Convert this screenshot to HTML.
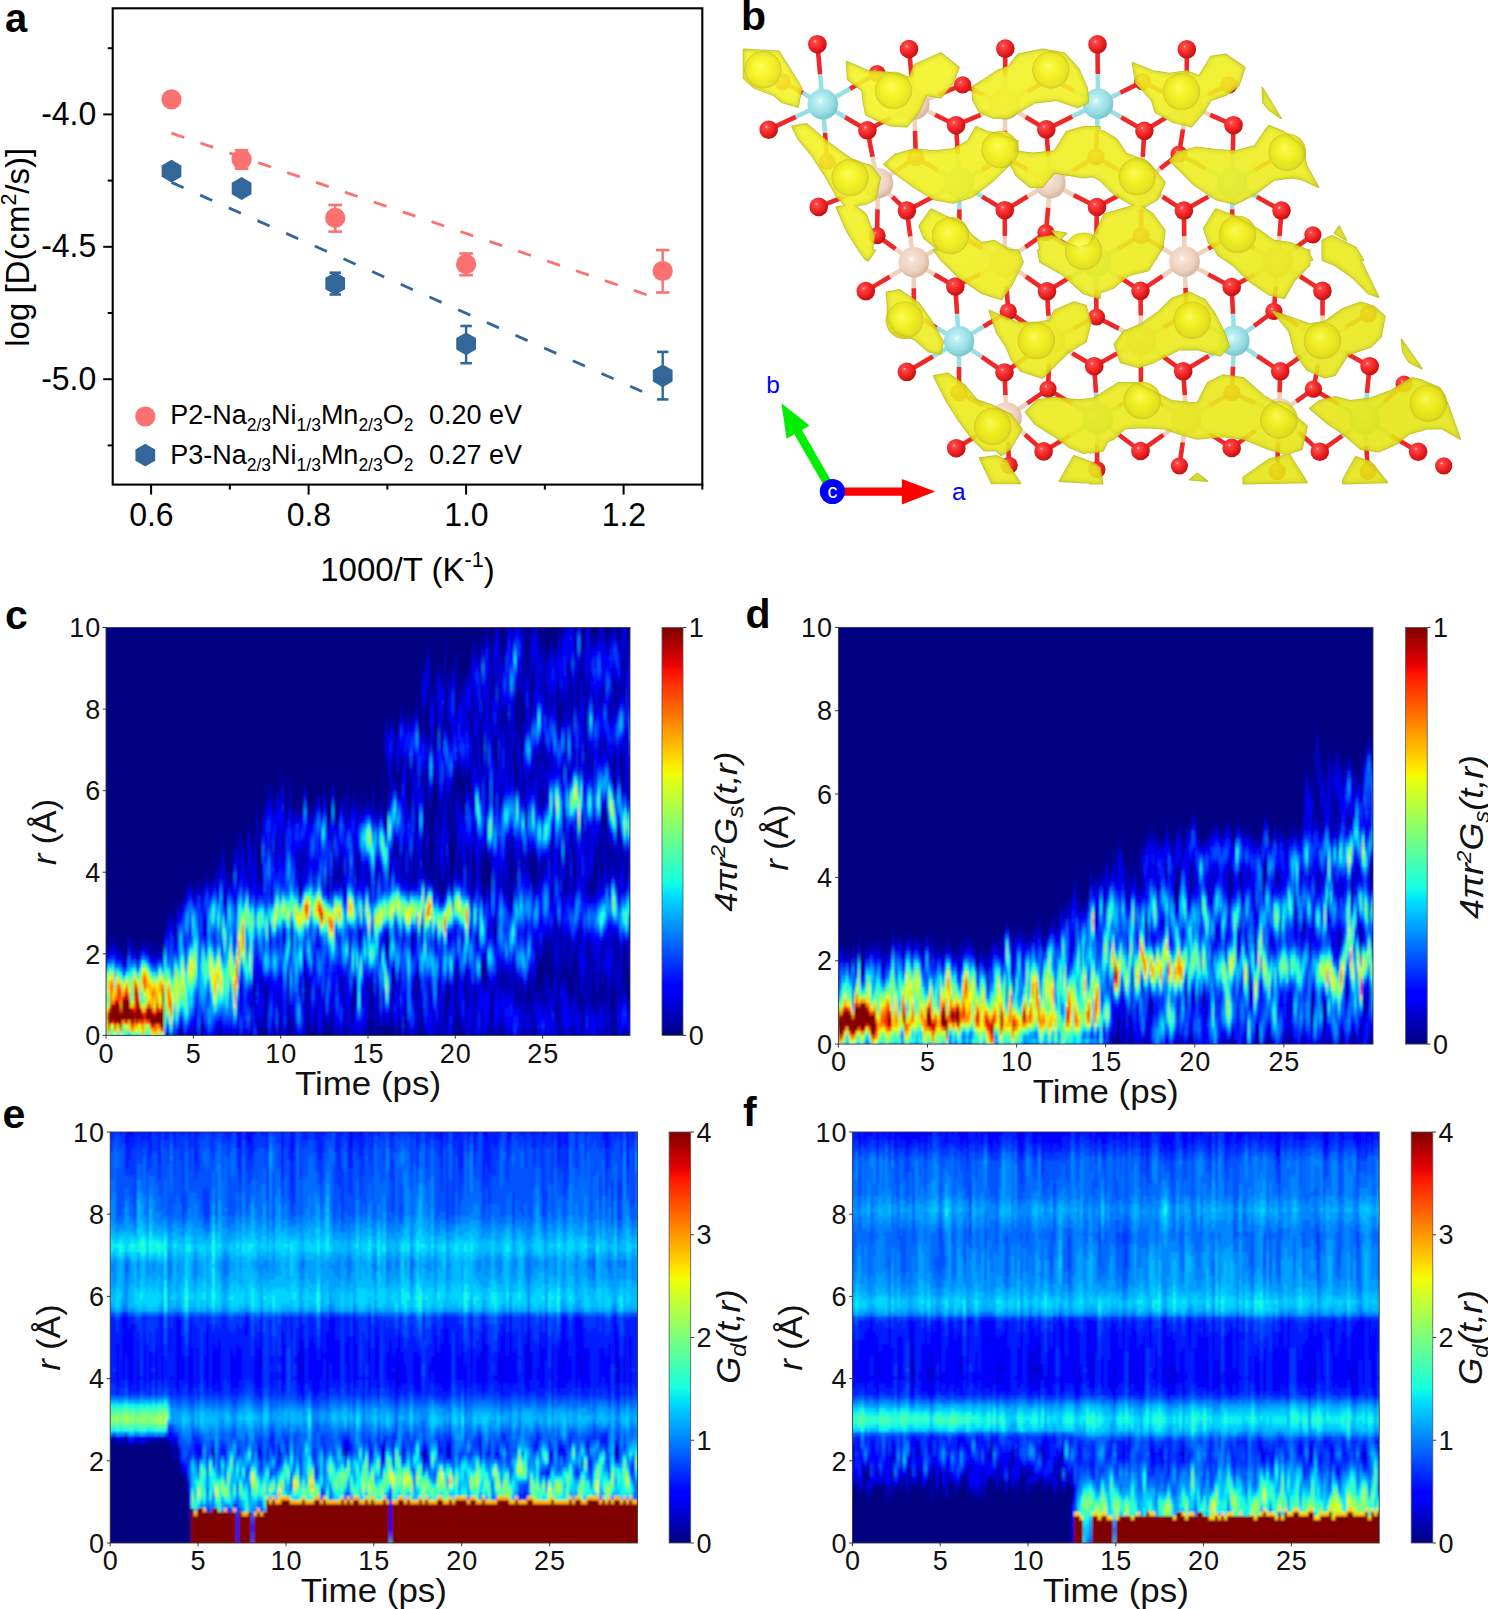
<!DOCTYPE html>
<html><head><meta charset="utf-8"><title>figure</title>
<style>
html,body{margin:0;padding:0;background:#fff;}
body{width:1488px;height:1609px;overflow:hidden;}
svg{display:block;font-family:"Liberation Sans", sans-serif;}
</style></head>
<body>
<svg width="1488" height="1609" viewBox="0 0 1488 1609">
<rect width="1488" height="1609" fill="#fff"/>
<g id="pa"><line x1="171.5" y1="133.2" x2="646.6" y2="294.8" stroke="#fb7170" stroke-width="2.8" stroke-dasharray="13.5 17.02"/><line x1="171.5" y1="182.4" x2="642.1" y2="391.5" stroke="#336699" stroke-width="2.8" stroke-dasharray="13.2 18.17"/><circle cx="171.5" cy="99.4" r="10.1" fill="#fb7170"/><line x1="241.6" y1="150.2" x2="241.6" y2="168.7" stroke="#fb7170" stroke-width="2.4"/><line x1="234.79999999999998" y1="150.2" x2="248.4" y2="150.2" stroke="#fb7170" stroke-width="2.6"/><line x1="234.79999999999998" y1="168.7" x2="248.4" y2="168.7" stroke="#fb7170" stroke-width="2.6"/><circle cx="241.6" cy="159.4" r="10.1" fill="#fb7170"/><line x1="335.2" y1="205.0" x2="335.2" y2="231.6" stroke="#fb7170" stroke-width="2.4"/><line x1="328.4" y1="205.0" x2="342.0" y2="205.0" stroke="#fb7170" stroke-width="2.6"/><line x1="328.4" y1="231.6" x2="342.0" y2="231.6" stroke="#fb7170" stroke-width="2.6"/><circle cx="335.2" cy="217.9" r="10.1" fill="#fb7170"/><line x1="466.1" y1="253.5" x2="466.1" y2="275.2" stroke="#fb7170" stroke-width="2.4"/><line x1="459.3" y1="253.5" x2="472.90000000000003" y2="253.5" stroke="#fb7170" stroke-width="2.6"/><line x1="459.3" y1="275.2" x2="472.90000000000003" y2="275.2" stroke="#fb7170" stroke-width="2.6"/><circle cx="466.1" cy="264.2" r="10.1" fill="#fb7170"/><line x1="662.7" y1="250.1" x2="662.7" y2="292.5" stroke="#fb7170" stroke-width="2.4"/><line x1="655.9000000000001" y1="250.1" x2="669.5" y2="250.1" stroke="#fb7170" stroke-width="2.6"/><line x1="655.9000000000001" y1="292.5" x2="669.5" y2="292.5" stroke="#fb7170" stroke-width="2.6"/><circle cx="662.7" cy="271.0" r="10.1" fill="#fb7170"/><polygon points="171.50,159.70 161.63,165.40 161.63,176.80 171.50,182.50 181.37,176.80 181.37,165.40" fill="#336699"/><polygon points="241.60,177.10 231.73,182.80 231.73,194.20 241.60,199.90 251.47,194.20 251.47,182.80" fill="#336699"/><line x1="335.2" y1="272.7" x2="335.2" y2="294.5" stroke="#336699" stroke-width="2.4"/><line x1="329.45" y1="272.7" x2="340.95" y2="272.7" stroke="#336699" stroke-width="2.6"/><line x1="329.45" y1="294.5" x2="340.95" y2="294.5" stroke="#336699" stroke-width="2.6"/><polygon points="335.20,272.10 325.33,277.80 325.33,289.20 335.20,294.90 345.07,289.20 345.07,277.80" fill="#336699"/><line x1="466.1" y1="326.0" x2="466.1" y2="363.2" stroke="#336699" stroke-width="2.4"/><line x1="460.35" y1="326.0" x2="471.85" y2="326.0" stroke="#336699" stroke-width="2.6"/><line x1="460.35" y1="363.2" x2="471.85" y2="363.2" stroke="#336699" stroke-width="2.6"/><polygon points="466.10,332.40 456.23,338.10 456.23,349.50 466.10,355.20 475.97,349.50 475.97,338.10" fill="#336699"/><line x1="662.7" y1="351.9" x2="662.7" y2="399.4" stroke="#336699" stroke-width="2.4"/><line x1="656.95" y1="351.9" x2="668.45" y2="351.9" stroke="#336699" stroke-width="2.6"/><line x1="656.95" y1="399.4" x2="668.45" y2="399.4" stroke="#336699" stroke-width="2.6"/><polygon points="662.70,364.40 652.83,370.10 652.83,381.50 662.70,387.20 672.57,381.50 672.57,370.10" fill="#336699"/><rect x="112.7" y="8.3" width="589.5999999999999" height="476.3" fill="none" stroke="#000" stroke-width="2.1"/><line x1="107.7" y1="48.20" x2="112.7" y2="48.20" stroke="#000" stroke-width="2"/><line x1="103.2" y1="114.40" x2="112.7" y2="114.40" stroke="#000" stroke-width="2"/><text transform="translate(96.3,125.00) scale(1,1.05)" font-size="32" text-anchor="end">-4.0</text><line x1="107.7" y1="180.60" x2="112.7" y2="180.60" stroke="#000" stroke-width="2"/><line x1="103.2" y1="246.80" x2="112.7" y2="246.80" stroke="#000" stroke-width="2"/><text transform="translate(96.3,257.40) scale(1,1.05)" font-size="32" text-anchor="end">-4.5</text><line x1="107.7" y1="313.00" x2="112.7" y2="313.00" stroke="#000" stroke-width="2"/><line x1="103.2" y1="379.20" x2="112.7" y2="379.20" stroke="#000" stroke-width="2"/><text transform="translate(96.3,389.80) scale(1,1.05)" font-size="32" text-anchor="end">-5.0</text><line x1="107.7" y1="445.40" x2="112.7" y2="445.40" stroke="#000" stroke-width="2"/><line x1="151.10" y1="484.6" x2="151.10" y2="494.6" stroke="#000" stroke-width="2"/><text transform="translate(151.40,525.9) scale(1,1.04)" font-size="32" text-anchor="middle">0.6</text><line x1="229.85" y1="484.6" x2="229.85" y2="489.6" stroke="#000" stroke-width="2"/><line x1="308.60" y1="484.6" x2="308.60" y2="494.6" stroke="#000" stroke-width="2"/><text transform="translate(308.90,525.9) scale(1,1.04)" font-size="32" text-anchor="middle">0.8</text><line x1="387.35" y1="484.6" x2="387.35" y2="489.6" stroke="#000" stroke-width="2"/><line x1="466.10" y1="484.6" x2="466.10" y2="494.6" stroke="#000" stroke-width="2"/><text transform="translate(466.40,525.9) scale(1,1.04)" font-size="32" text-anchor="middle">1.0</text><line x1="544.85" y1="484.6" x2="544.85" y2="489.6" stroke="#000" stroke-width="2"/><line x1="623.60" y1="484.6" x2="623.60" y2="494.6" stroke="#000" stroke-width="2"/><text transform="translate(623.90,525.9) scale(1,1.04)" font-size="32" text-anchor="middle">1.2</text><line x1="702.35" y1="484.6" x2="702.35" y2="489.6" stroke="#000" stroke-width="2"/><text x="320.2" y="581" font-size="33">1000/T (K<tspan dy="-13.6" font-size="21.5">-1</tspan><tspan dy="13.6">)</tspan></text><text transform="translate(29.3,346.8) rotate(-90)" font-size="33">log [D(cm<tspan dy="-13.6" font-size="21.5">2</tspan><tspan dy="13.6">/s)]</tspan></text><circle cx="145.3" cy="416.5" r="10.1" fill="#fb7170"/><polygon points="145.30,443.70 135.43,449.40 135.43,460.80 145.30,466.50 155.17,460.80 155.17,449.40" fill="#336699"/><text x="170.2" y="424.4" font-size="27">P2-Na<tspan font-size="17.5" dy="7">2/3</tspan><tspan dy="-7">Ni</tspan><tspan font-size="17.5" dy="7">1/3</tspan><tspan dy="-7">Mn</tspan><tspan font-size="17.5" dy="7">2/3</tspan><tspan dy="-7">O</tspan><tspan font-size="17.5" dy="7">2</tspan></text><text x="429" y="424.4" font-size="27">0.20 eV</text><text x="170.2" y="464.0" font-size="27">P3-Na<tspan font-size="17.5" dy="7">2/3</tspan><tspan dy="-7">Ni</tspan><tspan font-size="17.5" dy="7">1/3</tspan><tspan dy="-7">Mn</tspan><tspan font-size="17.5" dy="7">2/3</tspan><tspan dy="-7">O</tspan><tspan font-size="17.5" dy="7">2</tspan></text><text x="429" y="464.0" font-size="27">0.27 eV</text><text x="5" y="31.5" font-size="40" font-weight="bold">a</text></g><defs><radialGradient id="gO" cx="0.38" cy="0.35" r="0.7"><stop offset="0" stop-color="#ffd0d0"/><stop offset="0.12" stop-color="#ff4a4a"/><stop offset="0.6" stop-color="#ee2020"/><stop offset="1" stop-color="#b81010"/></radialGradient><radialGradient id="gNi" cx="0.42" cy="0.4" r="0.7"><stop offset="0" stop-color="#ffffff"/><stop offset="0.15" stop-color="#bdf2f5"/><stop offset="0.6" stop-color="#96dde3"/><stop offset="1" stop-color="#6cb8c0"/></radialGradient><radialGradient id="gMn" cx="0.42" cy="0.4" r="0.7"><stop offset="0" stop-color="#ffffff"/><stop offset="0.15" stop-color="#f6e2d4"/><stop offset="0.6" stop-color="#ecd0bd"/><stop offset="1" stop-color="#c8a892"/></radialGradient><radialGradient id="gNa" cx="0.45" cy="0.4" r="0.65"><stop offset="0" stop-color="#ffff60"/><stop offset="0.55" stop-color="#f4ee30"/><stop offset="1" stop-color="#d8cc40"/></radialGradient><radialGradient id="gNa2" cx="0.5" cy="0.5" r="0.5" fx="0.42" fy="0.38"><stop offset="0" stop-color="#ffff80" stop-opacity="0.7"/><stop offset="0.45" stop-color="#fafa30" stop-opacity="0.35"/><stop offset="0.85" stop-color="#d6d020" stop-opacity="0.35"/><stop offset="0.97" stop-color="#c0b430" stop-opacity="0.55"/><stop offset="1" stop-color="#c0b430" stop-opacity="0"/></radialGradient><linearGradient id="gY" x1="0" y1="0" x2="1" y2="1"><stop offset="0" stop-color="#f6f62a"/><stop offset="1" stop-color="#e4e416"/></linearGradient><clipPath id="clipB"><rect x="736" y="30" width="752" height="462"/></clipPath></defs><g clip-path="url(#clipB)"><g stroke-width="4.6"><line x1="822.8" y1="104.2" x2="820.1" y2="74.2" stroke="#9adfe4"/><line x1="820.1" y1="74.2" x2="817.4" y2="44.2" stroke="#ee2828"/><line x1="822.8" y1="104.2" x2="845.1" y2="117.2" stroke="#9adfe4"/><line x1="845.1" y1="117.2" x2="867.4" y2="130.3" stroke="#ee2828"/><line x1="822.8" y1="104.2" x2="795.8" y2="116.9" stroke="#9adfe4"/><line x1="795.8" y1="116.9" x2="768.7" y2="129.7" stroke="#ee2828"/><line x1="822.8" y1="104.2" x2="850.0" y2="88.8" stroke="#9adfe4"/><line x1="850.0" y1="88.8" x2="877.1" y2="73.5" stroke="#ee2828"/><line x1="822.8" y1="104.2" x2="802.8" y2="92.9" stroke="#9adfe4"/><line x1="802.8" y1="92.9" x2="782.7" y2="81.6" stroke="#ee2828"/><line x1="822.8" y1="104.2" x2="825.0" y2="132.8" stroke="#9adfe4"/><line x1="825.0" y1="132.8" x2="827.1" y2="161.5" stroke="#ee2828"/><line x1="877.9" y1="183.2" x2="872.6" y2="156.8" stroke="#f0d2bc"/><line x1="872.6" y1="156.8" x2="867.4" y2="130.3" stroke="#ee2828"/><line x1="877.9" y1="183.2" x2="892.4" y2="196.9" stroke="#f0d2bc"/><line x1="892.4" y1="196.9" x2="906.9" y2="210.6" stroke="#ee2828"/><line x1="877.9" y1="183.2" x2="848.3" y2="195.1" stroke="#f0d2bc"/><line x1="848.3" y1="195.1" x2="818.7" y2="206.9" stroke="#ee2828"/><line x1="877.9" y1="183.2" x2="896.8" y2="170.3" stroke="#f0d2bc"/><line x1="896.8" y1="170.3" x2="915.8" y2="157.4" stroke="#ee2828"/><line x1="877.9" y1="183.2" x2="852.5" y2="172.3" stroke="#f0d2bc"/><line x1="852.5" y1="172.3" x2="827.1" y2="161.5" stroke="#ee2828"/><line x1="877.9" y1="183.2" x2="877.5" y2="209.4" stroke="#f0d2bc"/><line x1="877.5" y1="209.4" x2="877.1" y2="235.6" stroke="#ee2828"/><line x1="913.8" y1="262.3" x2="910.3" y2="236.4" stroke="#f0d2bc"/><line x1="910.3" y1="236.4" x2="906.9" y2="210.6" stroke="#ee2828"/><line x1="913.8" y1="262.3" x2="934.5" y2="274.4" stroke="#f0d2bc"/><line x1="934.5" y1="274.4" x2="955.3" y2="286.5" stroke="#ee2828"/><line x1="913.8" y1="262.3" x2="889.8" y2="276.7" stroke="#f0d2bc"/><line x1="889.8" y1="276.7" x2="865.8" y2="291.1" stroke="#ee2828"/><line x1="913.8" y1="262.3" x2="936.6" y2="248.9" stroke="#f0d2bc"/><line x1="936.6" y1="248.9" x2="959.4" y2="235.5" stroke="#ee2828"/><line x1="913.8" y1="262.3" x2="895.5" y2="248.9" stroke="#f0d2bc"/><line x1="895.5" y1="248.9" x2="877.1" y2="235.6" stroke="#ee2828"/><line x1="913.8" y1="262.3" x2="913.8" y2="288.2" stroke="#f0d2bc"/><line x1="913.8" y1="288.2" x2="913.8" y2="314.1" stroke="#ee2828"/><line x1="959.0" y1="341.3" x2="957.1" y2="313.9" stroke="#9adfe4"/><line x1="957.1" y1="313.9" x2="955.3" y2="286.5" stroke="#ee2828"/><line x1="959.0" y1="341.3" x2="981.8" y2="356.9" stroke="#9adfe4"/><line x1="981.8" y1="356.9" x2="1004.5" y2="372.5" stroke="#ee2828"/><line x1="959.0" y1="341.3" x2="932.9" y2="356.6" stroke="#9adfe4"/><line x1="932.9" y1="356.6" x2="906.8" y2="371.8" stroke="#ee2828"/><line x1="959.0" y1="341.3" x2="983.6" y2="326.5" stroke="#9adfe4"/><line x1="983.6" y1="326.5" x2="1008.3" y2="311.6" stroke="#ee2828"/><line x1="959.0" y1="341.3" x2="936.4" y2="327.7" stroke="#9adfe4"/><line x1="936.4" y1="327.7" x2="913.8" y2="314.1" stroke="#ee2828"/><line x1="959.0" y1="341.3" x2="959.0" y2="367.0" stroke="#9adfe4"/><line x1="959.0" y1="367.0" x2="959.1" y2="392.7" stroke="#ee2828"/><line x1="1006.5" y1="417.6" x2="1005.5" y2="395.1" stroke="#f0d2bc"/><line x1="1005.5" y1="395.1" x2="1004.5" y2="372.5" stroke="#ee2828"/><line x1="1006.5" y1="417.6" x2="1025.0" y2="434.5" stroke="#f0d2bc"/><line x1="1025.0" y1="434.5" x2="1043.6" y2="451.4" stroke="#ee2828"/><line x1="1006.5" y1="417.6" x2="981.4" y2="432.9" stroke="#f0d2bc"/><line x1="981.4" y1="432.9" x2="956.3" y2="448.2" stroke="#ee2828"/><line x1="1006.5" y1="417.6" x2="1027.2" y2="403.4" stroke="#f0d2bc"/><line x1="1027.2" y1="403.4" x2="1048.0" y2="389.1" stroke="#ee2828"/><line x1="1006.5" y1="417.6" x2="982.8" y2="405.1" stroke="#f0d2bc"/><line x1="982.8" y1="405.1" x2="959.1" y2="392.7" stroke="#ee2828"/><line x1="1006.5" y1="417.6" x2="1007.9" y2="441.5" stroke="#f0d2bc"/><line x1="1007.9" y1="441.5" x2="1009.2" y2="465.3" stroke="#ee2828"/><line x1="914.2" y1="104.5" x2="911.6" y2="76.8" stroke="#f0d2bc"/><line x1="911.6" y1="76.8" x2="909.0" y2="49.0" stroke="#ee2828"/><line x1="914.2" y1="104.5" x2="935.1" y2="114.8" stroke="#f0d2bc"/><line x1="935.1" y1="114.8" x2="956.1" y2="125.2" stroke="#ee2828"/><line x1="914.2" y1="104.5" x2="890.8" y2="117.4" stroke="#f0d2bc"/><line x1="890.8" y1="117.4" x2="867.4" y2="130.3" stroke="#ee2828"/><line x1="914.2" y1="104.5" x2="938.4" y2="94.7" stroke="#f0d2bc"/><line x1="938.4" y1="94.7" x2="962.6" y2="84.8" stroke="#ee2828"/><line x1="914.2" y1="104.5" x2="895.6" y2="89.0" stroke="#f0d2bc"/><line x1="895.6" y1="89.0" x2="877.1" y2="73.5" stroke="#ee2828"/><line x1="914.2" y1="104.5" x2="915.0" y2="130.9" stroke="#f0d2bc"/><line x1="915.0" y1="130.9" x2="915.8" y2="157.4" stroke="#ee2828"/><line x1="959.5" y1="183.1" x2="957.8" y2="154.2" stroke="#9adfe4"/><line x1="957.8" y1="154.2" x2="956.1" y2="125.2" stroke="#ee2828"/><line x1="959.5" y1="183.1" x2="982.1" y2="196.6" stroke="#9adfe4"/><line x1="982.1" y1="196.6" x2="1004.8" y2="210.2" stroke="#ee2828"/><line x1="959.5" y1="183.1" x2="933.2" y2="196.8" stroke="#9adfe4"/><line x1="933.2" y1="196.8" x2="906.9" y2="210.6" stroke="#ee2828"/><line x1="959.5" y1="183.1" x2="982.2" y2="170.0" stroke="#9adfe4"/><line x1="982.2" y1="170.0" x2="1005.0" y2="156.9" stroke="#ee2828"/><line x1="959.5" y1="183.1" x2="937.6" y2="170.2" stroke="#9adfe4"/><line x1="937.6" y1="170.2" x2="915.8" y2="157.4" stroke="#ee2828"/><line x1="959.5" y1="183.1" x2="959.4" y2="209.3" stroke="#9adfe4"/><line x1="959.4" y1="209.3" x2="959.4" y2="235.5" stroke="#ee2828"/><line x1="1004.8" y1="261.7" x2="1004.8" y2="235.9" stroke="#f0d2bc"/><line x1="1004.8" y1="235.9" x2="1004.8" y2="210.2" stroke="#ee2828"/><line x1="1004.8" y1="261.7" x2="1025.9" y2="276.5" stroke="#f0d2bc"/><line x1="1025.9" y1="276.5" x2="1047.0" y2="291.3" stroke="#ee2828"/><line x1="1004.8" y1="261.7" x2="980.0" y2="274.1" stroke="#f0d2bc"/><line x1="980.0" y1="274.1" x2="955.3" y2="286.5" stroke="#ee2828"/><line x1="1004.8" y1="261.7" x2="1025.3" y2="247.1" stroke="#f0d2bc"/><line x1="1025.3" y1="247.1" x2="1045.9" y2="232.6" stroke="#ee2828"/><line x1="1004.8" y1="261.7" x2="982.1" y2="248.6" stroke="#f0d2bc"/><line x1="982.1" y1="248.6" x2="959.4" y2="235.5" stroke="#ee2828"/><line x1="1004.8" y1="261.7" x2="1006.5" y2="286.6" stroke="#f0d2bc"/><line x1="1006.5" y1="286.6" x2="1008.3" y2="311.6" stroke="#ee2828"/><line x1="1050.1" y1="340.3" x2="1048.5" y2="315.8" stroke="#f0d2bc"/><line x1="1048.5" y1="315.8" x2="1047.0" y2="291.3" stroke="#ee2828"/><line x1="1050.1" y1="340.3" x2="1072.2" y2="353.2" stroke="#f0d2bc"/><line x1="1072.2" y1="353.2" x2="1094.2" y2="366.2" stroke="#ee2828"/><line x1="1050.1" y1="340.3" x2="1027.3" y2="356.4" stroke="#f0d2bc"/><line x1="1027.3" y1="356.4" x2="1004.5" y2="372.5" stroke="#ee2828"/><line x1="1050.1" y1="340.3" x2="1073.3" y2="328.6" stroke="#f0d2bc"/><line x1="1073.3" y1="328.6" x2="1096.5" y2="317.0" stroke="#ee2828"/><line x1="1050.1" y1="340.3" x2="1029.2" y2="325.9" stroke="#f0d2bc"/><line x1="1029.2" y1="325.9" x2="1008.3" y2="311.6" stroke="#ee2828"/><line x1="1050.1" y1="340.3" x2="1049.0" y2="364.7" stroke="#f0d2bc"/><line x1="1049.0" y1="364.7" x2="1048.0" y2="389.1" stroke="#ee2828"/><line x1="1097.7" y1="419.0" x2="1096.0" y2="392.6" stroke="#9adfe4"/><line x1="1096.0" y1="392.6" x2="1094.2" y2="366.2" stroke="#ee2828"/><line x1="1097.7" y1="419.0" x2="1119.1" y2="435.0" stroke="#9adfe4"/><line x1="1119.1" y1="435.0" x2="1140.5" y2="451.0" stroke="#ee2828"/><line x1="1097.7" y1="419.0" x2="1070.7" y2="435.2" stroke="#9adfe4"/><line x1="1070.7" y1="435.2" x2="1043.6" y2="451.4" stroke="#ee2828"/><line x1="1097.7" y1="419.0" x2="1119.3" y2="405.9" stroke="#9adfe4"/><line x1="1119.3" y1="405.9" x2="1140.9" y2="392.7" stroke="#ee2828"/><line x1="1097.7" y1="419.0" x2="1072.8" y2="404.1" stroke="#9adfe4"/><line x1="1072.8" y1="404.1" x2="1048.0" y2="389.1" stroke="#ee2828"/><line x1="1097.7" y1="419.0" x2="1097.3" y2="444.3" stroke="#9adfe4"/><line x1="1097.3" y1="444.3" x2="1096.9" y2="469.6" stroke="#ee2828"/><line x1="1005.1" y1="104.5" x2="1005.2" y2="76.5" stroke="#f0d2bc"/><line x1="1005.2" y1="76.5" x2="1005.3" y2="48.6" stroke="#ee2828"/><line x1="1005.1" y1="104.5" x2="1025.7" y2="117.0" stroke="#f0d2bc"/><line x1="1025.7" y1="117.0" x2="1046.3" y2="129.4" stroke="#ee2828"/><line x1="1005.1" y1="104.5" x2="980.6" y2="114.8" stroke="#f0d2bc"/><line x1="980.6" y1="114.8" x2="956.1" y2="125.2" stroke="#ee2828"/><line x1="1005.1" y1="104.5" x2="1027.8" y2="91.4" stroke="#f0d2bc"/><line x1="1027.8" y1="91.4" x2="1050.6" y2="78.3" stroke="#ee2828"/><line x1="1005.1" y1="104.5" x2="983.8" y2="94.7" stroke="#f0d2bc"/><line x1="983.8" y1="94.7" x2="962.6" y2="84.8" stroke="#ee2828"/><line x1="1005.1" y1="104.5" x2="1005.0" y2="130.7" stroke="#f0d2bc"/><line x1="1005.0" y1="130.7" x2="1005.0" y2="156.9" stroke="#ee2828"/><line x1="1050.4" y1="183.1" x2="1048.3" y2="156.2" stroke="#f0d2bc"/><line x1="1048.3" y1="156.2" x2="1046.3" y2="129.4" stroke="#ee2828"/><line x1="1050.4" y1="183.1" x2="1073.7" y2="195.1" stroke="#f0d2bc"/><line x1="1073.7" y1="195.1" x2="1097.0" y2="207.0" stroke="#ee2828"/><line x1="1050.4" y1="183.1" x2="1027.6" y2="196.6" stroke="#f0d2bc"/><line x1="1027.6" y1="196.6" x2="1004.8" y2="210.2" stroke="#ee2828"/><line x1="1050.4" y1="183.1" x2="1073.2" y2="170.0" stroke="#f0d2bc"/><line x1="1073.2" y1="170.0" x2="1095.9" y2="156.9" stroke="#ee2828"/><line x1="1050.4" y1="183.1" x2="1027.7" y2="170.0" stroke="#f0d2bc"/><line x1="1027.7" y1="170.0" x2="1005.0" y2="156.9" stroke="#ee2828"/><line x1="1050.4" y1="183.1" x2="1048.2" y2="207.8" stroke="#f0d2bc"/><line x1="1048.2" y1="207.8" x2="1045.9" y2="232.6" stroke="#ee2828"/><line x1="1095.7" y1="261.7" x2="1096.3" y2="234.3" stroke="#9adfe4"/><line x1="1096.3" y1="234.3" x2="1097.0" y2="207.0" stroke="#ee2828"/><line x1="1095.7" y1="261.7" x2="1118.1" y2="276.2" stroke="#9adfe4"/><line x1="1118.1" y1="276.2" x2="1140.5" y2="290.8" stroke="#ee2828"/><line x1="1095.7" y1="261.7" x2="1071.3" y2="276.5" stroke="#9adfe4"/><line x1="1071.3" y1="276.5" x2="1047.0" y2="291.3" stroke="#ee2828"/><line x1="1095.7" y1="261.7" x2="1118.4" y2="248.6" stroke="#9adfe4"/><line x1="1118.4" y1="248.6" x2="1141.2" y2="235.5" stroke="#ee2828"/><line x1="1095.7" y1="261.7" x2="1070.8" y2="247.1" stroke="#9adfe4"/><line x1="1070.8" y1="247.1" x2="1045.9" y2="232.6" stroke="#ee2828"/><line x1="1095.7" y1="261.7" x2="1096.1" y2="289.4" stroke="#9adfe4"/><line x1="1096.1" y1="289.4" x2="1096.5" y2="317.0" stroke="#ee2828"/><line x1="1141.0" y1="340.3" x2="1140.8" y2="315.5" stroke="#f0d2bc"/><line x1="1140.8" y1="315.5" x2="1140.5" y2="290.8" stroke="#ee2828"/><line x1="1141.0" y1="340.3" x2="1162.1" y2="355.8" stroke="#f0d2bc"/><line x1="1162.1" y1="355.8" x2="1183.2" y2="371.3" stroke="#ee2828"/><line x1="1141.0" y1="340.3" x2="1117.6" y2="353.2" stroke="#f0d2bc"/><line x1="1117.6" y1="353.2" x2="1094.2" y2="366.2" stroke="#ee2828"/><line x1="1141.0" y1="340.3" x2="1163.8" y2="327.2" stroke="#f0d2bc"/><line x1="1163.8" y1="327.2" x2="1186.5" y2="314.1" stroke="#ee2828"/><line x1="1141.0" y1="340.3" x2="1118.8" y2="328.6" stroke="#f0d2bc"/><line x1="1118.8" y1="328.6" x2="1096.5" y2="317.0" stroke="#ee2828"/><line x1="1141.0" y1="340.3" x2="1140.9" y2="366.5" stroke="#f0d2bc"/><line x1="1140.9" y1="366.5" x2="1140.9" y2="392.7" stroke="#ee2828"/><line x1="1186.3" y1="418.9" x2="1184.8" y2="395.1" stroke="#f0d2bc"/><line x1="1184.8" y1="395.1" x2="1183.2" y2="371.3" stroke="#ee2828"/><line x1="1186.3" y1="418.9" x2="1209.0" y2="433.4" stroke="#f0d2bc"/><line x1="1209.0" y1="433.4" x2="1231.7" y2="447.9" stroke="#ee2828"/><line x1="1186.3" y1="418.9" x2="1163.4" y2="434.9" stroke="#f0d2bc"/><line x1="1163.4" y1="434.9" x2="1140.5" y2="451.0" stroke="#ee2828"/><line x1="1186.3" y1="418.9" x2="1209.0" y2="405.8" stroke="#f0d2bc"/><line x1="1209.0" y1="405.8" x2="1231.8" y2="392.7" stroke="#ee2828"/><line x1="1186.3" y1="418.9" x2="1163.6" y2="405.8" stroke="#f0d2bc"/><line x1="1163.6" y1="405.8" x2="1140.9" y2="392.7" stroke="#ee2828"/><line x1="1186.3" y1="418.9" x2="1182.8" y2="442.4" stroke="#f0d2bc"/><line x1="1182.8" y1="442.4" x2="1179.4" y2="465.8" stroke="#ee2828"/><line x1="1098.0" y1="103.8" x2="1097.8" y2="74.1" stroke="#9adfe4"/><line x1="1097.8" y1="74.1" x2="1097.5" y2="44.4" stroke="#ee2828"/><line x1="1098.0" y1="103.8" x2="1121.2" y2="117.3" stroke="#9adfe4"/><line x1="1121.2" y1="117.3" x2="1144.4" y2="130.8" stroke="#ee2828"/><line x1="1098.0" y1="103.8" x2="1072.2" y2="116.6" stroke="#9adfe4"/><line x1="1072.2" y1="116.6" x2="1046.3" y2="129.4" stroke="#ee2828"/><line x1="1098.0" y1="103.8" x2="1120.3" y2="92.7" stroke="#9adfe4"/><line x1="1120.3" y1="92.7" x2="1142.7" y2="81.6" stroke="#ee2828"/><line x1="1098.0" y1="103.8" x2="1074.3" y2="91.0" stroke="#9adfe4"/><line x1="1074.3" y1="91.0" x2="1050.6" y2="78.3" stroke="#ee2828"/><line x1="1098.0" y1="103.8" x2="1097.0" y2="130.3" stroke="#9adfe4"/><line x1="1097.0" y1="130.3" x2="1095.9" y2="156.9" stroke="#ee2828"/><line x1="1141.3" y1="183.1" x2="1142.8" y2="156.9" stroke="#f0d2bc"/><line x1="1142.8" y1="156.9" x2="1144.4" y2="130.8" stroke="#ee2828"/><line x1="1141.3" y1="183.1" x2="1162.6" y2="196.8" stroke="#f0d2bc"/><line x1="1162.6" y1="196.8" x2="1183.9" y2="210.6" stroke="#ee2828"/><line x1="1141.3" y1="183.1" x2="1119.2" y2="195.1" stroke="#f0d2bc"/><line x1="1119.2" y1="195.1" x2="1097.0" y2="207.0" stroke="#ee2828"/><line x1="1141.3" y1="183.1" x2="1160.2" y2="168.6" stroke="#f0d2bc"/><line x1="1160.2" y1="168.6" x2="1179.0" y2="154.2" stroke="#ee2828"/><line x1="1141.3" y1="183.1" x2="1118.6" y2="170.0" stroke="#f0d2bc"/><line x1="1118.6" y1="170.0" x2="1095.9" y2="156.9" stroke="#ee2828"/><line x1="1141.3" y1="183.1" x2="1141.2" y2="209.3" stroke="#f0d2bc"/><line x1="1141.2" y1="209.3" x2="1141.2" y2="235.5" stroke="#ee2828"/><line x1="1184.5" y1="261.5" x2="1184.2" y2="236.1" stroke="#f0d2bc"/><line x1="1184.2" y1="236.1" x2="1183.9" y2="210.6" stroke="#ee2828"/><line x1="1184.5" y1="261.5" x2="1208.1" y2="274.2" stroke="#f0d2bc"/><line x1="1208.1" y1="274.2" x2="1231.7" y2="287.0" stroke="#ee2828"/><line x1="1184.5" y1="261.5" x2="1162.5" y2="276.1" stroke="#f0d2bc"/><line x1="1162.5" y1="276.1" x2="1140.5" y2="290.8" stroke="#ee2828"/><line x1="1184.5" y1="261.5" x2="1208.3" y2="248.5" stroke="#f0d2bc"/><line x1="1208.3" y1="248.5" x2="1232.1" y2="235.5" stroke="#ee2828"/><line x1="1184.5" y1="261.5" x2="1162.8" y2="248.5" stroke="#f0d2bc"/><line x1="1162.8" y1="248.5" x2="1141.2" y2="235.5" stroke="#ee2828"/><line x1="1184.5" y1="261.5" x2="1185.5" y2="287.8" stroke="#f0d2bc"/><line x1="1185.5" y1="287.8" x2="1186.5" y2="314.1" stroke="#ee2828"/><line x1="1234.3" y1="340.7" x2="1233.0" y2="313.9" stroke="#9adfe4"/><line x1="1233.0" y1="313.9" x2="1231.7" y2="287.0" stroke="#ee2828"/><line x1="1234.3" y1="340.7" x2="1257.2" y2="356.0" stroke="#9adfe4"/><line x1="1257.2" y1="356.0" x2="1280.2" y2="371.3" stroke="#ee2828"/><line x1="1234.3" y1="340.7" x2="1208.8" y2="356.0" stroke="#9adfe4"/><line x1="1208.8" y1="356.0" x2="1183.2" y2="371.3" stroke="#ee2828"/><line x1="1234.3" y1="340.7" x2="1254.1" y2="326.0" stroke="#9adfe4"/><line x1="1254.1" y1="326.0" x2="1273.9" y2="311.3" stroke="#ee2828"/><line x1="1234.3" y1="340.7" x2="1210.4" y2="327.4" stroke="#9adfe4"/><line x1="1210.4" y1="327.4" x2="1186.5" y2="314.1" stroke="#ee2828"/><line x1="1234.3" y1="340.7" x2="1233.0" y2="366.7" stroke="#9adfe4"/><line x1="1233.0" y1="366.7" x2="1231.8" y2="392.7" stroke="#ee2828"/><line x1="1279.0" y1="413.4" x2="1279.6" y2="392.4" stroke="#f0d2bc"/><line x1="1279.6" y1="392.4" x2="1280.2" y2="371.3" stroke="#ee2828"/><line x1="1279.0" y1="413.4" x2="1299.4" y2="432.5" stroke="#f0d2bc"/><line x1="1299.4" y1="432.5" x2="1319.8" y2="451.7" stroke="#ee2828"/><line x1="1279.0" y1="413.4" x2="1255.3" y2="430.6" stroke="#f0d2bc"/><line x1="1255.3" y1="430.6" x2="1231.7" y2="447.9" stroke="#ee2828"/><line x1="1279.0" y1="413.4" x2="1296.2" y2="401.3" stroke="#f0d2bc"/><line x1="1296.2" y1="401.3" x2="1313.4" y2="389.2" stroke="#ee2828"/><line x1="1279.0" y1="413.4" x2="1255.4" y2="403.0" stroke="#f0d2bc"/><line x1="1255.4" y1="403.0" x2="1231.8" y2="392.7" stroke="#ee2828"/><line x1="1279.0" y1="413.4" x2="1278.1" y2="442.4" stroke="#f0d2bc"/><line x1="1278.1" y1="442.4" x2="1277.1" y2="471.3" stroke="#ee2828"/><line x1="1186.9" y1="104.5" x2="1186.8" y2="77.0" stroke="#f0d2bc"/><line x1="1186.8" y1="77.0" x2="1186.8" y2="49.4" stroke="#ee2828"/><line x1="1186.9" y1="104.5" x2="1210.2" y2="114.8" stroke="#f0d2bc"/><line x1="1210.2" y1="114.8" x2="1233.5" y2="125.2" stroke="#ee2828"/><line x1="1186.9" y1="104.5" x2="1165.7" y2="117.7" stroke="#f0d2bc"/><line x1="1165.7" y1="117.7" x2="1144.4" y2="130.8" stroke="#ee2828"/><line x1="1186.9" y1="104.5" x2="1208.0" y2="94.7" stroke="#f0d2bc"/><line x1="1208.0" y1="94.7" x2="1229.0" y2="84.8" stroke="#ee2828"/><line x1="1186.9" y1="104.5" x2="1164.8" y2="93.0" stroke="#f0d2bc"/><line x1="1164.8" y1="93.0" x2="1142.7" y2="81.6" stroke="#ee2828"/><line x1="1186.9" y1="104.5" x2="1183.0" y2="129.3" stroke="#f0d2bc"/><line x1="1183.0" y1="129.3" x2="1179.0" y2="154.2" stroke="#ee2828"/><line x1="1232.2" y1="183.1" x2="1232.8" y2="154.2" stroke="#9adfe4"/><line x1="1232.8" y1="154.2" x2="1233.5" y2="125.2" stroke="#ee2828"/><line x1="1232.2" y1="183.1" x2="1256.8" y2="196.8" stroke="#9adfe4"/><line x1="1256.8" y1="196.8" x2="1281.5" y2="210.6" stroke="#ee2828"/><line x1="1232.2" y1="183.1" x2="1208.1" y2="196.8" stroke="#9adfe4"/><line x1="1208.1" y1="196.8" x2="1183.9" y2="210.6" stroke="#ee2828"/><line x1="1232.2" y1="183.1" x2="1255.0" y2="170.0" stroke="#9adfe4"/><line x1="1255.0" y1="170.0" x2="1277.7" y2="156.9" stroke="#ee2828"/><line x1="1232.2" y1="183.1" x2="1205.6" y2="168.6" stroke="#9adfe4"/><line x1="1205.6" y1="168.6" x2="1179.0" y2="154.2" stroke="#ee2828"/><line x1="1232.2" y1="183.1" x2="1232.2" y2="209.3" stroke="#9adfe4"/><line x1="1232.2" y1="209.3" x2="1232.1" y2="235.5" stroke="#ee2828"/><line x1="1277.5" y1="261.7" x2="1279.5" y2="236.1" stroke="#f0d2bc"/><line x1="1279.5" y1="236.1" x2="1281.5" y2="210.6" stroke="#ee2828"/><line x1="1277.5" y1="261.7" x2="1300.0" y2="276.3" stroke="#f0d2bc"/><line x1="1300.0" y1="276.3" x2="1322.4" y2="290.9" stroke="#ee2828"/><line x1="1277.5" y1="261.7" x2="1254.6" y2="274.4" stroke="#f0d2bc"/><line x1="1254.6" y1="274.4" x2="1231.7" y2="287.0" stroke="#ee2828"/><line x1="1277.5" y1="261.7" x2="1295.2" y2="248.2" stroke="#f0d2bc"/><line x1="1295.2" y1="248.2" x2="1312.9" y2="234.8" stroke="#ee2828"/><line x1="1277.5" y1="261.7" x2="1254.8" y2="248.6" stroke="#f0d2bc"/><line x1="1254.8" y1="248.6" x2="1232.1" y2="235.5" stroke="#ee2828"/><line x1="1277.5" y1="261.7" x2="1275.7" y2="286.5" stroke="#f0d2bc"/><line x1="1275.7" y1="286.5" x2="1273.9" y2="311.3" stroke="#ee2828"/><line x1="1322.8" y1="340.3" x2="1322.6" y2="315.6" stroke="#f0d2bc"/><line x1="1322.6" y1="315.6" x2="1322.4" y2="290.9" stroke="#ee2828"/><line x1="1322.8" y1="340.3" x2="1346.2" y2="353.2" stroke="#f0d2bc"/><line x1="1346.2" y1="353.2" x2="1369.6" y2="366.2" stroke="#ee2828"/><line x1="1322.8" y1="340.3" x2="1301.5" y2="355.8" stroke="#f0d2bc"/><line x1="1301.5" y1="355.8" x2="1280.2" y2="371.3" stroke="#ee2828"/><line x1="1322.8" y1="340.3" x2="1345.6" y2="327.2" stroke="#f0d2bc"/><line x1="1345.6" y1="327.2" x2="1368.3" y2="314.1" stroke="#ee2828"/><line x1="1322.8" y1="340.3" x2="1298.4" y2="325.8" stroke="#f0d2bc"/><line x1="1298.4" y1="325.8" x2="1273.9" y2="311.3" stroke="#ee2828"/><line x1="1322.8" y1="340.3" x2="1318.1" y2="364.8" stroke="#f0d2bc"/><line x1="1318.1" y1="364.8" x2="1313.4" y2="389.2" stroke="#ee2828"/><line x1="1364.5" y1="419.8" x2="1367.0" y2="393.0" stroke="#9adfe4"/><line x1="1367.0" y1="393.0" x2="1369.6" y2="366.2" stroke="#ee2828"/><line x1="1364.5" y1="419.8" x2="1391.3" y2="435.8" stroke="#9adfe4"/><line x1="1391.3" y1="435.8" x2="1418.1" y2="451.7" stroke="#ee2828"/><line x1="1364.5" y1="419.8" x2="1342.2" y2="435.8" stroke="#9adfe4"/><line x1="1342.2" y1="435.8" x2="1319.8" y2="451.7" stroke="#ee2828"/><line x1="1364.5" y1="419.8" x2="1384.3" y2="401.9" stroke="#9adfe4"/><line x1="1384.3" y1="401.9" x2="1404.1" y2="384.0" stroke="#ee2828"/><line x1="1364.5" y1="419.8" x2="1339.0" y2="404.5" stroke="#9adfe4"/><line x1="1339.0" y1="404.5" x2="1313.4" y2="389.2" stroke="#ee2828"/><line x1="1364.5" y1="419.8" x2="1366.2" y2="445.6" stroke="#9adfe4"/><line x1="1366.2" y1="445.6" x2="1368.0" y2="471.3" stroke="#ee2828"/></g><circle cx="768.7" cy="129.7" r="9.3" fill="url(#gO)"/><circle cx="818.7" cy="206.9" r="9.3" fill="url(#gO)"/><circle cx="865.8" cy="291.1" r="9.3" fill="url(#gO)"/><circle cx="906.8" cy="371.8" r="9.3" fill="url(#gO)"/><circle cx="956.3" cy="448.2" r="9.3" fill="url(#gO)"/><circle cx="817.4" cy="44.2" r="9.3" fill="url(#gO)"/><circle cx="867.4" cy="130.3" r="9.3" fill="url(#gO)"/><circle cx="906.9" cy="210.6" r="9.3" fill="url(#gO)"/><circle cx="955.3" cy="286.5" r="9.3" fill="url(#gO)"/><circle cx="1004.5" cy="372.5" r="9.3" fill="url(#gO)"/><circle cx="1043.6" cy="451.4" r="9.3" fill="url(#gO)"/><circle cx="909.0" cy="49.0" r="9.3" fill="url(#gO)"/><circle cx="956.1" cy="125.2" r="9.3" fill="url(#gO)"/><circle cx="1004.8" cy="210.2" r="9.3" fill="url(#gO)"/><circle cx="1047.0" cy="291.3" r="9.3" fill="url(#gO)"/><circle cx="1094.2" cy="366.2" r="9.3" fill="url(#gO)"/><circle cx="1140.5" cy="451.0" r="9.3" fill="url(#gO)"/><circle cx="1005.3" cy="48.6" r="9.3" fill="url(#gO)"/><circle cx="1046.3" cy="129.4" r="9.3" fill="url(#gO)"/><circle cx="1097.0" cy="207.0" r="9.3" fill="url(#gO)"/><circle cx="1140.5" cy="290.8" r="9.3" fill="url(#gO)"/><circle cx="1183.2" cy="371.3" r="9.3" fill="url(#gO)"/><circle cx="1231.7" cy="447.9" r="9.3" fill="url(#gO)"/><circle cx="1097.5" cy="44.4" r="9.3" fill="url(#gO)"/><circle cx="1144.4" cy="130.8" r="9.3" fill="url(#gO)"/><circle cx="1183.9" cy="210.6" r="9.3" fill="url(#gO)"/><circle cx="1231.7" cy="287.0" r="9.3" fill="url(#gO)"/><circle cx="1280.2" cy="371.3" r="9.3" fill="url(#gO)"/><circle cx="1319.8" cy="451.7" r="9.3" fill="url(#gO)"/><circle cx="1186.8" cy="49.4" r="9.3" fill="url(#gO)"/><circle cx="1233.5" cy="125.2" r="9.3" fill="url(#gO)"/><circle cx="1281.5" cy="210.6" r="9.3" fill="url(#gO)"/><circle cx="1322.4" cy="290.9" r="9.3" fill="url(#gO)"/><circle cx="1369.6" cy="366.2" r="9.3" fill="url(#gO)"/><circle cx="1418.1" cy="451.7" r="9.3" fill="url(#gO)"/><circle cx="782.7" cy="81.6" r="8.6" fill="url(#gO)"/><circle cx="827.1" cy="161.5" r="8.6" fill="url(#gO)"/><circle cx="877.1" cy="235.6" r="8.6" fill="url(#gO)"/><circle cx="913.8" cy="314.1" r="8.6" fill="url(#gO)"/><circle cx="959.1" cy="392.7" r="8.6" fill="url(#gO)"/><circle cx="1009.2" cy="465.3" r="8.6" fill="url(#gO)"/><circle cx="877.1" cy="73.5" r="8.6" fill="url(#gO)"/><circle cx="915.8" cy="157.4" r="8.6" fill="url(#gO)"/><circle cx="959.4" cy="235.5" r="8.6" fill="url(#gO)"/><circle cx="1008.3" cy="311.6" r="8.6" fill="url(#gO)"/><circle cx="1048.0" cy="389.1" r="8.6" fill="url(#gO)"/><circle cx="1096.9" cy="469.6" r="8.6" fill="url(#gO)"/><circle cx="962.6" cy="84.8" r="8.6" fill="url(#gO)"/><circle cx="1005.0" cy="156.9" r="8.6" fill="url(#gO)"/><circle cx="1045.9" cy="232.6" r="8.6" fill="url(#gO)"/><circle cx="1096.5" cy="317.0" r="8.6" fill="url(#gO)"/><circle cx="1140.9" cy="392.7" r="8.6" fill="url(#gO)"/><circle cx="1179.4" cy="465.8" r="8.6" fill="url(#gO)"/><circle cx="1050.6" cy="78.3" r="8.6" fill="url(#gO)"/><circle cx="1095.9" cy="156.9" r="8.6" fill="url(#gO)"/><circle cx="1141.2" cy="235.5" r="8.6" fill="url(#gO)"/><circle cx="1186.5" cy="314.1" r="8.6" fill="url(#gO)"/><circle cx="1231.8" cy="392.7" r="8.6" fill="url(#gO)"/><circle cx="1277.1" cy="471.3" r="8.6" fill="url(#gO)"/><circle cx="1142.7" cy="81.6" r="8.6" fill="url(#gO)"/><circle cx="1179.0" cy="154.2" r="8.6" fill="url(#gO)"/><circle cx="1232.1" cy="235.5" r="8.6" fill="url(#gO)"/><circle cx="1273.9" cy="311.3" r="8.6" fill="url(#gO)"/><circle cx="1313.4" cy="389.2" r="8.6" fill="url(#gO)"/><circle cx="1368.0" cy="471.3" r="8.6" fill="url(#gO)"/><circle cx="1229.0" cy="84.8" r="8.6" fill="url(#gO)"/><circle cx="1277.7" cy="156.9" r="8.6" fill="url(#gO)"/><circle cx="1312.9" cy="234.8" r="8.6" fill="url(#gO)"/><circle cx="1368.3" cy="314.1" r="8.6" fill="url(#gO)"/><circle cx="1404.1" cy="384.0" r="8.6" fill="url(#gO)"/><circle cx="1443.7" cy="465.8" r="8.6" fill="url(#gO)"/><circle cx="822.8" cy="104.2" r="15.3" fill="url(#gNi)"/><circle cx="877.9" cy="183.2" r="15.3" fill="url(#gMn)"/><circle cx="913.8" cy="262.3" r="15.3" fill="url(#gMn)"/><circle cx="959.0" cy="341.3" r="15.3" fill="url(#gNi)"/><circle cx="1006.5" cy="417.6" r="15.3" fill="url(#gMn)"/><circle cx="914.2" cy="104.5" r="15.3" fill="url(#gMn)"/><circle cx="959.5" cy="183.1" r="15.3" fill="url(#gNi)"/><circle cx="1004.8" cy="261.7" r="15.3" fill="url(#gMn)"/><circle cx="1050.1" cy="340.3" r="15.3" fill="url(#gMn)"/><circle cx="1097.7" cy="419.0" r="15.3" fill="url(#gNi)"/><circle cx="1005.1" cy="104.5" r="15.3" fill="url(#gMn)"/><circle cx="1050.4" cy="183.1" r="15.3" fill="url(#gMn)"/><circle cx="1095.7" cy="261.7" r="15.3" fill="url(#gNi)"/><circle cx="1141.0" cy="340.3" r="15.3" fill="url(#gMn)"/><circle cx="1186.3" cy="418.9" r="15.3" fill="url(#gMn)"/><circle cx="1098.0" cy="103.8" r="15.3" fill="url(#gNi)"/><circle cx="1141.3" cy="183.1" r="15.3" fill="url(#gMn)"/><circle cx="1184.5" cy="261.5" r="15.3" fill="url(#gMn)"/><circle cx="1234.3" cy="340.7" r="15.3" fill="url(#gNi)"/><circle cx="1279.0" cy="413.4" r="15.3" fill="url(#gMn)"/><circle cx="1186.9" cy="104.5" r="15.3" fill="url(#gMn)"/><circle cx="1232.2" cy="183.1" r="15.3" fill="url(#gNi)"/><circle cx="1277.5" cy="261.7" r="15.3" fill="url(#gMn)"/><circle cx="1322.8" cy="340.3" r="15.3" fill="url(#gMn)"/><circle cx="1364.5" cy="419.8" r="15.3" fill="url(#gNi)"/><circle cx="763.0" cy="69.9" r="19" fill="url(#gNa)"/><circle cx="893.6" cy="90.5" r="19" fill="url(#gNa)"/><circle cx="1050.9" cy="69.9" r="19" fill="url(#gNa)"/><circle cx="850.1" cy="177.6" r="19" fill="url(#gNa)"/><circle cx="1000.1" cy="149.8" r="19" fill="url(#gNa)"/><circle cx="950.5" cy="235.7" r="19" fill="url(#gNa)"/><circle cx="1181.5" cy="91.7" r="19" fill="url(#gNa)"/><circle cx="1287.2" cy="152.2" r="19" fill="url(#gNa)"/><circle cx="1137.1" cy="176.8" r="19" fill="url(#gNa)"/><circle cx="1237.6" cy="234.5" r="19" fill="url(#gNa)"/><circle cx="904.5" cy="320.2" r="19" fill="url(#gNa)"/><circle cx="1036.4" cy="340.7" r="19" fill="url(#gNa)"/><circle cx="992.8" cy="426.6" r="19" fill="url(#gNa)"/><circle cx="1083.6" cy="251.4" r="19" fill="url(#gNa)"/><circle cx="1192.1" cy="320.2" r="19" fill="url(#gNa)"/><circle cx="1322.4" cy="340.7" r="19" fill="url(#gNa)"/><circle cx="1142.3" cy="400.7" r="19" fill="url(#gNa)"/><circle cx="1279.0" cy="420.0" r="19" fill="url(#gNa)"/><circle cx="1428.3" cy="403.2" r="19" fill="url(#gNa)"/><clipPath id="blobclip"><path d="M743.6 49.4L778.7 51.3L788.4 66.3L801.7 88.1L798.1 106.9L782.3 102.6L773.9 95.3L754.5 88.1L743.6 78.4ZM846.5 61.5L868.2 71.1L887.6 72.3L909.4 77.2L914.2 65.1L940.8 53.0L959.0 67.5L952.9 83.2L940.8 97.7L926.3 95.3L919.0 112.3L906.9 126.8L890.0 125.6L875.5 119.5L865.8 114.7L863.4 102.6L862.2 90.5L847.7 79.6ZM972.3 86.9L982.0 80.8L996.5 71.1L1008.6 66.3L1018.2 54.2L1042.4 49.4L1064.2 53.0L1078.7 68.7L1087.2 88.1L1088.4 102.6L1077.5 107.4L1057.0 100.2L1035.2 102.6L1018.2 112.3L1008.6 118.3L994.1 118.3L979.5 112.3L972.8 100.2ZM792.0 126.3L806.5 123.9L827.1 141.3L841.6 152.2L853.7 160.7L870.7 165.5L880.3 177.6L875.5 199.4L865.8 204.2L846.5 206.6L836.8 196.9L824.7 175.2L810.2 153.4L798.1 138.9ZM836.3 207.1L853.7 204.7L865.8 213.9L874.3 235.7L871.9 252.6L865.8 259.9L858.6 250.2L846.5 230.8ZM884.0 164.3L894.9 154.6L914.2 149.0L933.6 151.0L952.9 149.0L967.4 141.3L975.9 126.8L986.8 131.6L998.9 134.0L1018.2 141.3L1013.4 155.8L1008.6 165.5L994.1 180.0L972.3 196.9L952.9 203.0L933.6 199.4L914.2 187.3L897.3 175.2ZM1013.4 151.0L1032.8 153.4L1054.5 151.0L1066.6 131.6L1083.6 126.8L1100.0 126.8L1100.0 175.2L1083.6 177.6L1054.5 172.8L1042.4 187.3L1030.3 187.3L1015.8 175.2L1011.0 165.5ZM919.0 226.0L931.1 209.0L945.7 216.3L962.6 223.6L972.3 235.7L982.0 242.9L994.1 240.5L1006.2 247.8L1018.2 257.4L982.0 260.1L957.8 260.1L938.4 250.2L923.9 238.1ZM1052.1 230.8L1066.6 233.2L1059.4 240.5ZM1037.6 238.1L1052.1 235.7L1066.6 242.9L1078.7 247.8L1100.0 240.5L1100.0 260.1L1042.4 260.1ZM1132.3 62.7L1152.9 71.1L1169.8 73.6L1186.8 71.1L1198.9 76.0L1211.0 56.6L1225.5 54.2L1244.9 67.5L1238.8 85.6L1225.5 95.3L1211.0 100.2L1203.7 112.3L1191.6 126.8L1172.3 121.9L1155.3 112.3L1151.7 100.2L1136.0 83.2ZM1262.3 87.6L1281.1 118.3L1269.0 109.8L1263.0 102.6ZM1169.8 160.7L1177.1 152.2L1196.5 147.3L1215.8 149.8L1235.2 151.0L1254.5 146.1L1264.2 131.6L1269.0 125.6L1283.6 131.6L1302.9 146.1L1306.5 165.5L1318.6 187.3L1302.9 180.0L1293.2 177.6L1273.9 180.0L1254.5 194.5L1235.2 204.2L1215.8 199.4L1194.0 184.9L1181.9 172.8ZM1090.0 126.8L1104.5 131.6L1116.6 138.9L1126.3 153.4L1145.6 160.7L1155.3 170.3L1165.0 182.4L1157.7 199.4L1145.6 206.6L1131.1 204.2L1114.2 194.5L1099.7 180.0L1090.0 175.2ZM1104.5 213.9L1138.4 204.2L1152.9 213.9L1165.0 230.8L1162.6 247.8L1155.3 260.1L1090.0 260.1L1090.0 242.9ZM1203.7 228.4L1215.8 209.0L1235.2 216.3L1256.9 228.4L1273.9 240.5L1290.8 242.9L1307.8 250.2L1312.6 260.1L1225.5 260.1L1208.6 242.9ZM1334.4 233.2L1339.2 226.0L1346.5 240.5ZM1322.3 240.5L1332.0 235.7L1356.2 247.8L1363.4 260.1L1322.3 260.1ZM858.6 250.0L875.5 250.0L868.2 260.9ZM886.4 292.3L899.7 289.9L919.0 303.2L931.1 320.2L943.2 341.9L940.8 354.0L928.7 351.6L914.2 339.5L894.9 332.3L887.6 320.2L887.6 305.6ZM989.2 310.5L1006.2 317.7L1018.2 322.6L1037.6 322.6L1049.7 320.2L1054.5 310.5L1073.9 302.0L1086.0 305.6L1090.8 322.6L1086.0 341.9L1069.1 351.6L1054.5 366.1L1042.4 378.2L1020.7 371.0L1011.0 358.9L1006.2 346.8L996.5 332.3ZM933.6 250.0L1018.2 250.0L1023.1 262.1L1011.0 286.3L1001.3 299.6L982.0 293.6L957.8 276.6L940.8 259.7ZM1037.6 250.0L1100.0 250.0L1100.0 298.4L1083.6 293.6L1061.8 274.2L1040.0 262.1ZM933.6 375.8L948.1 373.4L965.0 385.5L977.1 400.0L991.6 404.9L1011.0 414.5L1021.9 429.0L1011.0 448.4L1001.3 455.7L996.5 450.8L984.4 450.8L972.3 438.7L957.8 419.4L945.7 400.0ZM979.5 458.1L996.5 455.7L1006.2 460.5L1013.4 472.6L1020.7 483.5L991.6 483.5ZM1025.5 412.1L1037.6 400.0L1054.5 397.6L1078.7 400.0L1100.0 397.6L1100.0 450.8L1083.6 453.2L1069.1 447.2L1054.5 436.3L1035.2 424.2ZM1059.4 481.1L1073.9 455.7L1093.3 462.9L1100.0 467.8L1100.0 483.5ZM1090.0 250.0L1151.3 250.0L1156.4 257.7L1148.7 270.4L1128.3 275.5L1113.0 288.3L1090.0 296.0ZM1215.1 250.0L1309.6 250.0L1309.6 265.3L1294.3 280.6L1284.1 298.5L1268.8 294.7L1248.3 280.6L1233.0 265.3L1217.7 255.1ZM1322.4 250.0L1355.6 250.0L1365.8 270.4L1378.6 297.2L1368.3 293.4L1353.0 278.1L1335.1 265.3L1322.4 260.2ZM1114.3 344.5L1123.2 331.7L1141.1 324.1L1158.9 311.3L1171.7 298.5L1189.6 292.1L1204.9 299.8L1215.1 313.8L1225.3 334.3L1229.2 347.0L1220.2 356.0L1197.3 349.6L1179.4 349.6L1164.1 357.3L1153.8 362.4L1138.5 367.5L1120.6 362.4ZM1272.6 311.3L1284.1 315.1L1309.6 324.1L1324.9 321.5L1342.8 308.7L1360.7 302.3L1373.5 306.2L1384.9 316.4L1381.1 336.8L1370.9 347.0L1347.9 354.7L1335.1 375.1L1324.9 377.7L1307.1 370.0L1294.3 352.1L1289.2 331.7ZM1401.5 339.4L1422.0 368.7L1409.2 362.4L1402.8 352.1ZM1090.0 400.7L1118.1 382.8L1136.0 382.8L1156.4 393.0L1171.7 400.7L1197.3 403.2L1207.5 382.8L1222.8 375.1L1243.2 377.7L1263.6 395.6L1289.2 410.9L1307.1 426.2L1302.0 449.2L1286.6 454.3L1268.8 449.2L1243.2 439.0L1222.8 436.4L1197.3 439.0L1179.4 433.9L1164.1 428.8L1141.1 427.5L1124.5 428.8L1113.7 439.0L1107.4 441.8L1103.0 451.0L1090.0 453.0ZM1309.6 408.3L1319.8 400.7L1335.1 396.8L1350.5 400.7L1370.9 398.1L1391.3 390.4L1411.8 377.7L1422.0 380.2L1439.8 387.9L1447.5 403.2L1460.3 439.0L1442.4 428.8L1427.1 428.8L1409.2 433.9L1396.4 444.1L1378.6 451.7L1360.7 449.2L1342.8 433.9L1327.5 423.6ZM1243.2 477.3L1268.8 459.4L1289.2 454.3L1307.1 482.4L1243.2 483.7ZM1342.8 479.8L1355.6 456.8L1370.9 462.0L1387.5 482.4L1342.8 483.7ZM1189.6 479.8L1197.3 473.4L1207.5 481.1ZM1090.0 464.5L1100.2 469.6L1102.8 483.7L1090.0 483.7Z"/></clipPath><filter id="bblur" x="-5%" y="-5%" width="110%" height="110%"><feGaussianBlur stdDeviation="2.6"/></filter><g opacity="0.9"><path d="M743.6 49.4L778.7 51.3L788.4 66.3L801.7 88.1L798.1 106.9L782.3 102.6L773.9 95.3L754.5 88.1L743.6 78.4ZM846.5 61.5L868.2 71.1L887.6 72.3L909.4 77.2L914.2 65.1L940.8 53.0L959.0 67.5L952.9 83.2L940.8 97.7L926.3 95.3L919.0 112.3L906.9 126.8L890.0 125.6L875.5 119.5L865.8 114.7L863.4 102.6L862.2 90.5L847.7 79.6ZM972.3 86.9L982.0 80.8L996.5 71.1L1008.6 66.3L1018.2 54.2L1042.4 49.4L1064.2 53.0L1078.7 68.7L1087.2 88.1L1088.4 102.6L1077.5 107.4L1057.0 100.2L1035.2 102.6L1018.2 112.3L1008.6 118.3L994.1 118.3L979.5 112.3L972.8 100.2ZM792.0 126.3L806.5 123.9L827.1 141.3L841.6 152.2L853.7 160.7L870.7 165.5L880.3 177.6L875.5 199.4L865.8 204.2L846.5 206.6L836.8 196.9L824.7 175.2L810.2 153.4L798.1 138.9ZM836.3 207.1L853.7 204.7L865.8 213.9L874.3 235.7L871.9 252.6L865.8 259.9L858.6 250.2L846.5 230.8ZM884.0 164.3L894.9 154.6L914.2 149.0L933.6 151.0L952.9 149.0L967.4 141.3L975.9 126.8L986.8 131.6L998.9 134.0L1018.2 141.3L1013.4 155.8L1008.6 165.5L994.1 180.0L972.3 196.9L952.9 203.0L933.6 199.4L914.2 187.3L897.3 175.2ZM1013.4 151.0L1032.8 153.4L1054.5 151.0L1066.6 131.6L1083.6 126.8L1100.0 126.8L1100.0 175.2L1083.6 177.6L1054.5 172.8L1042.4 187.3L1030.3 187.3L1015.8 175.2L1011.0 165.5ZM919.0 226.0L931.1 209.0L945.7 216.3L962.6 223.6L972.3 235.7L982.0 242.9L994.1 240.5L1006.2 247.8L1018.2 257.4L982.0 260.1L957.8 260.1L938.4 250.2L923.9 238.1ZM1052.1 230.8L1066.6 233.2L1059.4 240.5ZM1037.6 238.1L1052.1 235.7L1066.6 242.9L1078.7 247.8L1100.0 240.5L1100.0 260.1L1042.4 260.1ZM1132.3 62.7L1152.9 71.1L1169.8 73.6L1186.8 71.1L1198.9 76.0L1211.0 56.6L1225.5 54.2L1244.9 67.5L1238.8 85.6L1225.5 95.3L1211.0 100.2L1203.7 112.3L1191.6 126.8L1172.3 121.9L1155.3 112.3L1151.7 100.2L1136.0 83.2ZM1262.3 87.6L1281.1 118.3L1269.0 109.8L1263.0 102.6ZM1169.8 160.7L1177.1 152.2L1196.5 147.3L1215.8 149.8L1235.2 151.0L1254.5 146.1L1264.2 131.6L1269.0 125.6L1283.6 131.6L1302.9 146.1L1306.5 165.5L1318.6 187.3L1302.9 180.0L1293.2 177.6L1273.9 180.0L1254.5 194.5L1235.2 204.2L1215.8 199.4L1194.0 184.9L1181.9 172.8ZM1090.0 126.8L1104.5 131.6L1116.6 138.9L1126.3 153.4L1145.6 160.7L1155.3 170.3L1165.0 182.4L1157.7 199.4L1145.6 206.6L1131.1 204.2L1114.2 194.5L1099.7 180.0L1090.0 175.2ZM1104.5 213.9L1138.4 204.2L1152.9 213.9L1165.0 230.8L1162.6 247.8L1155.3 260.1L1090.0 260.1L1090.0 242.9ZM1203.7 228.4L1215.8 209.0L1235.2 216.3L1256.9 228.4L1273.9 240.5L1290.8 242.9L1307.8 250.2L1312.6 260.1L1225.5 260.1L1208.6 242.9ZM1334.4 233.2L1339.2 226.0L1346.5 240.5ZM1322.3 240.5L1332.0 235.7L1356.2 247.8L1363.4 260.1L1322.3 260.1ZM858.6 250.0L875.5 250.0L868.2 260.9ZM886.4 292.3L899.7 289.9L919.0 303.2L931.1 320.2L943.2 341.9L940.8 354.0L928.7 351.6L914.2 339.5L894.9 332.3L887.6 320.2L887.6 305.6ZM989.2 310.5L1006.2 317.7L1018.2 322.6L1037.6 322.6L1049.7 320.2L1054.5 310.5L1073.9 302.0L1086.0 305.6L1090.8 322.6L1086.0 341.9L1069.1 351.6L1054.5 366.1L1042.4 378.2L1020.7 371.0L1011.0 358.9L1006.2 346.8L996.5 332.3ZM933.6 250.0L1018.2 250.0L1023.1 262.1L1011.0 286.3L1001.3 299.6L982.0 293.6L957.8 276.6L940.8 259.7ZM1037.6 250.0L1100.0 250.0L1100.0 298.4L1083.6 293.6L1061.8 274.2L1040.0 262.1ZM933.6 375.8L948.1 373.4L965.0 385.5L977.1 400.0L991.6 404.9L1011.0 414.5L1021.9 429.0L1011.0 448.4L1001.3 455.7L996.5 450.8L984.4 450.8L972.3 438.7L957.8 419.4L945.7 400.0ZM979.5 458.1L996.5 455.7L1006.2 460.5L1013.4 472.6L1020.7 483.5L991.6 483.5ZM1025.5 412.1L1037.6 400.0L1054.5 397.6L1078.7 400.0L1100.0 397.6L1100.0 450.8L1083.6 453.2L1069.1 447.2L1054.5 436.3L1035.2 424.2ZM1059.4 481.1L1073.9 455.7L1093.3 462.9L1100.0 467.8L1100.0 483.5ZM1090.0 250.0L1151.3 250.0L1156.4 257.7L1148.7 270.4L1128.3 275.5L1113.0 288.3L1090.0 296.0ZM1215.1 250.0L1309.6 250.0L1309.6 265.3L1294.3 280.6L1284.1 298.5L1268.8 294.7L1248.3 280.6L1233.0 265.3L1217.7 255.1ZM1322.4 250.0L1355.6 250.0L1365.8 270.4L1378.6 297.2L1368.3 293.4L1353.0 278.1L1335.1 265.3L1322.4 260.2ZM1114.3 344.5L1123.2 331.7L1141.1 324.1L1158.9 311.3L1171.7 298.5L1189.6 292.1L1204.9 299.8L1215.1 313.8L1225.3 334.3L1229.2 347.0L1220.2 356.0L1197.3 349.6L1179.4 349.6L1164.1 357.3L1153.8 362.4L1138.5 367.5L1120.6 362.4ZM1272.6 311.3L1284.1 315.1L1309.6 324.1L1324.9 321.5L1342.8 308.7L1360.7 302.3L1373.5 306.2L1384.9 316.4L1381.1 336.8L1370.9 347.0L1347.9 354.7L1335.1 375.1L1324.9 377.7L1307.1 370.0L1294.3 352.1L1289.2 331.7ZM1401.5 339.4L1422.0 368.7L1409.2 362.4L1402.8 352.1ZM1090.0 400.7L1118.1 382.8L1136.0 382.8L1156.4 393.0L1171.7 400.7L1197.3 403.2L1207.5 382.8L1222.8 375.1L1243.2 377.7L1263.6 395.6L1289.2 410.9L1307.1 426.2L1302.0 449.2L1286.6 454.3L1268.8 449.2L1243.2 439.0L1222.8 436.4L1197.3 439.0L1179.4 433.9L1164.1 428.8L1141.1 427.5L1124.5 428.8L1113.7 439.0L1107.4 441.8L1103.0 451.0L1090.0 453.0ZM1309.6 408.3L1319.8 400.7L1335.1 396.8L1350.5 400.7L1370.9 398.1L1391.3 390.4L1411.8 377.7L1422.0 380.2L1439.8 387.9L1447.5 403.2L1460.3 439.0L1442.4 428.8L1427.1 428.8L1409.2 433.9L1396.4 444.1L1378.6 451.7L1360.7 449.2L1342.8 433.9L1327.5 423.6ZM1243.2 477.3L1268.8 459.4L1289.2 454.3L1307.1 482.4L1243.2 483.7ZM1342.8 479.8L1355.6 456.8L1370.9 462.0L1387.5 482.4L1342.8 483.7ZM1189.6 479.8L1197.3 473.4L1207.5 481.1ZM1090.0 464.5L1100.2 469.6L1102.8 483.7L1090.0 483.7Z" fill="#bcbc16" stroke="#bcbc16" stroke-width="1.6" stroke-linejoin="round"/><g clip-path="url(#blobclip)"><path d="M743.6 49.4L778.7 51.3L788.4 66.3L801.7 88.1L798.1 106.9L782.3 102.6L773.9 95.3L754.5 88.1L743.6 78.4ZM846.5 61.5L868.2 71.1L887.6 72.3L909.4 77.2L914.2 65.1L940.8 53.0L959.0 67.5L952.9 83.2L940.8 97.7L926.3 95.3L919.0 112.3L906.9 126.8L890.0 125.6L875.5 119.5L865.8 114.7L863.4 102.6L862.2 90.5L847.7 79.6ZM972.3 86.9L982.0 80.8L996.5 71.1L1008.6 66.3L1018.2 54.2L1042.4 49.4L1064.2 53.0L1078.7 68.7L1087.2 88.1L1088.4 102.6L1077.5 107.4L1057.0 100.2L1035.2 102.6L1018.2 112.3L1008.6 118.3L994.1 118.3L979.5 112.3L972.8 100.2ZM792.0 126.3L806.5 123.9L827.1 141.3L841.6 152.2L853.7 160.7L870.7 165.5L880.3 177.6L875.5 199.4L865.8 204.2L846.5 206.6L836.8 196.9L824.7 175.2L810.2 153.4L798.1 138.9ZM836.3 207.1L853.7 204.7L865.8 213.9L874.3 235.7L871.9 252.6L865.8 259.9L858.6 250.2L846.5 230.8ZM884.0 164.3L894.9 154.6L914.2 149.0L933.6 151.0L952.9 149.0L967.4 141.3L975.9 126.8L986.8 131.6L998.9 134.0L1018.2 141.3L1013.4 155.8L1008.6 165.5L994.1 180.0L972.3 196.9L952.9 203.0L933.6 199.4L914.2 187.3L897.3 175.2ZM1013.4 151.0L1032.8 153.4L1054.5 151.0L1066.6 131.6L1083.6 126.8L1100.0 126.8L1100.0 175.2L1083.6 177.6L1054.5 172.8L1042.4 187.3L1030.3 187.3L1015.8 175.2L1011.0 165.5ZM919.0 226.0L931.1 209.0L945.7 216.3L962.6 223.6L972.3 235.7L982.0 242.9L994.1 240.5L1006.2 247.8L1018.2 257.4L982.0 260.1L957.8 260.1L938.4 250.2L923.9 238.1ZM1052.1 230.8L1066.6 233.2L1059.4 240.5ZM1037.6 238.1L1052.1 235.7L1066.6 242.9L1078.7 247.8L1100.0 240.5L1100.0 260.1L1042.4 260.1ZM1132.3 62.7L1152.9 71.1L1169.8 73.6L1186.8 71.1L1198.9 76.0L1211.0 56.6L1225.5 54.2L1244.9 67.5L1238.8 85.6L1225.5 95.3L1211.0 100.2L1203.7 112.3L1191.6 126.8L1172.3 121.9L1155.3 112.3L1151.7 100.2L1136.0 83.2ZM1262.3 87.6L1281.1 118.3L1269.0 109.8L1263.0 102.6ZM1169.8 160.7L1177.1 152.2L1196.5 147.3L1215.8 149.8L1235.2 151.0L1254.5 146.1L1264.2 131.6L1269.0 125.6L1283.6 131.6L1302.9 146.1L1306.5 165.5L1318.6 187.3L1302.9 180.0L1293.2 177.6L1273.9 180.0L1254.5 194.5L1235.2 204.2L1215.8 199.4L1194.0 184.9L1181.9 172.8ZM1090.0 126.8L1104.5 131.6L1116.6 138.9L1126.3 153.4L1145.6 160.7L1155.3 170.3L1165.0 182.4L1157.7 199.4L1145.6 206.6L1131.1 204.2L1114.2 194.5L1099.7 180.0L1090.0 175.2ZM1104.5 213.9L1138.4 204.2L1152.9 213.9L1165.0 230.8L1162.6 247.8L1155.3 260.1L1090.0 260.1L1090.0 242.9ZM1203.7 228.4L1215.8 209.0L1235.2 216.3L1256.9 228.4L1273.9 240.5L1290.8 242.9L1307.8 250.2L1312.6 260.1L1225.5 260.1L1208.6 242.9ZM1334.4 233.2L1339.2 226.0L1346.5 240.5ZM1322.3 240.5L1332.0 235.7L1356.2 247.8L1363.4 260.1L1322.3 260.1ZM858.6 250.0L875.5 250.0L868.2 260.9ZM886.4 292.3L899.7 289.9L919.0 303.2L931.1 320.2L943.2 341.9L940.8 354.0L928.7 351.6L914.2 339.5L894.9 332.3L887.6 320.2L887.6 305.6ZM989.2 310.5L1006.2 317.7L1018.2 322.6L1037.6 322.6L1049.7 320.2L1054.5 310.5L1073.9 302.0L1086.0 305.6L1090.8 322.6L1086.0 341.9L1069.1 351.6L1054.5 366.1L1042.4 378.2L1020.7 371.0L1011.0 358.9L1006.2 346.8L996.5 332.3ZM933.6 250.0L1018.2 250.0L1023.1 262.1L1011.0 286.3L1001.3 299.6L982.0 293.6L957.8 276.6L940.8 259.7ZM1037.6 250.0L1100.0 250.0L1100.0 298.4L1083.6 293.6L1061.8 274.2L1040.0 262.1ZM933.6 375.8L948.1 373.4L965.0 385.5L977.1 400.0L991.6 404.9L1011.0 414.5L1021.9 429.0L1011.0 448.4L1001.3 455.7L996.5 450.8L984.4 450.8L972.3 438.7L957.8 419.4L945.7 400.0ZM979.5 458.1L996.5 455.7L1006.2 460.5L1013.4 472.6L1020.7 483.5L991.6 483.5ZM1025.5 412.1L1037.6 400.0L1054.5 397.6L1078.7 400.0L1100.0 397.6L1100.0 450.8L1083.6 453.2L1069.1 447.2L1054.5 436.3L1035.2 424.2ZM1059.4 481.1L1073.9 455.7L1093.3 462.9L1100.0 467.8L1100.0 483.5ZM1090.0 250.0L1151.3 250.0L1156.4 257.7L1148.7 270.4L1128.3 275.5L1113.0 288.3L1090.0 296.0ZM1215.1 250.0L1309.6 250.0L1309.6 265.3L1294.3 280.6L1284.1 298.5L1268.8 294.7L1248.3 280.6L1233.0 265.3L1217.7 255.1ZM1322.4 250.0L1355.6 250.0L1365.8 270.4L1378.6 297.2L1368.3 293.4L1353.0 278.1L1335.1 265.3L1322.4 260.2ZM1114.3 344.5L1123.2 331.7L1141.1 324.1L1158.9 311.3L1171.7 298.5L1189.6 292.1L1204.9 299.8L1215.1 313.8L1225.3 334.3L1229.2 347.0L1220.2 356.0L1197.3 349.6L1179.4 349.6L1164.1 357.3L1153.8 362.4L1138.5 367.5L1120.6 362.4ZM1272.6 311.3L1284.1 315.1L1309.6 324.1L1324.9 321.5L1342.8 308.7L1360.7 302.3L1373.5 306.2L1384.9 316.4L1381.1 336.8L1370.9 347.0L1347.9 354.7L1335.1 375.1L1324.9 377.7L1307.1 370.0L1294.3 352.1L1289.2 331.7ZM1401.5 339.4L1422.0 368.7L1409.2 362.4L1402.8 352.1ZM1090.0 400.7L1118.1 382.8L1136.0 382.8L1156.4 393.0L1171.7 400.7L1197.3 403.2L1207.5 382.8L1222.8 375.1L1243.2 377.7L1263.6 395.6L1289.2 410.9L1307.1 426.2L1302.0 449.2L1286.6 454.3L1268.8 449.2L1243.2 439.0L1222.8 436.4L1197.3 439.0L1179.4 433.9L1164.1 428.8L1141.1 427.5L1124.5 428.8L1113.7 439.0L1107.4 441.8L1103.0 451.0L1090.0 453.0ZM1309.6 408.3L1319.8 400.7L1335.1 396.8L1350.5 400.7L1370.9 398.1L1391.3 390.4L1411.8 377.7L1422.0 380.2L1439.8 387.9L1447.5 403.2L1460.3 439.0L1442.4 428.8L1427.1 428.8L1409.2 433.9L1396.4 444.1L1378.6 451.7L1360.7 449.2L1342.8 433.9L1327.5 423.6ZM1243.2 477.3L1268.8 459.4L1289.2 454.3L1307.1 482.4L1243.2 483.7ZM1342.8 479.8L1355.6 456.8L1370.9 462.0L1387.5 482.4L1342.8 483.7ZM1189.6 479.8L1197.3 473.4L1207.5 481.1ZM1090.0 464.5L1100.2 469.6L1102.8 483.7L1090.0 483.7Z" fill="url(#gY)" filter="url(#bblur)"/></g></g><circle cx="763.0" cy="69.9" r="19" fill="url(#gNa2)"/><circle cx="893.6" cy="90.5" r="19" fill="url(#gNa2)"/><circle cx="1050.9" cy="69.9" r="19" fill="url(#gNa2)"/><circle cx="850.1" cy="177.6" r="19" fill="url(#gNa2)"/><circle cx="1000.1" cy="149.8" r="19" fill="url(#gNa2)"/><circle cx="950.5" cy="235.7" r="19" fill="url(#gNa2)"/><circle cx="1181.5" cy="91.7" r="19" fill="url(#gNa2)"/><circle cx="1287.2" cy="152.2" r="19" fill="url(#gNa2)"/><circle cx="1137.1" cy="176.8" r="19" fill="url(#gNa2)"/><circle cx="1237.6" cy="234.5" r="19" fill="url(#gNa2)"/><circle cx="904.5" cy="320.2" r="19" fill="url(#gNa2)"/><circle cx="1036.4" cy="340.7" r="19" fill="url(#gNa2)"/><circle cx="992.8" cy="426.6" r="19" fill="url(#gNa2)"/><circle cx="1083.6" cy="251.4" r="19" fill="url(#gNa2)"/><circle cx="1192.1" cy="320.2" r="19" fill="url(#gNa2)"/><circle cx="1322.4" cy="340.7" r="19" fill="url(#gNa2)"/><circle cx="1142.3" cy="400.7" r="19" fill="url(#gNa2)"/><circle cx="1279.0" cy="420.0" r="19" fill="url(#gNa2)"/><circle cx="1428.3" cy="403.2" r="19" fill="url(#gNa2)"/></g><line x1="832.4" y1="491.5" x2="797.5" y2="431" stroke="#00ee00" stroke-width="8.6"/><polygon points="781.4,403.3 786.6,438.7 809.5,425.4" fill="#00ee00"/><line x1="832.4" y1="491.6" x2="903" y2="491.6" stroke="#ff0000" stroke-width="8.4"/><polygon points="901.9,479.1 901.9,504.5 935.2,491.6" fill="#ff0000"/><circle cx="832.4" cy="491.5" r="12.6" fill="#0000ff"/><text x="832.4" y="498.3" font-size="20" fill="#fff" text-anchor="middle">c</text><text x="766.2" y="392.8" font-size="24.5" fill="#0000ff">b</text><text x="952" y="500" font-size="24.5" fill="#0000ff">a</text><text x="741" y="30" font-size="41" font-weight="bold">b</text><defs><linearGradient id="jetg" x1="0" y1="0" x2="0" y2="1"><stop offset="0.0000" stop-color="#800000"/><stop offset="0.0500" stop-color="#b90000"/><stop offset="0.0900" stop-color="#e80000"/><stop offset="0.1000" stop-color="#f30900"/><stop offset="0.1100" stop-color="#ff1300"/><stop offset="0.1500" stop-color="#ff3900"/><stop offset="0.2000" stop-color="#ff6800"/><stop offset="0.2500" stop-color="#ff9700"/><stop offset="0.3000" stop-color="#ffc600"/><stop offset="0.3400" stop-color="#ffec00"/><stop offset="0.3500" stop-color="#f7f600"/><stop offset="0.3600" stop-color="#efff08"/><stop offset="0.4000" stop-color="#ceff29"/><stop offset="0.4500" stop-color="#a5ff52"/><stop offset="0.5000" stop-color="#7bff7b"/><stop offset="0.5500" stop-color="#52ffa5"/><stop offset="0.6000" stop-color="#29ffce"/><stop offset="0.6250" stop-color="#15ffe2"/><stop offset="0.6500" stop-color="#00e6f7"/><stop offset="0.6500" stop-color="#00e5f7"/><stop offset="0.6600" stop-color="#00dbff"/><stop offset="0.7000" stop-color="#00b3ff"/><stop offset="0.7500" stop-color="#0080ff"/><stop offset="0.8000" stop-color="#004dff"/><stop offset="0.8500" stop-color="#001aff"/><stop offset="0.8750" stop-color="#0000ff"/><stop offset="0.8900" stop-color="#0000ff"/><stop offset="0.9000" stop-color="#0000f3"/><stop offset="0.9500" stop-color="#0000b9"/><stop offset="1.0000" stop-color="#000080"/></linearGradient><filter id="hblur" x="-2%" y="-2%" width="104%" height="104%"><feGaussianBlur stdDeviation="0.8"/></filter></defs><clipPath id="clipc"><rect x="106" y="627.5" width="524" height="407.9000000000001"/></clipPath><g clip-path="url(#clipc)"><g filter="url(#hblur)" shape-rendering="crispEdges"><g transform="translate(100,616) scale(2,4)" fill="none"><rect width="268" height="108" fill="#000080"/><path stroke="#00009d" d="M0.5 81v2m0 24v1m1-25v2m1-3v2m1-1v1m1-3v2m1-3v2m0 25v1m1-28v2m0 25v1m1-28v2m1 1v1m1-3v2m0 23v1m1-25v2m0 23v1m1-25v2m0 22v1m1-23v1m0 21v1m1-24v1m0 22v1m1-29v1m0 27v1m1-26v2m1-3v2m0 24v1m1-27v2m1 1v2m0 21v1m1-25v2m1-4v2m1-3v2m1-1v2m1-2v1m0 25v1m1-26v2m0 23v1m1-27v3m0 23v1m1-26v2m0 23v1m1-25v2m1-3v2m1-2v2m1-1v1m1 0v2m1-8v1m1-4v2m0 30v1m1-34v3m0 29v2m1-35v2m1-1v2m0 30v2m1-29v2m1-11v3m0 33v2m1-36v1m0 31v2m1-34v2m0 30v1m1-37v3m0 33v2m1-37v1m0 37v1m1-41v2m0 37v1m1-41v1m0 38v2m1-42v2m0 38v2m1-39v1m0 37v2m1-40v2m0 35v2m1-40v2m0 37v2m1-43v2m1 1v2m0 32v2m1-38v2m0 35v2m1-40v2m0 40v1m1-45v2m0 42v1m1-41v1m1-2v1m0 40v1m1-45v3m0 41v1m1-44v1m0 40v2m1-47v3m1 0v2m0 39v1m1-45v2m0 41v2m1-49v2m0 48v2m1-47v2m0 44v1m1-38v2m0 33v3m1-46v2m0 42v2m1-43v2m0 37v2m1-42v2m0 41v1m1-50v1m0 47v2m1-54v2m0 49v1m1-44v2m0 42v2m1-54v2m1 0v2m0 47v3m1-47v2m0 42v2m1-44v2m0 42v1m1-57v2m0 54v1m1-53v2m0 40v7m1-44v2m0 44v2m1-53v2m0 35v3m0 1v2m1-51v2m0 8v2m0 7v2m1-4v2m0 35v2m1-40v3m0 38v2m1-56v2m0 51v2m1-58v2m0 44v11m1-62v3m0 48v10m1-59v2m1-4v2m0 13v1m0 48v2m1-60v2m0 55v3m1-62v2m0 11v1m0 43v2m1-63v2m0 10v3m0 50v1m1-63v1m0 51v2m0 7v2m1-68v3m0 57v4m1-64v2m0 12v2m0 2v2m1-11v2m0 56v1m1-59v2m0 52v2m1-65v7m0 43v15m1-64v3m0 35v1m0 1v2m0 18v2m1-54v2m0 53v2m1-58v2m0 54v3m1-61v2m0 12v3m0 43v2m1-60v2m0 16v3m0 37v2m1-60v2m0 57v1m1-61v2m0 12v2m0 41v2m1-65v2m0 46v2m0 4v2m0 9v2m1-63v1m0 50v4m1-52v2m0 47v3m1-52v2m0 54v2m1-57v2m0 51v2m1-58v2m0 51v3m1-57v1m0 57v2m1-61v1m0 62v1m1-60v2m0 56v2m1-62v2m0 53v3m1-62v2m0 56v3m1-52v2m0 50v2m1-55v2m0 15v1m0 33v3m1-56v2m0 49v5m1-63v2m0 12v12m0 1v2m0 31v2m1-54v2m0 13v1m0 41v2m1-56v1m0 51v1m1-57v1m0 11v3m0 3v2m0 36v1m1-60v1m0 16v2m0 43v1m1-63v2m0 44v4m0 10v2m1-58v2m0 49v3m1-62v3m0 61v3m1-59v1m0 54v3m1-60v2m0 58v1m1-64v2m0 47v2m0 6v2m1-59v2m0 44v1m0 4v2m0 10v1m1-59v2m0 9v2m0 4v1m0 38v2m1-60v2m0 11v3m0 16v1m0 24v1m1-62v3m0 60v2m1-61v2m0 56v2m1-60v2m0 46v4m0 4v3m1-62v3m0 44v2m0 11v2m1-60v2m0 15v5m0 28v6m1-55v1m0 44v9m1-59v2m0 5v3m0 40v11m1-56v1m0 56v2m1-57v1m0 12v3m0 30v2m0 5v3m1-56v1m0 51v4m1-61v2m0 57v2m1-66v11m0 51v2m1-77v3m0 5v2m0 16v1m0 49v1m1-78v2m0 9v2m0 11v2m0 29v3m0 19v1m1-74v2m0 10v5m0 15v4m0 16v4m0 19v2m1-80v1m0 71v3m1-76v1m0 9v2m0 5v2m0 13v3m0 29v4m0 7v2m1-72v3m0 7v1m0 49v2m0 13v3m1-78v2m0 8v3m0 1v2m0 12v1m0 4v2m0 39v3m1-81v2m0 9v2m0 3v2m0 13v3m0 40v3m1-81v2m0 11v1m0 7v2m0 57v2m1-81v2m0 10v2m0 21v2m0 5v2m1-41v2m0 73v3m1-79v2m0 10v2m0 9v2m0 49v2m1-78v2m0 10v2m0 8v2m0 11v2m0 7v2m0 36v2m1-81v2m0 14v2m0 6v1m0 56v1m1-84v2m0 11v4m0 18v2m0 5v1m0 13v2m0 24v2m1-85v2m0 30v6m0 31v4m0 7v2m1-84v2m0 27v4m0 8v5m0 23v4m0 13v1m1-79v1m0 60v4m0 7v2m1-90v5m0 1v5m0 4v2m0 9v5m0 57v3m1-92v2m0 9v5m0 26v2m0 6v2m0 36v4m1-92v2m0 10v6m0 8v2m0 25v2m0 38v2m1-100v2m0 9v3m0 8v2m0 7v2m0 8v3m0 54v2m1-99v2m0 9v3m0 8v2m0 16v2m0 14v1m0 28v3m0 10v2m1-91v2m0 27v2m0 13v4m0 42v1m1-89v2m0 18v3m0 6v3m0 2v4m0 7v5m0 37v2m1-91v3m0 5v4m0 1v3m0 8v2m0 12v3m0 5v3m0 40v2m1-96v3m0 6v3m0 6v2m0 7v3m0 5v2m0 56v2m1-96v3m0 38v3m0 14v1m0 32v2m1-90v1m0 12v4m0 17v2m0 1v2m0 11v2m0 1v2m0 35v2m1-92v2m0 11v5m0 14v4m0 17v3m0 36v2m1-102v3m0 7v3m0 6v2m0 12v2m0 2v2m0 10v2m0 12v1m0 25v7m0 5v1m1-92v8m0 1v3m0 19v2m0 2v2m0 11v3m0 25v1m0 9v5m1-93v2m0 11v4m0 13v2m0 2v5m0 2v9m0 28v2m0 1v2m0 10v1m1-92v2m0 11v1m0 17v3m0 16v1m0 39v2m1-97v2m0 27v3m0 2v3m0 6v2m0 12v1m0 33v3m1-95v3m0 8v2m0 17v1m0 19v2m0 29v15m1-97v16m0 13v5m0 18v4m0 26v14m1-96v2m0 8v3m0 13v2m0 12v2m0 10v4m0 24v2m0 8v3m1-87v3m0 20v2m0 4v2m0 10v3m0 1v3m0 39v2m1-86v2m0 20v1m0 6v2m0 55v2m1-90v2m0 20v11m0 42v4m0 8v2m1-92v2m0 25v2m0 17v2m0 6v1m0 20v11m1-87v2m0 12v2m0 11v2m0 2v2m0 14v3m0 44v2m1-97v3m0 11v2m0 10v2m0 3v2m0 24v8m0 27v2m1-100v2m0 11v9m0 6v2m0 9v4m0 9v2m0 8v2m0 34v4m1-100v3m0 51v3m0 3v1m0 24v4m0 10v2m1-101v2m0 21v2m0 6v2m0 22v1m1-54v2m0 96v1m1-103v12m0 11v3m0 2v11m0 15v1m0 5v2m0 21v2m0 14v4m1-103v2m0 14v8m0 7v2m0 23v3m0 6v2m0 15v4m0 16v1m1-101v2m0 49v2m0 9v2m0 16v2m0 2v2m0 14v1m1-106v2m0 26v7m0 1v3m0 16v3m0 5v2m0 21v5m0 11v3m1-101v2m0 34v4m0 15v1m0 7v1m0 33v3m1-97v9m0 6v3m0 34v1m0 5v1m0 28v10m1-100v11m0 12v4m0 60v13m1-102v2m0 10v4m0 11v2m0 2v3m0 5v5m0 28v2m0 2v2m0 24v2m1-108v1m0 24v2m0 11v2m0 65v2m1-104v2m0 9v3m0 3v2m0 42v4m0 36v2m1-98v2m0 13v3m0 3v7m0 8v4m0 42v4m0 8v2m1-92v2m0 12v1m0 38v3m0 20v4m0 10v2m1-96v2m0 13v4m0 38v4m0 36v2m1-104v2m0 18v3m0 6v3m0 22v4m0 29v3m0 14v1m1-108v1m0 39v1m0 18v4m0 7v1m1-71v1m0 23v2m0 3v4m0 27v6m0 5v2m0 32v2m1-107v7m0 27v2m0 19v2m0 13v2m0 34v2m1-106v1m0 16v12m0 12v2m0 43v2m0 6v1m1-97v1m0 18v2m0 5v3m0 6v3m0 1v2m0 20v2m0 3v1m0 40v1m1-108v2m0 12v15m0 10v5m0 48v5m0 10v1m1-107v3m0 15v3m0 11v2m0 23v2m0 2v2m0 27v4m0 9v3m1-107v5m0 10v3m0 6v3m0 3v3m0 11v1m0 48v3m0 8v3m1-101v7m0 9v2m0 3v2m0 67v1m0 8v2m1-94v2m0 79v3m0 8v2m1-94v3m0 43v1m0 4v2m0 24v1m0 4v2m0 8v2m1-106v2m0 13v2m0 9v2m0 10v2m0 20v2m0 30v2m0 2v3m0 6v2m1-106v3m0 6v3m0 7v2m0 15v3m0 17v2m0 8v1m0 35v2m1-106v2m0 57v2m0 5v2m0 24v2m0 8v2m1-103v2m0 32v3m0 23v2m0 2v2m0 17v3m0 7v2m0 7v2m1-99v2m0 27v4m0 6v2m0 38v2m0 4v3m0 13v1m1-101v2m0 52v5m0 20v2m0 4v2m1-89v3m0 6v2m0 18v3m0 6v5m0 14v3m0 17v3m0 11v2m0 9v1m1-100v3m0 5v6m0 10v5m0 44v3m0 3v3m0 14v2m1-98v3m0 8v6m0 57v7m0 6v2m0 9v2m1-99v2m0 68v8m0 2v3m0 15v1m1-103v2m0 12v3m0 35v2m0 2v2m0 19v1m0 9v1m0 12v3m1-102v2m0 13v2m0 43v5m0 13v4m0 6v1m0 11v2m1-99v2m0 66v5m0 15v3m0 7v1m1-102v2m0 11v11m0 45v4m0 10v2m0 7v2m0 7v1m1-106v3m0 11v2m0 8v2m0 30v2m0 5v2m0 14v3m0 7v3m0 6v4m1-100v3m0 16v5m0 51v4m0 3v5m0 8v6m1-103v3m0 13v2m0 4v2m0 40v4m0 14v7m0 14v2m1-106v2m0 50v6m0 8v3m0 18v3m0 15v2m1-108v2m0 20v3m0 8v6m0 21v2m0 5v1m0 12v9m0 3v2m0 12v2m1-108v1m0 10v2m0 4v3m0 41v6m0 14v15m0 10v2m1-92v12m0 26v4m0 32v2m0 5v2m0 6v2m1-107v1m0 17v7m0 35v6m0 19v3m0 5v2m0 8v2m1-96v2m0 47v1m0 9v2m0 13v2m0 4v3m0 12v2m1-106v1m0 17v5m0 29v4m0 27v3m0 2v9m0 9v2m1-94v1m0 8v3m0 8v2m0 4v1m0 38v1m0 8v2m0 5v2m0 10v1m1-107v14m0 64v3m0 12v2m0 4v4m0 1v3m1-104v5m0 1v8m0 33v4m0 39v1m0 4v3m0 5v1m1-102v3m0 8v2m0 5v2m0 6v6m0 20v2m0 31v1m0 15v1m1-108v2m0 22v4m0 4v2m0 55v4m0 1v2m0 11v1m1-92v4m0 15v3m0 16v6m0 6v3m0 13v5m0 18v3m1-100v2m0 56v4m0 14v5m0 7v1m0 8v2m1-103v2m0 28v2m0 2v3m0 23v5m0 21v4m0 2v2m0 9v1m1-103v2m0 51v2m0 9v1m0 19v2m0 5v2m0 9v1m1-104v2m0 54v2m0 4v2m0 28v3m0 6v3m1-105v2m0 50v2m0 1v3m0 29v2m0 3v2m0 8v2m1-87v4m0 9v2m0 19v3m0 7v2m0 18v7m0 1v4m0 10v1m1-106v3m0 45v6m0 7v5m0 15v4m0 6v5m0 9v2m1-107v3m0 13v1m0 13v3m0 15v5m0 36v11m0 4v3m1-103v3m0 39v1m0 13v2m0 27v5m0 8v3m1-102v3m0 52v2m0 4v2m0 13v3m0 22v2m1-105v2m0 15v7m0 30v3m0 34v6m0 6v2m1-104v3m0 31v5m0 15v2m0 3v1m0 24v8m0 4v6m1-104v2m0 12v2m0 4v2m0 9v2m0 9v1m0 16v5m0 17v1m0 9v2m1-91v2m0 12v6m0 58v6m0 16v3m1-100v2m0 45v6m0 4v6m0 12v9m0 16v2m1-104v3m0 7v6m0 13v2m0 5v2m0 15v5m0 31v3m0 11v1m1-108v2m0 36v2m0 3v2m0 38v10m0 12v2m1-97v2m0 9v2m0 38v2m0 4v2m0 13v7m0 3v2m0 10v2m1-103v4m0 36v1m0 15v1m0 3v2m0 19v3m0 2v5m0 10v2m1-99v2m0 71v2m0 6v2m0 7v1m1-93v2m0 12v2m0 60v1m0 8v2m0 5v2m0 7v2m1-107v2m0 29v1m0 6v3m0 22v2m0 5v2m0 9v7m0 15v2m1-76v3m0 12v2m0 14v2m0 3v2m0 17v3m0 6v2m0 8v2"/><path stroke="#0000bb" d="M0.5 83v1m0 22v1m1-22v1m0 21v1m1-24v1m1-1v1m1-2v1m1-2v1m0 23v1m1-25v1m1-1v1m1 1v1m0 22v1m1-25v1m1 0v1m1 0v1m0 20v1m1-21v1m1-2v1m1-6v1m0 25v1m1-23v1m0 22v1m1-25v1m0 22v1m1-24v1m2 23v1m1-25v1m1-2v1m1 0v1m0 23v1m1-26v1m0 23v1m1-23v1m1-1v1m1-1v1m1 0v1m1-2v2m1-2v1m0 22v1m1-24v1m0 22v1m2-29v1m0 27v1m1-31v1m0 28v1m1-30v2m1-4v1m1 0v1m0 28v1m1 1v1m1-35v1m0 5v4m0 22v1m1-33v1m0 29v1m1-30v1m0 28v1m1-33v1m0 31v1m1-34v1m1-2v1m0 35v1m1-39v1m0 36v1m1-38v1m0 36v1m1-36v1m0 34v2m1-36v1m0 32v2m1-36v1m0 35v1m1-39v1m1 2v1m0 30v1m1-34v2m0 32v1m1-36v1m0 10v2m0 26v1m1-42v1m0 40v1m1-39v1m0 38v1m1-41v1m0 38v1m1-41v1m0 39v1m1-42v1m0 38v1m1-42v5m0 38v2m1-43v1m0 37v1m1-42v1m0 39v1m1-45v2m0 5v2m0 38v1m1-43v1m0 41v2m1-35v1m0 31v1m1-41v2m0 39v1m1-39v1m0 35v1m1-38v1m0 38v2m1-48v1m0 45v1m1-50v2m0 7v1m0 38v1m1-41v2m0 38v2m1-50v1m0 50v1m1-50v2m0 44v1m1-42v1m0 40v1m1-40v1m0 40v1m1-54v2m0 10v3m0 38v1m1-50v2m0 6v3m0 28v1m1-35v1m0 28v4m0 10v1m1-49v1m0 33v1m0 6v1m1-50v2m0 5v1m0 11v1m0 38v1m1-42v1m0 33v1m1-35v1m0 24v4m0 8v1m1-52v1m0 12v3m0 33v2m1-54v1m0 42v1m1-48v2m0 45v1m1-47v1m0 60v1m1-64v2m0 9v2m0 1v2m0 45v1m1-56v1m0 53v1m1-57v1m0 9v1m0 1v2m0 40v1m1-59v1m0 8v1m0 3v3m0 46v1m1-61v2m0 47v2m0 2v7m1-63v3m0 52v2m1-58v1m0 9v2m0 6v1m0 18v2m0 25v2m1-57v2m0 53v1m1-56v1m0 49v2m1-56v1m0 40v2m1-46v5m0 29v1m0 4v1m0 16v1m1-50v1m0 49v3m1-54v1m0 50v3m1-56v1m0 10v1m0 3v1m0 41v1m1-56v1m0 14v1m0 3v1m0 35v1m1-56v1m0 8v5m0 3v2m0 23v4m0 10v1m1-58v1m0 9v2m0 2v2m0 37v2m1-61v1m0 44v1m0 8v1m0 7v1m1-60v2m0 8v7m0 27v6m1-46v1m0 40v6m1-47v2m0 40v2m0 9v1m1-53v1m0 12v2m0 35v1m1-54v1m0 48v2m1-53v1m0 46v3m0 5v2m1-58v1m0 60v1m1-57v1m0 54v1m1-58v1m0 17v2m0 31v2m1-57v1m0 48v7m1-47v1m0 11v4m0 33v1m1-51v1m0 12v2m0 1v1m0 31v1m1-51v1m0 45v3m1-45v1m0 15v1m0 28v2m1-50v1m0 10v2m0 1v2m0 37v2m1-53v1m0 10v3m0 35v2m1-55v2m0 8v1m0 30v4m0 9v1m1-58v1m0 13v2m0 2v2m0 39v2m1-60v1m0 15v6m0 21v1m0 4v2m0 6v2m1-54v2m0 43v4m1-56v1m0 17v2m0 26v1m0 8v6m1-55v1m0 52v1m1-55v1m0 47v5m0 3v2m1-61v2m0 55v3m1-60v1m0 42v1m0 7v1m0 8v1m1-56v2m0 6v1m0 7v1m0 36v1m1-56v1m0 9v1m0 3v3m0 12v1m0 1v2m0 21v1m1-58v3m0 56v1m1-57v1m0 54v1m1-41v3m0 26v2m0 4v4m1-56v1m0 41v2m0 2v1m0 9v1m1-42v1m0 5v1m0 24v3m1-48v1m0 42v1m1-48v5m0 3v1m0 38v1m1-44v1m0 16v2m0 34v3m1-54v1m0 10v1m0 3v1m0 26v3m0 2v5m1-52v1m0 44v6m1-55v2m0 15v3m0 16v2m0 18v1m1-53v1m0 48v2m1-72v5m0 19v1m0 46v2m1-75v2m0 6v1m0 15v1m0 27v1m0 3v2m0 16v1m1-71v1m0 8v1m0 19v1m0 4v1m0 14v1m0 4v1m0 16v2m1-77v1m0 9v3m0 22v3m0 29v4m1-72v2m0 6v1m0 21v1m0 3v1m0 27v1m0 4v7m1-59v1m0 14v2m0 31v1m0 2v2m0 9v2m1-73v1m0 6v1m0 17v1m0 45v1m1-76v1m0 7v1m0 7v1m0 11v1m0 3v1m0 30v4m0 3v2m1-76v1m0 9v1m0 10v1m0 55v1m1-77v1m0 8v1m0 2v2m0 18v1m0 21v2m0 26v1m1-80v1m0 28v9m0 32v3m1-74v1m0 8v1m0 13v1m0 47v1m1-74v1m0 8v1m0 12v1m0 9v1m0 46v1m1-77v1m0 12v1m0 9v1m0 28v3m0 23v1m1-81v1m0 9v1m0 4v2m0 15v1m0 8v1m0 11v1m0 2v1m0 10v1m0 11v1m1-81v1m0 11v2m0 7v3m0 4v2m0 6v5m0 25v1m0 4v2m0 3v2m1-80v1m0 14v5m0 5v2m0 4v1m0 5v2m0 16v3m0 8v1m0 4v5m0 6v2m1-77v1m0 28v5m0 25v1m0 4v2m0 2v3m1-83v1m0 11v1m0 7v1m0 5v1m0 49v7m1-87v2m0 6v1m0 5v1m0 24v1m0 23v3m0 18v2m1-86v2m0 7v1m0 6v1m0 6v1m0 29v1m0 36v1m1-96v2m0 6v1m0 13v3m0 2v2m0 13v2m0 8v6m0 37v1m1-95v2m0 6v1m0 13v2m0 12v2m0 17v1m0 26v1m0 3v1m0 8v1m1-87v2m0 24v1m0 19v1m0 13v1m0 25v2m1-86v1m0 8v9m0 12v2m0 45v8m1-86v5m0 8v1m0 6v1m0 17v5m0 3v2m0 36v2m1-91v6m0 11v2m0 4v1m0 10v3m0 10v6m0 36v1m1-91v1m0 8v1m0 19v9m0 18v1m0 28v3m1-87v2m0 9v1m0 4v1m0 14v2m0 5v2m0 7v2m0 5v1m0 24v3m0 5v2m1-88v2m0 8v1m0 5v1m0 12v1m0 4v2m0 14v1m0 3v1m0 33v2m1-97v7m0 11v1m0 10v1m0 6v1m0 8v1m0 15v1m0 23v1m0 7v5m1-79v1m0 16v2m0 6v1m0 9v1m0 3v1m0 23v1m1-76v1m0 9v1m0 4v1m0 11v1m0 9v2m0 9v1m0 26v1m0 5v2m0 6v2m1-89v2m0 7v2m0 1v2m0 12v3m0 20v1m0 27v1m0 9v1m1-93v1m0 25v1m0 8v6m0 15v1m0 31v1m1-89v8m0 2v3m0 13v1m0 22v1m0 25v3m1-66v5m0 7v1m0 5v2m0 9v7m0 4v1m0 23v2m1-69v1m0 11v1m0 16v1m0 7v2m0 4v1m0 22v1m0 2v2m0 4v2m1-81v1m0 18v1m0 8v2m0 7v1m0 7v3m0 35v1m1-82v2m0 16v2m0 9v1m0 12v3m0 38v1m1-86v2m0 7v1m0 8v2m0 11v1m0 7v2m0 31v1m0 4v1m0 5v2m1-88v1m0 23v1m0 2v2m0 14v1m0 28v1m0 11v3m0 4v2m1-94v2m0 8v2m0 2v2m0 8v1m0 6v1m0 11v2m0 3v2m0 29v5m0 7v1m1-92v2m0 7v2m0 2v2m0 6v2m0 7v1m0 21v2m0 8v2m0 24v1m1-96v2m0 7v2m0 17v1m0 7v1m0 4v2m0 6v1m0 12v1m0 25v8m1-93v2m0 10v2m0 8v4m0 15v10m0 7v1m0 21v2m0 4v3m0 5v2m1-97v1m0 10v4m0 4v2m0 30v2m0 1v2m0 15v2m0 24v2m1-97v2m0 11v5m0 65v2m0 10v1m1-90v2m0 8v1m0 16v2m0 12v1m0 8v1m0 18v2m0 2v2m0 7v5m1-97v1m0 11v2m0 17v1m0 20v2m0 25v1m0 4v1m0 13v2m1-98v1m0 11v5m0 31v1m0 13v1m0 14v1m0 6v1m0 11v2m1-103v1m0 10v5m0 8v2m0 11v2m0 4v3m0 6v1m0 10v1m0 18v2m0 5v1m0 9v1m1-96v2m0 12v4m0 15v1m0 4v1m0 13v1m0 9v2m0 28v3m1-76v1m0 32v1m0 7v1m0 25v2m1-79v1m0 10v1m0 4v2m0 9v1m0 47v1m1-87v1m0 8v1m0 4v1m0 9v1m0 7v5m0 5v1m0 14v4m0 8v1m0 6v1m0 9v3m0 9v2m1-105v1m0 8v5m0 9v1m0 15v1m0 35v3m0 9v4m0 12v1m1-100v2m0 5v2m0 8v3m0 21v2m0 14v2m0 4v1m0 21v4m0 8v2m1-94v1m0 10v2m0 13v2m0 4v2m0 4v1m0 40v1m0 4v2m0 4v2m1-88v2m0 8v2m0 1v2m0 13v2m0 20v1m0 3v1m0 18v1m0 4v1m0 7v2m1-92v1m0 11v1m0 4v3m0 8v2m0 23v2m0 4v1m0 19v6m0 8v2m1-100v1m0 16v1m0 12v1m0 20v1m0 4v1m0 27v1m0 3v1m0 11v2m1-106v1m0 14v3m0 18v3m0 1v2m0 13v3m0 12v1m0 16v7m0 11v2m1-107v2m0 20v1m0 9v9m0 16v2m0 6v5m0 2v2m0 15v4m0 9v2m1-98v2m0 24v1m0 2v2m0 16v1m0 50v1m1-103v1m0 14v1m0 26v1m0 17v2m0 22v1m0 9v1m1-97v1m0 15v2m0 10v6m0 6v1m0 18v1m0 6v1m0 24v5m0 9v1m1-105v1m0 10v1m0 15v2m0 6v2m0 5v1m0 46v1m0 5v1m0 7v2m1-103v1m0 13v1m0 16v1m0 7v3m0 11v1m0 6v1m0 25v1m0 4v2m0 5v2m1-99v10m0 12v3m0 15v1m0 13v4m0 29v1m0 3v3m0 2v3m1-104v6m0 7v2m0 5v2m0 7v1m0 11v9m0 13v2m0 14v1m0 14v2m0 1v3m0 3v2m1-90v1m0 32v4m0 6v5m0 29v2m0 3v3m0 3v2m1-89v2m0 22v4m0 14v1m0 7v1m0 22v1m0 7v2m0 4v2m1-102v2m0 10v1m0 13v1m0 8v1m0 2v2m0 17v1m0 2v2m0 27v1m0 7v2m0 2v2m1-101v6m0 12v1m0 11v3m0 3v2m0 26v1m0 20v14m1-102v1m0 8v6m0 16v3m0 22v1m0 9v1m0 21v2m0 2v1m0 5v2m1-99v1m0 30v1m0 3v2m0 20v1m0 6v1m0 14v2m0 12v1m0 5v1m1-95v3m0 3v5m0 14v2m0 12v1m0 17v3m0 15v2m0 9v2m0 10v1m1-98v1m0 22v4m0 8v4m0 12v1m0 5v1m0 18v1m0 8v2m0 11v1m1-100v6m0 2v4m0 12v2m0 14v1m0 12v1m0 3v1m0 14v2m0 16v1m0 7v1m1-96v5m0 6v1m0 8v1m0 5v1m0 5v4m0 14v2m0 17v1m0 9v7m0 6v1m1-93v2m0 4v2m0 6v1m0 10v3m0 1v5m0 15v4m0 16v2m0 7v2m0 1v3m0 2v2m0 6v1m1-95v2m0 12v1m0 10v3m0 38v2m0 13v1m0 3v4m0 6v1m1-100v2m0 8v2m0 3v1m0 11v5m0 17v1m0 6v2m0 16v1m0 11v2m0 8v2m1-97v1m0 11v1m0 2v1m0 32v4m0 4v2m0 5v1m0 7v5m0 11v1m0 9v1m1-95v2m0 63v1m0 5v8m0 6v1m0 3v2m0 3v2m1-99v2m0 7v2m0 11v1m0 43v1m0 4v1m0 8v1m0 11v2m0 3v2m1-102v1m0 9v1m0 12v1m0 28v1m0 9v1m0 12v1m0 3v7m0 3v6m1-93v3m0 12v1m0 5v1m0 10v1m0 20v3m0 14v2m0 4v3m0 5v1m0 5v2m1-94v1m0 11v1m0 19v4m0 24v1m0 4v1m0 9v4m0 7v2m0 10v2m1-102v1m0 16v4m0 7v2m0 17v3m0 6v2m0 4v2m0 3v2m0 13v3m0 3v1m0 13v1m1-104v2m0 16v2m0 3v2m0 5v1m0 6v1m0 19v1m0 8v2m0 9v1m0 14v1m0 9v2m1-105v1m0 7v2m0 9v2m0 19v1m0 17v2m0 6v2m0 11v1m0 15v2m0 6v2m1-92v2m0 12v2m0 7v3m0 13v1m0 4v1m0 9v2m0 11v4m0 3v2m0 9v2m0 2v2m1-104v2m0 14v1m0 7v2m0 6v3m0 21v3m0 6v2m0 16v1m0 10v1m0 6v1m1-92v2m0 20v3m0 21v1m0 12v1m0 10v2m0 9v3m0 7v2m1-103v2m0 11v4m0 5v1m0 27v1m0 4v1m0 24v2m0 14v2m0 5v2m1-106v1m0 12v1m0 12v3m0 3v2m0 7v1m0 20v3m0 12v2m0 1v2m0 5v1m0 9v1m0 7v2m1-92v2m0 36v2m0 23v1m0 3v1m0 8v3m0 10v1m1-96v1m0 8v2m0 8v1m0 21v1m0 4v1m0 37v1m0 8v5m1-98v1m0 5v2m0 9v2m0 2v2m0 6v1m0 17v2m0 2v9m0 14v2m0 3v3m0 1v2m0 11v2m1-105v1m0 14v7m0 10v2m0 31v3m0 11v8m0 7v1m0 9v1m1-107v2m0 12v2m0 4v1m0 13v1m0 3v1m0 14v1m0 6v6m0 3v1m0 11v1m0 5v5m0 1v6m0 5v1m1-95v2m0 52v2m0 4v1m0 10v3m0 5v7m0 1v2m0 5v1m1-99v1m0 12v7m0 6v2m0 7v1m0 20v2m0 5v1m0 15v5m0 8v1m0 7v1m1-100v1m0 13v2m0 34v1m0 12v1m0 15v3m0 9v1m0 7v1m1-101v1m0 51v2m0 8v1m0 17v4m0 4v2m0 3v2m0 2v2m1-100v1m0 13v3m0 9v4m0 19v1m0 6v2m0 26v1m0 7v2m0 4v2m1-86v1m0 4v1m0 6v2m0 2v1m0 13v5m0 12v2m0 15v1m0 7v1m0 4v1m0 7v2m1-102v2m0 12v4m0 26v1m0 6v2m0 3v2m0 5v1m0 13v1m0 4v2m0 2v2m0 5v3m0 4v2m1-102v2m0 9v2m0 1v2m0 10v1m0 3v1m0 13v1m0 5v6m0 21v3m0 5v1m0 11v4m1-97v1m0 37v1m0 16v1m0 25v1m0 5v2m0 4v2m1-96v2m0 13v4m0 9v3m0 19v2m0 8v1m0 11v1m0 3v1m0 9v6m0 4v2m1-101v1m0 12v2m0 7v1m0 8v2m0 18v1m0 3v2m0 29v3m0 6v6m1-99v1m0 29v1m0 19v1m0 6v1m0 15v8m1-84v1m0 10v1m0 8v2m0 6v1m0 12v1m0 14v1m0 5v1m0 14v2m0 1v4m0 4v1m1-87v1m0 10v1m0 6v1m0 29v4m0 2v4m0 16v2m0 6v9m0 5v2m1-95v1m0 9v4m0 12v2m0 16v1m0 6v4m0 6v1m0 10v1m0 9v7m0 8v1m1-99v7m0 6v1m0 11v1m0 9v1m0 12v2m0 5v2m0 28v1m0 3v2m0 8v1m1-105v2m0 6v3m0 23v2m0 7v1m0 12v3m0 21v1m0 10v1m0 10v1m1-105v2m0 6v2m0 13v1m0 9v6m0 21v1m0 8v1m0 11v1m0 12v1m0 8v1m1-97v6m0 15v3m0 10v2m0 1v2m0 12v1m0 6v1m0 17v1m0 10v2m0 7v1m1-95v1m0 22v11m0 36v1m0 2v6m0 10v1m0 8v1m1-101v1m0 10v1m0 2v2m0 16v2m0 21v9m0 8v2m0 1v2m0 5v1m0 9v1m0 5v1m1-103v2m0 26v1m0 10v1m0 20v1m0 9v1m0 7v1m0 7v2m0 6v7m1-76v2m0 38v1m0 15v1m0 11v1m0 6v1"/><path stroke="#0000d9" d="M0.5 105v1m1-20v1m0 19v1m1-22v1m0 21v1m1-23v1m0 21v1m2-25v1m1-1v1m0 22v1m1-24v1m1 1v1m0 20v1m1-23v1m2 1v1m1 0v1m1 18v1m1-26v1m1 24v1m1-23v1m1 22v1m1-22v1m0 19v1m1-22v1m1 21v1m3-25v1m1 22v1m1-22v1m1-1v1m5 0v1m0 20v1m1-28v1m0 25v1m1-29v1m0 26v1m1-27v3m0 23v1m1-30v1m0 30v1m1-31v1m0 26v1m1-24v1m1-8v5m1-5v1m1 27v1m1-31v1m1-2v1m0 34v1m1-37v1m0 33v1m1-37v1m1 34v1m1-34v1m0 32v1m1-33v1m0 30v1m1-33v1m0 33v1m1 2v1m1-37v1m0 28v1m1-31v1m0 5v2m1-10v1m0 8v1m0 2v1m0 24v1m1-40v1m0 38v1m1-37v1m0 36v1m1-39v1m1-2v1m0 37v1m1-40v1m0 36v1m1-36v1m0 35v2m1-40v2m0 34v1m1-40v1m0 13v3m0 21v1m1-42v5m0 2v3m0 34v1m1-41v2m0 5v3m0 30v1m1-32v1m0 29v1m1-38v1m0 37v1m1-37v1m1-2v1m0 36v1m1-45v1m0 9v3m0 31v1m1-47v1m0 4v2m0 1v3m0 34v1m1-38v1m0 29v8m1-47v7m1-4v1m0 6v3m0 21v4m0 7v2m1-40v2m0 37v1m1 1v1m1-51v1m0 7v2m0 3v1m0 36v1m1-47v6m0 3v2m0 25v1m1-33v1m0 26v1m0 4v1m0 8v1m1-47v2m0 29v2m0 8v1m1-49v5m0 13v1m0 29v8m1-40v1m0 21v3m0 6v2m1-33v1m0 21v2m0 4v1m0 5v2m1-50v1m0 10v1m0 3v1m0 21v4m0 6v1m1-51v1m1-4v2m0 8v2m0 10v1m0 21v1m1-45v1m0 31v2m0 10v4m0 11v1m1-61v1m0 6v2m0 5v1m0 7v2m0 11v2m0 21v1m1-54v1m0 16v3m0 31v2m1-55v1m0 7v1m0 4v1m0 37v2m1-57v1m0 6v1m0 7v3m0 30v2m0 10v1m1-58v1m0 5v5m0 34v2m1-49v2m0 42v2m0 3v3m1-55v2m0 16v1m0 16v1m0 2v1m0 21v3m1-53v8m0 19v1m0 24v1m1-54v1m0 41v7m1-53v1m1 0v2m0 8v3m0 15v1m0 6v1m0 14v1m1-48v1m0 46v2m1-50v1m0 46v3m1-52v1m0 8v1m0 5v1m0 39v1m1-54v1m0 6v7m0 5v1m1-20v1m0 6v1m0 5v3m0 2v1m0 26v1m1-39v1m0 6v2m0 33v2m1-46v11m0 19v2m0 10v1m0 5v1m1-57v1m0 6v1m0 7v2m0 24v1m1-39v1m0 8v2m0 28v1m1-39v1m0 38v1m0 2v2m0 6v1m1-40v1m0 2v1m0 20v2m0 11v1m1-52v1m0 8v4m0 34v1m1-50v1m0 15v3m0 26v1m0 3v5m1-55v1m0 32v3m0 14v3m0 5v2m1-55v1m0 40v5m0 6v2m1-40v1m0 2v1m0 29v1m1-54v1m0 45v2m1-39v1m0 9v1m0 36v1m1-49v1m0 9v2m0 4v1m0 28v2m1-49v1m0 42v2m1-53v1m0 54v1m1-47v1m0 8v1m0 31v5m0 5v1m1-50v1m0 8v1m0 3v1m1-17v1m0 5v2m0 9v1m0 20v1m0 4v1m0 7v1m1-56v1m0 11v1m0 6v1m0 23v5m0 9v1m1-57v1m0 11v3m0 6v1m0 27v2m0 2v2m1-50v2m0 12v3m0 24v2m1-51v7m0 9v1m0 2v2m0 23v1m0 1v2m0 4v2m1-48v1m0 9v3m0 15v3m0 20v1m1-53v2m0 29v2m0 13v1m0 5v3m1-57v1m0 13v4m0 26v1m0 13v2m1-61v1m0 7v6m0 27v1m0 9v1m0 5v2m1-53v1m0 3v2m0 9v1m0 34v1m1-54v1m0 7v1m0 7v1m0 10v1m0 4v2m0 18v1m1-54v1m0 11v5m0 14v1m0 23v1m1-2v1m1-55v1m0 12v2m0 3v1m0 24v1m1-45v1m0 13v4m0 28v1m0 6v2m1-55v1m0 20v1m0 22v1m1-44v1m0 17v3m0 20v1m1-38v1m0 36v1m1-42v1m0 13v2m0 2v2m0 29v3m1-50v1m0 8v1m0 5v2m0 22v2m1-41v1m0 41v2m1-47v1m0 13v1m0 3v2m0 13v1m0 2v1m0 16v1m1-9v6m1-19v2m0 17v1m1-71v1m0 3v2m0 17v1m0 32v1m0 14v1m1-69v1m0 6v1m0 6v1m0 12v1m0 6v1m0 12v1m0 6v1m0 13v2m1-74v1m0 7v1m0 3v7m0 14v1m0 3v1m0 25v3m1-66v1m0 4v1m0 10v1m0 10v1m0 5v1m1-20v1m0 12v1m0 2v2m0 3v3m0 11v2m0 9v1m0 5v1m0 7v1m1-70v1m0 3v2m0 7v1m0 9v1m0 8v1m0 35v2m1-74v1m0 5v1m0 19v1m0 5v2m0 32v3m1-73v1m0 7v1m0 28v4m0 23v3m0 8v1m1-75v1m0 6v1m0 5v1m0 27v1m0 10v1m0 2v1m0 24v1m1-78v1m0 21v6m0 9v1m0 29v2m1-63v1m0 15v2m0 44v1m1-72v1m0 6v1m0 14v1m0 7v1m0 12v1m0 33v1m1-75v1m0 10v1m0 11v1m0 11v3m0 16v1m0 21v1m1-79v1m0 7v1m0 7v1m0 39v1m0 8v1m0 1v2m0 8v1m1-79v1m0 8v2m0 2v2m0 3v2m0 3v4m0 13v2m0 22v1m0 7v3m1-77v1m0 11v2m0 5v5m0 7v2m0 2v1m0 7v1m0 13v1m0 6v1m0 10v6m1-74v1m0 17v2m0 6v2m0 5v1m0 23v1m0 7v2m1-67v1m0 5v1m0 7v1m0 19v3m0 11v2m0 12v1m1-78v6m0 7v1m0 9v3m0 10v1m0 11v1m0 11v1m0 3v1m0 16v1m1-82v2m0 3v2m0 8v1m0 4v1m0 31v1m0 34v1m1-93v6m0 17v2m0 17v3m0 2v3m0 6v1m0 35v1m1-92v2m0 1v3m0 16v1m0 9v2m0 20v1m0 24v1m0 5v2m0 5v1m1-84v1m0 6v2m0 14v1m0 21v1m0 11v1m0 1v1m0 10v3m0 10v1m1-83v2m0 4v2m0 39v1m0 26v2m1-64v2m0 2v2m0 28v1m0 11v3m0 18v3m1-70v4m0 14v3m0 2v5m0 6v1m0 11v3m0 10v2m0 8v1m1-89v2m0 4v2m0 1v2m0 15v2m0 28v1m0 16v11m1-82v1m0 6v2m0 6v1m0 22v1m0 5v1m0 8v1m0 20v3m0 3v5m1-84v1m0 6v1m0 7v1m0 10v1m0 7v1m0 12v1m0 31v7m1-67v1m0 8v1m0 6v1m0 39v1m1-65v1m0 14v1m0 9v1m0 7v1m0 5v1m0 21v1m1-74v2m0 5v2m0 6v1m0 9v1m0 22v1m0 33v1m0 4v1m1-85v1m0 5v1m0 5v1m0 9v2m0 24v1m0 11v2m0 11v2m0 1v1m0 7v1m1-91v2m0 20v3m0 61v1m1-75v2m0 10v1m0 24v1m0 23v1m1-58v1m0 5v1m0 8v1m0 6v2m0 12v1m0 21v1m1-66v1m0 9v1m0 18v1m0 34v1m0 5v4m1-78v2m0 27v1m0 5v1m0 11v2m0 31v2m1-79v7m0 21v2m0 8v2m0 3v1m0 14v2m0 20v1m1-83v7m0 1v2m0 5v1m0 14v2m0 3v2m0 2v1m0 29v1m0 6v5m1-85v2m0 5v4m0 11v1m0 18v1m0 10v1m0 17v1m0 15v4m1-90v1m0 6v1m0 6v1m0 5v2m0 8v1m0 17v2m0 25v2m0 5v2m0 4v1m1-89v3m0 1v3m0 6v2m0 3v1m0 10v1m0 13v7m0 12v1m0 12v4m0 6v1m1-93v1m0 5v1m0 20v2m0 3v2m0 7v1m0 3v2m0 14v1m0 23v1m1-83v2m0 6v2m0 2v2m0 4v2m0 4v2m0 12v1m0 38v1m0 9v5m1-94v1m0 8v1m0 4v4m0 12v1m0 18v1m0 5v1m0 13v1m0 2v1m0 10v8m0 3v2m1-93v1m0 9v1m0 5v2m0 9v3m0 24v4m0 8v3m0 11v1m0 2v1m0 8v1m1-87v1m0 6v1m0 19v1m0 10v1m0 10v1m0 23v1m0 5v1m1-81v1m0 20v1m0 17v2m0 13v1m0 12v1m0 6v2m0 5v6m1-95v1m0 9v1m0 5v1m0 13v6m0 9v2m0 28v1m0 8v1m0 9v1m1-100v1m0 8v1m0 5v1m0 6v1m0 15v4m0 3v6m0 12v1m0 14v3m0 8v1m0 7v1m1-93v12m0 4v2m0 12v1m0 6v1m0 11v1m0 12v1m0 18v2m0 5v2m1-72v2m0 29v1m0 9v1m0 6v3m0 13v2m1-76v2m0 6v2m0 7v1m0 6v2m0 1v2m0 11v3m0 17v2m0 11v1m1-85v1m0 6v1m0 6v1m0 7v1m0 32v1m0 4v1m0 6v1m0 8v1m0 7v1m0 3v1m0 7v1m1-102v2m0 4v2m0 5v1m0 25v1m0 33v1m0 3v1m0 7v1m0 4v1m0 9v2m1-97v5m0 13v2m0 17v2m0 2v1m0 11v2m0 7v1m0 16v4m0 4v2m0 5v1m1-91v2m0 6v2m0 17v4m0 7v1m0 38v1m0 7v4m1-84v1m0 5v2m0 5v1m0 10v2m0 2v1m0 18v1m0 5v1m0 16v1m0 6v1m0 5v1m1-89v1m0 9v1m0 8v8m0 2v3m0 18v2m0 7v1m0 17v1m0 6v1m0 6v1m1-97v1m0 13v2m0 14v3m0 23v2m0 3v4m0 17v1m0 5v1m0 8v2m1-103v2m0 10v2m0 3v1m0 10v7m0 18v1m0 16v1m0 14v1m0 7v2m0 7v2m1-103v1m0 18v1m0 19v1m0 12v3m0 31v1m0 4v1m0 7v1m1-94v1m0 14v1m0 6v2m0 5v2m0 32v1m0 15v7m0 9v1m1-101v1m0 12v1m0 28v1m0 11v5m0 2v2m0 19v1m0 11v1m1-97v1m0 12v2m0 41v2m0 8v1m0 22v1m0 5v1m0 7v1m1-103v1m0 8v1m0 18v1m0 4v1m0 61v2m0 4v1m1-100v2m0 3v8m0 18v2m0 3v2m0 3v1m0 9v1m0 8v1m0 31v5m1-44v1m0 4v2m0 26v1m0 7v2m1-86v5m0 10v1m0 8v2m0 9v1m0 10v2m0 2v1m0 12v1m0 1v2m0 11v1m0 6v3m1-87v1m0 21v4m0 5v1m0 4v2m0 3v1m0 5v1m0 27v1m0 8v3m1-85v9m0 12v1m0 4v1m0 12v1m0 9v1m0 20v1m0 10v4m1-98v2m0 6v2m0 22v1m0 5v1m0 15v1m0 5v1m0 20v6m0 10v2m1-80v1m0 9v1m0 8v1m0 13v1m0 12v1m0 18v1m1-87v2m0 5v1m0 6v2m0 13v1m0 3v8m0 25v1m0 10v4m0 5v1m0 5v2m0 2v1m1-96v2m0 16v2m0 16v1m0 4v4m0 10v1m0 8v1m0 11v2m0 15v5m1-91v3m0 5v1m0 12v1m0 30v2m0 3v1m0 12v2m0 13v3m0 6v1m1-96v2m0 4v3m0 11v2m0 4v1m0 6v1m0 4v1m0 18v1m0 16v1m0 11v1m0 9v1m1-87v2m0 8v2m0 17v1m0 10v1m0 5v1m0 12v1m1-42v2m0 1v2m0 4v1m0 12v1m0 2v1m0 15v1m0 17v1m0 4v1m1-90v4m0 17v2m0 3v1m0 5v1m0 18v1m0 14v1m0 11v1m0 7v1m0 4v1m1-92v2m0 8v2m0 1v2m0 7v1m0 3v2m0 35v1m0 16v3m0 4v1m0 4v1m1-97v1m0 6v1m0 6v1m0 8v2m0 5v1m0 15v1m0 9v7m0 8v1m0 14v1m0 4v3m1-94v1m0 9v1m0 4v1m0 9v2m0 18v2m0 4v4m0 8v1m0 5v1m0 17v1m0 7v1m1-92v2m0 3v3m0 15v3m0 12v3m0 21v1m0 14v1m0 4v1m0 6v3m1-95v1m0 4v2m0 14v1m0 41v1m0 6v2m0 5v1m0 14v3m1-99v2m0 5v2m0 41v1m0 11v1m0 10v1m1-70v2m0 9v1m0 7v1m0 7v2m0 1v1m0 18v1m0 3v1m0 12v1m0 15v1m0 3v1m1-91v2m0 7v2m0 9v1m0 9v1m0 4v1m0 6v4m0 12v1m0 6v1m0 6v2m0 13v4m0 5v1m1-99v1m0 13v2m0 4v3m0 2v2m0 2v2m0 12v3m0 11v4m0 15v5m0 7v2m0 9v2m1-101v1m0 7v3m0 4v1m0 7v5m0 26v1m0 19v1m0 24v1m1-102v2m0 3v2m0 13v2m0 15v2m0 1v1m0 11v5m0 10v1m0 9v1m0 18v1m0 4v1m1-104v1m0 11v2m0 16v1m0 5v1m0 3v1m0 18v1m0 7v1m0 2v1m0 9v1m0 4v3m0 13v2m1-100v3m0 10v1m0 10v6m0 3v2m0 15v4m0 11v2m0 12v2m0 12v1m0 4v1m1-89v9m0 9v2m0 3v1m0 19v1m0 38v7m1-99v1m0 4v6m0 10v1m0 32v9m0 14v1m0 18v1m0 2v2m1-103v1m0 10v1m0 16v3m0 28v2m0 3v1m0 10v1m0 5v5m0 11v1m0 5v1m1-88v1m0 16v3m0 15v1m0 2v2m0 7v4m0 9v1m0 5v1m0 5v2m1-71v1m0 5v2m0 1v2m0 8v2m0 8v1m0 6v1m0 26v2m0 7v1m1-83v5m0 13v2m0 9v2m0 14v1m0 13v1m0 11v2m0 2v3m0 6v11m1-102v2m0 10v2m0 19v5m0 9v4m0 12v1m0 3v1m0 8v2m0 16v1m0 7v1m1-104v1m0 9v2m0 19v1m0 5v1m0 30v1m0 9v1m0 11v1m0 6v5m1-92v4m0 18v6m0 15v1m0 7v1m0 7v1m0 8v1m0 18v5m1-97v1m0 9v2m0 7v2m0 3v1m0 10v2m0 4v5m0 2v7m0 20v3m0 14v1m1-92v1m0 10v2m0 2v2m0 26v6m0 14v1m0 10v4m0 13v1m0 5v1m1-99v1m0 48v2m0 11v1m0 11v5m0 4v4m0 7v2m1-97v1m0 11v1m0 3v1m0 7v1m0 4v1m0 17v1m0 9v2m0 23v1m0 10v4m1-103v2m0 2v6m0 8v1m0 6v1m0 4v1m0 5v1m0 10v2m0 19v1m0 13v1m0 14v1m0 5v1m1-98v1m0 10v1m0 4v1m0 7v3m0 24v3m0 8v1m0 11v1m0 7v2m0 10v4m1-98v2m0 6v1m0 14v1m0 5v1m0 11v1m0 12v9m0 11v1m0 3v2m0 1v2m1-80v1m0 21v4m0 10v1m0 18v1m0 16v2m0 5v1m0 8v4m1-92v2m0 10v1m0 4v1m0 7v1m0 3v1m0 17v1m0 21v1m0 5v2m0 4v3m0 6v4m1-98v1m0 10v1m0 10v1m0 6v1m0 2v2m0 15v1m0 6v2m0 1v3m0 21v2m1-83v2m0 3v6m0 3v4m0 10v1m0 6v1m0 35v1m1-66v1m0 11v2m0 2v2m0 14v1m0 12v1m0 7v1m0 12v1m0 7v4m1-85v1m0 8v1m0 8v1m0 10v6m0 11v1m0 4v2m0 4v6m0 27v5m1-92v1m0 7v1m0 4v1m0 10v1m0 2v2m0 32v1m0 8v1m0 17v1m0 6v1m1-51v1m0 9v1m0 19v8m0 6v1m0 5v2m1-102v6m0 3v7m0 14v2m0 21v1m0 3v2m0 18v1m0 12v1m0 8v1m1-102v1m0 4v1m0 16v1m0 5v3m0 6v2m0 54v1m1-83v2m0 11v2m0 3v3m0 5v2m0 16v1m0 8v1m0 15v1m0 13v2m0 4v1m1-93v1m0 7v3m0 10v1m0 11v3m0 32v1m0 20v1m0 6v1m1-99v2m0 7v1m0 19v2m0 2v2m0 17v2m0 9v2m0 5v1m0 5v5m0 11v5m1-75v1m0 12v1m0 18v1m0 11v2m0 3v2m0 10v6m1-89v2m0 17v1m0 19v1m0 12v1m0 8v1m0 27v2m0 2v2"/><path stroke="#0000f6" d="M0.5 84v1m0 19v1m1-18v1m1-2v1m1 19v1m1-23v1m1-1v1m2 22v1m2-23v1m1-1v1m2 20v1m1-21v1m1-5v1m1 2v1m2-2v1m2 21v1m1-23v1m1-2v1m1 22v1m2-22v1m1 20v1m1-1v1m1-21v1m0 20v1m1-22v1m1-2v1m0 20v1m1-22v1m3-7v1m0 24v1m1-23v2m0 20v1m1-28v1m1 0v1m1 3v1m0 23v1m1-24v1m0 20v1m1-30v1m0 26v1m1-28v1m0 25v1m1-29v1m0 28v1m1-31v1m0 32v1m2-37v1m0 33v1m1-36v1m0 33v1m1-1v1m1-2v1m1-31v1m0 30v2m1-36v1m0 8v2m0 27v1m1-35v1m1-2v5m0 2v1m0 22v1m1-26v1m0 27v1m1-1v1m1-35v1m0 34v1m1-37v1m0 35v1m1-38v1m0 35v1m1-38v1m0 34v1m1-34v1m0 32v2m1-36v1m0 32v1m1-38v1m0 11v1m0 3v1m0 19v1m1-31v1m0 32v1m1-38v1m0 2v2m0 3v1m0 28v1m1-2v1m1-36v1m1 34v1m1-35v1m1-8v1m0 7v1m0 3v1m1-15v4m0 6v2m0 31v1m1-36v1m0 26v2m1-32v2m0 23v9m0 8v1m1-46v1m0 3v2m0 3v1m0 24v2m0 3v2m1-36v1m0 35v1m1-37v1m0 37v1m1-49v2m0 4v1m0 6v1m0 23v3m0 8v1m1-11v1m1-31v2m0 23v1m0 6v1m0 6v1m1-44v6m0 3v4m0 14v2m0 11v1m0 6v1m1-38v1m0 17v2m0 8v1m1-31v1m0 19v1m0 3v3m0 1v2m1-30v1m0 19v1m0 7v5m1-47v1m0 8v1m0 5v1m0 19v1m0 4v2m0 2v2m1-49v1m0 39v1m1-43v1m0 6v1m0 2v1m0 8v1m0 1v1m1-23v1m0 29v1m0 2v1m0 13v2m0 8v1m1-59v1m0 4v1m0 8v1m0 5v1m0 2v1m0 9v1m0 2v1m0 19v1m1-52v1m0 14v1m0 23v11m1-52v1m0 5v1m0 6v1m0 35v1m1-54v1m0 3v2m0 11v1m0 27v2m0 2v1m0 8v1m1-56v1m0 3v1m0 5v2m0 30v2m1-45v2m0 7v4m0 28v1m0 2v3m1-50v1m0 5v1m0 10v1m0 19v1m0 16v4m1-42v1m0 17v1m0 1v1m0 22v1m1-14v3m1-45v1m0 37v1m1-37v2m0 5v1m0 3v1m0 35v1m1-46v2m0 36v8m1-47v1m0 5v3m0 36v1m1-48v1m0 6v1m0 7v1m1-14v1m0 4v1m0 32v2m0 12v1m1-53v1m0 4v1m0 33v1m0 5v1m0 7v1m1-56v1m0 6v1m0 9v1m0 19v2m0 10v1m1-56v1m0 9v2m0 24v6m0 13v2m0 1v2m1-55v1m0 3v2m0 10v1m0 22v1m1-37v2m0 4v2m0 2v2m0 25v1m1-37v1m0 24v3m0 15v1m0 3v2m1-50v1m0 9v1m0 4v1m0 17v2m0 2v1m0 9v1m1-50v1m0 6v1m0 4v1m0 22v3m0 6v2m1-48v1m0 13v1m0 3v1m0 13v2m0 9v1m1-45v1m0 9v4m0 21v1m0 12v1m0 3v2m0 2v1m1-52v1m0 44v6m1-54v1m0 14v1m0 32v1m1-52v1m0 43v1m1-36v1m0 7v1m0 5v1m1-16v1m0 7v1m0 34v1m1-46v3m0 37v2m1-50v1m0 8v1m0 42v2m1-31v1m0 23v2m0 5v5m1-48v1m0 6v1m0 38v1m1-50v1m0 3v1m0 31v1m0 6v1m0 5v1m1-54v1m0 9v1m0 22v3m0 5v1m0 5v1m0 7v1m1-55v1m0 9v1m0 10v1m0 18v1m0 9v2m1-46v4m0 7v1m0 3v1m0 21v2m1-42v1m0 7v1m0 5v3m0 19v1m0 4v4m1-45v1m0 7v1m0 3v1m0 17v1m0 10v5m0 2v2m1-50v1m0 27v1m0 2v1m0 11v1m1-47v1m0 7v5m0 4v1m1-19v2m0 3v2m0 6v1m0 25v1m0 11v1m0 3v1m1-50v3m0 36v4m0 5v1m1-52v1m0 5v1m0 9v1m0 8v1m1-27v1m0 9v1m0 5v2m0 11v1m0 1v1m0 12v2m0 7v1m1-54v1m0 12v6m0 20v7m0 6v1m1-42v1m0 6v1m0 22v1m1-43v1m0 16v1m0 21v1m0 6v2m0 3v1m1-40v1m0 29v1m1-26v1m0 3v1m2-21v1m0 11v1m0 6v1m0 26v2m1-9v1m1 2v1m1-44v1m0 11v1m0 6v1m1-18v1m0 39v2m1-39v1m0 24v1m0 2v1m0 15v1m1-69v3m0 20v1m0 24v1m1-46v1m0 4v1m0 59v2m1-71v1m0 5v1m0 11v1m0 12v1m0 5v1m0 23v1m1-62v4m0 29v1m0 24v1m1-34v1m0 5v3m0 3v1m0 12v1m0 15v1m0 5v1m1-68v3m0 10v1m0 51v2m1-71v2m0 1v2m0 10v1m0 8v1m0 8v2m0 25v1m1-65v1m0 5v1m0 13v1m0 14v1m0 4v1m0 21v1m0 3v1m0 6v1m1-73v1m0 4v1m0 7v1m0 6v2m0 7v1m0 38v4m0 6v1m1-70v5m0 8v2m0 16v1m0 20v8m1-68v1m0 5v1m0 18v2m0 41v1m1-70v1m0 21v1m0 5v1m1-17v1m0 13v1m0 8v2m0 3v1m0 11v1m0 4v1m0 18v2m1-77v1m0 15v1m0 12v1m0 10v1m0 9v1m0 12v1m0 4v1m0 6v1m1-77v1m0 6v1m0 6v3m0 36v3m1-58v1m0 31v2m0 18v1m0 4v1m0 4v1m1-56v1m0 13v3m0 2v6m0 8v1m1-34v1m0 3v1m0 20v3m0 4v1m0 16v1m0 10v1m1-63v1m0 6v2m0 3v4m0 5v1m0 44v1m1-79v3m0 11v4m0 66v1m1-47v2m0 22v2m0 20v1m1-89v1m0 20v2m0 4v3m0 55v1m0 2v2m1-82v6m0 2v1m0 50v1m0 8v1m0 3v2m0 6v2m1-80v4m0 67v1m1-60v2m0 31v1m0 13v1m0 16v1m1-46v2m0 35v1m0 2v2m0 5v1m1-86v4m0 5v1m0 12v2m0 45v2m1-70v1m0 4v1m0 9v1m0 11v1m0 10v1m0 3v1m0 28v2m1-72v1m0 4v1m0 9v1m0 8v1m0 9v2m0 1v9m0 6v1m0 10v1m0 12v2m1-69v1m0 18v2m0 3v1m1-10v1m0 11v1m0 5v1m1-43v5m0 9v1m0 7v1m0 24v1m0 23v1m0 9v4m1-83v5m0 53v1m0 17v1m0 5v1m1-88v1m0 10v9m0 34v1m0 21v3m0 3v2m1-72v1m0 8v1m0 26v1m0 13v3m0 5v1m1-56v2m0 1v2m0 10v2m0 1v3m0 26v3m0 6v1m1-64v1m0 7v1m0 20v1m0 4v1m0 7v1m1-46v2m0 13v1m0 12v1m0 3v1m0 26v1m0 15v3m1-70v1m0 7v1m0 14v8m0 6v1m0 12v1m0 2v1m0 9v2m0 7v1m1-72v5m0 17v3m0 5v1m1-43v5m0 4v1m0 9v1m0 6v1m0 10v2m1-40v1m0 4v1m0 8v2m0 2v1m0 11v1m0 8v1m0 9v2m0 21v2m0 9v4m1-85v1m0 11v3m0 12v1m0 8v4m0 31v1m0 4v2m0 3v1m1-91v5m0 23v3m0 10v3m0 39v1m1-80v6m0 6v4m0 8v3m0 8v1m0 19v1m0 18v1m1-78v1m0 6v1m0 35v5m0 7v1m0 11v1m0 13v1m0 8v3m1-90v1m0 7v1m0 8v2m0 5v2m0 3v1m0 14v9m0 4v1m0 6v1m0 3v1m0 9v1m0 4v1m0 6v1m1-80v1m0 30v1m0 28v1m0 7v2m0 1v2m1-90v1m0 47v1m0 16v1m0 20v5m1-88v2m0 5v2m0 7v1m0 11v1m0 6v9m0 17v1m0 11v1m0 10v1m0 4v4m1-98v1m0 5v2m0 7v2m0 2v2m0 42v1m0 8v5m0 12v2m0 4v1m1-74v2m0 9v1m0 33v1m0 2v4m0 10v1m0 2v2m0 2v1m1-68v6m0 34v1m0 4v1m0 3v1m0 11v1m1-72v1m0 4v1m0 10v1m0 4v1m0 5v1m0 9v1m0 3v1m0 15v1m0 2v1m0 9v1m1-83v1m0 4v1m0 8v1m0 5v1m0 20v1m0 11v1m0 6v1m0 4v1m0 16v1m0 5v2m0 3v2m1-99v4m0 8v1m0 6v1m0 18v1m0 15v13m0 2v2m0 5v1m0 5v1m0 6v4m0 4v1m1-75v2m0 10v5m0 5v1m0 8v2m0 10v1m0 14v1m0 10v2m0 1v2m1-88v1m0 3v2m0 31v1m0 13v2m0 21v1m1-71v5m0 8v1m0 8v1m0 5v1m0 16v1m0 22v1m0 8v2m0 2v1m1-87v1m0 30v1m0 13v4m0 26v1m0 8v2m0 3v1m1-95v1m0 10v2m0 19v4m0 12v1m0 8v3m0 4v1m0 23v1m0 6v1m1-99v1m0 8v1m0 6v1m0 7v2m0 13v1m0 10v1m0 18v1m0 12v1m0 10v2m0 4v1m1-100v4m0 46v1m0 20v1m0 12v1m0 6v1m0 5v1m1-92v1m0 11v2m0 1v6m0 9v2m0 11v1m0 19v1m0 12v2m0 7v3m0 5v1m1-88v1m0 39v2m0 9v1m0 17v1m0 13v1m0 6v2m1-105v1m0 9v2m0 27v1m0 14v1m0 32v1m0 7v1m0 5v1m1-101v1m0 27v4m0 9v1m0 33v2m0 9v1m0 9v4m1-97v3m0 28v3m0 25v1m0 22v1m1-44v1m0 10v1m0 7v1m1-28v1m0 12v1m0 14v1m0 10v1m0 4v1m0 9v1m1-76v1m0 7v3m0 9v1m0 4v1m0 2v2m0 7v3m0 7v2m0 13v1m1-53v1m0 17v1m0 10v1m1-50v6m0 17v1m0 5v1m0 7v1m0 13v1m0 26v1m1-30v1m0 14v1m0 8v1m0 7v1m1-84v5m0 9v5m0 7v1m0 12v2m0 11v1m0 21v1m0 4v1m0 3v1m0 8v2m1-93v9m0 5v2m0 2v1m0 8v1m0 7v4m0 4v1m0 29v1m1-60v1m0 27v1m0 13v1m0 6v1m0 8v3m0 18v1m0 4v1m1-93v4m0 3v2m0 7v2m0 7v2m0 2v2m0 16v1m0 8v1m0 4v5m0 5v1m0 13v4m0 4v1m1-84v1m0 6v1m0 20v1m0 26v2m0 20v1m0 5v1m1-83v1m0 6v1m0 9v1m0 23v1m0 13v1m0 19v4m1-76v1m0 19v1m0 12v1m0 5v1m0 12v1m0 21v4m1-89v8m0 5v1m0 5v1m0 6v3m0 31v1m0 25v4m1-95v1m0 4v1m0 8v1m0 6v1m0 8v1m0 13v1m0 17v1m0 6v1m0 16v4m1-90v1m0 7v1m0 14v1m0 2v3m0 14v1m0 19v1m0 2v2m0 19v1m0 5v1m1-89v3m0 3v3m0 15v1m0 10v1m0 3v9m0 11v1m0 16v1m0 2v1m1-84v4m0 17v1m0 5v1m0 21v3m0 19v2m0 1v2m1-79v5m0 16v1m0 39v1m0 8v1m1-67v2m0 6v1m0 20v1m0 16v1m0 5v1m0 6v5m0 17v3m1-88v4m0 1v2m0 12v1m0 7v1m0 6v1m0 3v2m0 4v1m0 10v1m0 8v1m0 3v2m0 19v5m1-97v2m0 9v2m0 9v2m0 6v1m0 9v2m0 25v1m0 5v2m0 14v4m0 4v1m1-98v1m0 4v2m0 3v4m0 21v1m0 16v1m0 12v1m0 6v1m0 17v1m0 5v2m1-99v3m0 17v2m0 12v1m0 4v1m0 9v1m0 16v1m0 7v1m0 20v4m1-102v2m0 6v3m0 19v1m0 3v1m0 16v1m0 7v1m0 5v1m0 4v1m0 7v1m1-74v2m0 30v1m0 13v1m0 17v2m0 9v1m0 15v2m0 1v1m1-79v1m0 14v1m0 17v1m0 15v1m0 8v1m1-77v4m0 42v1m0 15v2m0 11v1m0 20v2m1-100v1m0 8v1m0 30v1m0 16v1m0 6v1m0 32v1m0 2v2m1-86v16m0 3v1m0 13v1m0 5v7m0 4v2m0 6v1m0 7v5m1-68v5m0 12v1m0 2v2m0 5v1m0 8v1m0 9v3m0 11v2m0 2v3m0 2v2m1-51v2m0 11v1m0 15v1m1-66v2m0 6v2m0 26v1m0 7v1m0 4v2m0 8v2m0 5v1m0 6v1m0 19v1m0 5v1m1-102v9m0 9v1m0 10v1m0 7v1m0 11v1m1-37v3m0 13v2m0 6v1m0 12v2m0 1v2m0 4v1m0 16v1m1-72v1m0 7v1m0 11v3m0 13v4m0 5v2m0 15v1m0 10v1m0 18v2m0 3v1m1-97v2m0 7v1m0 30v2m0 30v1m0 18v1m0 3v1m1-97v1m0 13v1m0 30v3m0 14v1m0 9v1m1-74v1m0 9v1m0 5v1m0 5v1m0 22v1m0 12v5m0 11v3m0 2v2m1-86v2m0 6v1m0 6v1m0 8v4m0 39v1m0 11v1m0 16v1m0 3v1m1-96v3m0 4v3m0 6v2m0 3v2m0 3v4m0 10v1m1-40v6m0 6v1m0 7v1m0 7v1m0 32v1m0 9v1m0 6v1m1-77v2m0 10v2m0 6v1m0 34v1m0 14v1m0 2v5m1-77v1m0 8v1m0 12v1m0 5v1m0 14v2m0 12v1m0 8v1m0 8v4m1-84v1m0 8v1m0 12v1m0 3v2m0 5v1m0 23v1m0 3v1m0 10v10m1-79v3m0 6v3m0 4v1m0 7v2m0 20v1m0 8v1m0 12v1m1-74v1m0 7v1m0 14v2m0 49v1m1-65v1m0 19v1m0 6v1m0 9v1m0 17v1m0 8v1m1-69v1m0 5v1m0 15v1m0 5v1m0 12v1m0 46v2m0 3v1m1-83v1m0 9v1m0 11v1m0 21v3m0 15v1m0 15v5m1-84v1m0 10v3m0 12v1m0 16v2m0 15v1m0 14v1m1-93v4m0 18v5m0 11v1m0 17v1m0 10v1m0 9v1m0 15v1m0 5v1m1-88v1m0 9v1m0 8v5m0 7v1m0 34v1m0 16v4m1-91v2m0 3v2m0 3v1m0 8v1m0 29v1m0 39v1m0 4v1m1-96v1m0 5v1m0 6v1m0 19v1m0 15v1m0 13v1m0 3v1m1-73v1m0 38v1m0 16v1m0 14v3m1-79v1m0 5v2m0 2v2m0 5v2m0 6v2m0 21v1m0 34v1m0 15v2"/><path stroke="#0003ff" d="M0.5 85v1m0 17v1m1 1v1m1-19v1m0 18v1m1-21v1m3-3v1m1-1v1m3 21v1m1-20v1m3 17v1m2-21v1m1 20v1m1-20v1m1-2v1m3-3v1m1-1v1m2 1v1m1-1v1m2 0v1m2 18v1m1-20v1m1-7v1m0 23v1m1-26v1m0 22v1m1-20v1m1-7v1m0 27v1m1-28v1m0 3v4m0 16v1m1 1v1m2-30v1m2-3v1m0 26v1m1-29v1m0 7v3m1-13v1m0 31v1m1-2v1m1-34v1m0 8v2m0 21v1m1-31v1m0 29v1m1-30v1m0 26v2m1-4v5m1-33v1m0 6v1m0 2v1m1 19v1m1-21v1m0 20v1m1-32v1m0 5v1m0 5v1m0 21v1m1-37v1m0 7v6m0 22v1m2 0v1m1-2v1m1-25v2m1-11v1m0 30v1m1-33v1m1-5v1m0 15v1m1-11v1m0 30v1m1-36v2m0 6v1m1-2v1m1 28v1m1-35v1m1-1v1m0 33v1m1-30v1m0 28v1m1-33v1m1 21v1m1-6v1m0 9v1m0 6v1m1-44v3m0 25v1m0 6v3m1-33v2m0 32v1m1-21v2m0 12v2m0 6v1m1-46v4m0 34v1m1-27v1m1-5v3m0 28v1m0 4v1m1-37v3m0 4v1m0 9v4m0 14v1m0 4v1m1-22v3m0 2v2m0 5v1m1-29v1m0 17v1m0 7v1m1-27v1m0 17v1m1-26v1m0 7v1m0 17v1m0 7v2m1-46v7m1-9v1m0 4v1m0 4v1m0 6v1m0 3v1m0 18v1m1-42v1m0 40v1m0 6v1m0 6v1m1-57v4m0 10v1m0 3v1m0 17v1m0 5v4m0 8v1m1-50v1m0 12v1m0 4v1m1-21v1m0 3v1m0 8v1m0 27v7m1-52v3m0 14v1m0 14v3m0 14v1m1-47v3m0 8v3m0 26v1m1-41v7m0 4v2m0 3v3m0 19v1m1-43v1m0 2v2m0 12v1m0 27v8m1-37v5m0 11v1m0 24v1m1-51v1m0 36v1m1-41v1m1 2v1m0 3v1m0 5v1m0 33v1m1-43v5m0 30v1m1-38v1m0 2v2m0 3v2m0 1v4m0 28v1m1-46v1m0 51v1m1-51v4m0 32v1m0 2v2m1-41v1m0 2v1m0 13v1m0 33v1m1-54v1m0 4v1m0 11v1m0 16v2m0 2v1m0 7v2m1-32v1m0 11v1m0 21v1m1-52v3m0 13v1m0 20v1m1-34v4m0 6v1m0 23v1m1-35v1m0 6v2m0 14v1m0 3v1m0 8v1m0 6v3m1-47v1m0 7v1m0 28v1m0 7v1m1-43v1m0 6v1m0 20v1m0 3v2m0 2v2m1-33v1m0 17v1m0 2v1m0 7v1m1-35v1m0 4v2m0 30v2m0 6v2m1-50v5m0 33v1m1-30v2m0 5v1m0 26v1m1-50v1m0 41v1m1-28v1m0 23v5m0 9v1m1-46v1m0 4v2m0 8v1m0 25v1m1-42v2m0 33v2m1-21v1m0 16v8m1-43v1m0 6v1m0 28v2m1-35v1m0 4v1m0 6v1m0 18v3m0 10v1m1-48v3m0 31v1m0 8v1m0 3v1m1-44v1m0 9v1m0 12v1m0 3v1m0 3v1m0 7v1m0 5v1m1-53v1m0 6v2m0 29v1m1-30v1m0 5v1m0 5v1m0 18v2m1-39v1m0 5v1m0 9v1m1 8v1m0 4v1m0 8v1m0 5v2m1-47v2m0 24v1m0 4v1m1-35v1m0 3v3m0 34v1m1-42v3m0 9v1m0 6v1m0 30v3m1-34v1m0 22v1m0 4v2m0 2v1m1-46v1m0 27v1m0 16v1m1-51v1m0 16v1m0 13v1m0 10v1m0 2v2m0 3v2m1-41v1m0 6v2m0 7v1m0 9v1m0 7v2m0 2v2m1-52v1m0 9v1m0 8v1m0 20v1m1-30v1m0 35v3m1-51v1m0 20v1m0 19v1m1-41v1m0 14v1m0 23v1m1-36v1m0 34v1m1-20v1m0 24v1m1-44v1m0 6v1m0 8v1m0 19v1m1-37v1m0 8v3m0 18v2m1-4v1m0 4v1m0 14v1m1-37v3m0 12v2m1 2v1m0 13v1m1-12v1m0 12v1m1-66v4m0 9v1m0 10v1m0 8v1m0 10v1m0 8v1m0 9v1m1-68v1m0 3v1m0 24v1m0 7v1m0 21v1m1-45v1m0 8v1m1-12v1m0 9v1m0 22v1m0 10v1m0 8v1m0 2v2m1-46v1m0 10v1m0 12v2m0 11v7m1-67v1m0 32v2m0 22v1m1-59v1m0 15v1m0 12v1m0 6v1m0 19v1m0 10v1m1-71v1m0 1v2m0 9v1m0 3v2m0 2v1m0 5v1m0 21v1m0 4v1m0 11v1m0 4v1m0 4v1m1-75v2m0 2v2m0 5v8m0 19v1m0 18v1m1-59v1m0 3v1m0 21v4m0 5v4m0 27v1m1-68v1m0 3v1m0 17v1m0 51v1m1-73v1m0 7v1m0 22v1m0 29v4m1-61v1m0 10v1m0 10v1m0 27v1m0 12v1m1-70v1m0 4v1m0 34v1m0 14v1m0 5v1m1-55v1m0 32v1m0 14v1m0 2v1m1-54v1m0 9v3m0 41v1m1-55v3m0 10v1m0 9v1m0 3v1m0 2v1m0 4v1m0 9v1m0 12v1m1-61v1m0 4v1m0 9v5m0 14v1m0 9v1m0 5v1m0 13v1m1-27v1m0 19v3m1-24v1m0 13v1m0 17v2m1-65v4m0 49v1m0 9v2m1-71v1m0 11v1m0 33v1m0 11v1m0 6v6m1-32v1m1-1v1m0 8v1m0 19v1m1-31v1m0 9v1m0 3v1m0 13v1m0 3v1m1-66v3m0 46v1m1-67v4m0 11v1m0 9v1m0 12v3m0 11v1m0 15v2m1-69v1m0 1v2m0 11v1m0 6v1m0 12v1m0 25v1m0 1v1m0 10v1m1-59v1m0 12v3m0 19v1m0 20v1m1-63v1m0 9v3m0 13v1m0 3v1m0 8v1m0 10v2m0 7v1m1-56v1m0 5v1m0 38v3m0 7v1m1-57v1m0 7v1m0 40v1m0 9v1m0 5v2m0 2v1m1-86v1m0 7v2m0 63v2m0 3v3m1-69v1m0 6v1m0 28v1m0 11v1m0 3v1m0 3v1m1-53v1m0 14v1m0 28v1m0 3v1m0 3v2m1-62v2m0 4v1m0 22v4m0 28v1m1-64v7m0 5v1m0 14v3m0 15v1m0 10v1m0 1v2m0 8v5m1-66v1m0 5v1m0 30v1m0 23v1m0 2v2m0 4v1m1-40v1m1-34v1m0 6v2m0 8v1m0 8v1m0 14v1m0 15v1m1-68v4m0 11v2m0 20v1m0 12v1m0 19v1m1-42v1m0 4v3m0 24v1m0 9v1m0 7v3m1-29v1m0 20v1m1-52v4m0 2v2m0 38v1m1-76v1m0 4v1m0 23v1m0 11v1m0 13v1m0 15v1m1-69v1m0 5v1m0 11v5m0 6v1m0 11v2m0 14v1m0 10v1m0 14v1m0 4v1m1-84v1m0 3v1m0 22v1m0 21v1m0 14v1m0 10v1m1-87v1m0 7v1m0 22v1m0 14v1m0 28v1m1-72v1m0 2v2m0 10v1m0 8v2m0 44v1m0 12v4m1-93v1m0 3v1m0 11v2m0 45v1m0 5v2m0 19v4m1-71v1m0 7v1m0 9v1m0 25v2m0 4v1m0 14v2m1-61v1m0 21v1m0 12v4m0 5v1m1-60v4m0 12v4m0 7v1m0 7v1m0 5v1m0 13v1m0 4v1m1-73v4m0 10v1m0 3v1m0 22v1m0 9v1m0 8v4m0 11v1m0 13v3m1-79v1m0 20v1m0 12v2m0 13v2m0 8v1m0 3v1m0 11v4m1-72v2m0 5v3m0 11v1m0 6v1m0 13v1m0 12v1m0 13v1m1-85v3m0 34v1m0 7v5m0 2v2m0 18v1m1-56v2m0 5v1m0 7v1m0 14v1m0 8v1m0 13v1m0 11v2m1-85v1m0 6v1m0 23v1m0 10v2m0 14v1m0 14v1m0 11v3m1-93v1m0 7v2m0 25v1m0 28v1m0 14v1m0 8v2m0 2v2m1-97v1m0 5v2m0 8v1m0 4v2m0 16v1m0 8v1m0 30v2m0 13v4m1-95v3m0 10v1m0 21v1m0 9v1m0 33v1m0 8v1m0 3v1m1-90v1m0 9v1m0 20v1m0 42v1m0 12v5m1-98v1m0 41v1m0 36v1m0 20v1m1-102v1m0 7v1m0 43v1m0 12v1m0 19v1m0 9v1m0 3v1m1-99v1m0 5v1m0 34v1m0 9v5m0 17v1m0 2v1m1-35v1m0 7v1m0 32v1m1-23v1m0 23v1m1-60v1m0 5v1m0 22v1m0 6v1m0 15v1m1-66v1m0 4v2m0 3v1m0 14v2m0 21v2m0 9v2m0 1v2m0 8v1m1-63v1m0 9v1m0 7v1m0 21v1m0 18v1m1-57v1m0 3v1m0 9v1m0 11v1m0 8v1m0 17v1m1-60v1m0 7v1m0 10v1m0 27v1m0 5v2m0 1v2m0 4v1m1-64v1m0 21v1m0 23v1m0 14v3m1-73v5m0 30v1m0 7v1m0 10v1m0 8v1m1-48v1m0 29v1m0 8v1m0 5v2m0 22v2m0 1v1m1-83v1m0 5v1m0 11v2m0 8v1m0 19v4m0 5v1m0 3v1m0 18v4m1-82v2m0 2v2m0 30v1m0 7v1m0 7v2m0 23v1m0 3v1m1-81v1m0 4v1m0 18v1m0 10v1m0 5v1m0 11v1m1-51v1m0 5v1m0 13v1m0 29v1m1-34v2m0 13v2m0 5v9m1-64v4m0 58v1m0 4v1m1-68v2m0 3v2m0 7v1m0 6v1m0 6v2m0 10v2m0 21v2m0 22v1m0 2v2m1-79v2m0 9v1m0 4v1m0 8v1m0 13v2m0 7v2m0 18v2m1-61v1m0 2v2m0 1v1m0 18v2m0 3v2m0 7v1m0 11v1m1-55v1m0 7v2m0 15v1m1-42v2m0 2v2m0 10v1m0 5v1m0 5v1m0 14v1m0 7v1m0 3v2m1-59v1m0 30v3m0 7v1m0 19v3m1-69v3m0 5v1m0 28v1m0 28v2m0 2v1m0 20v4m1-96v4m0 46v1m0 14v1m0 4v1m0 19v5m1-75v1m0 25v1m0 18v1m0 5v1m1-75v2m0 1v3m0 23v3m0 26v1m0 3v1m0 6v1m1-65v1m0 6v1m0 23v1m0 32v2m0 25v1m1-70v1m0 23v1m0 24v1m1-55v1m0 42v1m0 9v1m1-21v1m0 8v1m0 7v1m0 24v2m1-32v1m1-40v1m0 5v1m0 5v1m0 3v1m0 10v2m0 5v2m0 3v2m0 6v3m0 7v2m1-47v1m0 27v1m0 8v1m1-74v6m0 29v1m0 13v8m0 8v2m0 2v2m0 21v1m0 3v1m1-82v1m0 8v1m0 39v1m0 7v1m1-61v1m0 11v1m0 20v1m0 5v4m0 10v1m1-64v1m0 5v1m0 55v1m0 7v2m0 21v3m1-94v1m0 5v1m0 7v1m0 7v3m0 12v1m0 23v1m0 7v1m0 20v3m1-95v1m0 4v8m0 1v2m0 8v8m0 11v1m0 18v1m1-64v1m0 7v1m0 7v2m0 2v1m0 7v1m0 33v1m0 9v1m0 3v2m1-75v2m0 2v2m0 20v1m0 8v1m0 23v1m0 28v3m1-92v4m0 11v3m0 9v1m0 31v1m1-49v1m0 24v1m1-35v1m0 8v1m0 2v1m0 10v1m0 8v1m0 21v1m0 11v2m1-68v2m0 13v1m0 4v1m0 20v1m0 15v1m1-63v1m0 5v2m0 14v3m0 8v1m0 12v1m0 14v1m0 8v1m1-52v2m0 4v1m0 10v1m1-39v1m0 40v1m0 10v1m1-51v1m0 5v1m0 11v1m0 7v1m0 8v1m0 7v1m1-40v1m0 3v1m0 7v1m0 7v1m0 7v1m0 10v1m0 20v1m0 6v1m0 21v3m1-50v1m0 14v2m0 12v1m1-62v1m0 8v1m0 25v1m0 8v4m0 27v2m0 4v1m1-61v2m0 57v1m1-86v2m0 6v1m0 31v1m0 10v1m1-55v3m0 6v1m0 6v1m0 16v1m0 12v1m0 1v3m0 13v1m0 23v4m1-94v1m0 2v2m0 20v1m0 7v1m0 13v1m0 15v3m1-71v2m0 8v4m0 9v1m0 15v1m0 13v2m1-60v1m0 3v1m0 6v1m0 2v2m0 2v1m0 4v1m0 34v1m0 10v1"/><path stroke="#001dff" d="M0.5 102v1m1-15v2m1-2v1m2-4v1m0 21v1m1-23v1m2-1v1m1 0v1m1-1v1m0 18v1m1-20v1m2 1v1m1-2v1m1-5v1m3 1v1m3-1v1m0 20v1m11-1v1m3-22v1m0 17v1m1-25v1m1 0v3m0 4v1m1-5v1m1 0v1m0 18v1m1-3v1m1-26v1m0 23v1m1-26v1m1 4v1m0 3v1m0 19v1m2-35v1m0 8v2m1-11v1m0 6v1m0 2v1m1 19v1m1-5v3m1-27v1m0 23v1m1-22v1m0 4v1m0 24v1m1-33v1m0 24v1m2-29v1m0 3v1m0 7v1m0 19v1m1-35v1m0 5v1m0 6v1m0 20v1m1-32v1m0 22v1m0 9v1m1-35v1m1-2v1m1-2v1m0 9v1m0 2v2m0 18v1m3-27v1m0 6v1m0 16v1m1 1v1m1 0v1m1-2v1m1-34v1m0 33v1m1-2v1m1-32v1m0 9v2m0 20v1m1-41v1m0 5v1m0 6v2m0 3v3m1-11v1m0 28v1m1-34v1m1-3v1m0 32v1m0 4v1m1-34v1m0 17v1m1 9v2m1-34v1m0 12v1m0 2v1m0 10v1m0 2v1m1-28v1m0 21v1m0 4v1m0 5v1m1-11v1m1-25v1m0 18v1m0 9v4m1-21v2m0 19v1m0 2v1m1-35v1m0 9v4m0 7v2m0 1v2m1-27v1m0 14v2m1-1v1m1-32v1m0 31v1m1-29v2m0 29v1m1-40v4m0 6v1m0 4v1m0 5v1m1-23v1m0 3v4m0 19v1m0 4v1m0 6v1m0 8v1m0 4v1m1-41v3m0 5v1m0 7v1m0 5v1m0 3v1m0 4v2m0 5v1m1-48v2m0 3v4m0 1v2m0 24v1m1-39v3m0 10v1m0 25v1m1-27v1m0 12v1m0 3v1m0 7v1m0 6v1m0 5v1m1-40v2m0 15v1m0 7v1m1-27v3m0 3v1m0 17v1m1-41v2m0 15v3m0 10v1m0 5v1m0 6v1m1-24v1m0 14v1m0 13v4m0 2v1m1-49v1m0 34v1m1-39v2m0 2v2m0 29v1m1-33v3m0 19v1m0 8v1m1-26v1m0 28v1m1-36v2m0 7v1m0 31v1m1-40v1m0 9v1m0 14v1m0 20v1m1-9v1m0 8v1m1-50v2m0 34v1m0 7v1m0 4v1m1-52v1m0 2v1m0 34v1m0 5v1m1-52v1m0 7v1m1 32v1m1-22v1m1-11v1m0 4v1m0 2v1m0 18v1m1-23v1m0 23v1m0 6v1m0 5v1m1-47v1m0 3v1m0 8v1m0 17v2m0 6v2m1-43v1m0 9v2m0 6v1m0 21v1m1-42v1m0 6v1m0 7v1m0 14v1m0 4v1m0 8v1m1-35v2m0 22v1m0 7v1m1-31v2m0 33v1m1-48v1m0 10v1m0 8v1m0 18v2m1-33v1m0 4v1m0 22v2m0 5v1m0 7v1m1-44v4m0 26v2m0 7v1m1-39v1m0 7v4m0 20v1m1-45v1m0 6v1m0 34v1m1-34v1m0 4v1m0 8v1m0 18v2m1-32v1m0 2v1m0 18v2m0 5v1m0 3v2m0 7v1m1-31v1m0 11v1m0 15v3m1-51v1m0 6v1m0 28v3m0 9v1m0 3v1m1-51v1m0 2v3m0 14v1m1-12v1m0 3v1m0 24v1m1-36v1m0 3v1m0 11v1m0 16v1m1-35v1m0 5v1m0 5v1m0 18v1m0 5v2m1-37v1m0 29v1m0 8v1m1-44v3m0 13v1m1-5v2m0 2v2m0 1v1m0 15v1m1 4v1m0 7v2m1-49v2m0 1v1m0 12v1m0 16v1m1-27v1m0 18v1m0 19v3m1-50v1m0 9v1m0 9v1m0 5v1m0 1v1m0 18v2m1-11v1m1-23v1m0 11v2m0 6v1m1-28v1m1 3v1m0 6v1m1 5v2m1-28v1m0 9v1m0 32v1m1-37v1m0 10v1m1-10v1m0 3v1m0 16v1m0 2v1m0 6v1m1-42v1m0 9v1m0 8v1m0 29v1m1-48v1m0 10v1m0 3v2m0 9v1m0 2v1m0 8v1m1-36v1m0 22v1m0 5v1m0 11v1m1-43v1m0 32v1m1-20v1m0 27v1m1-66v3m0 14v1m0 9v1m0 29v1m1-26v1m0 22v1m1-20v1m0 12v1m0 16v2m1-51v1m0 29v1m0 2v1m0 9v1m1-46v1m1-20v1m0 2v1m0 17v1m0 10v1m0 8v1m0 13v5m0 6v2m0 2v1m1-69v1m0 12v3m0 5v2m0 2v1m0 13v1m0 14v1m0 9v1m0 6v2m0 1v1m1-72v2m0 45v2m0 5v1m1-57v3m0 26v5m0 4v1m0 24v2m1-66v3m0 19v1m0 1v2m0 15v1m0 30v1m1-71v1m0 22v1m0 5v1m0 7v1m0 9v1m0 6v1m0 4v1m0 4v1m0 5v2m1-74v1m0 3v1m0 12v2m0 6v2m0 29v1m0 4v1m0 7v1m0 3v1m1-74v2m0 1v1m0 46v1m0 4v1m0 3v1m1-63v1m0 7v1m0 49v2m1-52v1m0 5v3m0 23v2m0 18v1m1-32v1m0 5v2m0 19v1m1-51v4m0 58v1m1-7v1m0 3v1m0 7v2m1-11v9m1-33v1m1-36v1m0 9v1m0 24v1m1 26v1m1-11v1m0 13v1m1-8v1m0 6v3m1-74v1m0 6v2m0 36v1m0 11v1m1-50v1m0 6v2m0 42v1m1-66v1m0 14v1m0 4v1m0 42v1m0 7v2m1-65v1m0 5v1m0 55v1m1-61v1m0 6v2m0 17v3m0 19v1m0 2v1m1-48v1m0 3v1m0 27v1m0 14v1m1-43v1m0 28v1m0 30v2m1-84v1m0 5v1m0 53v3m0 8v1m1-60v2m0 34v1m0 15v1m0 1v1m1-18v1m0 14v3m1-58v4m1-1v2m0 2v1m0 48v1m0 6v1m1-60v1m0 3v1m0 42v1m0 4v1m0 6v1m0 5v4m1-38v1m0 25v1m1-60v3m0 1v2m0 11v1m0 5v2m1-6v1m0 5v1m0 14v1m0 9v3m1-34v4m0 36v1m1-17v1m1-28v2m0 23v1m0 9v4m0 2v1m1-74v1m0 2v1m0 35v1m0 15v1m0 8v1m0 13v1m1-76v5m0 34v1m0 21v1m0 13v1m0 7v4m1-82v3m0 31v1m1-15v1m0 12v1m1-41v2m0 13v1m0 6v1m0 36v1m0 8v1m1-75v3m0 60v1m0 3v1m1-45v1m0 26v1m0 30v1m1-53v1m0 52v1m1-42v1m0 5v1m0 7v1m0 11v1m0 6v1m0 6v1m1-66v3m0 58v1m0 3v1m1-73v1m0 3v1m0 22v1m0 10v1m0 26v3m1-54v5m0 15v1m0 4v1m0 15v1m0 10v1m1-32v1m0 4v2m0 9v1m0 16v1m1-53v5m0 22v1m0 10v1m1-58v1m0 4v1m0 52v1m1-64v1m0 4v2m0 28v1m0 9v1m0 18v1m0 4v1m0 19v2m1-94v5m0 11v2m0 1v1m0 48v1m0 7v2m1-73v1m0 8v1m0 23v1m0 7v1m0 23v1m0 9v1m0 10v3m1-80v1m0 22v1m0 8v1m0 31v1m1-70v1m0 39v1m0 12v1m0 31v2m0 2v1m1-100v1m0 4v2m0 31v1m0 11v1m0 23v2m0 7v1m0 11v3m1-97v1m0 3v1m0 43v2m0 5v2m0 14v1m0 4v1m0 6v1m1-42v1m0 18v1m0 11v1m1-33v1m0 8v1m0 10v2m0 9v3m1-49v2m0 1v2m0 15v1m0 6v1m0 8v1m0 7v1m0 14v1m1-73v4m0 6v1m0 6v1m0 31v1m0 7v1m0 5v1m0 6v1m1-53v1m0 17v1m1-24v1m0 1v1m0 11v1m0 9v1m0 10v1m0 8v4m0 2v2m1-52v1m0 22v1m0 17v1m0 3v1m0 5v1m0 2v1m1-62v1m0 4v1m0 16v1m0 8v1m0 21v1m1-54v1m0 6v1m0 18v1m1-31v1m0 27v1m0 10v1m0 10v1m0 2v2m0 26v1m1-81v2m0 1v2m0 23v1m0 7v1m0 20v3m1-57v2m0 24v1m0 16v1m0 5v1m0 26v1m0 1v1m1-38v1m1-35v1m0 25v1m0 7v1m0 9v1m1-48v1m0 3v1m0 12v1m0 10v2m0 2v5m1-41v1m0 4v1m0 22v1m0 20v1m0 2v1m1-65v3m0 10v1m0 14v1m0 8v1m0 48v2m1-75v1m0 38v7m1-38v2m0 4v1m0 24v1m0 5v1m1-35v1m0 2v1m0 29v1m0 6v1m1-62v2m0 13v1m0 3v1m0 7v1m0 12v1m0 9v3m1-35v1m0 27v1m1-53v5m0 21v1m0 6v1m0 31v2m1-36v1m0 11v3m0 16v4m1-49v1m0 9v1m0 6v1m0 27v1m0 3v1m1-72v1m0 35v1m0 20v3m0 13v1m1-70v1m0 4v1m0 36v1m0 22v1m0 5v1m1-58v1m0 5v1m0 8v1m0 14v1m0 18v1m1-47v1m0 6v5m1-35v1m0 6v1m0 32v1m0 13v1m0 10v1m1-31v1m0 11v1m0 20v2m0 1v2m1-44v2m0 2v1m0 7v3m0 13v5m0 7v6m1-34v2m0 7v1m0 18v1m0 6v1m1-37v2m0 3v1m0 25v2m0 24v3m1-73v1m0 10v1m0 9v1m1-32v1m0 20v1m0 31v1m0 4v1m1-69v1m0 3v1m0 63v1m1-67v1m0 2v2m0 9v1m0 4v2m0 3v4m0 7v1m0 25v1m0 5v1m1-70v4m0 11v1m0 5v2m0 8v1m0 9v1m0 27v1m1-54v2m0 9v1m0 13v1m0 27v1m1-67v2m0 30v1m1-8v1m0 7v1m0 32v1m1-53v1m0 9v1m0 40v1m1-66v1m0 6v1m0 4v2m0 2v1m0 6v1m0 40v1m1-64v1m0 4v1m0 8v2m0 1v1m0 20v1m0 23v1m1-69v2m0 1v2m0 56v1m0 6v1m1-49v4m0 22v1m0 10v1m1-60v1m0 4v1m0 55v1m0 9v1m1-70v1m0 17v1m0 5v1m0 10v1m0 5v1m0 20v1m0 6v1m1-66v3m0 9v1m0 15v1m1-19v1m0 7v1m0 13v1m0 25v1m0 10v1m1-60v1m0 6v1m0 17v1m0 21v1m0 9v1m0 18v4m1-58v1m0 13v1m0 38v2m0 1v1m1-83v6m0 23v1m0 20v1m1-46v1m0 4v1m0 18v1m0 10v1m0 5v4m1-56v2m0 10v1m0 10v1m0 9v1m0 11v1m1-50v1m0 5v2m0 4v1m0 37v1m1-57v3m0 8v2m0 5v4m0 58v1"/><path stroke="#0038ff" d="M0.5 86v1m0 14v1m1-12v2m0 12v1m5-20v1m1 0v1m0 19v1m7-23v1m1 1v1m0 18v1m1-1v1m3-19v1m2-4v1m3 1v1m2 0v1m1-1v1m0 18v1m1-19v1m1-3v1m1-1v1m2-5v1m1-2v2m0 19v1m2-23v2m2 22v1m2-28v1m2-2v1m0 23v1m1-27v1m0 4v1m1-8v1m0 9v1m0 19v1m1-32v1m0 5v2m0 2v1m0 19v1m1-26v1m0 23v1m1-29v1m1 0v1m0 21v1m1-23v1m0 21v1m1-26v2m0 1v2m0 6v1m0 22v1m1-31v1m0 4v4m1-3v1m0 18v1m1-29v3m0 27v1m1-33v1m0 2v2m0 8v1m0 12v2m0 4v1m1-9v1m0 1v1m1 7v1m1-24v2m0 20v1m1-26v1m0 5v1m1-13v1m0 28v1m1-31v1m0 29v1m1-35v1m1 5v1m0 11v1m1 16v1m1-27v1m1-7v1m0 31v1m1-32v1m0 29v1m1-30v1m0 7v1m0 2v1m0 18v1m1-39v1m0 3v1m0 9v3m0 3v1m0 18v1m1-3v1m1-9v1m1-26v1m0 19v1m0 12v1m0 2v1m2-35v1m0 25v4m1-20v1m0 13v1m0 4v2m0 1v2m1-5v1m0 3v1m1-32v1m1 15v1m1-14v1m0 5v1m0 22v2m1-25v1m0 13v1m1-11v1m1-15v1m1-15v1m0 4v1m0 19v2m1-22v1m0 7v3m1-10v1m0 2v1m1-15v3m0 4v1m0 8v3m0 29v4m1-17v1m0 1v1m0 7v1m0 3v1m1-45v3m0 4v1m0 25v1m1-24v1m1-1v1m0 31v1m0 3v1m1-37v1m0 13v1m0 1v2m0 4v1m1-3v1m1-20v1m0 21v1m1-22v1m0 8v1m0 5v1m0 10v2m0 4v2m1-47v6m1-8v2m0 2v2m1 5v1m0 31v1m1-36v2m0 16v3m0 6v1m1-21v1m0 25v1m1-43v4m0 11v1m0 12v1m0 1v1m1-12v1m0 16v1m1 10v1m0 2v1m1-50v2m0 14v1m0 14v1m0 6v2m0 1v2m1-44v1m0 25v1m2-13v1m0 20v1m1-32v4m0 4v1m0 11v1m0 12v1m1-36v1m0 13v1m0 14v1m0 8v1m0 3v1m1-45v3m0 10v2m0 14v1m1-32v1m0 4v4m0 19v1m0 4v1m0 4v1m1-35v1m0 36v1m1-32v1m0 5v2m0 13v1m0 1v2m1-35v1m0 8v1m0 34v1m1-46v1m0 7v2m0 1v1m0 6v1m0 1v1m0 15v2m1-30v4m0 9v1m0 11v2m0 8v1m1-8v1m0 2v2m0 4v1m1-37v1m0 4v2m0 4v1m0 18v1m2-34v1m0 2v1m1-1v2m0 18v1m0 2v1m0 3v1m0 6v3m0 3v1m1-19v1m0 1v2m0 1v2m1-37v1m0 4v1m0 12v1m0 10v1m0 18v3m1-49v2m0 33v1m1-27v3m0 8v1m0 6v1m0 8v1m1-34v3m1 0v1m0 7v1m0 18v5m1-34v1m0 8v2m0 11v1m0 7v1m0 6v1m1-15v1m0 10v1m1-26v2m1 11v3m1-27v1m0 20v1m1-24v1m0 16v1m0 22v1m1-21v1m0 3v1m0 3v1m0 6v1m1-37v1m0 7v1m0 10v1m0 17v1m1-39v1m0 9v1m0 17v1m0 2v1m0 4v1m1 2v1m1-39v1m0 11v1m1-9v1m0 20v1m0 2v1m0 8v1m1-29v1m0 10v1m0 20v2m1-41v1m0 16v1m0 16v1m1-35v1m0 5v1m0 5v1m0 14v1m0 4v1m0 4v1m1-5v1m0 11v1m1-37v1m1 3v3m0 26v1m1-19v1m0 20v1m1-51v1m0 39v1m0 6v1m1-28v1m1-23v1m0 6v1m0 10v1m1-13v1m0 33v1m1-33v1m0 22v1m0 4v1m1-30v1m0 13v1m0 12v1m0 7v1m1-61v2m0 19v10m0 22v1m0 13v2m1-45v2m0 37v2m0 9v1m1-25v1m0 2v1m1-1v1m0 8v3m1-41v1m1-21v1m0 4v1m0 17v1m0 3v1m0 26v1m0 2v1m0 6v1m0 3v1m1-71v3m0 15v6m0 23v1m0 11v1m0 9v3m1-71v1m0 53v3m1-12v1m1-42v5m0 28v1m1 21v1m1 2v1m1-24v1m0 22v1m0 4v2m1-21v1m0 10v1m2-58v1m0 48v1m1 10v1m1-23v1m0 13v1m1-16v1m0 13v1m1-57v1m0 4v1m0 49v1m1-48v6m0 30v1m0 8v5m1-49v4m0 31v1m0 7v1m0 4v1m0 4v2m1-62v1m1 6v1m0 45v1m0 4v1m1-53v3m0 39v1m0 4v1m0 4v1m1-55v1m0 43v1m0 4v1m0 7v1m1-73v5m0 47v1m0 9v1m0 6v1m1-57v1m0 1v2m0 47v1m2-17v1m0 17v1m1-54v2m0 35v1m0 8v1m0 10v1m1-58v3m0 33v1m0 20v1m1-27v6m1-37v1m0 18v1m1-3v1m0 3v1m0 24v1m0 8v1m1-8v1m1 10v1m1-13v1m0 4v2m1-72v2m0 26v1m0 8v1m0 17v1m0 6v1m0 7v1m0 5v1m1-46v1m0 27v2m0 1v1m1-29v1m0 21v1m0 12v1m1-74v1m0 5v1m0 25v8m0 2v2m0 20v1m0 8v1m1-54v2m0 2v2m0 38v1m0 6v1m1-10v3m1-43v1m0 4v1m0 43v1m1-44v1m0 42v1m0 7v1m1-40v1m0 13v1m1-14v1m0 7v1m0 26v3m1-71v3m0 24v5m0 3v2m1-3v1m0 2v1m0 17v1m0 8v1m1-30v1m0 1v2m0 12v1m0 14v1m1-38v1m0 10v2m0 18v1m0 4v1m1-69v1m0 2v1m0 26v1m0 8v1m0 22v2m0 6v1m1-76v4m0 31v1m0 28v4m0 1v2m0 5v1m1-63v1m0 27v1m0 22v1m0 4v2m1-70v1m0 38v1m1-40v1m0 6v1m0 24v1m0 29v1m1-69v1m0 41v1m0 20v1m0 13v1m0 18v2m1-98v4m0 44v1m0 15v1m0 7v1m0 2v1m1-75v3m0 37v1m0 5v1m0 9v1m1-10v1m0 22v2m0 1v1m0 6v1m1-19v1m0 11v1m1-48v1m0 34v1m0 5v1m0 8v1m1-16v1m1-41v1m0 17v1m0 21v1m0 7v2m0 7v1m1-54v1m0 13v2m0 6v1m0 12v1m0 6v1m0 4v2m1-56v1m0 18v1m0 28v3m0 7v2m1-60v1m0 2v1m0 18v1m0 22v1m1-20v1m0 4v1m0 19v1m1-48v1m0 28v1m0 12v2m1-50v1m1 33v1m0 10v5m0 28v1m1-78v4m0 20v1m0 8v1m0 17v1m1-49v1m0 19v1m0 26v1m1-46v3m1-7v1m0 2v1m0 11v1m0 10v1m0 22v2m1-46v1m0 10v1m0 5v2m1-23v1m0 6v1m0 6v1m0 6v1m1 8v1m0 8v1m0 3v1m1-40v1m0 4v1m0 4v1m0 12v1m1-23v1m0 1v1m0 20v1m1-28v1m0 25v1m1-18v1m0 4v1m1 8v2m1-17v1m0 14v1m0 21v3m1-25v1m0 21v1m0 3v1m1-68v1m0 2v1m0 26v1m0 34v1m0 3v1m1-56v1m0 3v1m0 22v2m0 25v1m1-52v6m0 5v1m0 10v1m0 19v1m0 7v1m1-22v1m0 17v1m1-2v1m1-40v2m1 10v1m0 5v1m0 20v1m0 4v1m1-34v3m1-25v1m0 5v1m0 42v1m0 5v1m1-58v1m0 8v1m0 11v1m0 8v1m0 25v1m1-67v3m0 58v1m0 4v1m1-65v2m0 12v1m0 2v1m0 9v2m0 36v1m1-53v1m0 3v1m0 11v1m0 29v1m1-64v1m0 5v1m0 22v1m0 32v1m1-34v1m0 32v1m0 8v1m1-42v1m0 30v1m1-49v1m0 3v1m0 18v1m0 24v1m1-57v1m0 4v1m0 7v2m0 14v1m0 23v1m0 8v1m1-62v1m0 2v1m0 11v1m0 9v1m0 10v1m0 18v1m1-61v1m0 30v1m0 33v1m1 0v1m1-70v1m0 1v2m0 36v1m0 8v1m1-48v4m0 18v1m1-2v1m0 10v1m0 7v1m0 22v1m0 4v1m1-26v1m0 18v1m0 8v1m1-58v1m0 4v1m0 26v1m1 15v1m0 7v1m0 19v1m1-45v1m0 24v1m1-57v1m0 2v1m0 40v1m2-60v5m0 7v1m0 6v1m0 17v1m1 2v1m0 21v1"/><path stroke="#0052ff" d="M0.5 98v3m1-9v1m1-4v2m1-4v1m0 17v1m2-20v1m0 18v1m3-1v1m1-19v1m1-1v1m1 0v1m0 16v1m2-1v1m3-20v1m2 1v1m0 16v1m4-21v1m1-1v1m0 19v1m2-19v1m3 19v1m3-20v1m1 15v1m1-22v2m1 1v1m1-5v2m0 21v1m1-18v1m0 13v1m1-19v1m0 18v1m1-19v1m1-8v1m0 4v2m0 15v1m1-24v1m1-1v5m1-7v1m0 2v1m0 6v1m0 17v1m1-24v2m0 1v2m1-9v1m1-6v1m0 2v2m0 5v1m1 17v1m1-6v1m1-21v1m0 19v1m1-23v1m0 9v18m0 3v1m1-29v4m0 4v1m0 13v1m2-15v1m0 15v2m1-31v2m0 11v1m0 10v1m0 2v2m0 1v1m1-29v1m0 19v1m0 3v1m0 6v1m1-33v1m0 7v2m0 21v1m1-33v1m0 8v1m0 2v1m0 18v1m1-33v1m0 30v1m1-20v1m0 17v1m2-33v1m0 6v1m0 8v1m0 14v1m1-16v1m0 1v1m0 14v1m1-25v1m0 23v1m1-1v1m1-3v3m2-23v1m0 4v1m0 16v1m1-35v1m0 17v1m1-12v1m0 25v1m1-31v1m0 21v1m1 9v2m2-33v1m0 22v2m1-27v1m0 15v1m0 15v1m1-30v1m0 19v1m0 7v1m0 1v1m1-10v1m1-23v1m0 15v1m1-8v1m1-8v1m1-2v1m0 11v1m1 1v1m1-26v1m0 10v1m0 8v1m0 2v4m1-25v7m0 3v1m0 8v2m0 6v1m1-27v2m0 24v1m1-31v1m0 6v1m0 3v1m0 12v1m0 4v1m1-11v1m0 8v1m0 9v3m1-19v2m1-16v2m0 12v2m0 7v1m1-24v1m0 15v1m0 5v1m0 9v3m1-35v1m0 11v1m0 4v1m0 2v1m1-18v1m0 9v3m0 2v1m1-2v1m0 3v1m1 4v1m1-33v3m0 2v3m0 19v1m1-22v2m0 16v1m1-21v1m0 20v1m0 8v1m1-33v1m0 14v1m0 3v1m0 4v1m2-5v1m0 10v3m0 4v1m1-7v1m0 6v1m1-32v1m0 17v1m0 10v2m1-19v1m0 9v1m1-48v1m1 20v1m0 17v1m2-21v1m0 17v1m1-29v1m0 3v1m0 22v1m0 10v3m1-29v1m0 12v1m1-30v4m0 29v4m1-39v1m0 14v1m0 19v1m0 5v1m1-30v1m0 2v2m0 14v1m0 4v1m0 3v1m1-32v1m0 22v3m0 3v7m1-38v1m0 4v1m0 4v1m0 17v1m1-5v2m0 11v1m0 3v2m1-28v1m0 12v1m0 5v1m0 2v1m1-35v4m0 7v1m0 16v1m1-42v1m0 4v1m0 34v1m1-31v2m0 28v1m1-18v1m0 12v3m0 10v3m1-14v1m1-34v1m0 1v2m2 18v1m0 3v2m0 1v1m1-10v1m1-18v1m0 22v1m1-21v2m0 4v2m0 2v1m0 19v1m0 4v1m1-25v1m0 9v1m0 1v1m1-10v1m0 7v2m0 4v1m1-16v1m0 6v1m0 3v1m0 8v1m1-5v1m0 13v1m1-43v1m0 24v1m1-24v1m0 12v3m0 5v1m0 4v1m1-29v1m0 19v1m2-29v1m0 20v1m0 16v1m1-27v1m0 15v2m0 8v1m1-22v5m0 3v1m1-24v1m0 36v3m1-38v1m0 2v1m1 0v1m0 7v1m1-16v1m0 27v1m0 15v3m1-29v1m0 19v1m1-25v1m0 19v1m0 8v1m1-40v1m0 10v3m1-12v1m0 36v1m1-46v1m0 7v1m0 29v1m2-44v1m0 30v1m0 5v1m1-33v1m0 33v1m0 6v1m1-44v1m0 31v1m0 1v1m1-2v1m1-5v1m0 7v1m0 4v2m1-22v1m0 12v1m0 2v1m1-17v1m0 10v1m0 1v1m0 6v1m1-10v3m0 17v1m1-68v1m0 1v2m0 19v3m0 28v2m0 8v3m1-31v1m0 16v3m1-20v1m0 8v1m1-52v1m0 5v1m1 35v1m0 15v1m1-39v1m0 6v1m0 14v1m0 7v1m0 5v1m1-18v1m0 15v1m0 8v2m1-6v1m0 6v4m1-29v1m0 13v1m1 5v1m1-49v1m0 46v1m1-18v1m0 9v2m0 9v1m1-15v1m0 18v1m1-20v1m0 11v1m1-62v4m0 49v1m1-3v1m1 5v1m0 1v2m1-56v1m1-3v1m0 3v1m0 33v1m1-3v1m1-34v1m0 3v1m1 37v1m0 4v1m0 4v1m1-55v1m0 33v1m0 8v1m1-1v1m1 0v3m1 4v1m0 3v1m1-5v1m1-16v1m0 17v1m1-41v4m0 33v1m1-35v3m0 17v1m0 11v1m0 3v1m1 0v1m1-15v1m0 4v9m0 2v2m2-21v2m1-18v1m0 20v1m0 8v1m1-36v1m0 4v1m1-44v1m0 3v1m0 34v2m1-20v2m0 45v2m2-48v4m0 12v1m0 38v1m1-50v2m0 16v1m1-7v4m0 10v1m0 8v1m0 8v1m0 4v1m2-39v3m1 0v2m0 19v4m0 3v1m1-28v1m0 28v1m1-36v1m0 8v1m0 14v1m0 3v2m0 1v4m1-67v2m0 55v4m0 2v1m0 4v1m2-40v1m0 5v1m0 24v4m1-61v1m0 25v1m0 4v1m0 26v1m0 7v1m1-73v1m0 31v1m0 5v1m0 31v1m1-70v1m0 39v1m0 15v1m0 11v1m1-6v1m0 4v1m0 4v1m1-24v8m0 4v1m0 6v1m0 4v1m1-40v1m0 3v1m0 14v1m0 12v1m1-34v1m0 21v2m0 5v1m0 4v1m0 6v1m1-37v1m0 4v1m0 11v1m0 19v1m1-61v1m0 4v1m0 39v1m0 7v1m0 4v1m1-41v1m0 5v1m0 15v1m0 5v1m0 2v1m1-31v3m0 1v2m0 14v1m0 4v1m1-48v1m0 3v1m1-5v2m0 20v1m0 5v1m0 16v1m0 4v1m1-52v1m0 4v1m0 24v1m0 13v1m1-13v1m1-8v1m0 5v1m1-6v1m1 14v1m0 7v1m1-47v3m0 25v1m0 9v1m1-21v1m0 8v1m1-30v2m1-2v1m0 2v1m0 12v1m0 3v1m1-20v1m1 27v1m0 10v3m1-38v1m0 2v1m0 6v1m0 10v1m0 17v1m0 4v1m1-44v1m0 10v1m0 8v2m1-22v1m0 21v1m0 5v1m1-21v1m1 0v1m0 7v1m1-23v1m0 16v1m1 28v1m0 1v1m1-66v2m0 63v3m1-54v3m0 45v1m0 3v1m1-39v1m0 30v1m0 5v1m1-73v1m0 4v1m0 59v1m0 3v1m1-35v1m2 7v5m0 22v1m0 2v1m2-54v2m0 1v2m0 13v1m1 31v3m1-4v1m0 2v1m1-49v2m0 12v5m0 27v1m1-48v3m0 20v1m0 22v1m0 4v1m1-69v1m0 3v1m0 63v1m1-35v1m1 0v1m0 32v1m1-56v1m0 1v1m0 12v1m1-24v4m0 18v1m0 37v1m1-60v2m0 32v1m0 24v1m1-24v1m0 17v1m1-27v1m1-37v1m1 18v2m0 1v1m0 13v1m0 3v1m0 22v1m0 4v1m1-52v1m0 47v1m1-51v1m0 5v1m0 15v1m0 26v1m0 6v1m1-56v4m0 20v1m0 21v1m0 7v1m1-34v1m0 11v1m1-10v1m0 20v1m1-45v2m0 21v1m0 8v1m0 18v1m1-52v1m0 8v1m0 11v1m0 9v1m1 0v1m1 0v1m0 13v1m0 8v1"/><path stroke="#006cff" d="M0.5 87v1m0 7v3m1-5v1m0 9v1m1-13v1m0 13v1m2-20v1m3 0v1m1-1v1m4 1v1m2-5v1m3 0v1m2 18v1m2 1v1m3-3v1m5-1v1m4-21v1m1 16v1m1-19v2m2 16v1m2-24v4m0 2v1m1 13v1m1-18v1m1-7v2m0 8v1m0 15v1m1-30v1m0 5v1m0 5v1m1-14v2m0 1v1m0 6v1m0 17v1m1-29v2m0 25v1m1-2v1m1-25v1m1 0v2m0 16v1m1 6v3m1-19v1m1-4v1m0 16v1m1-2v2m1-6v1m0 5v1m1-3v1m0 4v1m1-31v1m0 5v1m0 22v1m1-2v1m1-25v1m0 7v1m1-13v1m0 6v2m0 1v1m1-12v1m0 27v1m1-27v1m0 10v1m1-12v1m0 8v1m0 16v1m1-1v1m1-24v1m0 5v3m1-15v1m0 7v4m0 15v1m1-27v1m0 21v3m0 3v1m1-28v1m0 4v1m0 21v1m1-36v2m1 8v1m0 22v2m2-31v1m0 17v1m1-15v1m0 15v1m1 3v1m2 7v1m2-16v1m1-11v1m0 2v1m1 0v1m1 2v1m1-12v1m0 12v1m1-28v3m0 19v1m1-7v1m0 6v1m0 2v1m1-11v1m1-14v1m0 4v1m0 5v1m0 4v1m0 7v1m1-13v1m1-1v1m0 7v1m0 2v1m0 4v1m1-20v1m0 10v1m0 2v1m1-7v1m0 6v1m0 3v1m1-21v1m0 16v2m1-8v1m0 3v2m1-17v1m0 16v3m1-19v1m0 14v1m0 7v1m1-29v2m0 3v1m0 9v2m1-22v1m0 6v1m0 2v1m1-4v1m0 8v1m0 18v1m1-31v4m0 15v1m0 2v1m1-18v1m0 23v1m1-26v1m0 10v1m0 12v2m0 3v4m1-14v1m0 8v1m2-15v1m1-36v1m0 3v1m0 16v1m1 11v1m0 3v1m1-18v1m0 10v2m1-14v1m0 8v1m0 12v1m1-33v3m0 22v1m1-14v1m0 10v1m1-12v1m1-19v1m0 2v1m0 31v1m0 3v1m1-28v2m0 4v1m0 17v3m1-38v1m0 18v1m0 9v1m0 3v3m1-37v1m0 11v1m0 2v1m0 16v2m1 10v3m1-14v1m0 7v2m1-7v1m1-15v1m1-4v1m0 9v1m0 5v1m1-9v1m1 1v1m1-28v1m0 16v1m1 2v1m0 13v1m1-13v1m0 1v1m0 4v1m0 5v1m1-10v2m0 6v1m1-32v3m1 1v1m0 2v1m0 25v4m1-11v1m1-4v1m0 2v2m0 1v1m2-16v1m1-17v1m1-2v1m0 6v1m0 22v1m0 2v1m1-9v1m0 1v1m0 7v1m1-37v1m0 16v1m0 8v1m0 4v1m0 2v1m1-27v1m1 12v1m0 7v1m1-16v2m0 5v3m0 5v1m1-22v1m0 28v1m1-34v2m0 29v1m1-33v1m0 2v1m0 9v1m0 18v4m1-31v1m0 10v1m0 16v1m0 5v2m1-42v1m0 28v1m1-27v1m0 7v1m1 0v1m0 3v1m0 18v1m1-20v1m0 7v1m0 11v1m1-34v1m1 8v1m0 19v1m1-35v1m0 16v1m1-16v1m0 13v1m0 8v1m0 12v1m1-38v1m0 25v1m0 3v1m0 4v1m1-19v1m1 15v4m1-6v2m1 3v1m1 10v1m1-66v1m0 42v1m3-50v1m0 40v1m1 11v4m1 4v1m1-16v1m0 15v1m2-2v1m1-9v3m0 4v1m1-55v1m0 41v1m0 6v1m1-1v1m0 7v1m1-6v1m0 9v1m1-26v1m3 15v1m1-57v3m0 38v1m0 17v1m1-58v3m0 42v1m0 5v1m0 2v1m1-4v1m0 2v1m1-52v1m0 1v1m1 33v1m0 13v1m3-3v1m1 0v3m1-19v1m0 15v1m0 2v1m1-9v1m2 2v3m1-5v1m1-8v4m0 9v2m1-18v1m1 0v1m0 1v2m0 9v1m0 3v1m1 0v1m1-38v1m0 17v1m0 10v1m1-69v1m0 60v1m0 6v1m1-8v4m2-22v1m0 24v1m1-42v6m0 35v1m0 5v1m1-23v3m0 4v1m0 10v1m0 2v1m1-36v1m0 5v1m2 19v3m1-11v1m0 11v1m1-34v1m0 5v2m0 16v3m1-30v1m0 6v1m0 26v2m0 1v1m1-38v1m0 6v1m0 27v1m0 3v1m2-73v1m0 32v1m0 2v1m0 34v1m1-71v1m0 2v2m0 56v1m1-69v1m0 41v1m0 3v1m1-10v1m0 8v1m0 29v1m0 2v1m1-39v1m0 3v1m0 19v1m0 2v1m1-26v3m0 23v1m0 5v1m0 3v1m1-32v1m0 16v1m0 3v1m1-23v1m0 2v1m0 13v1m0 2v1m0 10v1m0 3v1m1-20v1m0 3v1m0 9v1m1-55v1m0 5v1m0 43v1m1-29v1m0 17v4m1-44v1m0 15v1m0 7v1m1-5v1m0 3v1m1-2v3m0 20v1m1-55v1m0 6v1m0 20v1m2 2v1m0 3v1m1-8v1m0 17v1m1-20v1m0 18v1m0 5v1m2-33v1m0 8v1m1-24v2m0 14v3m1-18v1m0 3v1m0 8v1m0 4v1m1-7v1m0 13v1m1-23v2m0 37v1m0 2v1m1-31v1m0 6v1m1-24v1m0 30v1m1-23v3m2-12v1m0 5v1m0 14v1m1-9v1m0 32v1m1-35v1m0 8v1m1-1v1m0 23v1m2-20v1m0 14v1m0 1v1m1-24v1m2 25v2m2-51v1m0 23v1m0 22v1m0 3v1m1-56v1m0 6v1m0 20v1m1 23v2m1-1v3m1-35v1m1-33v3m0 25v1m0 10v1m0 21v1m1-34v1m1 0v1m0 3v1m1-21v1m0 14v1m0 4v1m0 26v1m0 5v1m1-36v1m0 25v1m0 5v1m1-4v1m0 2v1m1-33v1m0 28v1m0 2v1m1-9v1m0 8v1m1-21v1m0 12v1m0 7v1m1-48v1m0 15v3m1-22v1m0 2v1m0 12v1m0 31v3m1-26v1m2-6v1m1 7v1m1 14v1m1-37v1m1-12v1m0 4v1m0 19v1"/><path stroke="#0086ff" d="M0.5 88v1m0 3v3m2-3v1m2 13v1m2-2v1m1-18v1m4 0v1m1 15v1m1-18v1m1-3v1m1 0v1m2 17v1m3-20v1m1-2v1m1 19v1m4-18v1m1-1v1m3 16v1m2-23v1m1 2v1m0 14v1m2-16v2m1 1v1m1 11v1m1 0v1m1-17v1m1-9v1m1 20v1m1-13v1m1-2v1m0 14v1m1-28v1m2-2v1m0 23v1m1-23v1m0 17v1m1-17v1m2 18v1m1-1v2m1-2v1m1-13v1m1-12v1m0 17v1m1-15v1m0 3v1m0 14v5m1-23v1m0 4v1m0 15v1m1-30v1m0 14v1m1-13v1m0 4v1m0 4v1m1-5v3m1-14v1m1 17v1m0 11v1m1-1v1m1-18v1m0 17v1m1-4v1m1-25v1m0 19v1m0 3v1m0 1v1m1-26v1m0 2v1m0 21v1m1-14v1m0 15v1m1-27v1m0 2v4m0 14v1m1-27v1m1-2v1m2 21v1m1-14v1m0 6v1m0 6v1m1-3v1m1-19v1m1-2v1m0 11v2m1-9v2m2-6v1m0 8v1m1 1v1m2-10v1m2-14v4m0 20v1m0 1v1m2-4v1m1-15v1m0 18v1m1-22v1m0 16v3m1-19v1m0 8v1m1-1v1m1-3v1m1 14v1m1-14v1m0 2v1m0 5v1m1-28v1m0 4v1m1 21v1m0 5v1m1-26v1m0 8v1m0 6v2m1 3v4m1-24v1m0 14v1m0 6v1m1 9v1m2-21v1m1-32v1m1 28v1m0 1v3m1-4v1m0 5v1m1-3v1m1-16v1m0 8v3m2-4v1m1-27v2m0 12v1m0 11v1m0 8v3m2-32v1m1-7v1m0 3v1m0 7v2m0 5v1m1 8v1m2-9v1m0 13v1m1-39v1m0 2v1m1 27v1m0 1v1m0 3v1m2-15v1m1 7v1m1 6v1m1-11v1m0 6v1m1-11v1m0 4v1m0 2v1m1-14v1m1-8v2m0 6v1m0 8v1m1-9v1m0 19v1m1-18v1m0 10v1m1-13v1m0 4v1m0 5v1m0 6v1m1-16v1m0 24v1m1-46v1m0 2v1m0 12v1m0 6v1m0 13v1m1-9v2m1-33v1m0 4v1m0 13v1m0 4v1m1-18v1m0 23v2m1 2v1m1-36v1m0 8v1m0 15v1m1-22v1m0 7v1m0 22v1m1-35v1m0 33v1m1-17v1m0 13v1m1-31v2m0 11v2m0 9v1m1-28v1m0 39v1m1-32v1m0 15v1m1-9v1m0 7v1m1-22v1m0 7v1m0 32v1m1-8v1m0 2v1m1-44v1m0 18v1m0 10v1m0 5v1m1-40v1m0 4v1m0 13v1m1-22v1m0 36v1m0 2v1m1-36v1m0 1v1m0 31v1m1-37v1m0 19v1m0 14v1m1-5v1m1-11v1m1 7v1m1-8v1m0 8v1m0 3v1m0 3v1m1-9v1m0 3v1m0 8v7m1-30v1m3-38v1m0 42v1m1-6v1m0 9v1m1-33v1m0 4v1m0 30v1m1-2v1m0 5v1m1-19v1m0 14v1m1-3v1m0 3v1m1-21v1m0 11v1m0 3v1m1-45v1m0 27v1m0 18v1m1-8v1m0 3v1m0 5v1m1-19v1m0 14v1m0 7v1m1-11v1m0 3v1m1-9v1m4 3v2m1-10v1m0 7v2m1-50v1m0 46v1m0 5v1m1-15v1m0 6v3m1-18v1m1-1v1m1 11v1m1-4v1m1-1v1m0 8v2m1-18v1m0 8v1m0 1v1m1-12v1m1 0v1m0 5v1m1 8v1m2-9v1m1-36v1m0 6v1m0 22v1m1-28v1m0 6v1m0 31v1m1-36v3m1-41v2m4 33v1m0 39v1m1-19v4m0 12v2m4-16v1m0 9v1m1-32v5m1 27v1m1-1v1m1-37v1m0 3v1m1-37v1m0 3v1m0 28v2m0 29v1m1-64v2m0 29v1m0 3v1m0 31v1m1-70v1m0 36v1m0 20v1m0 8v2m1-11v1m0 4v1m0 7v2m1-37v3m0 21v2m0 9v1m0 2v1m1-19v1m0 13v1m0 1v1m1-13v3m0 7v1m0 4v1m1-34v2m0 15v2m0 12v1m0 1v1m1-58v1m0 2v1m0 36v3m0 11v3m1-39v1m0 3v1m0 17v1m0 3v1m0 9v1m2-58v2m1 21v1m0 1v1m0 19v1m0 2v1m1-50v1m0 2v1m0 40v1m1-15v1m1-6v1m0 3v1m1-3v1m0 1v1m1 0v1m0 11v1m0 4v1m1-6v1m0 3v1m1-26v1m0 6v1m3-26v1m0 1v1m1 21v1m1-12v1m0 8v1m0 20v2m1-25v2m1-22v1m0 1v1m0 23v1m2-14v1m0 5v1m1-20v1m0 3v1m0 11v1m1 3v1m2-12v1m0 9v1m0 25v2m1-29v1m0 22v1m0 3v1m1-71v4m0 35v1m0 26v1m1-32v1m4 33v1m0 1v1m1-54v1m0 19v1m3 5v1m0 24v1m0 2v1m1-38v1m0 36v1m1-38v1m0 2v1m0 28v1m0 6v1m1-39v1m0 1v1m0 27v1m2-34v1m0 2v1m0 27v1m0 3v1m1-33v1m0 7v1m0 22v2m1-2v2m1-21v1m1-6v1m1 23v1m0 2v1m1-49v2m0 19v1m1-3v1m0 3v1m0 22v1m0 4v1m1-25v1m0 16v1m1 0v1m0 5v1m1-9v1m0 8v1m1-24v1m0 18v1m1-50v1m0 5v1m0 14v1m0 7v1m1-33v1m0 32v1m1 16v1m0 6v1"/><path stroke="#00a0ff" d="M0.5 89v3m1 2v1m0 7v1m1-10v1m1-6v1m2-2v1m1-2v1m1 2v1m3-2v1m4-2v1m2-1v1m3 0v1m4-3v1m1 0v1m1 0v1m3 0v1m0 16v1m1-20v1m1-1v1m3-1v1m1-1v1m1 0v1m0 15v1m1-4v1m1-17v1m0 13v2m1-15v1m1 0v1m0 11v1m1-2v1m1-16v1m1 17v1m1-28v1m0 3v1m1 4v1m0 14v2m1-18v1m0 15v1m1-19v2m1-6v2m1 0v1m0 13v1m2-8v1m0 9v1m1-4v4m1-12v1m0 10v1m1-4v1m1-19v1m0 4v2m0 17v4m1-29v1m0 2v1m0 18v1m1-25v1m0 26v1m1-24v1m0 23v1m1-26v1m0 2v1m0 20v1m1-27v1m0 25v1m1-30v1m0 1v2m0 24v1m1-24v1m0 6v1m0 15v1m1-21v1m0 19v1m1-21v4m0 4v1m1-15v1m0 5v1m0 4v1m0 12v1m1-23v2m0 22v1m1-24v2m0 8v1m2-9v2m1 12v1m3-20v1m0 18v1m1-22v1m1 2v1m0 8v2m1 8v1m1-11v2m2-10v1m0 4v1m2-7v1m0 7v3m1-11v1m0 5v1m1 0v1m0 4v1m0 3v1m1-7v2m0 4v1m1-17v1m0 2v1m0 10v1m1-10v1m1 7v3m1-4v1m3-14v1m2 4v1m0 8v1m0 4v1m1-21v1m1-10v1m0 2v1m0 5v1m0 13v1m1-18v1m0 20v1m0 3v1m2-6v2m1 1v1m1-19v1m0 8v2m0 3v1m0 10v1m0 2v1m1-20v1m0 6v1m1-19v1m0 9v1m1-33v2m0 27v1m1-10v1m1 8v1m1-11v1m0 17v1m0 1v1m1-11v1m1 0v1m2-13v1m3-15v3m0 26v1m1-11v1m1 10v1m1 1v1m1-37v2m0 35v1m1-5v3m4-4v2m0 2v1m1 1v1m1-2v1m3-9v1m0 4v1m1-6v1m1-3v1m1-6v1m0 16v1m1-33v2m0 27v1m1-32v1m0 4v1m1 16v1m0 4v1m0 5v1m3-14v1m0 2v1m0 4v1m1-19v1m0 17v1m1-24v1m0 13v1m0 13v1m2-17v1m1 17v1m0 2v1m1-22v1m0 17v1m1-26v1m0 22v1m0 6v1m1-31v1m0 6v1m0 5v1m1-28v1m0 6v1m0 34v2m1-38v1m0 23v1m0 1v1m1-15v1m0 10v2m0 4v1m1-11v1m0 8v2m1-34v1m0 36v1m1-40v1m0 1v1m0 25v1m0 6v3m4-3v3m1-16v1m0 19v1m2-16v1m1 0v1m1-49v3m2 56v1m1-1v1m2-11v1m1 0v1m0 5v3m1-53v1m0 48v1m2-8v1m0 10v7m1-18v1m0 8v1m0 1v1m1-16v1m1-1v1m0 5v1m1-7v1m0 5v1m1 2v3m0 4v1m2-21v1m1 0v1m0 6v1m4-10v1m0 7v1m0 4v3m1-14v1m1-1v1m1 15v1m1-4v1m2-2v1m0 2v1m3 0v3m2-17v1m0 8v1m4-32v1m0 36v1m1-32v1m0 26v1m2-31v1m0 3v1m3 14v1m0 2v6m2-34v1m0 4v1m1-6v1m0 4v1m0 30v2m1-38v1m1-33v3m0 65v1m1-37v1m0 1v1m1-42v1m0 42v2m0 19v8m1-28v1m1 32v2m1-12v1m0 8v1m1-36v1m0 4v1m1 32v1m1-56v2m1-3v1m0 3v1m0 14v3m0 19v3m0 6v1m3-30v1m0 21v2m1-48v2m0 42v1m0 2v1m3-21v1m1 14v4m1-18v1m0 13v3m4-42v1m0 11v1m0 2v1m3-1v4m1-19v1m0 25v3m2-12v1m1-18v3m0 13v3m2-8v1m2-3v1m0 31v3m1-21v1m1-7v1m4-6v1m0 31v1m1-48v1m0 15v1m0 4v1m3-6v1m0 3v1m0 26v2m1-4v1m1-33v2m1-1v1m0 34v1m1-38v1m0 2v1m0 32v1m1-38v2m0 29v3m3-28v1m1 8v1m1 18v2m1-32v1m0 3v1m1-24v1m0 3v1m0 18v1m0 26v4m1-29v1m0 27v1m1-31v1m0 8v1m1-8v1m0 3v1m1-5v1m0 20v1m1-44v1m0 3v1m1-8v1m0 1v1m1 23v1"/><path stroke="#00baff" d="M1.5 95v1m1-2v1m7-7v1m5-1v1m0 15v1m3-18v1m3 17v1m2-20v1m3 18v1m1-1v1m6-22v1m0 18v1m1-4v1m2-12v1m2 8v1m3-20v1m1 18v1m1-11v1m1-14v3m0 9v1m1 7v3m2-24v1m0 4v1m0 2v1m0 12v2m1-19v2m1-1v1m0 11v1m2-6v1m0 7v1m1-13v1m0 8v1m1 2v1m1-10v1m1-11v4m0 2v1m1-8v2m0 6v1m0 11v1m1-18v1m0 19v1m1-27v1m0 2v1m1 0v2m0 7v1m1-7v1m0 3v1m0 14v1m1-28v1m0 14v1m2-1v3m0 8v1m1-11v1m0 11v1m1-5v1m1-20v4m0 12v1m1 5v1m1-12v1m1-5v1m0 12v1m1-25v1m1-2v1m1 16v1m2-2v1m0 4v1m1-12v1m0 2v1m0 5v1m1-17v1m1-2v1m3 7v1m1-3v2m2-5v1m0 2v1m0 8v1m1-14v1m0 6v1m0 2v1m2-12v1m1 5v1m1-9v1m0 7v1m0 8v1m1-20v1m1 0v1m2-2v1m1 0v1m0 15v1m0 2v1m1-8v1m1-21v2m0 15v1m1-12v1m0 5v1m0 14v3m1-23v1m0 6v1m1-7v1m0 8v8m1-2v1m0 3v1m1-10v1m0 2v1m0 14v2m1-20v1m0 1v1m3-5v1m1-11v1m0 12v1m0 3v1m1-12v1m0 11v1m2-18v1m3-1v1m0 9v1m1-28v1m0 3v1m0 22v1m1 0v1m3-9v1m0 10v1m4-6v1m1-9v1m1 2v1m0 4v2m0 2v2m1-1v3m1-13v1m0 2v1m0 4v1m4-9v1m0 2v1m1-5v1m0 10v1m0 4v1m1-16v1m0 14v1m3-36v1m0 2v1m0 15v1m0 1v1m1-23v1m0 16v1m1-19v1m0 20v1m0 13v1m1-27v1m0 13v1m0 12v1m2-34v1m0 2v1m0 23v1m0 3v1m1-2v1m2-27v1m0 30v2m1-8v1m1-27v1m1-1v1m0 4v1m0 26v1m1-20v1m0 5v1m1-26v1m0 2v1m0 23v1m0 3v1m0 2v1m1-38v1m0 2v1m0 16v1m0 8v1m0 2v1m1-31v1m1 24v1m0 9v3m1-38v1m1 19v1m0 7v1m1-4v1m1-6v1m2 13v1m0 5v1m2-21v1m1-1v1m1-1v1m1 8v1m1-31v1m0 2v1m0 23v1m0 8v3m1-21v1m0 16v1m0 2v1m2-18v1m0 14v3m1-10v1m1-43v1m0 1v2m0 45v2m1-15v1m0 6v1m0 5v1m0 3v1m1-17v1m1-2v1m0 14v1m5-17v1m2 17v1m1-17v1m0 1v1m1-7v1m0 5v1m1-1v1m4 2v1m0 3v1m2-11v1m0 3v1m1 6v2m2-13v1m0 4v1m2-26v1m0 33v1m0 2v1m2-14v1m0 4v1m3-26v1m0 26v1m1-36v1m0 35v3m2-33v3m3 16v2m4-27v2m1 29v1m0 2v1m1-35v1m0 27v1m1-65v1m1 32v1m0 26v1m0 2v1m2-6v1m0 3v1m1 9v1m0 2v1m3-56v1m0 1v1m0 47v1m0 1v1m2-38v1m0 5v1m2 19v2m1-52v1m0 4v1m0 22v1m0 4v1m1-4v3m2-5v1m1-2v1m1-2v1m0 4v1m1-12v1m0 6v1m2-7v2m1-4v1m0 10v1m1-10v1m0 6v1m4-8v1m2-2v1m1 5v1m8-1v1m1-26v1m0 23v1m4-8v1m0 7v1m0 24v1m0 1v1m1-4v1m1-2v1m1-32v2m0 29v1m2-25v1m1-6v1m0 7v1m1 15v1m1-19v1m0 19v1m2-26v1m0 1v1m1-22v1m0 22v2m1 3v1m0 18v1m1 4v1m1-28v1m0 20v1m2-44v1m0 1v1m0 17v1m1-24v1m0 22v1m1 8v1m0 16v1m0 4v1"/><path stroke="#00d4ff" d="M1.5 101v1m1-7v1m0 8v1m5-15v1m4-1v1m4-3v1m3 0v1m2-3v1m6 1v1m5-1v1m0 15v1m3-5v1m1-12v1m1-1v1m1-5v1m0 10v1m1 3v1m1-14v1m1-9v5m1-1v1m1 15v1m1-13v1m0 11v1m1-17v1m0 9v1m1 2v1m1-20v1m0 15v1m1-15v1m0 11v1m1-13v1m0 9v1m2-4v7m1-4v1m1-6v1m0 7v1m1-3v1m1-10v1m0 7v1m2-7v1m1-13v2m0 12v1m1 10v1m1-25v1m0 22v1m2-17v1m0 6v1m0 8v1m1-13v1m0 10v1m2-24v1m0 3v1m0 6v1m1-5v1m1 16v1m1 3v1m2-12v1m1-19v1m0 13v1m1-13v1m1 15v1m1-13v1m3 2v1m2-7v1m0 2v1m1-5v1m3 2v2m0 7v2m1-2v3m1-15v2m2-2v1m1 11v1m0 1v1m1-12v1m1 0v1m1-1v1m2 9v2m1-3v1m1-9v1m0 1v1m0 2v1m3-6v1m1-9v1m0 7v1m0 7v3m1-5v2m1-14v1m0 6v1m0 7v1m1-9v1m3 2v1m0 1v1m2-9v1m1 0v1m2-11v1m3 11v1m1-2v1m1-7v1m0 8v1m1 0v1m1 1v1m1-15v1m0 6v1m1-8v1m0 5v1m5-3v2m1-8v1m0 7v1m2 6v1m0 4v1m2-16v2m1-4v2m0 16v1m0 8v1m1-9v1m1-37v1m0 1v2m1-4v2m0 17v1m0 7v1m0 3v1m1-28v1m0 17v1m1-19v1m0 26v1m1-33v1m0 21v1m1-19v1m0 4v1m0 23v1m1-32v2m0 23v1m0 1v3m1-13v1m0 10v1m1-13v1m1-19v1m0 17v1m0 6v1m1-25v1m0 5v1m1 1v1m0 7v1m1-10v1m0 9v1m2-20v2m0 29v2m1-36v2m0 30v1m0 1v1m1-38v1m0 2v1m0 19v1m1-2v1m5 9v1m1 6v1m0 3v1m5-19v1m1-22v2m0 18v1m1 2v1m0 11v2m1-8v2m0 4v1m3-49v1m1 48v3m3-9v1m3 4v4m3-4v1m1-12v1m6-4v1m0 11v3m1-4v1m5-39v1m0 4v1m1-3v1m0 40v1m1-16v1m0 6v1m1-1v1m3 5v1m8-39v1m0 2v1m1-4v1m0 2v1m2 28v2m1-1v1m1-73v1m1 41v1m0 21v2m2-4v1m0 1v1m1-24v1m0 2v1m0 31v2m3-54v1m0 49v1m8-28v1m1-6v1m0 3v1m1-3v1m4-2v1m1-8v1m4-1v3m4 0v1m3-8v1m4 2v1m1-18v1m0 17v3m3-3v3m1-6v1m0 32v1m1 2v1m2-6v1m0 1v1m2-34v1m2 31v1m1-22v1m0 21v1m2-31v1m1-20v2m1 22v1m0 1v1m0 23v1m1-4v1m1-23v2m0 19v1m0 5v1m1-24v1m0 15v1m0 2v1m1-46v1m0 24v1m1 0v1"/><path stroke="#07efef" d="M1.5 96v1m0 3v1m3-14v1m2-1v1m1 17v1m1-18v1m1 15v1m1 0v1m2-16v1m2-2v1m2-2v1m4 5v1m1 11v1m6-18v1m1 0v1m4-6v1m1 2v1m1-1v1m2 11v1m2-14v1m1 10v1m1-14v1m0 11v1m1-1v1m1-9v1m0 9v1m1-11v6m2 0v2m1-22v3m0 5v1m0 9v1m2-13v9m3-7v1m0 5v1m2-4v1m2 6v1m1-22v1m0 23v1m3-20v1m0 16v2m1-10v1m0 9v1m1-22v1m0 19v1m1-18v1m0 9v1m0 5v1m1-8v1m0 9v1m1-25v3m0 17v1m2-9v1m2 8v1m1-23v1m1-1v1m2-1v1m1-3v1m0 16v1m0 2v1m1-18v1m0 5v1m0 4v1m0 3v1m1 1v1m1-12v1m2-5v2m1 2v1m1-7v1m0 3v1m1-5v1m0 3v1m4-4v1m0 1v1m2 9v1m2-16v1m1 0v1m3-2v1m0 5v1m0 5v1m0 1v1m1-15v1m0 9v2m1-14v1m5 13v1m2-15v1m2 6v1m0 6v1m1-16v1m0 4v1m1-4v1m2-2v1m3-17v1m0 1v1m1 15v1m8 5v1m1-4v1m0 2v1m2 4v1m0 1v1m2-16v1m0 6v1m1-7v1m1 3v2m1 8v1m0 2v1m1 2v4m1-23v1m0 4v1m0 8v1m1-31v1m1 26v1m2-2v4m1-26v1m0 22v1m1-22v1m0 20v1m1-4v1m1 1v2m1-5v1m1-22v1m1 13v1m0 4v1m0 10v1m1-12v1m0 10v1m0 4v1m1-35v3m0 14v1m0 20v1m1-47v1m1 19v1m1 5v1m0 5v1m1-36v1m2 21v1m0 6v1m1 0v1m1-8v1m2 0v1m1 6v1m0 7v3m1-19v1m0 5v1m3-3v1m4-3v1m0 8v1m5-8v1m0 1v1m1-4v1m0 2v1m2 1v1m2 2v1m1-5v1m1-2v1m1 11v1m3-20v1m1 5v1m1 0v1m1-6v1m0 4v1m3-4v1m0 1v1m5 11v1m1-14v1m0 4v1m1-3v1m0 1v1m3-29v1m0 32v2m1-37v1m0 5v1m7-7v2m1-2v2m3 26v1m0 2v1m1-71v2m1 34v1m2 25v1m6-25v1m0 3v1m3-29v1m0 2v1m0 24v1m0 2v1m5-6v3m1-4v1m3 1v1m1-2v1m6-2v1m1-7v1m1-4v1m1 0v1m0 5v1m1-3v1m0 7v1m1-7v1m4 0v1m1-24v2m4 21v1m2 24v1m0 2v1m1-3v1m2-28v1m2 4v1m1-3v1m4 0v1m0 21v1m0 1v1m1-28v1m0 6v1m2-6v1m0 21v2m3-23v1m0 23v1m0 2v1"/><path stroke="#1cffda" d="M1.5 97v1m0 1v1m1-4v1m1-8v1m2-2v1m2 2v1m3-3v1m3-1v1m6-1v1m1 5v1m1-10v1m2 0v1m1 0v1m5-1v1m3-3v1m0 15v1m1-4v1m2-9v1m0 11v1m2-8v1m2-8v1m1-4v1m2 11v1m1-4v1m0 3v1m1-7v1m1-11v1m0 10v1m2-14v1m0 9v1m5-6v1m0 5v1m1-3v1m1-8v1m0 5v1m1-7v1m1-8v1m0 18v1m1-9v1m0 10v1m1-14v1m0 10v1m1-23v1m0 1v1m0 16v1m2-6v1m1-6v1m0 5v1m0 3v1m1 2v1m1-13v1m1-5v1m0 9v1m1 4v1m1-9v1m1-5v1m2-11v1m1 12v1m1-8v2m0 7v1m1-1v2m1-5v1m0 1v1m1-14v1m1-2v1m7 1v1m0 4v1m2-6v1m1 2v1m1-7v1m3 3v1m1-2v1m1-1v1m1 8v1m2-12v1m1-4v1m0 4v1m1 1v1m2 1v1m1 4v3m1-16v1m0 6v1m2-10v1m3 5v1m1-6v1m1 5v1m3-23v1m0 16v1m1 6v1m4-6v1m0 9v1m3-13v1m2 3v2m2 6v1m3-8v1m0 7v1m0 2v1m2-3v2m1 7v1m0 2v1m3-15v2m1-32v1m0 3v1m1 22v1m1 5v1m1-29v1m0 1v1m1 12v1m1 6v1m2-27v1m1 29v1m1-27v1m0 2v1m2-7v1m1 21v1m1-9v1m1-22v1m0 24v1m1 0v1m2-4v1m2 4v1m5-1v1m1-6v1m4 6v1m0 5v1m2-8v1m1-9v1m0 5v1m1 2v1m1-4v1m2-2v1m1-1v1m1-1v1m0 3v1m1-6v1m2-4v1m1 0v1m0 14v2m2-18v1m3 0v1m2 5v1m1 3v1m1-8v1m3-2v1m0 2v1m1-29v1m1-1v1m0 2v1m1 23v1m0 2v1m1-1v1m3-24v1m14-6v1m3 0v2m8-27v1m0 26v2m3-3v1m0 2v1m1-4v3m2-11v1m4 1v2m0 1v1m7-2v1m4-7v1m4 2v1m5-3v1m1 30v1m0 2v1m1-4v2m5-30v1m0 21v1m1-18v2m0 17v1m4 3v1m1-1v3m1-4v1m0 3v1m2-29v1m0 3v1m1-5v1m0 4v1m1 1v1m0 19v2"/><path stroke="#32ffc5" d="M1.5 98v1m1 4v1m1 0v1m2-1v1m3-1v1m1-16v1m2 14v1m3-15v1m1-2v1m1-1v1m4 3v1m4 9v2m1-16v1m2 15v1m3-18v1m2-2v1m4 3v1m1-5v1m1 12v1m1-4v1m1-11v1m1 8v1m1-7v1m1 5v1m1-12v1m1 7v1m1-2v1m5-9v1m0 3v1m1-2v1m0 3v1m1-5v1m0 1v1m2 2v1m1-20v1m0 11v1m3-11v1m0 7v1m2-8v1m0 2v1m0 14v1m1-5v3m1-5v1m0 6v1m1-4v1m1-12v1m4-9v1m1 0v2m2 5v1m1-6v1m1 1v1m0 7v1m1-12v1m0 3v1m1-2v1m3-5v1m0 3v1m1-5v3m1-1v1m5-3v1m2-5v1m1 1v1m0 3v1m2-7v1m1 0v1m2 5v1m1-8v1m2 0v1m1-1v1m1 1v1m1 4v1m2-3v1m1 0v1m1-9v1m1-1v1m2 6v1m2-9v1m0 7v1m2 1v1m2-7v1m0 4v1m1 2v1m1-8v1m0 7v1m5-11v1m4-3v1m2 15v2m3 8v2m1-8v1m3-20v1m1-19v1m0 4v1m0 15v1m1-20v1m0 28v1m1-25v1m0 23v1m0 1v1m3-14v1m1-18v2m1-2v1m0 3v1m0 25v2m1-28v2m0 30v1m1-20v1m0 17v1m1-20v1m0 3v1m3-6v1m3 5v1m2-6v1m4-1v1m0 3v1m1-5v1m1 1v1m1 4v1m3 3v2m1-7v1m1-9v1m4 4v2m1 3v1m6-4v1m2-3v1m2-6v1m4 1v1m4 2v2m1-31v1m1 3v2m1 25v2m4-26v1m1-3v1m0 3v1m11 23v2m10-31v3m3-27v1m3 27v2m3-7v1m3-6v1m0 6v1m1-3v1m6-5v1m1-1v1m8 1v2m5-1v1m1 27v1m4-33v1m0 2v1m1-3v1m0 5v1m1 22v1m1 0v1m5-26v1m2 1v1m0 2v1m1-5v1"/><path stroke="#47ffb0" d="M2.5 97v1m1-8v1m1 14v1m7-15v1m0 11v1m2 0v1m2-11v2m0 8v1m2-17v1m2 15v1m1-17v1m1 6v2m2 7v1m3-15v1m6-3v1m0 12v1m1-13v1m1-1v1m0 10v1m1-9v1m1 6v1m1-5v1m2-6v1m1 5v1m1-12v1m0 9v1m1 1v1m1-1v2m1-7v1m2-9v1m1-3v1m4 2v3m1 0v1m0 1v1m1-3v1m1-5v1m0 3v1m2-15v2m3 16v1m1-6v1m1-11v2m0 10v1m0 3v1m1-15v1m0 2v1m1 6v1m0 3v2m1-10v1m0 5v1m2-6v1m0 7v1m1 4v1m2-26v3m0 11v1m1-13v1m0 7v1m2-12v1m0 4v1m0 3v1m0 4v1m1-17v1m1 2v1m1 1v3m0 1v2m0 7v1m1-16v1m5-1v2m2 3v1m4-2v1m1-4v1m2-3v1m0 1v1m3-4v1m0 3v1m2-6v2m1-2v1m1 4v1m3-4v1m5-2v1m1-2v1m4-2v1m0 7v1m2-2v1m4 4v1m1-7v1m2 0v1m11 8v1m3-33v1m0 1v1m0 18v1m2-18v1m0 26v1m1-2v1m1-7v1m1-6v1m0 5v1m3-8v1m0 2v1m1-5v1m0 16v1m1-16v2m1-24v1m6 20v1m1 1v1m3-3v1m4-1v1m1-1v1m1-2v1m0 3v1m1-8v1m5 4v1m4 1v1m0 1v1m3-6v1m5 1v1m3-3v1m0 2v1m1-4v1m1 7v1m5-35v2m6 5v2m14-8v1m0 1v1m17-5v1m10 2v1m1-2v1m1-1v1m1-2v1m2-4v1m0 2v1m9-3v1m1 31v1m4-33v2m2 5v1m1 19v1m5-18v1m1 19v3m1-25v2m1-3v2"/><path stroke="#5cff9b" d="M2.5 102v1m1-8v1m1-8v1m2 15v1m1-13v1m5 11v1m4-1v1m2-15v1m0 13v1m2-13v1m2-6v1m0 16v1m6 0v1m3-16v1m1-2v1m0 5v4m5-11v1m0 5v1m1-7v1m1 7v1m1-9v1m2 2v1m3 0v1m1-2v1m1-9v1m0 6v1m5-2v1m2-5v1m0 1v1m2 6v1m1-7v1m0 8v1m1-3v1m2-1v1m1-6v1m0 1v1m1-13v2m1 8v3m1-3v1m1-9v1m0 6v1m4-13v1m1-1v1m1-4v1m1 8v1m0 2v1m1-12v1m1 1v1m1 4v1m1-6v1m3-3v1m0 1v1m4-2v1m3 0v1m3-5v3m1-2v1m2-3v1m0 1v1m2-3v1m2 1v1m2 2v1m7-8v2m1 2v1m2-5v1m4 1v1m5-2v1m1-1v1m0 3v1m2 0v1m10-5v1m0 2v1m0 11v2m3-34v1m1 23v1m1-25v1m0 1v1m0 26v1m4-8v1m1-6v1m1-17v1m0 1v1m1 30v2m1 4v1m1-42v1m0 17v1m1-2v1m0 4v1m1-7v1m0 4v1m1-5v2m1-4v1m1 0v1m0 4v1m1-3v3m1-5v1m2 5v1m2-3v1m6-4v1m1 0v1m0 3v1m1-7v1m7 4v1m2 3v1m1-5v1m1-6v1m3-1v1m0 1v1m3 1v1m15-25v3m13-6v1m17-3v2m11-3v2m1-6v1m1 0v1m1 9v1m1-9v2m9-1v2m7 22v1m0 2v1m1 0v1m5-24v1m4-1v1m0 2v1m1-2v1m0 2v1"/><path stroke="#71ff86" d="M2.5 98v1m1-5v1m0 1v1m3-9v1m2 0v1m2 0v1m1 11v1m1 0v1m2-13v1m1-2v1m0 2v1m1-4v1m1 13v1m2-15v1m1 5v1m1-10v1m0 6v1m6-5v1m1 0v1m1-3v1m0 14v1m3-15v2m0 1v2m0 4v2m1-3v1m5 0v1m1-9v1m1-3v1m0 5v1m1-2v1m1 1v1m2-11v1m1-3v1m1 0v1m8 0v1m1-3v1m0 6v1m1-6v1m2-1v1m1-3v1m0 6v1m2-1v1m3-6v4m2 3v1m1-6v1m1-5v1m0 8v1m4-20v1m0 2v1m0 6v2m1-14v1m1 2v2m1 6v1m0 4v1m1-14v2m3-1v1m4 0v2m3-4v2m1-4v1m1-3v1m4 1v1m2 2v1m2-5v2m1-2v1m0 2v1m2 2v1m1-2v1m1-1v1m3-3v1m3-5v1m7 1v1m2 7v1m8-7v1m1-6v1m0 4v1m1-5v1m8-19v1m0 2v1m1-1v1m2 17v1m1 3v1m2-2v1m1-21v1m0 15v2m1 0v1m1 15v1m1-40v2m0 20v1m4-2v1m3-1v1m1 1v1m1-4v1m1 4v1m1-7v1m1 2v1m1 0v1m9 1v1m5-3v1m0 1v1m3-3v1m3-4v1m1-3v1m1 3v1m1-3v1m1 0v2m1 1v1m1 2v1m45-36v1m0 4v1m7-5v1m0 1v1m4-2v1m16-2v1m1 1v1m0 22v2m1 0v1m5-20v1m4-3v2"/><path stroke="#86ff71" d="M2.5 101v1m1-11v1m0 1v1m1 1v2m1-8v1m0 13v1m1-1v1m5-12v1m1-2v1m2 11v1m1-13v2m0 3v1m1-6v1m0 2v2m4-7v1m0 1v1m2 4v1m1-9v1m0 6v1m0 7v1m1-15v1m0 12v1m1-13v1m5 13v1m2-13v1m1-3v1m1-1v1m1 2v1m0 8v1m1-11v1m0 5v1m1-10v1m0 3v1m1-5v1m1 2v1m0 1v2m2-10v1m1 5v1m0 2v1m2-5v1m1-1v1m1-2v1m1-7v1m0 4v1m11 4v1m2-7v1m5-6v1m1 3v1m3-10v1m1-1v1m0 4v1m1 1v1m1-11v2m1-4v2m2 9v1m0 2v1m16-17v1m0 2v1m2-2v1m0 1v1m5-4v1m3-1v1m1-3v1m2-1v1m2 1v2m1 1v1m2-7v1m3 6v1m1-4v1m0 2v1m1 2v1m1 0v1m5-9v1m6 2v1m4-3v2m3-4v1m4 5v1m1-4v1m1-2v1m3-2v1m1 21v1m1-22v1m7-2v1m1-1v1m4-1v1m1-1v1m4-4v1m1 6v1m2-1v1m2-3v1m3 0v1m0 2v1m2-3v1m2-4v1m2-2v1m0 2v1m5-2v1m55-29v1m2-1v1m1-4v1m0 1v1m17 3v1m1 0v1m6 0v2m5 0v2"/><path stroke="#9bff5c" d="M2.5 99v2m1-9v1m0 4v1m6-8v1m4-1v1m0 12v1m3-12v2m4-4v1m0 13v1m1-8v1m1 5v1m8-15v1m7 0v3m1 5v1m1-6v1m1-4v1m0 3v1m1-2v1m1-1v2m5-10v1m0 2v1m9 4v1m9-6v1m1 3v1m1 5v1m2-12v1m6-3v2m12-10v1m1-4v1m5-1v1m1-2v1m3-1v2m3-1v1m2 0v1m1-6v1m5 4v1m3-4v1m4 1v1m1-1v1m0 5v1m1-6v1m1-4v1m0 1v1m1-3v1m5-3v1m9 3v1m1-21v2m0 18v1m0 3v1m3-4v2m1 0v1m5 14v1m2-18v1m1-5v1m0 2v1m2-5v1m1 3v1m7-2v1m3-1v1m0 3v1m1-6v1m0 1v1m1-4v1m1 2v2m3-6v1m0 3v1m1 1v1m7-2v1m1-4v1m4 0v1m1-4v1m1 2v1m2-1v1m1 4v1m45-31v1m9-7v1m1 1v1m1 6v1m17-4v2"/><path stroke="#b0ff47" d="M3.5 103v1m1-15v1m3 3v1m1 9v1m1-1v1m3-2v1m4-7v1m1-8v1m2 13v1m3-9v1m1-2v1m0 1v1m2 7v1m1-14v1m7 5v1m1 1v1m2-7v1m0 3v1m2-8v1m0 6v1m2-7v3m1-7v1m0 4v1m3-6v1m0 2v1m1-6v1m1 0v1m0 2v1m1-4v2m8-3v1m0 4v1m1-4v1m1 1v1m0 6v1m2-12v1m0 4v1m1 3v1m5-11v1m1 3v1m1 0v1m2-11v1m1-1v1m1-5v1m16-2v1m1-3v1m6 2v1m5-2v1m1 1v1m7-5v1m4 4v1m1-5v1m0 1v1m1-1v1m4-4v1m3 2v1m6-4v1m7-1v1m6 1v1m0 1v1m1-4v1m2-1v2m1 18v1m2-22v1m3-1v1m1-2v1m3 1v2m1 1v1m1-4v1m1-2v1m0 1v1m2-2v2m3-2v1m1-4v1m2 5v1m1-7v1m2 4v1m3 0v1m4-3v1m1-1v1m1-2v2m3-4v2m4 1v2m46-31v1m11 1v1m16-2v1m0 1v1"/><path stroke="#c5ff32" d="M4.5 94v1m2-6v1m2 0v1m3 2v1m3-2v1m0 9v1m5-12v1m2 1v1m0 11v1m1-9v1m0 4v1m1-1v1m3 1v1m2-13v1m1-3v1m0 4v2m4-6v1m2 2v1m3 1v1m6-9v2m1 0v1m1-4v2m10 3v1m2-6v1m0 5v1m7-9v3m1 3v1m4-10v1m17-7v1m1-4v1m3-2v2m3 0v1m4 1v1m1 0v1m1-3v1m1 0v1m2-1v1m4-4v2m1-4v1m1 3v1m1-5v1m2 2v1m1-1v1m5-2v1m1 2v1m1-4v2m6-1v1m7-2v1m5 1v2m1-2v1m1 0v1m8-6v1m5 1v1m2-1v1m14 3v1m3-4v1m2-2v1m5-1v1m4-2v1m45-27v2m9-3v1m2 4v1m16-4v1"/><path stroke="#daff1c" d="M3.5 102v1m1-6v1m1-8v1m1 11v1m1 1v1m3-14v1m8-1v1m0 11v1m1-2v1m2-15v1m1-1v1m1 0v1m1 0v1m1 0v1m2-1v1m4 12v1m2-9v1m1-6v1m1 9v1m1-8v1m0 1v1m2-6v5m3-8v1m0 1v2m14-6v1m0 2v1m4-1v1m1-1v1m6-1v2m2-6v1m0 6v1m2-13v2m1 2v1m16-10v1m11-3v1m3-1v1m3-3v1m0 2v1m6 2v1m4 0v1m2 0v1m1-6v1m7-1v1m1-4v1m0 2v1m1-2v1m8 1v1m0 1v1m11-5v2m1-3v2m3-2v2m5 2v1m9-5v1m9 6v1m7-9v1m58-29v2m2 3v1"/><path stroke="#effe07" d="M3.5 98v1m1-9v1m8 1v1m8 10v1m3-11v1m4 2v2m2-4v1m1-5v1m1 0v1m5 3v1m5-7v1m4-4v1m0 2v1m10-3v2m1-1v1m0 2v1m1-2v1m0 4v1m1-8v1m0 3v1m1-7v1m1 6v1m7-4v1m0 6v1m2-18v1m0 5v1m30-12v1m9-2v1m1-5v1m5 3v1m1 4v1m2-7v1m7-3v1m10 4v1m6-3v1m13-1v2m6-2v1m0 1v1m5-2v1m1-5v1m0 1v1m14-2v1m4 4v1m56-29v1"/><path stroke="#ffe600" d="M4.5 93v1m1 8v1m1-8v1m1-2v1m3 9v1m3-14v1m0 10v1m1-10v1m3 9v1m2-12v1m3 1v1m2-1v2m1-1v2m1-5v1m2 0v1m1-3v1m0 11v1m1-9v2m3-5v1m0 2v1m12-9v2m11 0v2m3-4v2m1 1v1m0 1v1m38-18v1m1 0v1m2-3v2m1-5v1m14 3v1m3-3v1m21 1v1m14-2v2m5-1v1"/><path stroke="#ffce00" d="M4.5 91v2m2-3v1m0 3v1m2-4v1m0 10v1m1-12v1m2 2v1m4 2v1m2-8v1m2 2v1m1 3v1m0 4v1m1-14v1m0 2v1m0 5v1m2-9v1m1 0v1m0 1v1m1-2v1m2-1v1m0 2v1m0 8v1m1-1v1m1-13v2m0 3v1m1-4v1m3-2v2m1-3v1m0 5v1m1-4v1m22-5v1m0 2v1m1-6v1m0 1v1m2-1v1m11-16v1m27-3v1m4-1v1m2-3v2m4-2v2m3-1v1m0 2v1m4-2v1m1 2v1m3-4v1m5-4v2m1-2v2m38 1v1m2-4v1"/><path stroke="#ffb500" d="M3.5 101v1m1 2v1m1-14v1m5 0v1m4 8v1m1 1v1m1-7v1m1 4v1m2-9v1m4-4v2m1-1v1m1 0v2m0 8v1m2-6v1m1-5v1m2-4v1m0 5v1m5 2v1m22-9v2m1-4v1m9 0v1m0 4v1m2-16v1m0 3v1m2-3v1m32-13v1m11 5v1m5-4v1m44-2v1m1-3v1"/><path stroke="#ff9d00" d="M3.5 99v1m3-9v1m0 1v1m0 2v1m3 5v1m1-7v2m1 3v1m5 1v1m2-2v1m3-13v2m0 11v2m1-16v1m0 8v1m1-2v1m2-1v1m1-5v1m0 3v1m0 5v1m1-11v2m1 8v1m2-12v2m38-3v1m35-17v1m6-2v1m5 0v1m1 2v1m1-3v1m47-3v1m9 0v1m11-3v1m0 2v1"/><path stroke="#ff8500" d="M6.5 92v1m1 2v1m1-4v1m4 0v1m2 0v1m4-3v1m1 2v1m3 5v1m2-6v1m2-1v1m2-2v1m0 6v1m6-10v1m1 2v1m33-11v1m1-5v1m2-6v1m31-6v2m7-3v1m1 0v1m1 1v2m3 0v1m1-1v1m1 0v1m48-4v1m8 3v1"/><path stroke="#ff6d00" d="M3.5 100v1m2-9v1m2 10v1m1-11v2m1-3v1m1 0v1m0 1v1m3-4v1m2 9v1m6-1v1m1-10v1m4 0v2m0 2v1m3 3v1m1 0v1m1-12v1m3 4v1m1 1v1m32-8v1m0 2v1m2-13v2m2-3v1m39-7v1m5 0v1"/><path stroke="#ff5500" d="M4.5 98v1m4-4v1m2-2v1m0 3v1m7-8v1m0 4v2m0 3v1m2-1v1m8 1v1m8-7v2m32-6v2m97-23v2m19 0v2"/><path stroke="#ff3c00" d="M5.5 93v3m4-3v1m2 1v1m1 5v1m2-7v1m2 6v1m4-2v1m2-12v1m1 10v1m1-1v1m6-4v1m4-5v1m0 1v1m34-7v1m3-13v1m0 2v1m32-10v1m6-1v2m63 2v1"/><path stroke="#ff2400" d="M6.5 101v1m3-8v2m3-2v1m1-2v1m4 4v1m2-3v1m2 2v1m1-8v1m0 6v1m4 2v1m1-4v1m1-4v1m1 1v1m5-4v1m34-9v1m3-9v2m32-7v1m69 2v1"/><path stroke="#f60c00" d="M4.5 103v1m1-8v1m2-1v1m2-1v1m1 6v1m3-10v1m4-3v1m0 2v1m1-3v1m3 7v1m1-11v1m0 8v1m5 1v1m4 0v1m72-31v1"/><path stroke="#d90000" d="M6.5 97v1m2-2v1m0 4v1m7-1v1m1-4v1m1 1v1m3-3v1m5 3v1m1-4v1m5-7v1m37-6v2m42-17v1"/><path stroke="#bb0000" d="M7.5 102v1m6-8v1m0 5v1m2-4v1m2-6v2m0 4v1m4 0v1m4-3v1m85-24v1"/><path stroke="#9d0000" d="M5.5 101v1m5-3v1m2-5v1m2 0v1m9 1v1m1-2v1m4 3v1m3-5v2m79-25v1"/><path stroke="#800000" d="M4.5 99v4m1-6v4m1-3v3m1-4v5m1-5v4m1-4v5m1-2v3m1-7v5m1-5v5m1-5v5m1-4v4m1-2v2m1-2v3m2-8v8m1-5v4m1-2v2m3-2v2m1-3v3m1-2v3m1-2v2m1-2v2m1-5v4m1-2v3m1-3v4m1-9v3m0 2v4"/></g></g></g><rect x="106" y="627.5" width="524" height="407.9000000000001" fill="none" stroke="#3a3a3a" stroke-width="0.9"/><line x1="102.7" y1="1035.40" x2="106" y2="1035.40" stroke="#222" stroke-width="0.9"/><text x="100.2" y="1045.10" font-size="27" text-anchor="end" fill="#111">0</text><line x1="102.7" y1="953.82" x2="106" y2="953.82" stroke="#222" stroke-width="0.9"/><text x="100.2" y="963.52" font-size="27" text-anchor="end" fill="#111">2</text><line x1="102.7" y1="872.24" x2="106" y2="872.24" stroke="#222" stroke-width="0.9"/><text x="100.2" y="881.94" font-size="27" text-anchor="end" fill="#111">4</text><line x1="102.7" y1="790.66" x2="106" y2="790.66" stroke="#222" stroke-width="0.9"/><text x="100.2" y="800.36" font-size="27" text-anchor="end" fill="#111">6</text><line x1="102.7" y1="709.08" x2="106" y2="709.08" stroke="#222" stroke-width="0.9"/><text x="100.2" y="718.78" font-size="27" text-anchor="end" fill="#111">8</text><line x1="102.7" y1="627.50" x2="106" y2="627.50" stroke="#222" stroke-width="0.9"/><text x="100.2" y="637.20" font-size="27" text-anchor="end" fill="#111" textLength="31" lengthAdjust="spacing">10</text><line x1="106.00" y1="1035.4" x2="106.00" y2="1038.7" stroke="#222" stroke-width="0.9"/><text x="106.00" y="1062.60" font-size="27" text-anchor="middle" fill="#111">0</text><line x1="193.33" y1="1035.4" x2="193.33" y2="1038.7" stroke="#222" stroke-width="0.9"/><text x="193.33" y="1062.60" font-size="27" text-anchor="middle" fill="#111">5</text><line x1="280.67" y1="1035.4" x2="280.67" y2="1038.7" stroke="#222" stroke-width="0.9"/><text x="265.17" y="1062.60" font-size="27" fill="#111" textLength="31" lengthAdjust="spacing">10</text><line x1="368.00" y1="1035.4" x2="368.00" y2="1038.7" stroke="#222" stroke-width="0.9"/><text x="352.50" y="1062.60" font-size="27" fill="#111" textLength="31" lengthAdjust="spacing">15</text><line x1="455.33" y1="1035.4" x2="455.33" y2="1038.7" stroke="#222" stroke-width="0.9"/><text x="439.83" y="1062.60" font-size="27" fill="#111" textLength="31" lengthAdjust="spacing">20</text><line x1="542.67" y1="1035.4" x2="542.67" y2="1038.7" stroke="#222" stroke-width="0.9"/><text x="527.17" y="1062.60" font-size="27" fill="#111" textLength="31" lengthAdjust="spacing">25</text><text x="295.00" y="1094.70" font-size="32.5" fill="#111" textLength="146" lengthAdjust="spacingAndGlyphs">Time (ps)</text><text transform="translate(55.5,865.00) rotate(-90)" font-size="32.5" fill="#111" textLength="66" lengthAdjust="spacingAndGlyphs"><tspan font-style="italic">r</tspan> (Å)</text><rect x="662" y="627.5" width="21" height="407.9000000000001" fill="url(#jetg)" stroke="#555" stroke-width="0.8"/><line x1="683" y1="1035.40" x2="686.3" y2="1035.40" stroke="#222" stroke-width="0.9"/><text x="688.8" y="1045.10" font-size="27" fill="#111">0</text><line x1="683" y1="627.50" x2="686.3" y2="627.50" stroke="#222" stroke-width="0.9"/><text x="688.8" y="637.20" font-size="27" fill="#111">1</text><text transform="translate(736.5,911.80) rotate(-90)" font-size="31.5" fill="#111" font-style="italic" textLength="160" lengthAdjust="spacingAndGlyphs">4πr<tspan dy="-12" font-size="21">2</tspan><tspan dy="12">G</tspan><tspan dy="6" font-size="22">s</tspan><tspan dy="-6">(t,r)</tspan></text><text x="5" y="628.5" font-size="41" font-weight="bold">c</text><clipPath id="clipd"><rect x="838.4" y="627.4" width="534.6" height="416.69999999999993"/></clipPath><g clip-path="url(#clipd)"><g filter="url(#hblur)" shape-rendering="crispEdges"><g transform="translate(832,615) scale(2,4)" fill="none"><rect width="274" height="111" fill="#000080"/><path stroke="#00009d" d="M0.5 83v2m0 25v1m1-25v2m0 21v1m1-23v2m0 21v1m1-30v3m1-2v1m1-1v2m0 26v1m1-26v2m0 23v1m1-28v1m0 25v1m1-24v1m0 22v2m1-26v2m0 23v1m1-29v1m0 27v1m1-27v2m0 24v1m1-27v2m0 23v1m1-30v2m0 27v2m1-24v1m1 0v2m0 20v1m1-28v2m0 24v1m1-28v1m0 26v1m1-26v1m1-4v1m0 27v1m1-28v2m1-3v2m0 27v1m1-29v1m0 27v1m1-30v2m0 27v1m1-29v2m0 25v1m1-28v3m0 25v1m1-26v2m0 23v1m1-30v2m0 27v1m1-28v2m0 24v1m1-28v2m0 26v1m1-33v2m0 30v1m1-29v2m0 25v1m1-30v2m0 27v1m1-30v1m0 29v1m1-31v2m0 27v1m1-28v1m0 25v1m1-27v2m0 26v1m1-32v2m1-2v2m0 28v1m1-28v2m0 25v2m1-30v1m1-2v2m0 27v1m1-30v1m0 27v1m1-28v1m0 28v1m1-29v2m1-2v2m0 25v2m1-30v2m1-4v1m1 0v2m0 27v1m1-25v2m0 22v1m1-31v2m1 3v2m0 24v1m1-27v1m0 25v1m1-30v2m1 1v1m0 24v2m1-29v2m0 25v2m1-27v1m0 24v1m1-30v2m1-1v2m0 25v1m1-27v2m0 24v1m1-25v1m0 24v1m1-27v2m0 24v1m1-27v2m0 24v1m1-26v2m0 24v1m1-31v2m1 2v1m0 24v1m1-30v2m0 26v1m1-30v2m0 28v1m1-29v1m1-1v2m0 25v1m1-28v2m0 27v1m1-28v2m0 24v2m1-23v1m0 20v2m1-26v2m0 23v1m1-29v2m1-1v2m0 24v1m1-25v1m0 23v1m1-21v2m1-8v1m1-1v2m1-4v1m1-1v1m0 27v1m1-30v2m1-1v2m0 26v1m1-27v2m1-5v2m0 28v1m1-33v1m0 30v2m1-35v1m0 33v1m1-33v1m0 30v2m1-32v2m0 29v1m1-31v3m1-4v2m0 28v1m1-32v2m0 29v1m1-32v2m0 30v1m1-33v2m0 29v1m1-32v2m1 0v2m1-2v2m0 27v1m1-31v2m0 28v1m1-28v1m1-6v2m0 30v1m1-32v2m0 29v1m1-31v2m0 27v1m1-34v2m0 32v1m1-32v2m1 3v1m1-3v1m1-4v2m1-2v1m0 30v1m1-34v2m1-3v2m0 31v1m1-34v3m0 32v1m1-33v1m0 30v2m1-36v3m1-7v2m0 36v2m1-37v2m0 34v1m1-37v2m0 33v2m1-40v1m0 38v1m1-39v3m0 35v1m1-40v2m0 37v1m1-43v2m0 39v2m1-46v2m0 43v1m1-41v2m0 38v1m1-39v2m0 36v1m1-39v2m0 36v1m1-40v2m0 36v1m1-39v2m1-3v2m0 37v1m1-41v2m0 38v1m1-47v2m1 3v1m0 39v1m1-45v2m1-1v2m0 42v2m1-43v2m1-7v2m1 0v1m0 42v1m1-47v2m0 6v4m0 34v1m1-50v3m1 4v2m0 39v1m1-45v1m0 43v2m1-50v3m0 42v2m1-47v3m0 45v2m1-46v2m0 35v2m1-46v2m0 43v3m1-47v2m0 49v2m1-50v2m0 43v4m1-42v2m0 32v4m0 3v3m1-49v2m0 44v2m1-44v2m0 39v4m1-48v3m0 32v13m1-46v2m0 40v3m1-48v2m0 44v2m1-43v2m0 41v1m1-51v4m0 4v2m0 38v2m1-55v3m0 4v6m0 39v2m1-51v2m0 49v1m1-54v2m0 47v2m1-53v2m0 20v4m0 28v3m1-57v2m0 51v3m1-57v2m0 41v3m0 11v1m1-58v2m1-1v2m1-1v2m0 9v2m1-12v1m1-1v1m0 52v2m1-54v1m1-4v2m0 53v2m1-60v2m0 9v3m0 43v3m1-56v1m0 53v2m1-54v1m1-1v2m0 50v2m1-54v2m0 6v3m0 2v2m0 36v2m1-56v1m0 9v2m0 6v1m0 35v2m1-58v2m0 9v2m0 2v2m0 38v3m1-57v2m0 53v2m1-52v2m0 46v2m1-52v2m0 52v1m1-59v1m0 56v2m1-57v2m0 52v3m1-60v2m0 10v2m0 4v1m0 35v2m1-58v1m0 12v3m0 42v2m1-59v1m0 59v1m1-57v1m0 55v1m1-55v1m0 53v1m1-55v1m1 0v1m0 51v2m1-55v1m1-2v1m1-2v2m0 52v2m1-57v2m0 55v1m1-58v1m0 55v1m1-58v2m1-2v1m1 0v1m0 56v1m1-57v2m0 52v3m1-57v1m0 52v1m1-55v1m0 53v2m1-57v1m0 54v2m1-58v1m0 10v2m0 7v2m0 35v2m1-57v2m0 9v5m0 37v2m1-53v2m0 9v2m0 38v2m1-52v1m0 51v2m1-58v1m1-2v2m1 0v1m0 11v5m0 8v2m1-27v2m0 8v4m0 41v2m1-57v2m0 51v2m1-55v2m0 55v1m1-58v2m0 35v2m0 2v2m1-42v1m1 0v2m0 52v2m1-55v2m0 51v2m1-57v2m0 48v2m1-51v2m0 48v2m1-49v1m1-6v1m0 11v4m1-20v2m0 11v1m0 4v1m0 40v2m1-61v2m0 11v1m0 43v2m1-53v2m0 48v3m1-52v1m0 49v2m1-54v2m0 54v1m1-59v1m0 11v3m0 41v2m1-55v1m1-2v2m0 10v1m1-15v2m0 56v1m1-57v1m0 51v2m1-53v2m0 50v2m1-53v2m0 50v3m1-59v3m0 47v3m1-52v2m0 52v2m1-55v2m0 51v2m1-58v2m0 57v1m1-57v2m0 52v2m1-56v2m0 54v1m1-59v2m0 54v2m1-61v5m0 24v2m0 25v2m1-66v3m0 33v2m0 28v2m1-72v3m0 68v2m1-70v3m0 20v3m0 43v2m1-69v3m1-5v3m0 7v3m0 42v6m1-67v10m0 6v1m0 59v1m1-83v2m0 9v3m0 7v2m0 15v2m0 40v2m1-78v3m0 9v2m0 7v1m0 55v2m1-72v3m0 9v3m0 53v2m1-72v2m0 10v5m0 53v2m1-68v3m0 53v5m0 5v3m1-68v3m0 63v3m1-78v3m0 70v3m1-72v4m0 5v3m0 4v2m0 52v2m1-72v4m0 67v2m1-76v2m0 10v2m0 4v2m1-21v2m0 10v5m1-15v3m0 11v4m0 28v2m0 24v2m1-71v2m0 39v3m0 24v2m1-70v5m0 62v2m1-71v3m0 70v2m1-74v2m0 71v1m1-76v1m0 14v4m0 54v1m1-73v2m0 28v4m0 36v2m1-69v2m0 26v1m0 37v2m1-70v3m0 3v4m0 58v2m1-66v1m0 20v4m0 42v2m1-71v2m0 67v3m1-69v1m0 36v2m0 2v1m0 19v2m1-70v2m1-3v2m0 60v5m1-68v1m0 60v4m0 12v1m1-82v2m0 75v2m1-76v2m0 29v1m0 3v1m0 38v2m1-73v2m0 25v2m0 1v1m0 15v1m0 23v2m1-81v2m0 77v2m1-81v3m0 49v2m0 3v1m0 22v2m1-80v2m0 11v3m0 6v2m0 52v1"/><path stroke="#0000bb" d="M0.5 85v1m0 23v1m1-2v1m1-20v1m0 19v1m1-26v2m1-3v1m0 26v1m1-27v1m0 24v1m1-23v1m0 21v1m1-26v1m1 2v1m1-1v1m1-5v1m0 25v1m1-24v2m0 21v1m1-24v1m1-5v1m1 5v1m0 21v1m1-21v1m0 18v1m1-25v1m0 22v1m1-26v1m1 1v1m0 22v1m1-27v1m1 1v1m1-2v1m0 25v1m1-27v2m1-2v1m0 25v1m1-26v2m1-1v2m0 22v1m1-23v1m0 21v1m1-27v1m1 1v1m1-2v1m0 24v1m1-30v1m0 28v1m1-26v1m0 23v1m2-28v1m0 27v1m1-28v1m1 0v2m1-1v1m0 24v1m1-29v1m0 28v1m2-27v1m1-3v2m0 26v1m2-30v1m1 0v1m0 26v1m1-26v1m0 25v1m1-27v1m1-2v1m0 26v1m1-31v1m1 1v1m2-2v1m0 28v1m1-25v1m0 22v1m1-25v1m0 23v1m1-27v1m1 1v1m1-2v1m1 0v1m1-4v1m0 27v1m1-28v1m1 0v1m1 0v1m1 22v1m1-24v1m0 22v1m1-23v2m1-6v2m0 26v1m1-26v1m0 22v1m1-27v1m1-2v2m1-1v1m0 25v1m1-26v1m1-1v1m0 25v1m2-21v1m1-3v1m0 21v1m1-26v1m0 25v1m1-26v1m1 0v1m1 4v2m0 17v1m1-27v1m0 25v1m1-26v1m1-4v1m1-1v1m0 25v1m1-27v1m0 25v1m1-26v1m1 1v1m0 24v1m1-29v1m0 26v1m1-31v1m1-3v1m0 31v1m1-31v1m1 1v2m0 26v1m1-27v2m0 2v6m0 17v1m1-30v1m0 26v1m1-29v1m1-1v1m0 28v1m1-30v1m1-1v1m0 27v1m1-27v1m0 25v1m1-1v1m1-28v1m0 26v1m1-26v1m0 24v1m1-30v1m1 0v1m1 0v1m1-5v1m0 30v1m1-29v1m0 29v1m1-27v1m0 23v1m1-27v1m0 25v1m1-29v1m0 27v1m1-30v1m1-2v1m0 29v1m1-32v1m1 0v2m0 29v1m1-31v1m1-2v1m0 29v1m1-36v1m1 2v1m0 32v1m1-34v1m1-5v1m0 36v1m1-35v1m0 33v1m1-37v2m0 34v1m1-40v1m0 11v2m1-17v2m0 9v2m0 29v1m1-38v1m1 1v1m0 34v1m1-36v1m1-2v1m1-1v1m0 34v1m1-37v2m1-3v1m0 36v1m1-44v1m0 42v1m1-40v1m1-4v1m0 41v1m1-42v1m1 2v1m0 37v1m1-44v1m0 44v1m1-45v1m1-3v2m0 2v2m0 4v1m1-13v1m0 45v1m2-45v1m0 41v1m1-45v2m0 39v1m1-42v6m0 38v1m1-42v1m0 33v1m1-42v1m0 40v2m1-42v1m0 34v2m0 10v2m1-46v1m0 38v4m1-36v1m0 29v2m0 4v3m1-44v2m0 3v4m0 34v1m1-40v3m0 33v3m1-41v2m0 29v1m1-31v1m0 23v2m0 12v2m1-43v1m0 42v1m1-39v1m0 38v2m1-40v1m0 36v1m1-50v4m0 6v1m0 37v1m1-47v1m0 5v3m0 24v3m0 12v1m1-51v1m0 45v1m1-49v1m0 17v2m0 4v1m0 25v2m1-52v1m0 7v3m0 30v6m0 1v3m1-52v2m0 38v1m0 3v1m0 8v2m1-55v1m0 54v1m1-55v2m0 52v1m1-54v1m0 7v1m0 2v1m1-12v1m1-1v1m1 0v1m0 51v1m1-55v1m0 7v1m0 43v1m1-56v1m0 7v1m0 3v1m0 41v1m1-52v1m0 51v1m1-51v1m0 51v1m1-52v2m0 47v1m1-50v2m0 3v1m0 7v1m0 34v1m1-53v1m0 7v1m0 9v1m0 32v2m1-54v1m0 7v1m0 6v1m0 36v1m1-52v1m0 5v4m0 42v1m1-48v1m0 44v1m1-48v1m0 50v1m1-57v1m0 38v4m0 12v1m1-53v1m0 48v3m1-55v1m0 8v1m0 7v1m0 33v1m1-55v1m0 9v2m0 3v3m0 37v2m1-56v1m0 15v2m0 26v2m0 12v1m1-55v1m0 9v2m0 42v1m1-53v1m0 37v2m0 12v1m1-53v1m1 0v1m0 35v4m0 9v2m1-52v1m0 37v3m0 11v2m1-55v1m1-1v1m0 10v3m0 37v1m1-53v1m1-2v1m0 53v1m1-55v1m0 9v3m0 12v2m1-28v1m0 56v1m1-57v1m0 54v1m1-54v1m0 50v1m1-53v1m0 50v1m1-53v1m0 9v3m0 39v1m1-54v1m0 52v1m1-55v1m0 8v1m0 11v1m0 33v1m1-53v1m0 7v1m0 5v2m0 34v1m1-49v1m0 7v1m0 2v1m0 36v1m1-49v1m0 49v1m1-55v1m0 28v1m0 27v1m1-58v1m0 10v2m1-12v1m0 9v1m0 5v1m0 5v2m0 2v1m1-26v1m0 6v1m0 4v2m0 38v1m1-53v1m0 49v1m1-51v1m0 53v1m1-55v1m0 7v3m0 23v1m1-35v1m0 54v1m1-54v1m0 50v1m1-51v1m0 10v5m0 4v5m0 24v2m1-53v1m0 46v1m1-47v1m0 46v1m1-46v1m1-6v1m0 9v1m0 4v1m0 40v1m1-60v1m0 9v1m0 6v1m0 38v1m1-57v1m0 9v1m0 1v2m0 40v1m1-24v3m0 19v1m1-48v1m0 47v1m1-50v1m0 52v1m1-57v1m0 9v1m0 3v1m0 39v1m1-52v2m0 7v3m0 42v1m1-55v1m0 7v2m0 1v1m0 42v1m1-57v1m0 21v4m0 29v1m1-55v1m0 49v1m1-49v1m0 47v2m1-49v2m0 45v3m1-53v1m0 44v2m1-47v1m0 38v4m0 7v2m1-51v1m0 49v1m1-54v1m0 15v7m0 33v1m1-54v1m0 18v4m0 28v1m1-52v1m0 52v1m1-56v1m0 8v5m0 39v1m1-54v2m0 21v1m0 2v1m0 23v1m1-61v2m0 30v1m0 2v1m0 26v1m1-67v1m0 9v3m0 54v1m1-65v1m0 18v1m0 3v1m0 41v1m1-64v1m0 51v5m0 8v1m1-68v3m0 1v3m0 3v2m0 46v2m0 6v2m1-60v1m0 57v1m1-80v2m0 5v2m0 12v1m0 12v2m0 2v1m0 38v1m1-73v1m0 6v2m0 10v1m0 9v3m0 41v1m1-67v2m0 4v3m0 3v1m0 11v2m0 38v1m1-68v2m0 6v2m0 5v1m0 41v4m0 5v2m1-63v1m0 18v4m0 29v1m0 5v5m1-62v2m0 60v1m1-72v1m0 33v3m0 32v1m1-65v5m0 9v1m0 23v2m0 25v1m1-66v7m0 5v2m0 52v1m1-72v2m0 6v2m0 20v2m0 42v1m1-76v2m0 7v1m0 5v2m0 3v4m0 51v1m1-73v1m0 8v2m0 4v1m0 13v3m0 9v2m0 2v2m0 21v1m1-67v2m0 36v1m0 3v1m0 22v1m1-63v2m0 23v2m0 34v1m1-66v1m0 68v1m1-70v1m0 11v2m0 37v6m0 13v1m1-74v1m0 12v1m0 4v1m0 52v1m1-70v2m0 9v3m0 13v1m0 4v1m0 33v2m1-65v2m0 21v3m0 1v3m0 33v1m1-65v3m0 4v1m0 56v1m1-63v1m0 18v1m0 4v1m0 40v1m1-67v1m0 35v3m0 27v1m1-65v1m0 34v1m0 5v1m0 17v1m1-66v2m0 4v3m0 64v1m1-75v1m0 16v1m0 41v1m0 5v1m1-68v1m0 58v1m0 4v1m0 10v1m1-79v1m0 41v3m0 28v2m1-72v1m0 27v1m0 5v1m0 36v1m1-69v2m0 22v1m0 4v1m0 13v1m0 1v1m0 21v1m1-77v2m0 34v3m0 37v1m1-76v1m0 47v1m0 6v1m0 20v1m1-76v2m0 8v1m0 11v1m0 27v3m0 20v1"/><path stroke="#0000d9" d="M1.5 88v1m0 18v1m1-18v1m1-5v1m1-3v1m1 0v1m2-1v1m0 22v1m2 0v1m1-26v1m1 3v1m1-2v1m0 20v1m1-1v1m1-20v1m0 19v1m2-24v1m1-3v1m0 23v1m2-26v1m1 26v1m1-27v1m1 0v1m0 23v1m1-26v1m1 1v1m0 21v1m1-22v2m1-1v1m1-5v1m0 24v1m1-24v1m2-6v1m1 3v1m1-4v1m0 25v1m1-27v1m1 0v1m0 24v1m1-24v1m1-1v1m2-5v1m1 26v1m1-25v1m0 24v1m1-28v1m0 25v1m1-27v1m1 0v1m1 1v1m0 23v1m1-25v2m1-3v1m0 24v1m1-29v1m0 28v1m1-28v1m0 24v1m1-22v1m0 20v1m1-27v1m2 3v1m1-3v1m0 25v1m1-25v1m0 21v1m1-24v1m0 22v1m1-23v1m0 21v1m1-26v1m2 1v1m1 0v1m1-2v1m1 0v1m1 1v1m0 20v1m1-26v1m0 24v1m1-24v1m1-4v1m1-1v1m0 24v1m1-26v1m3 1v1m2 2v1m1-4v1m0 23v1m1-2v1m1-22v1m0 20v1m1 0v1m1-25v1m2-3v2m0 25v1m1-28v1m1-1v1m1 0v1m0 23v1m1 0v1m1-27v1m1-4v1m1 11v3m1-15v1m1 2v2m1 0v2m0 6v1m1-12v1m1-2v1m2-1v1m0 26v1m1-28v1m1 1v1m1-2v1m2 1v1m1-5v1m0 27v1m1-28v1m0 26v1m1-27v1m1-5v1m2 6v1m1-3v1m2-4v1m0 27v1m2-31v1m1 1v1m1-1v1m1-2v1m1-6v1m2 2v1m1-5v1m1 2v2m1-3v1m1-5v1m0 8v2m0 2v1m1-16v1m0 6v2m0 2v2m1-9v1m0 35v1m1-35v1m1-1v2m0 32v1m1-36v1m0 33v1m1-35v1m1-1v2m0 32v1m2-43v1m2 0v1m0 5v4m1-9v2m0 3v4m0 31v1m1-38v2m1-7v1m0 42v1m1-43v1m1-2v2m0 7v1m0 28v1m0 2v1m1-45v6m1-1v1m0 36v2m1-42v1m0 39v1m1-42v1m0 27v4m0 6v1m1-35v1m0 35v2m1-40v1m1-8v1m0 38v1m1-39v1m0 4v3m0 25v1m0 2v2m0 6v2m1-43v1m0 33v4m1-31v1m0 27v1m1-33v3m0 4v2m0 31v1m1-36v1m0 30v2m1-36v3m1 19v1m0 2v1m0 9v2m1-40v1m0 40v1m1-27v2m0 17v4m0 4v1m1-37v1m0 34v1m1-38v1m0 35v1m1-45v5m0 3v1m0 26v1m0 10v1m1-49v1m0 7v2m0 34v1m1-47v1m0 15v1m0 30v2m1-49v1m0 5v1m0 3v2m0 27v1m0 6v1m1-47v2m0 1v4m0 15v1m0 14v1m0 5v2m0 5v1m1-52v1m0 40v3m0 9v1m1-52v7m0 16v2m1-25v1m0 4v2m0 4v1m1-12v1m0 8v5m0 38v1m1-53v1m0 49v1m1-50v1m0 16v3m0 30v1m1-53v1m0 4v2m0 1v1m0 41v1m1-54v1m0 5v1m0 5v1m0 39v1m1-50v1m0 49v1m1-49v1m0 49v1m1-49v1m0 45v1m1-47v3m0 42v1m1-51v1m0 5v1m0 41v2m1-51v1m0 5v1m0 8v1m0 26v3m0 4v2m1-50v5m0 4v1m1-5v1m0 42v1m1-46v1m0 34v4m0 10v1m1-55v1m0 6v5m0 25v1m0 4v1m0 10v1m1-51v1m0 6v9m0 31v1m1-44v1m0 9v1m0 30v2m1-53v1m0 16v1m0 26v3m0 6v1m1-53v1m0 12v2m0 2v1m0 23v2m0 2v1m0 10v1m1-53v1m0 7v1m0 2v1m0 39v2m1-51v1m0 35v1m0 2v1m0 10v1m1-38v5m0 34v1m1-52v1m0 38v1m0 7v1m1-49v1m0 35v1m0 3v2m0 8v1m1-52v1m0 9v3m0 28v4m0 8v1m1-54v1m0 7v2m0 3v1m0 35v1m1-51v1m0 7v9m0 36v1m1-55v1m0 8v8m0 35v1m1-53v1m0 7v1m0 3v1m0 10v1m0 2v1m0 14v2m1-44v1m0 7v4m0 14v3m0 26v1m1-55v1m0 52v1m1-52v1m0 20v3m0 25v1m1-51v1m0 48v1m1-51v1m0 11v1m0 37v1m1-52v1m0 24v5m1-31v1m0 6v1m0 13v1m1-19v1m0 5v1m0 8v1m1-14v1m0 5v1m0 4v1m0 34v1m1-47v1m0 47v1m1-26v1m0 1v1m0 25v1m1-47v1m0 2v1m1-12v1m0 15v5m0 5v1m0 28v1m1-55v2m0 2v2m0 7v1m0 36v1m1-27v3m0 21v1m1-41v3m0 14v1m0 26v1m1-53v1m0 4v2m0 3v1m0 21v1m0 7v1m0 13v1m1-55v1m0 52v1m1-44v2m0 39v1m1-49v1m0 7v2m0 5v4m0 5v1m0 20v3m1-5v1m1 0v1m1-44v1m0 49v1m1-56v1m0 7v1m0 6v1m0 38v1m1-58v1m0 7v1m0 8v1m0 36v1m1-47v1m0 43v1m1-48v1m0 23v1m0 3v1m0 16v2m1-46v1m0 45v1m1-24v2m0 25v1m1-55v1m0 13v1m1-5v1m0 3v1m0 40v1m1-53v1m0 5v1m0 4v1m0 40v1m1-55v1m0 8v3m0 8v1m0 4v1m0 27v1m1-53v1m0 46v2m1-47v2m0 44v1m1-45v2m0 34v4m0 3v2m1-49v1m0 41v2m1-44v1m0 41v2m0 3v2m1 0v1m1-52v1m0 12v2m0 7v2m0 30v1m1-52v1m0 16v1m0 4v3m0 24v1m1 1v1m1-54v1m0 5v2m0 5v1m0 12v4m0 21v1m1-51v1m0 19v1m0 4v1m0 21v1m1-58v4m0 25v1m0 4v1m0 24v1m1-65v1m0 6v2m0 3v1m0 37v1m1-48v1m0 35v4m0 23v1m1-62v2m0 3v4m0 26v4m0 11v1m0 5v2m0 5v1m1-64v1m0 28v5m0 14v1m0 8v6m1-57v1m0 24v4m0 12v2m0 13v1m1-77v5m0 15v1m0 10v1m0 5v1m0 36v1m1-71v6m0 13v1m0 7v1m0 3v1m0 39v1m1-64v4m0 7v1m0 9v1m0 2v2m1-29v2m0 2v2m0 8v1m0 39v1m0 4v5m1-60v7m0 15v1m0 27v1m1-49v2m0 49v3m0 4v2m1-70v2m0 11v4m0 19v2m0 29v1m1-27v1m0 2v1m0 23v1m1-58v5m0 2v2m0 9v3m0 12v4m1-47v2m0 2v2m0 10v1m0 10v1m0 16v2m0 25v1m1-73v2m0 3v2m0 8v3m0 4v1m0 18v3m0 28v1m1-71v1m0 6v1m0 7v1m0 11v1m0 3v1m0 14v1m0 19v1m1-64v1m0 7v2m0 14v2m0 36v1m1-60v1m0 21v1m0 2v1m0 32v1m1-64v2m0 51v3m0 11v1m1-68v1m0 9v1m0 2v1m0 35v1m0 6v2m0 10v1m1-72v1m0 10v1m0 57v1m1-67v1m0 6v2m0 22v1m1-29v1m0 6v2m0 11v1m0 7v1m0 31v1m1-56v1m0 33v2m0 19v1m1-61v1m0 16v1m0 6v1m0 38v1m1-65v2m0 19v2m0 15v1m0 24v2m1-63v1m0 19v2m0 19v1m1-47v4m0 3v3m0 29v3m0 17v5m0 6v1m1-73v1m0 14v1m0 1v1m0 39v1m0 7v1m0 7v1m1-76v1m0 18v3m0 42v1m0 8v1m1-77v1m0 17v3m0 10v4m0 5v1m0 3v1m0 26v1m1-69v1m0 25v1m0 7v1m0 34v1m1-66v1m0 20v1m0 6v1m0 11v1m0 3v1m0 19v1m1-74v8m0 12v1m0 11v2m0 3v1m0 13v1m0 21v1m1-74v1m0 8v5m0 18v2m0 21v1m0 18v1m1-73v1m0 6v1m0 39v1m0 3v1m0 18v1"/><path stroke="#0000f6" d="M0.5 86v1m0 21v1m1-20v1m1 1v1m0 16v1m1-22v1m0 22v1m1-26v1m0 23v1m2-22v1m2-1v1m0 19v1m1-21v1m2 0v1m2-7v1m2 7v1m1-5v1m1-3v1m1 0v1m1 21v1m1-24v1m1-1v1m2 22v1m1-22v2m1 0v1m0 18v1m1-20v1m0 18v1m1-24v1m1 1v1m0 20v1m1-24v1m0 22v1m1-1v1m2-26v1m1-1v1m2 2v1m2-5v1m0 26v1m1-28v1m0 25v1m1-24v1m2-3v1m1-1v1m2 2v1m1 0v1m0 20v1m1-24v1m2-2v1m2-2v1m1 3v1m0 20v1m1-22v1m1 21v1m2-24v1m2 22v1m1-26v1m2 23v1m2-22v1m1 1v1m1-5v3m5-4v1m1-1v1m0 23v1m1-1v1m1-19v1m0 17v1m1-20v1m0 18v1m2-23v1m2 6v1m1-8v1m0 22v1m1-24v1m0 23v1m1-26v1m1-2v1m1-1v1m2 1v1m1-3v1m1-4v1m0 26v1m1-31v1m0 12v1m0 3v1m1 12v1m1-24v3m0 20v1m1 0v1m1-27v2m1-3v1m0 25v1m1-28v1m1 0v1m1-1v3m1-1v1m2-3v1m1 2v1m2-4v1m1 0v2m1-6v1m1 1v1m0 27v1m3-29v1m2-3v1m2 1v1m0 26v1m1-1v1m1-29v1m1-6v1m0 4v3m1-6v1m1 30v1m1-35v1m0 33v1m1-31v1m0 4v5m0 20v1m1-33v1m0 7v1m0 23v1m1-37v1m0 35v1m1-39v1m0 4v1m0 6v1m2-7v1m1 0v2m0 1v5m2-10v1m1 0v1m1-5v1m1-6v1m1 2v1m1-3v1m0 3v1m0 4v1m1-8v3m0 4v1m1-5v1m1 7v1m1-14v1m0 38v1m2-39v1m1-1v1m1 34v1m1-40v1m0 30v1m0 4v1m1-33v1m0 28v3m0 2v1m1-37v1m0 30v1m1-39v2m0 3v5m0 27v1m1-37v4m0 3v1m0 23v1m0 5v6m1-40v1m0 31v1m1-26v1m0 25v1m1-23v1m0 29v1m1-34v1m0 28v1m1-31v1m0 24v1m1-29v1m0 20v1m0 4v1m0 7v1m1-37v1m0 38v1m1-36v1m0 8v1m0 2v1m0 15v1m0 4v4m1-2v1m1-36v1m0 33v1m1-35v1m0 21v1m0 4v1m0 8v1m1-47v1m0 5v1m0 2v1m0 8v2m0 22v1m1-45v1m0 13v1m0 8v1m0 19v3m1-46v2m0 1v2m0 6v1m0 24v2m1-37v1m0 4v1m0 13v1m0 1v1m0 21v2m0 1v2m1-50v2m0 5v3m0 29v1m0 3v1m0 7v1m1-44v1m0 17v1m0 25v1m1-51v2m0 1v1m0 47v1m1-52v1m0 6v1m0 5v2m0 35v1m1-51v1m0 47v1m1-48v1m0 14v1m0 3v1m1-22v4m0 4v1m1-12v1m0 2v2m0 30v2m1 14v1m1-47v1m0 5v2m0 12v2m1-20v6m1 5v1m1-17v2m0 2v1m0 12v1m0 23v6m1-48v1m0 3v1m0 10v1m0 24v1m0 3v4m1-38v1m0 39v1m2-47v2m0 31v1m0 4v2m1-45v1m0 4v1m0 5v4m0 27v1m1-40v2m0 2v2m0 9v1m0 29v1m1-50v1m0 40v3m0 3v1m1-43v1m0 34v1m0 3v2m0 2v2m1-51v1m0 6v5m0 5v1m0 27v1m0 8v1m1-51v1m0 5v1m0 4v1m0 37v1m1-48v1m0 33v1m1-36v1m0 11v1m0 5v3m0 30v1m1-50v1m0 32v1m0 5v2m0 3v2m1-47v1m0 40v1m0 6v1m1-43v2m0 3v1m0 25v2m0 4v2m0 5v1m1-52v2m0 3v2m0 6v1m0 24v2m1-35v1m0 9v1m0 34v1m1-53v1m0 6v1m0 8v1m0 11v2m1-18v1m0 13v1m0 12v1m0 2v1m0 11v1m1-56v1m0 23v1m0 3v1m0 24v1m1-45v1m0 11v4m0 27v1m1-31v1m0 3v1m0 23v1m1-49v1m0 7v3m0 36v1m1-49v1m0 6v1m0 4v1m0 12v2m1-28v1m0 8v6m0 8v1m0 5v1m0 20v1m1-52v1m0 4v1m0 15v1m0 30v1m1-50v1m0 3v1m0 10v2m0 30v1m1-46v1m0 3v1m1-5v1m0 6v4m0 35v1m1-52v1m0 25v1m0 3v1m0 23v1m1-55v1m0 12v1m0 12v4m0 15v3m0 8v1m1-48v1m0 18v1m0 25v2m1-52v2m0 10v1m0 20v2m0 12v1m1-50v1m0 22v1m0 23v1m1-48v1m0 10v1m0 12v1m0 1v1m0 19v6m1-51v1m0 2v1m0 6v1m0 19v1m0 9v1m1-41v1m0 6v7m0 26v2m1-41v1m0 6v1m0 2v2m0 24v3m1-37v2m0 4v1m0 17v1m0 18v1m1-47v1m0 43v1m1-44v1m0 14v3m0 18v2m0 6v1m1-15v4m0 17v1m1-54v1m0 51v1m1-50v1m0 45v1m1-54v1m0 6v1m0 5v1m0 37v1m1-46v1m0 21v1m0 20v1m1-35v3m1-13v1m0 22v1m0 2v1m0 23v1m1-46v1m0 19v2m0 22v1m1-49v1m0 4v1m1-6v1m0 3v1m0 45v1m1-53v1m0 6v1m0 3v1m0 6v1m0 6v1m0 14v1m0 10v1m1-51v1m0 8v1m0 35v1m1-43v1m0 42v1m1-42v5m0 28v1m0 4v3m1-46v2m0 36v3m1-5v1m0 6v3m1-46v1m0 38v2m0 6v1m1-50v1m0 10v1m0 11v2m0 27v1m1-26v1m1-26v1m0 7v2m0 29v4m0 7v1m1-52v5m0 8v1m0 10v1m1-24v1m0 24v1m1-33v3m0 51v1m1-63v2m0 2v2m0 42v1m0 1v1m0 13v1m1-62v3m0 1v4m0 8v1m0 5v1m0 11v1m0 4v1m0 21v1m1-59v3m0 4v1m0 23v2m0 4v1m0 9v1m0 8v5m1-54v1m0 6v3m0 9v1m0 5v1m0 12v1m1-41v1m0 14v9m0 4v1m0 10v1m0 2v1m1-43v1m0 8v1m0 7v1m1-15v1m0 5v1m0 5v1m1-5v1m0 5v2m0 7v3m0 23v1m1-63v2m0 11v1m1-5v1m0 9v1m0 5v1m1-20v2m0 11v1m0 34v1m0 3v4m1-66v8m0 1v2m0 4v1m0 14v1m0 5v1m1-20v1m0 20v1m0 26v1m1-40v1m0 14v1m0 25v1m1-67v2m0 22v1m0 3v1m0 11v2m0 2v1m1-46v3m0 18v1m0 8v3m0 4v2m0 3v2m1-43v2m0 3v1m0 9v1m0 15v1m0 6v1m0 25v1m1-62v1m0 4v2m0 2v1m0 12v1m0 2v1m0 8v1m0 5v1m0 19v1m1-58v2m0 18v1m0 4v1m0 30v1m1-61v13m0 11v2m0 24v1m0 3v1m0 9v1m1-58v1m0 48v1m1-44v1m1-15v1m0 4v1m0 5v1m0 11v1m0 7v1m0 30v1m1-60v6m0 2v1m0 9v1m0 39v1m1-22v1m0 2v1m1-41v1m0 23v1m0 5v4m0 27v1m1-62v7m0 11v1m0 2v1m0 10v1m0 4v1m0 21v2m1-60v1m0 17v1m0 2v1m0 10v1m0 23v1m1-53v2m0 15v3m0 8v1m0 17v3m0 5v6m1-71v1m0 12v1m0 3v1m0 23v2m0 12v1m0 9v1m0 5v1m1-74v1m0 16v1m0 38v1m0 7v1m0 6v1m1-75v1m0 15v1m0 3v1m0 13v2m0 1v2m0 5v1m0 13v4m0 7v1m1-67v1m0 11v4m0 51v1m1-2v1m1-65v3m0 8v1m0 1v1m0 9v1m0 6v1m0 11v1m0 1v1m0 19v1m1-72v2m0 4v2m0 5v6m0 11v1m0 2v1m0 11v1m0 26v1m1-71v2m0 2v2m0 14v1m0 24v1m0 5v1m0 16v1"/><path stroke="#0003ff" d="M0.5 87v1m0 19v1m1-2v1m2-19v3m1-5v1m1-1v1m0 21v1m1-1v1m1-23v1m3-2v1m0 8v2m0 12v1m1-19v1m1-3v1m2 1v1m1 17v1m1-21v1m3-5v1m2 1v1m1-1v1m1-2v1m2 4v1m1-1v1m1-5v1m3-5v1m1 3v1m3-3v1m1 2v1m1-2v1m0 21v1m4-24v1m0 22v1m3-25v1m0 23v1m1-1v1m1-21v1m1-3v1m1-5v1m0 26v1m1-25v1m1 2v1m1-5v1m0 24v1m1-22v1m1 19v1m1-24v1m1 1v1m1-1v1m2-4v1m2 1v1m0 20v1m1-21v1m1-2v1m1 1v1m1 1v1m0 17v1m1-21v2m1-3v1m1-4v1m0 22v1m1-24v1m1-1v1m1 0v1m2 0v1m3-1v1m1 0v1m1 0v1m2-2v1m1-1v1m1-2v4m3-5v1m1 1v1m1-3v2m0 21v1m1-27v2m1 24v1m1-28v1m1 6v1m1 5v1m1-10v4m1-6v1m1 24v1m1-26v1m1 1v2m1-2v1m1-3v1m3-3v1m1 1v1m2-4v1m2 5v1m1-3v1m1-3v1m3-4v1m1 2v1m0 7v3m1-12v1m1-1v1m1-6v4m0 28v1m2-31v1m1-4v1m1 3v4m0 5v1m1-12v7m0 1v2m1-14v1m0 5v1m0 5v1m1-15v4m0 33v1m1-35v1m1 2v1m0 30v1m1-30v1m0 5v1m0 22v1m1-34v1m2 1v1m3 26v1m1-36v3m0 6v1m1-1v2m0 2v5m1-13v1m0 29v2m1-39v1m0 12v1m0 1v3m1-16v1m0 34v1m1-29v1m0 26v1m0 1v1m1-36v1m0 36v1m1-4v1m1-39v1m0 28v5m0 3v1m1-38v1m0 24v1m0 5v4m1-4v1m0 3v2m1-35v1m1-7v3m0 5v1m1-2v1m1-5v2m0 27v2m1 0v1m1-21v1m0 5v4m0 17v2m1-32v1m0 26v1m2-13v1m0 12v1m1-35v5m0 32v1m1-34v1m0 6v1m1-7v1m0 25v7m1-34v1m2-11v1m0 3v1m0 4v1m0 6v1m0 2v1m1-22v1m0 3v4m0 3v2m0 27v2m1-41v1m0 32v1m1-29v1m0 11v1m0 3v1m0 22v1m1-46v1m0 2v2m0 3v1m0 12v2m0 19v1m1-36v1m0 13v1m0 27v1m1-48v1m0 8v1m0 24v5m1-40v1m0 4v1m0 8v5m1-19v1m0 4v2m0 9v3m0 1v3m1-22v2m0 32v2m0 11v1m1-42v1m0 8v2m0 28v1m1-51v2m0 9v1m0 21v1m0 2v1m0 12v1m1-48v1m1 2v1m0 3v1m0 2v1m0 10v1m0 2v1m0 25v1m1-41v1m0 37v1m1-33v1m0 30v1m1-47v2m0 36v1m1-41v3m0 12v2m0 21v1m1 9v1m1-44v1m0 16v2m0 22v1m1-42v3m0 27v1m0 7v1m0 6v1m1-52v4m0 10v2m0 18v1m0 7v1m0 7v1m1-47v2m0 12v1m0 27v1m1-48v1m0 4v1m0 11v1m0 21v1m0 3v3m1-49v1m0 5v1m0 10v1m0 30v2m1-48v1m0 3v2m0 32v1m1-24v1m0 35v1m1-39v1m0 30v1m0 8v1m1-39v1m0 9v3m0 16v2m0 8v1m1-17v1m0 8v3m1-39v3m0 25v1m0 7v6m1-49v1m0 12v1m0 32v2m0 1v2m1-49v3m0 32v1m0 2v1m0 6v1m1-49v1m0 4v1m1-6v1m0 4v1m0 10v1m0 9v1m0 2v2m0 18v1m1-51v1m0 5v1m0 14v1m0 15v2m0 4v1m1-39v1m0 4v1m0 11v1m0 5v1m1-29v1m0 6v1m0 1v1m0 9v1m0 4v1m0 25v1m1-49v1m0 37v1m0 7v1m1-42v2m0 3v4m1-10v1m0 17v1m0 2v1m0 20v1m1-43v2m0 6v1m0 6v1m0 7v1m0 18v1m1-50v1m0 2v1m0 17v1m1-19v3m0 13v7m1-21v3m0 7v1m0 32v1m1-39v1m0 4v1m0 20v3m0 10v1m1-39v3m0 16v1m0 14v3m0 3v2m1-46v1m0 16v1m0 4v1m0 11v3m0 3v3m0 3v2m1-54v1m0 5v1m0 44v1m1-37v1m0 18v1m0 2v1m1-37v1m0 4v10m0 6v1m0 4v1m0 16v3m1-46v1m0 5v1m0 4v1m0 10v1m0 3v1m0 17v1m1-44v2m0 49v1m1-52v1m0 4v1m0 7v1m0 22v3m0 2v1m0 8v1m1-50v1m0 4v1m0 5v4m0 23v1m0 8v1m1-45v4m0 36v1m1-45v1m0 16v3m0 22v1m1-42v1m0 11v2m0 3v1m0 16v1m0 2v2m0 3v1m1-41v1m0 25v1m0 4v2m1-32v1m0 8v1m0 35v1m1-55v1m0 16v1m0 33v1m2-26v1m0 6v1m0 13v1m1-42v1m0 6v1m0 3v1m0 9v3m0 20v1m1-36v2m0 9v1m0 26v1m1-52v1m0 5v1m0 7v1m0 11v1m0 2v1m1-26v2m0 1v1m0 6v1m0 38v1m1-50v3m0 7v1m0 25v3m1-36v1m0 5v1m0 4v1m0 8v1m0 12v1m0 1v1m0 8v1m1-49v1m0 5v2m0 1v2m0 25v8m1-41v7m0 33v2m1-36v1m0 12v2m1-23v6m0 29v1m1-38v1m1 37v1m0 2v2m0 2v2m1-24v1m0 25v1m1-34v1m0 9v1m0 21v1m1-42v1m0 2v1m0 32v1m1-31v1m0 8v1m0 5v1m0 19v1m1-48v1m0 5v1m0 10v1m0 26v1m1-50v1m0 11v1m0 8v1m0 6v1m0 21v1m1-60v2m0 8v1m0 34v1m0 3v1m0 11v1m1-58v1m0 4v1m0 6v1m0 17v1m0 6v1m1-30v1m0 8v4m0 9v1m0 7v1m1-31v1m0 4v1m0 11v1m0 7v1m1-21v7m0 14v1m0 13v1m0 10v1m1-48v2m0 19v2m0 22v1m1-45v1m0 7v1m0 36v1m1-51v1m0 15v2m0 3v2m0 3v1m1-18v3m0 26v1m1-42v1m0 7v1m1-11v1m0 9v1m0 1v1m0 11v4m1-32v1m0 28v1m0 26v1m1-47v1m0 18v1m0 5v1m0 20v1m1-47v1m0 11v1m0 9v1m0 5v1m0 19v1m1-51v1m0 13v1m0 9v1m0 5v1m0 22v1m1-48v1m0 5v2m0 3v4m0 7v3m0 22v1m1-67v3m0 20v1m0 6v1m0 4v1m0 8v1m0 16v1m1-60v4m0 5v1m0 15v1m0 6v1m0 25v1m1-55v2m0 30v1m1-26v1m0 9v1m0 2v1m0 28v1m0 7v1m1-65v1m0 6v1m0 5v1m0 11v3m0 19v1m0 10v1m0 7v1m1-70v1m0 8v1m0 42v5m0 10v1m1-64v4m0 56v1m1-31v1m0 28v1m1-53v1m0 11v7m0 12v1m0 4v1m0 16v1m1-44v1m0 9v5m0 4v1m1-28v1m0 14v1m0 8v1m0 25v2m1-57v1m0 5v4m1-5v1m0 17v1m0 11v1m0 12v1m1-56v2m0 9v1m0 30v1m0 22v2m0 2v1m1-57v1m0 4v1m0 8v2m0 33v1m0 4v1m1-59v1m0 13v1m0 6v1m0 20v1m0 4v2m0 4v1m1-55v1m0 4v1m0 7v1m0 9v1m0 31v1m1-63v1m0 18v1m0 8v1m0 9v1m0 5v1m1-44v2m0 4v2m0 3v1m0 16v1m0 9v1m0 20v2m1-69v4m0 13v1m0 35v1m0 15v1m1-68v2m0 26v1m0 21v1"/><path stroke="#001dff" d="M1.5 90v1m1 1v1m1-2v3m2-7v1m1 1v1m2-1v1m1-1v1m0 18v1m1-16v1m0 2v1m1-6v1m0 16v1m2-25v1m2 7v1m1-4v1m2-3v1m2-2v1m0 22v1m1-23v1m0 20v1m1-22v1m0 20v1m2-20v1m3-3v1m1 0v1m1-3v1m3-3v1m1-1v1m0 23v1m1-24v1m1 2v1m0 18v1m2-25v1m1-1v1m2 2v1m2 20v1m2-21v1m1 1v1m1-3v1m1 3v2m1-7v1m2-2v1m2 2v1m3-1v1m1-2v1m2 19v1m4-1v1m1-17v1m1-2v1m0 17v1m1-2v1m3-1v1m1-1v1m1-23v1m2 5v1m1-2v1m4 3v1m1-7v1m0 2v3m1-6v1m0 20v1m1-20v1m0 18v1m2-25v1m3 1v1m1-4v3m1 3v1m0 5v1m2-8v1m2-1v2m1-7v2m1-4v1m1 1v2m1 1v2m1-3v2m0 19v1m2-25v1m1 2v1m3-2v1m0 21v1m1-27v2m1-1v1m0 6v3m4-11v1m2 25v1m1-25v1m0 5v1m0 3v1m1-12v1m1-1v1m1 0v1m1-6v1m0 29v1m5-35v2m0 1v2m0 7v1m1-4v1m1-9v1m0 32v1m1-31v1m1 7v1m1-11v1m1-1v1m1 1v1m1-6v1m0 15v2m1-23v1m1 36v1m0 1v1m2-28v2m1-7v3m0 29v1m1-29v1m0 5v2m0 9v2m0 10v1m1-39v6m0 29v1m1 0v1m1-36v1m0 18v3m2-26v1m0 11v2m0 19v3m2-33v1m2 0v1m0 24v1m1-27v1m0 20v1m1-25v2m0 24v1m1-22v1m1 4v5m0 16v5m1-29v1m1-3v1m0 22v1m1-27v1m0 25v1m0 4v1m1-29v1m0 29v2m1-21v1m0 13v1m1-1v1m1-26v2m0 29v1m1-33v1m0 19v1m0 6v1m0 6v1m1-44v3m0 11v1m0 4v1m0 19v1m1-42v3m0 4v3m0 12v1m0 15v1m1-29v1m0 21v1m1 0v1m1-34v2m0 17v1m0 2v1m0 19v1m0 4v1m1-41v1m0 16v1m0 12v3m1-29v1m0 7v2m0 13v1m0 5v1m0 8v1m1-49v1m0 1v2m0 14v1m0 18v1m0 9v1m1-48v4m0 2v2m0 5v2m0 3v1m0 3v1m0 22v1m1-44v2m0 9v1m0 5v1m0 13v1m0 2v1m1-20v1m0 26v1m1-2v1m1-46v1m0 5v2m0 7v8m0 23v1m1-44v3m0 4v1m0 8v1m1-10v1m2 5v1m0 20v1m1-23v1m1-8v1m0 12v3m1-20v1m0 14v1m0 2v1m1-17v3m0 33v1m0 4v1m1-35v1m0 32v1m1-5v1m1-46v1m0 2v1m1-7v1m0 16v1m0 8v1m0 13v1m1-39v3m0 13v1m0 19v1m0 7v1m0 6v1m1-49v1m0 3v1m0 7v1m0 33v1m1-45v1m0 4v2m0 1v2m0 29v1m0 6v1m1-48v1m0 8v1m0 13v3m0 11v2m0 2v8m1-47v1m1-2v1m0 3v1m0 3v1m1-10v1m0 4v1m0 30v1m0 10v1m1-35v1m0 20v2m0 4v1m0 4v1m1-47v4m0 12v1m0 32v1m1-47v1m0 20v1m0 5v1m1-32v1m0 3v1m0 7v1m0 13v1m0 8v1m0 16v1m1-54v1m0 3v1m0 16v1m0 29v1m1-51v1m0 4v1m0 3v1m0 14v1m0 14v1m0 7v2m1-47v1m0 4v4m0 8v1m0 5v1m0 11v2m0 1v3m0 2v2m1-46v1m0 13v1m0 30v1m1-47v1m0 11v1m1-14v1m0 4v1m0 9v1m0 4v1m0 9v1m1-31v2m0 19v4m1 22v1m1-11v1m0 8v1m1-43v1m0 3v1m0 29v1m0 8v1m1-49v1m0 9v1m0 3v1m0 9v1m0 18v2m0 3v3m1-51v1m0 12v1m0 25v2m0 9v3m1-51v1m0 25v1m0 9v1m0 11v2m1-35v1m0 21v1m0 9v1m1-47v1m0 2v1m0 10v2m0 3v1m0 20v2m1-38v1m0 15v1m0 21v1m1-33v1m0 17v1m1-28v1m0 2v1m0 9v1m0 18v3m0 6v1m0 6v1m1-48v1m0 2v1m0 10v2m0 17v1m0 4v1m0 6v1m1-21v1m1-27v1m0 14v1m0 3v7m0 14v1m1-30v1m0 27v3m1-39v1m0 31v6m0 8v1m1-52v1m0 3v1m0 31v4m1-39v1m1-6v1m0 4v1m0 7v1m0 35v1m1-25v1m1-8v1m0 7v1m0 3v1m0 18v1m1-45v1m0 7v2m0 2v1m0 7v1m0 5v1m0 7v2m1-38v1m1 4v1m1 31v2m0 3v2m0 7v1m1-51v2m0 1v2m0 7v2m0 1v1m0 21v1m0 3v1m1-40v5m0 5v1m0 23v1m1-26v1m0 28v4m1-33v1m0 10v1m0 2v1m0 11v1m1-30v1m0 27v1m1-15v3m0 10v1m1-35v1m0 19v3m0 13v1m0 5v2m1-46v1m0 8v1m0 15v1m0 22v2m1-48v1m0 45v1m1-47v1m0 9v1m0 10v2m0 14v1m0 5v1m0 4v1m1-21v1m1-28v1m0 1v3m0 1v2m0 16v1m0 10v3m0 4v1m1-48v1m0 9v1m0 1v1m0 6v1m0 28v1m1-38v3m0 9v4m0 13v1m0 9v1m1-51v1m0 13v1m0 17v1m0 18v1m1-43v2m0 4v2m0 23v1m1-38v1m0 2v1m0 4v1m0 6v1m0 9v1m0 9v1m1-39v1m0 4v2m0 22v1m0 7v1m0 5v1m1-44v2m0 2v2m0 20v1m0 2v1m0 20v1m1-48v2m0 1v1m0 9v1m0 10v3m0 21v1m1-43v1m0 10v3m0 27v1m1-48v1m0 6v1m0 3v1m1-15v1m0 14v1m0 24v1m1-43v1m0 7v1m0 3v1m0 14v1m0 16v1m1-42v1m0 12v1m0 8v3m0 22v1m1-1v1m1-39v1m0 5v1m0 7v1m1-16v1m0 14v1m1-13v1m0 19v2m0 11v2m0 6v1m1-52v1m0 16v1m0 2v1m1-13v1m0 5v1m0 30v1m1-52v2m0 13v1m0 6v1m0 5v2m0 1v1m0 19v1m1-46v1m0 12v2m0 7v1m0 12v1m0 6v1m0 5v1m1-63v1m0 4v1m0 17v1m0 3v1m0 36v1m1-18v1m0 5v1m1-43v1m0 19v1m0 27v1m1-49v1m0 7v1m0 38v1m1-42v2m0 7v2m1-25v1m0 33v1m0 24v1m1-53v1m0 47v1m1-50v1m0 4v1m0 5v1m0 4v1m0 18v1m0 13v1m1-49v1m0 12v1m0 10v1m0 16v1m1-53v1m0 7v1m0 6v1m0 21v1m0 13v1m0 13v2m1-71v1m0 13v1m0 13v1m0 2v1m0 22v1m0 10v4m1-72v1m0 12v1m0 6v1m0 23v1m0 10v1m0 7v4m1-64v1m0 7v2m0 54v1m1-61v1m0 59v1m1-59v2m0 1v1m0 13v1m0 22v1m0 11v5m1-40v1m0 4v1m0 9v1m0 25v1m1-48v1m0 7v1m0 1v1m0 12v1m0 8v1m0 13v1"/><path stroke="#0038ff" d="M0.5 88v1m0 17v1m1-2v1m1-13v1m1 0v1m0 14v1m1-23v1m6-2v1m0 5v1m2-4v1m2 18v1m3-23v1m0 20v1m1-1v1m1-23v1m2 2v2m2-4v1m1 3v1m1 0v1m1-1v1m1-4v1m0 19v1m4-22v1m1 2v1m1-6v1m2 3v1m1-3v1m1 20v1m2-23v1m1 0v1m1-4v1m1-1v1m1 0v1m2 4v1m1-3v1m0 19v1m1-26v1m0 6v1m0 2v1m3-8v5m1-2v1m2-4v1m1 1v1m1 0v1m3-5v1m1 1v1m1 0v1m1-2v1m0 19v1m1-19v1m2 1v1m1-4v1m1-4v1m1-1v1m1-1v1m1 0v1m2 0v1m2 3v1m1-5v1m0 20v1m1-21v1m1 0v1m1 18v1m1-20v2m0 3v1m1-6v1m1 1v1m1-7v1m0 21v1m1-1v1m2-20v1m0 19v1m1-21v1m1-2v1m1-9v1m3 15v1m0 12v1m2-23v1m2-1v2m1 1v1m0 17v1m1-20v1m1-5v1m0 22v1m3-26v1m1 1v1m1 1v1m1-4v1m0 23v1m1-20v1m0 3v1m0 15v1m1-22v1m0 19v1m1-1v1m1-25v1m0 23v1m2-28v1m1-1v1m1 3v1m0 3v1m0 5v1m1-12v1m4-5v1m1-4v1m0 10v3m1-1v1m1-3v1m1-12v1m1 7v1m5 20v1m1-27v1m1 11v1m1-23v2m0 33v1m0 2v1m1-5v1m1-25v1m1 7v1m0 17v1m1-28v4m1-14v1m0 9v1m0 8v2m0 6v1m0 2v1m1-23v2m0 25v1m1-27v1m1 11v1m1-20v1m0 32v1m1-23v1m0 12v1m1-28v1m2 1v1m0 12v2m0 13v1m1-26v1m0 5v3m1-10v2m1 6v3m1 13v1m1-10v1m0 10v1m1 1v1m1-27v1m0 20v1m1-8v1m0 8v1m0 2v1m1-27v7m0 18v4m1-30v1m0 4v1m1-5v1m0 6v2m1-8v2m0 15v2m0 9v1m1-4v1m1-29v1m0 28v1m1-5v2m2-32v1m0 9v1m1-9v1m0 9v1m0 4v1m0 11v1m0 7v1m0 2v1m1-28v1m0 16v1m0 3v1m0 6v1m1-30v1m0 2v1m0 11v1m0 7v1m0 6v1m1-47v1m0 17v1m0 15v2m0 1v1m1-4v2m1-33v1m0 27v1m0 4v1m0 8v1m1-33v1m1-8v1m0 24v1m1-30v1m0 2v2m0 3v2m1 9v1m0 23v1m1-38v1m0 10v3m1 20v1m2-30v2m0 17v1m1-16v1m0 3v1m0 20v1m1-28v1m0 4v1m0 19v1m1-24v2m0 10v1m0 10v2m0 1v1m1-33v1m0 25v1m1 0v1m1-44v2m0 14v1m0 19v1m1-37v1m0 20v1m0 1v1m1 19v1m0 4v1m1-47v3m0 41v1m1-43v1m0 2v1m0 5v1m0 21v1m0 7v1m1-16v1m0 9v1m1-34v1m0 2v2m0 10v3m1-19v3m0 28v1m1-30v1m0 8v1m0 10v2m0 9v1m1-3v1m0 7v1m0 2v1m1-23v4m1-27v3m0 13v1m0 14v1m0 15v1m1-30v1m0 23v1m1-44v3m0 7v1m0 27v6m0 5v1m1-46v1m0 5v1m0 6v1m0 7v1m0 12v1m0 1v7m1-44v1m0 1v2m0 36v2m1-43v1m0 1v2m1-5v1m0 2v1m0 8v1m0 8v1m0 4v1m0 18v1m1-47v1m0 2v1m0 11v1m0 2v1m1 5v1m0 23v1m1-25v1m1-11v1m0 20v1m0 1v2m0 5v1m1-41v3m0 7v1m0 18v1m0 4v1m0 6v1m1-39v1m0 5v1m0 26v1m1-37v1m0 16v1m0 6v1m0 7v1m1-33v1m0 30v1m0 1v2m0 6v3m1-16v1m0 13v1m1-45v2m0 13v3m0 20v1m1-40v1m0 10v1m0 7v1m0 6v1m0 14v1m1-26v4m0 7v1m0 12v1m0 9v1m1-49v2m0 11v1m0 16v1m0 10v1m0 4v1m1-46v2m0 13v2m0 14v1m1-7v1m0 14v1m1-42v1m0 3v3m0 6v1m0 11v1m1-26v1m0 8v1m0 7v1m0 14v1m1 7v1m1-43v3m0 11v1m0 7v1m0 11v1m0 4v2m0 7v1m1-53v1m0 2v1m0 13v1m0 24v2m0 5v1m1-50v1m0 22v1m0 23v1m1-43v1m0 6v2m0 9v1m0 21v1m1-40v1m0 4v1m0 6v1m0 5v1m0 16v2m0 4v1m1-37v1m0 5v1m0 19v1m0 2v1m0 10v1m1-46v1m0 19v1m0 4v1m0 19v1m1-36v1m0 11v3m0 22v1m1-38v1m0 10v2m0 9v1m0 7v1m0 5v1m1-48v1m0 11v1m0 11v1m0 15v1m0 5v1m2-37v1m0 24v3m1-28v1m0 8v1m1 0v5m0 8v1m1-35v1m0 7v2m0 10v1m0 3v1m1-7v2m0 3v1m0 11v1m1-37v1m0 6v1m0 27v2m0 9v1m1-32v1m0 11v1m0 18v1m1-45v1m0 3v1m0 13v2m0 2v2m0 19v4m1-35v1m0 6v1m0 25v1m1-45v1m0 6v1m0 6v1m0 18v1m0 3v4m1-46v1m0 7v1m0 3v1m0 14v1m0 9v5m0 4v1m1-47v1m0 12v1m0 7v1m0 4v1m0 6v1m1-34v1m0 3v1m0 17v1m0 26v1m1-48v1m0 4v1m0 8v1m0 5v1m0 9v1m0 5v1m1-36v2m0 6v1m0 4v1m0 11v1m1-29v4m0 47v1m1-51v2m0 13v1m0 12v1m1-26v1m0 24v1m0 18v2m1-48v1m0 25v1m0 11v1m1-27v1m0 23v1m2-20v1m0 5v2m1-2v1m1-23v1m0 16v1m0 7v1m1-26v1m0 4v1m0 22v1m0 17v1m1-35v1m0 6v1m0 8v1m0 20v1m1-46v2m0 1v1m0 22v1m0 9v1m0 2v1m1-38v1m0 9v2m0 11v1m0 14v1m1-49v1m0 20v1m0 8v1m0 15v1m1-49v1m0 20v1m0 3v1m0 4v1m0 17v1m1-37v1m0 6v1m0 5v1m0 1v1m0 19v2m0 2v1m1-61v2m0 1v1m0 8v1m0 8v1m0 5v1m0 29v1m0 4v1m1-67v1m0 6v1m0 9v1m0 31v1m0 7v1m0 7v1m1-42v1m1 9v1m0 23v3m1-50v1m0 7v1m0 20v1m0 6v1m0 14v1m1 1v1m1-51v1m0 7v1m0 5v1m0 6v1m0 7v1m0 16v1m1-53v4m0 6v1m0 3v1m0 14v1m1-7v1m1-29v1m0 5v1m0 33v1m1-45v1m0 5v5m0 1v1m0 7v1m0 5v1m1-23v5m0 14v1m1-24v1m0 5v1m0 8v1m0 46v1m1-59v1m0 15v1m1-14v1m0 32v1m0 15v1m1-44v1m0 48v1m1-40v1m0 3v1m0 21v1"/><path stroke="#0052ff" d="M0.5 89v1m0 15v1m1-15v1m1 15v1m1-13v1m1-8v1m0 19v1m1-21v1m2-2v1m2 2v1m5 0v1m2-2v1m0 16v1m5-18v2m1-4v1m6 0v1m1-3v1m1-5v1m1 4v1m0 18v1m1-23v1m0 3v1m0 1v1m2-6v1m3-3v1m7 3v1m2 0v2m1 17v1m1-22v1m1 1v1m1 1v1m3 16v1m2-19v1m1-3v1m1-4v1m0 22v1m5-19v1m5 16v1m11 0v1m1-19v1m3-5v1m1-1v1m1 2v1m1-1v1m2-1v1m1-8v1m3 8v1m0 15v1m1-21v1m1-5v1m1 4v1m1 1v2m1-3v2m2-7v1m0 22v1m1-1v1m1-1v1m1-23v1m2-2v1m1-2v1m0 3v1m2-3v1m3 21v1m1-27v1m1 3v3m0 7v1m1-12v2m1-3v1m0 23v1m1-24v1m2-5v1m1-4v1m0 8v1m0 3v1m2-3v1m1-2v1m2-12v1m1 2v1m1 7v1m1-11v1m1-1v1m0 6v2m0 18v1m0 2v1m1-28v1m1-7v1m0 13v1m0 18v1m1-37v1m0 33v1m1-35v1m0 10v2m1-4v1m0 26v1m1-4v1m0 2v1m1-26v3m0 21v1m1-18v1m0 4v1m1-17v2m0 15v2m0 9v1m1-5v1m1-31v1m0 20v1m0 11v2m1-16v3m1-16v1m0 3v1m0 10v1m1-26v1m0 21v1m1-20v1m0 7v3m0 14v1m1-27v1m0 10v1m0 2v1m1-12v5m0 3v1m0 13v1m1-23v7m1-11v1m0 8v1m0 3v1m0 9v1m1-20v1m0 6v1m2-6v1m0 5v2m0 15v1m2-13v1m0 10v2m1-19v1m0 16v1m1-14v1m0 11v1m1-23v1m0 4v1m0 16v1m1-21v1m0 13v1m0 2v1m0 7v1m1 2v1m1-33v1m0 1v2m0 18v6m1-5v1m1-25v1m0 7v2m0 10v1m1-25v1m0 7v1m0 6v1m1-6v1m0 26v2m1-38v1m0 26v1m0 5v1m1-30v1m0 29v1m1-22v1m0 13v1m0 4v1m0 6v1m1-39v1m0 2v2m0 21v1m0 2v1m0 6v1m1-40v1m0 6v1m0 18v1m1-25v1m0 10v1m0 24v1m1-17v1m0 5v1m0 8v1m1-44v4m0 5v3m0 10v1m0 21v1m1-35v1m0 6v1m0 17v2m1-26v1m0 8v1m0 3v1m0 20v1m1-31v1m1 0v1m0 18v1m1-19v2m1-11v1m0 9v1m0 17v2m0 5v1m1-40v1m0 11v1m1-9v1m0 9v1m0 25v1m1-16v1m0 10v2m0 1v2m1-30v1m0 8v1m0 14v1m2-46v3m0 14v1m0 5v1m0 3v1m0 10v1m1 8v1m0 2v1m1-34v1m0 25v6m1-41v2m0 7v1m0 7v3m0 23v1m1-39v1m0 18v1m1-24v2m0 2v1m0 8v1m0 14v1m1-23v1m1-10v3m0 22v1m1-13v1m0 15v3m0 9v2m1-28v1m0 4v1m0 4v2m0 8v5m0 6v1m1-26v1m0 8v1m1-33v3m0 9v1m0 20v1m0 16v1m1-33v1m0 8v1m0 8v1m0 6v5m1-48v3m0 12v1m0 9v1m0 10v1m1-34v1m0 6v1m0 6v1m0 7v1m0 9v1m1-34v1m0 12v1m0 20v2m0 6v1m1-44v2m1-3v2m0 13v2m0 12v1m0 15v1m3-8v1m0 3v1m1-5v1m0 4v1m1-16v1m0 9v1m1-28v1m0 7v1m0 14v1m1-35v3m0 23v1m0 6v1m0 4v1m0 4v1m1-29v1m0 4v2m0 15v1m0 6v1m1-19v1m0 11v1m1-38v1m0 1v1m1 7v1m0 3v1m0 4v1m0 4v2m1-11v1m0 14v1m0 12v4m1-28v2m0 19v1m0 4v1m2-44v3m0 3v2m0 3v1m0 13v1m0 11v1m1-32v2m1-6v1m0 5v1m0 16v1m0 14v1m0 5v1m1-29v1m0 1v1m0 17v2m0 4v1m1-51v2m0 38v1m0 2v2m0 2v1m1-48v1m0 1v1m0 9v1m0 8v1m0 1v2m1-15v1m0 2v1m0 7v1m0 10v1m0 10v1m1-35v1m0 19v1m0 9v1m0 2v4m1-42v1m0 4v1m0 7v1m0 4v1m0 7v1m1-29v3m0 10v1m1 10v1m0 3v1m0 11v4m1-21v1m0 2v1m0 17v1m0 3v1m1-13v1m0 6v1m0 3v1m1-35v1m0 21v1m1-15v4m0 11v1m1-24v1m0 6v1m0 5v1m0 9v1m1-28v1m0 10v2m0 5v1m0 6v1m1-33v1m0 4v2m0 2v1m1 6v1m0 6v1m0 9v1m1-11v1m0 8v1m0 10v1m1-44v1m0 42v1m1-41v1m0 6v1m0 6v1m0 17v1m1-18v1m0 25v1m1-36v1m0 4v1m0 10v1m0 7v1m1-25v1m0 3v1m0 17v2m0 5v4m1-37v1m0 4v2m0 3v2m0 19v1m0 7v1m1-48v1m0 1v1m0 10v1m0 17v1m0 15v1m1-46v4m0 10v1m0 3v1m0 11v1m0 3v1m1-26v1m0 2v1m0 20v1m1-8v1m0 5v1m0 7v1m1-20v1m0 23v1m1-33v1m0 8v1m0 21v1m1-45v1m0 3v1m0 31v1m0 1v1m0 6v1m1-46v1m0 4v1m0 6v5m1-20v1m0 4v1m1-8v1m0 5v1m0 5v1m0 16v1m1-27v1m0 24v1m1-23v1m0 2v4m0 30v6m1-43v1m0 11v1m0 5v1m1-22v1m0 42v1m0 6v1m1-43v1m0 41v1m1-50v1m1 5v1m0 7v4m0 23v2m1-47v2m0 9v1m0 9v1m0 1v1m0 22v1m1-43v1m0 5v1m0 8v2m0 1v2m0 3v1m0 20v2m1-58v1m0 17v1m0 23v1m0 13v2m0 1v1m1-65v1m0 4v1m0 20v2m0 19v1m0 9v1m1-24v1m0 18v2m0 5v1m1-47v1m0 5v1m0 35v1m1-27v1m1-25v1m0 11v1m0 43v1m1-5v1m1-41v1m0 1v1m0 38v1m1-47v1m0 10v1m0 6v1m0 3v1m0 16v1m1-50v2m0 2v1m0 18v1m0 10v1m1-39v1m0 3v1m0 5v1m0 19v1m0 10v2m1-47v1m0 4v2m0 13v1m0 32v1m1-50v1m0 3v1m0 15v1m0 11v1m0 7v2m0 12v7m1-57v1m0 25v1m0 7v1m0 7v1m0 14v1m1-48v1m0 16v1m0 13v1m0 8v1m1-7v1m1-33v1m0 4v1m0 5v1m0 9v1m0 22v1"/><path stroke="#006cff" d="M0.5 90v5m0 9v1m1-1v1m1-11v1m2-6v2m1-2v1m1 0v1m1 16v1m1-18v1m2-4v1m0 3v1m0 5v1m1-6v1m2-8v1m0 21v1m3-17v1m1-5v1m1 0v1m1-3v1m1 0v1m3-1v1m2 4v1m2-4v1m5-4v1m0 1v1m0 3v1m0 14v1m1-22v1m1 0v1m0 19v1m1-18v1m0 14v1m1-18v1m2-5v1m2 3v1m1-4v1m0 21v1m1-23v1m3 5v1m1-1v1m1-3v1m1-2v1m0 18v1m2-16v1m0 15v1m1-19v1m1-2v1m1-3v1m0 7v1m2 11v1m4-20v1m0 16v1m4-14v1m1-1v1m1 12v1m1-1v1m2-20v1m1 0v1m0 16v2m1-20v1m2 5v1m1-1v1m1-5v1m1 18v1m1-1v1m1-13v1m1-1v1m1-5v1m2-6v1m5 1v1m1 8v1m2-8v1m2 1v1m1-5v1m1 3v4m1-7v2m0 16v1m1-16v2m4-7v1m1-5v1m1 23v1m1-4v2m1-21v2m1-3v3m0 6v1m1-6v1m2-5v1m1-3v1m4 3v3m1-5v1m0 20v1m2-27v1m1 1v1m1-4v3m0 2v3m0 21v1m3-1v1m1-23v1m1-9v6m1-3v1m2 24v1m0 1v1m1-25v1m1-3v2m1-8v1m0 16v1m1-21v1m1 11v1m1-4v1m1 6v1m1-4v1m0 17v1m1-35v1m0 7v1m0 12v4m1-14v2m0 12v1m2-7v1m0 5v1m0 9v1m1-15v1m0 3v1m1-27v1m2 9v1m0 3v1m1-3v1m1 1v1m1-3v1m1-11v1m0 6v1m0 5v1m1-10v1m0 4v1m0 1v2m0 11v1m1-8v1m0 8v1m1-17v1m0 2v1m1-10v1m0 16v3m1-24v1m0 14v1m1-5v1m0 14v1m1-24v1m0 2v1m1 1v1m0 3v1m1-6v1m0 16v1m0 5v1m1-29v1m0 27v1m1-28v1m0 8v1m1 11v1m1-14v1m2-13v1m1 15v1m0 16v1m0 3v1m1-30v1m0 14v1m0 14v1m1-7v1m1-32v2m0 12v1m1-18v1m0 13v1m0 17v1m0 6v1m1-33v1m0 20v6m0 1v2m1-35v1m2 6v1m0 29v1m1-28v1m0 14v2m1-14v1m0 20v1m2-25v1m1-11v1m0 25v1m0 2v2m0 2v1m1-38v1m0 9v1m0 25v1m1-33v1m0 7v1m0 3v1m1-8v1m0 27v1m1-20v1m0 1v1m0 11v2m1-25v1m0 17v1m2-21v1m0 17v1m0 11v2m1-32v1m0 23v1m1-25v1m0 5v1m0 3v1m0 18v2m0 1v1m1-45v1m0 26v1m0 6v1m1-15v1m1-2v1m1 2v1m0 10v1m1-15v3m0 6v1m1-13v1m0 10v1m0 6v1m0 5v2m0 3v1m1-31v1m0 15v1m1-17v1m0 8v1m0 5v1m0 10v1m1-27v1m0 17v1m1-26v1m0 24v1m1-25v1m0 22v1m1 3v1m1-26v1m0 6v1m0 6v1m0 16v1m2-21v1m1-1v1m0 19v1m1-31v1m0 6v2m0 16v3m1-28v1m0 24v4m1-45v1m0 14v1m0 6v1m0 16v1m1-40v1m0 3v1m0 25v1m1 10v4m1-27v4m0 2v1m0 15v1m0 4v1m2-42v1m0 15v1m0 21v1m1-29v3m0 6v4m1-8v5m0 8v1m1-9v2m0 9v1m0 8v1m0 2v1m1-17v1m0 12v1m1-32v3m0 25v1m1-37v1m0 4v1m0 11v1m0 12v1m1-28v5m0 1v3m1 0v1m0 4v1m0 22v4m1-33v1m0 27v2m1-46v1m0 18v1m0 4v4m0 16v1m1-41v1m0 14v1m1-15v1m0 11v1m0 3v1m0 15v1m1-34v1m0 2v1m0 9v2m0 1v1m0 13v1m0 4v1m0 8v1m1-26v1m0 24v1m1-19v1m0 9v1m0 4v1m0 4v1m1-28v1m0 11v1m0 10v3m1-4v3m2-34v1m0 21v1m1-17v1m1-1v1m0 8v2m0 3v1m1-31v1m0 2v1m0 13v1m0 5v1m0 7v1m1-33v1m0 14v1m1-17v1m0 4v1m0 30v1m1-24v1m0 27v3m1-42v2m0 12v2m0 7v1m1-12v1m0 14v1m0 7v2m1-28v1m1-14v1m0 5v1m0 6v1m0 1v1m0 11v1m0 5v1m1-34v1m0 14v3m0 8v1m0 4v1m0 8v1m0 4v2m1-46v1m0 30v1m0 13v1m1-30v1m0 1v1m0 13v3m1-24v2m0 14v1m1 14v1m1-28v1m0 12v1m0 8v4m0 4v1m1-18v1m0 14v2m1-41v1m0 31v1m1-35v1m0 2v1m0 12v2m0 4v2m1-13v1m0 9v3m0 10v1m1-21v1m0 9v1m0 11v1m1-29v1m0 14v1m0 18v1m1-42v2m0 4v1m0 7v1m0 20v1m1-36v3m0 9v1m0 3v1m0 26v1m1-42v1m0 8v1m0 4v1m0 21v1m0 1v1m1-12v1m0 7v1m0 4v1m0 2v1m1-43v1m0 37v1m1-47v1m0 41v1m1-43v1m0 7v1m0 11v1m0 19v4m1-25v1m0 15v1m1 12v1m1-36v1m0 17v1m0 11v1m0 4v1m1-50v1m0 20v1m0 16v1m0 2v2m0 1v2m1-5v1m1-39v1m0 29v1m0 12v1m1-21v1m0 9v1m0 7v4m1-48v1m0 5v1m0 7v1m0 4v1m0 23v1m1-39v1m0 8v1m1 3v1m0 1v1m0 7v1m1-38v2m0 10v1m0 7v1m0 1v1m0 23v1m1-52v3m0 16v1m0 3v1m0 15v1m0 2v1m0 7v1m1-55v1m0 2v1m0 20v1m1-21v3m0 11v1m0 23v1m0 2v1m1-38v9m0 4v1m0 41v1m1-41v1m1-8v1m0 6v1m0 6v1m0 7v1m0 24v1m1-44v1"/><path stroke="#0086ff" d="M0.5 95v1m0 6v2m1-12v1m3-2v1m3-4v1m3 1v1m2-1v1m0 16v1m3-15v1m4-7v1m1 20v1m1-17v1m1-4v1m1 17v1m1-17v1m0 15v1m2-16v1m1-3v1m1-1v1m0 16v1m1-1v1m1-24v1m1 4v1m1-3v1m1-1v1m0 9v1m1-10v1m1 15v1m0 1v1m4-20v1m0 19v1m1-1v1m3-22v1m0 20v1m1-1v1m1-1v1m1-16v1m1-9v1m0 9v1m1-6v1m3 1v1m2 2v1m0 1v1m1-8v1m0 17v1m1-17v1m1 15v1m3-2v1m1-18v1m0 17v1m1-20v1m1 2v1m3 14v1m1-21v1m0 17v1m0 1v1m1-21v1m1 18v1m3-18v1m2 18v1m2-19v1m1 0v1m3 1v1m1-1v1m3 14v1m1-18v1m1-1v1m1 16v1m1-28v1m1 2v1m0 23v1m2-12v1m2 10v1m1-17v1m1-1v1m0 2v3m1-3v1m1-4v1m0 13v2m1-22v1m1-1v1m1 19v1m1-22v1m1 19v2m1-19v1m1-1v1m1 6v1m3-10v1m1 21v1m1-27v1m1 0v1m0 2v3m0 17v1m1-10v1m0 10v1m1-1v1m1-23v1m0 18v1m1-20v1m0 11v2m1 0v1m1-18v1m1-2v2m0 8v1m2-3v1m0 17v1m1-20v1m1-3v1m0 20v1m1-25v1m2 4v1m0 18v1m1-30v1m1-1v1m0 3v1m0 3v1m1-4v1m0 23v1m1-29v3m0 5v1m0 17v1m1-33v1m0 32v1m1-5v1m0 3v1m1-25v1m0 22v1m1 0v1m1-21v1m1 12v1m1-18v1m0 10v1m0 3v1m0 4v1m1-25v1m0 12v4m1-22v1m1-3v1m0 10v4m0 3v1m0 5v1m0 6v1m1-26v1m0 14v1m1-24v1m0 6v3m1-7v1m1-2v1m0 7v1m0 16v1m2-7v1m1-15v1m0 14v1m1-17v1m0 1v2m2-3v4m0 17v1m1-23v1m0 13v2m1-7v1m1-3v1m0 12v1m1-22v2m1-1v3m0 17v1m1-7v1m0 5v1m0 3v1m1-10v1m0 10v3m1-11v1m1-11v1m1-12v1m0 5v1m0 3v1m0 7v1m1-23v1m0 5v1m0 17v1m1-17v1m0 17v1m1-26v1m0 8v1m0 15v1m0 8v3m1-33v1m0 2v1m0 5v1m0 20v1m1-22v1m0 11v1m0 7v1m0 3v1m1-8v1m1-28v1m0 18v1m1-23v1m0 24v1m0 6v1m1-7v1m0 6v1m1 0v1m1-33v1m0 12v1m0 9v1m0 2v1m1-26v1m0 5v1m0 6v1m0 7v1m0 2v1m0 7v1m1-29v1m0 4v1m0 1v1m0 12v3m2-6v1m1-17v1m0 6v1m0 15v2m1-36v1m0 16v1m0 10v1m1-5v1m1-16v2m0 1v3m1-5v1m0 5v1m0 3v1m0 8v2m2-25v1m0 3v1m0 14v1m2-19v6m0 16v1m1-23v1m0 3v1m0 13v1m0 11v1m1-38v1m1 1v1m1 9v1m0 1v1m0 10v1m1-19v1m0 7v1m0 4v1m1-13v1m0 3v1m0 3v1m0 4v1m1-11v3m0 8v1m0 4v1m0 8v3m1-25v1m0 11v2m0 10v1m1-34v1m0 35v1m1-40v1m0 17v1m1-15v1m0 11v1m1-11v1m0 9v1m1-11v1m0 6v3m0 9v1m0 3v1m0 3v1m1-1v1m2 2v1m1-11v1m1-14v1m0 9v1m1-3v1m1-27v1m0 23v1m0 6v1m1-38v1m0 12v1m0 5v1m0 14v1m1-7v1m0 4v1m1-10v1m0 6v1m0 8v4m1-6v1m1-26v1m0 14v1m1 13v1m0 7v1m1-28v2m1 19v2m2-16v1m1-26v4m1 7v1m0 28v1m0 3v1m1-25v1m0 8v1m1-19v1m0 4v5m0 11v1m1-27v1m0 5v1m0 9v1m0 9v6m1-39v1m0 2v1m0 4v1m0 4v1m0 22v1m1-36v2m0 10v3m0 8v1m1-25v2m0 12v1m0 10v1m0 2v1m0 13v1m1-18v1m1-16v1m0 8v1m0 6v9m0 6v1m0 2v1m1-35v1m0 6v1m0 5v1m0 5v1m1-7v1m1-14v1m0 9v2m0 8v1m1-15v1m0 4v1m0 8v1m1-21v1m0 3v1m0 8v1m1-18v1m0 19v3m1-29v2m0 6v1m1-3v7m0 9v1m0 7v1m1-2v1m0 4v1m0 5v1m1-32v1m0 14v1m0 12v1m1-29v1m0 2v1m0 10v1m1-12v1m0 2v1m0 17v1m0 2v2m0 3v1m1-33v3m0 18v1m1-35v1m0 12v1m1-8v1m0 19v1m0 13v4m1-25v1m0 12v13m1-28v1m1 10v1m0 4v1m1-6v1m0 3v1m0 15v1m1-28v1m0 19v1m0 2v1m1-30v1m0 6v1m0 17v3m1-41v2m0 36v1m0 4v1m1-43v2m0 15v1m0 2v1m0 2v1m1-28v1m0 2v1m0 23v1m1-30v1m0 3v1m0 7v1m1 25v3m1-11v1m1-12v3m0 26v1m1-46v1m0 17v1m0 11v1m0 9v1m0 3v1m0 3v1m1-3v2m1-47v1m0 29v1m2-33v4m0 23v1m0 10v1m1-37v1m0 3v1m0 18v1m1-26v1m0 5v1m0 8v1m1-31v1m0 2v1m0 40v1m0 13v2m0 1v1m1-6v1m1-43v1m0 3v1m0 14v1m1-24v1m0 19v1m0 6v1m1-32v1m0 41v1m0 1v2m0 3v2m1-3v2m1-22v1m1-13v1m0 9v1m1-6v1m0 14v1m2-47v2m0 17v1m0 22v1m1-25v1m0 2v1m0 13v1m0 4v1m0 14v1m1-40v1m0 2v1m1-3v1m0 16v1m0 5v1m0 7v1m0 6v1m2-36v3m0 15v1m0 12v1"/><path stroke="#00a0ff" d="M0.5 96v1m0 3v2m1-9v1m0 3v7m1-9v1m2-4v1m1-3v1m3 0v1m1-1v1m1-4v2m4 2v1m2-1v1m1 13v1m2-19v1m0 18v1m1-20v1m3-1v1m2 18v1m4-20v1m1 18v1m2-15v1m1 4v1m1 6v1m3-21v1m1-1v1m0 21v1m4-3v2m2-18v1m1 2v1m2-5v1m1 1v1m1-1v1m0 16v1m1-15v1m2-4v1m1-3v1m0 4v1m0 3v1m3-9v1m1-4v1m1-1v1m0 19v1m1-3v1m4-12v1m0 13v1m1-15v1m0 13v1m1-19v1m0 14v1m3-18v1m0 18v1m1-19v1m0 17v1m1 0v1m2-1v1m1-15v1m1-5v1m5 3v1m1 14v1m1-22v1m0 17v2m1-20v1m0 17v2m1-20v1m1 3v1m3-4v1m0 18v1m2-1v1m2-15v1m1-5v1m1-6v1m0 11v1m1-5v2m0 3v1m3 8v1m1-15v3m0 10v1m2-1v1m1-20v1m1 19v1m1-19v2m2-1v1m1-4v1m1 18v1m3-23v2m0 3v1m0 15v1m0 1v1m2-18v1m1 16v1m1-11v1m0 2v1m1-2v1m0 1v1m1-18v2m0 22v1m2-18v1m0 16v1m4-24v1m0 22v1m1-27v1m0 25v1m2-4v1m0 1v1m1-28v1m0 1v1m0 24v1m1-23v1m0 5v2m1-16v3m0 3v1m0 3v1m1-13v1m0 28v1m1-23v1m0 3v1m1-3v4m0 19v1m1-4v1m1-17v1m1-18v1m0 5v1m1 6v1m0 8v1m1-3v1m0 4v1m1-22v1m1 6v1m0 4v3m1-20v1m0 13v1m2-11v1m0 3v1m0 5v1m0 11v1m1-24v1m0 4v2m0 6v1m1-3v1m1-3v1m1-11v1m0 12v1m1-9v1m0 6v1m2 0v1m0 11v1m1-21v1m0 11v1m1-9v4m1-1v1m0 10v1m2-12v1m1 12v3m1-26v1m2 19v1m1-17v1m1-9v5m1 10v1m2-11v2m0 28v3m1-14v1m0 9v1m0 1v1m1-6v1m0 3v1m1-37v1m0 31v1m0 4v1m1-33v1m0 6v1m0 12v1m1-24v1m0 25v1m1-14v1m1-12v1m0 2v1m1-3v1m1 3v1m0 2v1m0 14v1m0 3v1m0 2v1m1-26v1m0 16v1m1-15v1m1-11v1m0 5v1m1-10v1m0 6v1m0 18v1m0 1v1m0 4v1m1-31v1m0 11v1m1-6v1m0 3v1m0 6v1m2-14v1m1 6v1m1-10v1m0 3v3m0 9v1m1-11v1m1-6v3m0 6v1m1 4v1m0 4v1m1-19v1m0 5v1m0 8v1m1-10v1m1 5v1m0 4v1m1-18v1m0 1v1m0 5v1m0 2v1m1 2v4m1-17v1m0 2v1m0 14v1m1-23v1m0 1v1m0 10v1m0 3v1m0 12v1m1-29v1m0 17v1m1-24v3m0 13v1m0 6v1m1-23v1m0 20v1m1 6v1m0 1v1m1-29v1m0 4v1m0 18v5m1-13v1m0 13v1m2-10v1m0 1v1m1-23v1m0 4v1m0 3v1m2 10v1m1-36v2m0 27v1m0 2v1m1-2v1m3-15v1m0 21v1m2-16v2m0 3v1m1-6v1m0 7v1m2 5v1m1-18v1m1-6v1m0 10v1m0 17v3m1-32v1m0 2v1m1-1v1m0 5v1m1 1v1m1-24v2m0 6v4m0 14v1m1 3v1m1-6v2m0 7v1m0 5v1m1-32v1m1 31v2m1-28v1m0 7v1m1 6v1m1-13v1m1-10v1m0 4v1m1-5v3m0 17v1m1-18v1m1 0v1m1-17v1m0 5v1m1-8v1m0 2v1m0 20v1m0 16v1m1-41v1m0 8v1m0 23v5m1-27v2m0 20v1m1-20v2m0 12v1m0 10v1m0 1v1m1-17v1m1-25v1m0 26v1m1-5v1m0 1v1m1-17v1m2 18v1m1-4v1m0 1v1m0 11v1m0 3v1m1-12v1m0 5v2m1-15v1m0 8v2m1-13v1m0 13v1m1-21v2m0 12v1m1-36v2m0 20v1m1-25v1m0 1v1m0 14v1m0 11v1m1-28v1m0 42v1m1-34v1m0 5v1m1 13v1m0 10v4m1-30v1m0 1v1m0 27v3m1-9v1m1-35v1m0 37v1m1-45v1m0 5v1m0 22v1m0 10v1m1-37v3m1-4v1m1 26v1m1-45v2m0 21v1m0 35v1m1-40v1m0 13v1m0 14v1m1-36v1m0 1v1m0 24v1m0 10v1m1-39v1m0 31v1m0 10v1m1-52v1m0 8v1m0 35v3m1-41v1m0 3v1m0 9v1m0 2v1m0 10v1m0 10v1m1-8v1m1-34v1m1 9v1m0 11v1m1-17v1m0 1v1m0 7v1m0 7v1m1-20v1m0 27v1m1-32v2m0 24v1m1-29v2m0 14v1m0 5v1m0 9v1m0 11v1m1-41v1m1 29v1m0 9v1m1-32v1m0 30v1"/><path stroke="#00baff" d="M0.5 97v3m1-6v3m2 11v1m1-16v1m1-3v1m0 15v1m1-17v1m1-3v1m0 15v2m1 0v1m3-15v1m2-8v1m4 1v1m0 16v1m1-17v1m0 16v1m1-18v1m1-1v1m0 1v4m1-2v1m1-4v1m1-2v1m1 2v1m1 0v1m1 13v1m2-17v1m2-7v1m1 4v1m2-3v1m0 7v1m1-8v1m0 14v1m1-14v1m1-3v1m0 17v1m1-10v1m3-10v1m2-4v1m2 17v2m2-13v1m1-9v3m1 3v1m3 0v1m0 14v1m1-1v1m1-19v1m0 2v1m2-1v1m3 12v1m1-17v1m1 0v1m1-2v1m0 15v2m1-1v1m6-19v1m0 15v1m2-18v1m0 16v1m1 2v1m1-15v1m4-3v1m2 4v1m1 11v1m1-16v1m5-3v1m1-3v1m2-6v1m1 6v1m4-2v1m0 6v1m0 9v1m2-3v2m1-15v1m1 12v1m1-20v1m0 4v1m0 14v1m1-19v1m0 15v1m0 1v1m1-22v1m0 18v1m2-2v1m1-14v1m1 4v1m0 11v1m3-22v1m0 19v1m2-25v1m3 7v1m0 5v2m1-12v1m1 8v1m1-16v1m0 7v2m0 7v1m1-13v1m0 12v1m1-7v1m4-6v1m0 18v1m1-22v1m0 6v1m1-1v3m1-6v1m1-11v1m1 0v1m0 6v1m1-3v5m0 2v1m0 11v2m1-23v1m0 9v1m0 10v1m0 1v1m1-32v8m1-11v1m0 28v1m1-15v2m1 0v1m1-2v1m1-14v1m0 31v1m1-24v1m0 5v2m0 6v1m1-10v1m0 6v1m0 4v1m1-27v2m0 10v1m0 7v1m0 7v1m1-8v1m1-6v1m1-22v1m0 4v1m0 3v1m0 9v1m1-16v3m1-4v4m1 17v1m2-20v1m0 14v1m1-7v1m0 8v1m1 1v1m1-3v3m1-19v1m2 6v1m0 8v1m1-9v1m0 9v1m1-2v1m1-17v1m4-6v1m2-4v1m0 4v1m1-6v1m1 20v1m1 12v1m1-20v1m0 8v1m0 8v1m1-35v3m0 18v1m1-21v3m0 19v1m1-18v3m0 9v1m0 9v1m0 3v1m2-29v2m0 23v1m0 6v1m1-32v1m0 2v1m0 8v1m0 5v1m0 4v1m1-20v2m0 4v1m0 15v2m3-31v1m0 3v1m0 18v1m1-27v1m0 4v1m0 18v1m0 3v2m0 1v1m1-24v1m1 5v1m1-6v1m0 3v1m0 12v1m1-4v1m1-19v3m1-2v3m0 3v1m1-1v1m0 13v1m2-34v1m0 3v1m0 26v1m1-24v1m1 0v1m0 6v1m0 4v1m2-7v1m0 7v2m2-9v2m0 16v1m0 7v1m1-31v1m0 12v1m0 1v1m0 14v1m0 2v1m1-38v1m0 17v1m0 3v1m2-21v1m0 1v1m0 11v1m1-11v1m0 4v1m0 3v1m0 7v1m0 6v1m1-27v1m0 12v1m0 8v1m2-13v1m1-1v1m0 12v1m0 4v1m1-25v1m1-5v1m1-17v1m0 4v1m0 9v1m0 4v1m0 10v1m0 2v2m1-22v1m0 3v1m0 12v2m1-4v3m1-7v1m1 2v1m1-15v1m0 24v1m1 3v1m1-17v3m1-4v1m1 4v1m0 10v1m3-25v1m1-1v2m1-3v3m1-8v1m0 3v1m0 19v1m1 2v1m1-11v1m1 14v1m1-24v1m0 8v1m0 6v2m0 7v1m1-25v1m1-8v1m0 16v1m1-5v1m1-14v1m0 6v1m0 3v1m1-1v1m0 6v1m2-17v1m1 9v1m0 5v1m1-26v1m0 18v1m1-25v2m0 34v1m1-30v2m0 23v1m1-8v1m1 7v1m0 6v1m1-11v1m1-33v3m0 23v1m0 2v1m1-31v1m0 4v1m0 22v1m1-11v1m2 10v3m1-2v1m0 13v1m0 1v1m1-31v1m0 12v1m1-14v1m0 4v1m0 15v1m1-3v1m0 6v1m0 1v1m1-18v1m1-14v1m0 12v1m1-29v1m0 10v1m1 15v1m0 7v1m0 3v1m1-28v1m0 3v1m0 21v1m1 2v1m1-37v1m0 11v1m0 22v1m1-7v1m1-32v3m2 31v1m1-34v2m0 27v1m1-29v1m0 10v1m0 4v3m1-23v1m0 11v1m0 14v1m1-30v1m0 21v1m1-21v1m0 26v1m1-33v1m0 19v1m0 16v1m1-41v2m0 30v1m0 6v1m1-33v1m0 13v2m0 21v1m1 4v1m1-8v1m1-34v1m0 10v1m1-9v1m0 21v1m1-27v2m1 14v1m0 2v1m0 14v1m1 4v2m1-43v1m0 35v1m1-39v1m0 4v1m0 8v1m0 5v1m1 0v1"/><path stroke="#00d4ff" d="M2.5 106v1m1-11v1m3 10v1m3-16v1m1 5v1m5 8v1m1-2v1m3-17v2m1-2v1m3-1v1m3 2v1m1-3v1m6-3v1m0 17v1m1-18v1m0 15v1m3-10v1m1-12v1m1 1v1m1 15v2m1-20v1m1 17v1m2-15v1m2 3v1m2-3v1m2 1v1m1-2v1m1-3v1m1-2v2m9 0v1m2 1v1m0 10v1m3-1v1m2-3v1m1 1v1m3-12v1m1-5v1m1-1v1m1 15v1m1-11v1m2-3v1m2-7v1m1-1v1m0 15v1m2-13v1m1 14v1m2-10v1m3-2v1m1-4v1m1-5v1m0 4v2m1-12v1m0 3v1m1 8v1m1-4v1m2-10v1m1 0v4m0 4v1m0 8v1m2-19v1m0 19v1m1-1v1m1-19v1m1 2v1m0 14v1m2-17v1m0 15v1m1-2v2m1-20v1m0 16v1m1-22v1m3 13v1m1-3v1m0 2v1m1-12v1m1-2v1m0 20v1m1-21v1m0 2v2m0 9v1m1-16v1m0 10v1m0 1v1m3-10v1m1-2v1m1-2v2m0 15v1m1-15v1m0 1v1m1-12v1m0 7v2m0 3v1m1 9v2m1-27v1m1 22v1m1-11v1m1-10v2m1-3v1m0 3v3m1 6v5m1 3v1m2-16v1m1-19v1m1 13v1m0 3v1m0 11v1m1-23v1m1-3v2m1-7v1m0 7v1m0 20v1m1-32v1m0 5v1m1-6v1m0 2v1m4 14v1m1-18v1m0 1v1m0 10v1m2 2v1m1 3v1m1-15v1m1-8v1m0 7v1m4 8v1m1-15v1m0 3v2m1 3v1m2-10v3m0 6v1m0 5v1m1-7v1m1-10v1m1 11v1m0 6v1m2-11v1m0 8v1m1 8v2m1-21v1m0 18v1m0 2v1m1-14v1m1-21v1m0 2v1m0 23v3m1 1v1m1-10v1m1-19v2m0 26v1m4-32v3m1-6v1m0 28v1m1-10v1m2-10v1m0 6v1m1-12v2m1 5v1m0 6v1m2-10v1m0 6v2m0 3v1m2-5v3m2-2v1m1-17v1m0 5v1m0 7v1m0 2v1m3 4v1m1-10v1m0 16v2m1-33v1m0 14v1m1-3v1m0 4v1m1-20v1m0 13v1m0 3v1m1-12v1m1-6v3m0 17v1m1-6v1m1 1v2m0 10v1m1-12v1m1-19v3m0 13v1m1-3v1m1 0v2m1-19v1m0 1v1m2 12v1m1 6v1m1-23v3m0 11v1m0 8v1m1 10v1m2-18v1m2-2v1m1-9v1m0 9v1m1-15v1m1 6v1m0 6v1m1-7v1m0 8v1m1-22v1m0 13v1m2 4v1m1 5v1m0 2v1m1-8v1m0 2v1m2-21v1m0 9v1m2-14v1m1-2v1m0 1v2m1 9v1m1-18v1m1 1v1m0 4v1m1-15v4m0 25v1m1-7v1m0 4v1m0 7v3m1-39v1m0 4v1m0 19v1m1 5v1m1-4v1m1-4v1m1-2v2m2-16v1m3 30v1m1-26v1m0 14v1m1 0v1m1 6v1m2-9v1m1-22v1m1-14v1m0 7v1m0 32v1m3-42v1m2 40v1m2-16v1m1-3v1m1-26v1m0 2v1m0 15v1m2 1v1m1-4v1m0 6v1m0 2v1m1-33v1m0 1v1m0 21v1m0 12v6m0 2v1m1-48v2m0 3v1m1 0v2m1 10v1m0 4v1m1 8v1m1-21v1m0 26v1m1-20v1m0 5v1m0 11v1m1-10v1m1-7v2m0 7v1m1 10v2m1-40v2m0 14v1m0 3v1m0 9v1m1 10v1m1-30v1m0 20v1"/><path stroke="#07efef" d="M2.5 96v1m2-3v1m1-3v1m2-3v1m0 2v1m1-2v1m2 14v1m2-17v1m2 1v1m1 0v1m1-2v1m1-5v1m2 2v1m1 2v1m2-5v1m0 15v1m1-17v1m6-3v1m1-4v1m0 9v2m1-7v1m2 3v1m0 3v1m3-10v1m1-5v1m0 12v1m3-10v1m1 6v1m2-11v1m1 18v1m1-14v1m2 1v1m1-3v1m2 1v1m2-4v1m1 5v1m1-9v1m2-1v1m3-1v1m1 0v1m1 12v1m1 0v1m2 0v1m2-20v1m1-1v1m0 18v1m1-18v1m1-1v1m1 13v1m1-15v1m4 16v1m1-15v1m4 1v1m1-6v3m0 12v1m2-17v1m2 3v1m2-12v1m0 5v1m1-3v1m4 11v1m1-12v1m0 1v1m3 15v1m3-16v1m2-3v1m0 15v1m2 1v1m1-10v1m2-10v1m3-5v1m0 3v1m0 18v1m1-18v1m2 1v1m0 2v1m1-7v1m0 14v1m1-10v1m0 5v1m0 4v1m1-20v1m0 5v1m0 3v1m0 10v1m1-12v1m1-4v1m0 12v1m3-2v2m1-17v1m1-5v2m0 1v2m0 3v1m1-12v1m0 12v1m1-7v1m0 13v1m1-24v5m2 8v1m0 11v1m2-23v3m0 3v1m1-11v1m0 5v1m1 2v1m2 0v1m0 11v1m1-31v3m0 25v1m1-15v3m0 10v1m1-12v1m0 8v1m1-19v1m0 6v1m0 9v1m1-18v1m0 17v1m1-27v1m0 12v1m0 5v1m1-19v2m3 10v1m1-3v1m1-10v1m0 15v1m1-5v1m0 6v1m2-8v1m1-7v1m0 7v1m1-10v1m1 6v1m0 6v1m2-9v1m2-10v1m0 1v1m1 14v1m1-9v1m0 7v1m3-22v1m0 1v1m0 19v1m1-17v1m1 5v1m3 18v2m1-14v1m1-19v2m0 4v1m1 15v1m1-10v1m0 13v1m0 4v1m1-18v1m0 10v1m1-5v1m1-17v1m0 14v1m1-13v1m0 10v1m2-23v3m1-2v1m0 3v1m0 7v1m1-1v1m0 3v1m1-10v2m0 13v1m1-16v2m2 1v1m0 6v1m1-2v1m0 2v3m1-9v1m0 5v1m1-29v1m0 1v1m1 9v1m0 7v1m0 6v1m1-14v1m0 6v1m1 5v2m5-21v3m0 16v2m2-4v1m0 1v1m1-14v1m0 1v1m0 6v1m2 4v1m0 10v1m1-9v1m1 3v1m0 2v1m1-18v1m2-23v1m0 11v1m0 2v1m1-4v1m4 20v1m3-11v1m2 10v1m5-26v2m0 20v1m2-6v1m1 10v2m1-8v1m0 4v1m0 4v1m1-31v1m1 0v3m0 11v2m1 2v1m1-18v1m0 3v1m0 11v1m1-18v1m0 10v1m0 4v1m2-17v1m1 11v1m3-21v1m0 25v1m1-6v1m1 5v1m1-6v1m0 1v1m2-32v1m0 2v1m1 12v1m4-1v1m0 1v1m0 10v1m1-14v1m0 2v1m0 9v1m0 4v1m3-15v1m1-11v1m0 16v1m0 8v1m1-5v1m0 5v1m1-28v3m0 13v1m1 10v1m1-38v2m0 27v1m1 2v1m0 3v1m1-7v1m1-33v1m0 3v1m0 33v1m3-38v2m0 13v3m0 4v1m0 4v1m1-22v1m0 18v1m1-5v1m0 10v1m1 2v1m1-40v1m0 18v1m0 22v2m1-45v1m0 1v1m1 36v1m2-31v1m1 7v1m0 4v1m0 8v1m4-14v1m0 3v1m0 11v1m0 5v1m1-7v1m0 2v1m1-23v1m0 20v1m1-17v1m0 23v1"/><path stroke="#1cffda" d="M5.5 93v1m2-3v2m0 1v1m2-2v1m0 13v1m2-1v1m2-21v1m1 19v1m4-3v1m1-13v2m2-1v1m0 12v1m2-16v2m1-1v1m4-2v1m2 2v1m0 2v1m1 7v1m1-13v1m0 11v1m1-17v1m0 3v1m1-4v1m3 15v1m1-21v1m2 18v1m1-11v1m0 1v1m0 7v1m1-20v1m1 16v1m3-10v1m0 11v1m1-1v1m2-17v1m1 4v1m1-3v1m1-2v1m3-1v1m2-7v1m1-1v1m0 16v1m2 1v1m1-17v1m2 3v1m1 9v1m1-15v1m2 13v1m3-17v1m1 16v1m3-15v1m0 15v1m1-3v1m1-1v1m1 1v1m2-13v1m2-4v2m1-5v1m4 0v1m0 14v2m2-21v7m0 13v1m2 0v1m1-13v1m1-5v1m0 2v1m1-8v1m0 10v1m3-6v1m1 10v1m1-9v1m2-10v1m3 4v1m2-2v1m0 13v1m4-22v3m0 1v1m3 3v2m0 10v2m1-17v1m1-3v1m0 16v1m1-24v1m0 11v3m1-9v1m0 12v1m1 4v1m1-15v1m1-1v1m1-2v1m0 13v1m1-14v1m1-4v1m0 16v2m1-18v1m0 7v1m0 8v1m1-16v1m1-6v1m0 9v2m0 5v1m4-13v1m1 3v1m1-6v1m1 11v1m3-3v1m1-14v1m0 12v1m1-21v1m1-8v1m0 4v1m0 19v3m1-26v1m1 4v1m1 13v1m1 0v1m3-10v1m3 4v1m3-6v1m0 4v1m2 1v1m1-15v1m1-4v1m0 3v1m0 8v1m5-18v1m0 12v1m1-15v1m4 17v1m1-9v1m0 7v1m2 3v1m0 1v1m2-5v1m0 10v1m1-18v1m1-7v1m0 2v1m2 2v1m1-2v1m3 3v1m0 3v1m1-13v5m0 5v1m3-9v1m0 3v1m2-24v1m1 6v1m1 0v1m0 12v1m0 4v1m1-15v1m0 3v1m3 17v1m0 4v1m3-16v1m0 2v1m1-3v1m1-12v1m0 13v1m2-1v1m1-8v1m0 5v1m0 3v1m1 3v2m2-26v1m0 5v2m1-24v1m0 15v2m3 7v1m0 2v1m2 6v1m1 7v1m0 3v1m2-18v1m1 0v1m0 8v1m3-22v1m0 6v1m2 0v1m2 3v1m0 5v1m1-8v1m0 1v1m2-19v1m0 4v1m0 10v1m0 2v1m0 6v1m1-21v1m2 7v1m1-12v3m0 6v1m2 6v1m1-23v1m1 1v1m0 17v1m1-5v1m0 3v1m1-2v1m1-27v1m0 1v1m0 22v1m0 2v1m1-4v1m1 2v2m1-4v1m2-30v2m1 11v2m4 1v1m0 15v1m1-17v2m1 8v1m0 5v1m1-7v1m0 5v1m1-7v1m1-17v2m1-12v1m0 24v1m0 12v2m3-4v1m2 2v1m2-7v1m1-10v1m0 4v1m2-19v1m1-15v1m0 4v1m0 18v1m1 0v1m1-8v1m0 1v1m1-23v1m0 27v1m0 4v1m1-4v1m2-30v1m1 3v1m1 24v1m1 1v1m1 3v1m2-18v1m0 1v1m0 12v2m1-36v1m0 2v1m0 14v1m1-4v1"/><path stroke="#32ffc5" d="M2.5 97v1m2-3v1m2-4v1m1 2v1m1-3v1m4 12v1m1-1v1m3-2v1m2-16v1m4 1v1m1 1v2m1 10v1m1-13v1m2-3v1m0 14v1m3-21v1m0 6v1m1 10v1m2-15v1m1 0v5m0 6v1m1-12v1m0 10v1m1-13v1m1 4v1m1-9v1m1 16v2m2-20v1m0 7v1m0 9v1m2-1v2m1-16v1m1 2v1m5 2v1m2-4v2m1 11v1m3-17v1m4 0v2m0 11v1m2-13v1m2 1v1m1 7v1m1-1v1m2-14v1m1-1v1m1 15v1m1-17v1m0 15v1m1-13v1m0 10v2m1-12v1m0 10v1m2-16v1m1 1v1m2 3v1m3-4v1m2 11v1m1-14v1m0 13v1m1-15v1m1 1v3m2-5v1m4-2v2m0 4v1m2 7v1m1-11v1m0 7v1m2-18v1m6 16v1m3-10v2m0 7v1m1-17v1m1-5v1m1 4v1m0 15v1m1-3v1m2-5v1m0 6v1m1-17v2m0 4v2m1-5v1m0 7v1m0 4v1m1-22v1m0 16v1m2-9v1m1 10v2m1-2v2m1-7v4m2-9v1m1-12v1m0 3v1m0 16v1m1-14v1m0 10v1m1-17v1m0 7v1m0 2v1m1-11v1m1 6v1m2 6v1m4-12v1m1 12v2m2-26v1m0 17v2m1-19v1m0 3v1m2-14v3m0 14v1m2-6v1m1 1v1m1 6v1m2-7v2m1-3v1m2-1v1m0 3v1m1-11v1m1-9v1m2 13v1m0 7v1m6-11v1m0 3v1m1 2v1m2 0v1m1-3v1m1-7v1m0 6v1m3-4v1m1-10v1m1 4v1m1 15v1m0 2v1m1-16v1m0 1v1m0 8v1m0 1v1m2-22v2m0 1v1m2 9v1m1-3v1m1-20v1m0 1v1m0 13v1m1-5v1m0 1v1m2-2v1m1-2v1m0 4v1m2-7v3m3-13v1m5 24v1m0 2v1m3-14v2m3-3v1m0 5v1m1-2v1m0 7v1m1 1v1m1-19v1m0 6v1m1-3v1m1-11v1m0 2v1m0 4v1m1-29v2m3 23v2m2 1v1m0 4v1m3-8v3m2 1v1m0 4v1m1-14v1m3 10v1m1-6v1m0 3v1m2-3v1m2-1v2m0 8v1m0 1v1m1-29v1m2 16v1m2-6v1m0 2v1m1-3v1m1-17v3m1-1v1m0 1v1m0 11v1m0 1v1m2-4v1m1-23v1m0 25v1m1-2v1m0 2v1m9-4v1m0 1v1m1-3v1m0 2v1m3-20v1m2-8v1m1 27v1m1-6v1m0 6v1m2-4v1m0 1v1m2-37v1m0 1v1m0 25v1m3-6v1m3-6v1m0 9v1m1-12v1m3-6v1m0 2v1m0 14v1m0 8v1m1-8v1m1-29v1m0 8v1m0 2v1m0 14v1m1-18v1m0 3v1m0 11v1m2-5v1m1-13v1m0 1v1m0 17v1m1-19v1m1-6v1m0 26v1m1-27v1m0 1v1m0 17v1"/><path stroke="#47ffb0" d="M2.5 105v1m2-10v1m1-3v1m2 9v1m2-11v1m2-1v1m2-7v1m0 16v1m1-12v1m3-5v1m0 13v1m2-10v1m1 0v1m3-1v2m2 7v2m1-13v1m3-5v1m1 14v2m1-15v1m1 12v1m1-14v2m1 3v1m3-11v1m2 1v1m1 1v1m2-4v1m1-1v1m1 3v1m0 10v1m1 2v1m1-11v1m2-3v1m0 11v1m2-9v1m1-4v1m1 0v1m2-6v1m0 14v1m1-1v1m1-1v1m1 0v1m2-17v1m1 2v1m1-4v1m1 12v1m1 1v1m5-4v1m2-6v1m1 5v1m2 0v1m1-14v1m5 3v1m1-2v1m2-6v1m1-2v1m0 15v1m3-15v1m1 14v1m1-2v1m1-14v1m2 3v1m0 9v1m2-1v1m1-8v1m0 5v1m3-11v1m2-6v1m1-3v1m0 14v1m1-16v1m1 0v1m0 12v1m2-6v1m1-6v1m0 11v1m1-17v1m0 5v1m0 2v1m4-8v1m1 7v1m2-7v4m0 2v1m0 3v1m1-15v1m0 3v1m0 10v1m1-22v3m1 10v1m0 10v1m3-15v1m1-2v1m0 7v1m1-8v1m0 11v1m2-20v3m0 10v1m1-6v4m1-9v1m1 13v1m1 0v1m1-10v1m1-3v1m1-20v1m0 13v1m0 6v1m2-5v1m1 1v1m1 8v1m0 4v1m3-25v1m0 1v1m0 17v1m1-29v1m0 1v2m1 7v1m1 2v1m3-4v1m1-3v1m0 4v1m2 2v1m1-3v1m0 4v1m2-9v1m1-10v1m1 9v1m0 2v1m3-4v1m7-16v1m0 3v1m0 10v1m3-2v1m0 6v1m1-11v1m2 2v1m1 9v1m0 4v1m1-10v1m0 8v2m1-14v1m0 10v1m2-17v1m1-3v1m3-10v1m0 10v1m1 0v1m1 3v3m1-6v1m0 2v1m2-8v1m0 4v1m2-3v1m0 3v1m2-19v2m0 10v1m1-12v1m0 2v1m0 9v1m0 2v1m1-13v1m0 1v1m3 20v2m5-15v1m2 6v1m1-5v1m0 5v1m2-12v1m6 1v1m0 6v1m2 8v3m5-16v1m1-12v1m1 5v1m0 4v1m3 4v1m3-22v1m0 2v1m0 23v1m1-24v1m2 9v1m1 1v1m1-4v2m1 2v1m2-18v1m0 13v1m1-2v3m1-3v2m1 0v1m1 0v2m9-2v1m1-1v2m3-14v1m0 13v1m2-32v1m0 24v1m0 3v1m4 3v1m1-4v1m0 6v1m1-39v1m1 25v1m1 1v1m1-4v1m1-27v1m0 12v1m0 10v1m2-3v1m2 5v1m1 4v1m1-21v2m1-12v1m1-2v2m0 10v2m0 11v1m1-13v1m0 1v1m1 5v1m2-9v1m0 14v1m0 2v1m2-37v2m0 13v2m0 18v1m1-20v1m0 24v1"/><path stroke="#5cff9b" d="M4.5 107v1m4-14v1m0 11v1m4-2v1m4-12v1m1-4v1m2 4v1m2-2v1m1-3v1m1 4v1m1-5v1m0 10v1m2 0v1m2-14v1m1 12v1m1-19v1m0 4v1m2 1v1m1 4v1m0 5v1m3-15v1m1 7v1m1-12v1m0 16v1m2-4v1m1-10v1m0 4v1m0 4v1m1-2v1m1-8v2m0 5v1m1-11v1m1 11v1m7-9v1m0 7v2m5-10v2m2 4v1m1-9v1m6-8v1m2 2v1m1-1v1m1-3v1m0 7v1m0 1v1m0 2v1m1-12v1m3 1v1m1 10v1m1-11v1m1 2v1m2-1v1m2-3v1m4-2v1m0 10v2m1-15v3m0 3v1m0 5v1m1-23v1m0 3v1m0 12v1m0 5v1m1-12v1m1 11v1m1-9v1m2 7v1m1-2v1m1-2v1m2-11v1m1-7v1m0 5v1m0 1v1m1 6v1m1-13v1m0 11v1m2-2v1m2-10v1m2-1v1m1-1v1m1-5v1m0 13v1m1-6v1m0 7v1m3-1v1m1-4v1m1-5v1m1-11v3m0 10v1m1 0v1m1-16v1m1 6v1m0 8v1m1-1v1m1-1v1m2-12v1m1 2v1m2 0v1m1-4v1m0 7v1m2-7v1m1 6v1m3-13v1m3 11v1m2-23v1m0 4v1m1-4v1m0 13v1m1-23v1m1 12v1m7-2v1m2-1v1m0 1v1m1-9v1m1-9v1m1 14v2m2-5v1m0 6v1m2-12v1m1 2v1m1 6v1m1-7v1m0 1v1m1-4v1m3-1v1m4 2v1m2 4v1m1-7v1m2 6v1m1-2v1m1-2v1m6-5v2m6-1v1m1-15v1m0 11v2m1-11v1m8 12v1m1 1v1m1 1v1m1-10v1m0 15v1m3-27v1m0 2v1m0 4v1m6 4v1m0 2v1m4-2v1m0 6v1m2-16v1m1 0v1m2 2v1m1 1v1m0 1v1m1-1v1m4-17v1m2 13v2m1-5v1m20 0v1m0 3v1m1-5v1m1-1v1m1-26v1m0 2v1m1 21v1m2 2v1m0 4v1m3-1v1m1-4v1m1-8v1m1-3v2m1-12v1m1-16v1m0 2v1m0 20v1m0 7v1m1-13v1m0 14v1m2-10v1m3 0v1m2-11v1m0 10v1m1-1v1m1-1v1m0 3v1m1-1v2"/><path stroke="#71ff86" d="M2.5 98v1m2-2v1m1-3v1m1-3v1m2 1v1m1-1v1m3-4v1m5-1v2m1-3v1m2 15v1m2-14v4m1 8v1m2-12v1m1 9v1m1-13v1m1 12v1m1-16v1m1-3v4m0 6v1m1 4v1m2 0v1m3 0v1m2-17v1m1 13v1m1-13v1m1-5v1m1 7v3m1-1v1m1-5v1m1 0v1m1 1v1m1-2v1m1 8v1m3-10v1m2 2v1m1 5v1m1-12v1m0 10v1m1-14v1m0 12v1m1-18v1m0 7v1m4-5v1m1 1v1m1 0v1m1 0v1m1-6v1m2-4v1m2 13v1m1-3v2m1-6v1m1 7v1m1-9v1m1-3v1m1-3v1m1 2v1m0 8v1m2-7v1m0 8v1m2-12v1m2-6v1m0 11v1m2-10v1m1 0v1m4 9v1m2-9v1m2 1v1m4-8v2m0 3v1m1-1v1m1-6v1m6 1v1m1-6v1m0 2v1m1 4v2m1-14v1m0 11v1m1-8v1m0 13v1m3-5v1m1-1v2m2 2v2m1-5v1m0 3v1m2-14v1m1 0v1m1 4v1m2 5v1m1-1v1m1-7v1m0 3v1m1-14v1m0 3v1m0 5v1m4-7v1m1-15v1m1 23v1m1-3v1m1-9v1m0 7v1m1 0v1m2-18v1m3 0v2m1-7v1m4 2v1m2 3v3m2-3v1m1-4v1m1-10v1m6 14v1m1-7v1m1 0v1m2 5v1m1-20v3m2 14v1m2-3v1m1-7v1m2 14v1m0 2v1m7-16v1m1-1v1m0 1v1m4-3v1m0 2v1m1-6v1m0 2v1m2-1v1m3-14v1m10 14v1m1 6v1m0 3v1m1-12v1m0 7v1m1-7v1m1-3v1m1-13v2m0 6v1m0 1v1m6 2v2m5-1v1m0 2v1m4-3v1m1-3v1m1 3v1m3-20v2m1-1v2m5 10v1m0 1v1m17-4v1m0 3v1m2-18v1m1 19v1m1-32v2m0 24v1m2 5v1m3 1v1m3-12v2m2-24v1m0 9v3m2 2v2m2 4v2m3-30v1m1 31v1m1-3v2m5 3v1m0 3v1"/><path stroke="#86ff71" d="M3.5 97v1m0 9v1m3-2v1m1-11v1m6-8v1m0 4v1m2 0v1m2-2v1m5 3v1m1 0v1m2 4v1m1-10v1m3-4v1m0 12v1m1-2v1m1-12v1m1 10v1m2-7v1m0 3v1m2-10v1m1-6v1m0 6v1m1-5v1m0 5v2m1-9v1m1 2v1m1-1v1m1-5v1m1-1v1m0 5v1m0 3v1m0 2v1m1-8v1m3 10v1m2-15v1m0 13v1m1-8v1m0 7v1m2-10v1m2-7v1m4-5v1m1 3v1m1 11v1m1-12v2m0 8v1m2 1v1m1-3v1m3-1v1m2-12v1m1 3v1m1-5v4m0 1v1m1-3v1m1 8v1m1-10v1m5 2v1m1 8v1m1-12v1m1-5v1m1-3v1m0 13v1m4-22v1m0 1v1m1 9v1m0 8v1m4-6v1m0 5v1m5-17v3m2 1v1m1-5v1m1 7v1m3 0v1m0 7v1m1-12v1m1-6v2m0 6v1m2-4v2m0 2v1m0 5v1m3-2v2m1-5v2m3 3v1m1-18v1m0 4v1m0 9v1m4-13v1m1 1v1m3 4v1m1-10v3m0 7v2m1-13v1m0 7v2m3-5v1m0 6v1m1-14v1m0 4v1m1-2v1m5-11v1m0 1v1m1 16v1m6-10v1m1-6v1m3 5v1m2-12v1m1-9v2m2 11v1m0 5v1m2-14v1m6 5v1m1 4v1m2-7v1m3 0v1m1-7v1m1 17v2m3-14v1m1-2v1m3 4v1m1-5v1m4-1v2m1-3v1m2 1v2m2-5v1m0 2v1m10-1v1m0 1v1m2 6v3m1-13v2m0 9v4m2-16v1m1-1v1m5 6v1m6-2v2m1-10v1m1-5v1m1 5v1m0 2v1m1-2v1m2 3v2m7-7v1m0 1v1m2-1v1m18-2v1m0 1v1m1-14v1m0 10v1m2-2v2m1 4v1m1-4v1m3 1v1m0 3v1m2-10v1m3-11v1m0 4v1m1-24v2m1 27v1m3-3v1m0 4v1m3-5v2m2-6v1m1 3v1m0 1v1m3 5v1m1-4v1m0 3v1"/><path stroke="#9bff5c" d="M8.5 105v1m1-10v1m1 2v1m1-5v1m2-6v1m0 2v1m0 1v1m0 8v1m2 1v1m2-12v1m1 8v1m1-8v1m0 8v1m1-10v1m4-3v1m4-2v1m1-2v4m3-1v1m3-4v1m3-2v1m0 3v1m0 2v1m0 5v1m2-12v1m1-6v1m1 0v1m0 4v1m0 3v1m1-6v1m2 9v1m1-7v1m1 6v1m1-11v1m3 1v1m0 8v1m1-3v1m1 0v1m3-13v1m2 9v1m2-8v1m1-2v1m7-4v1m2-3v1m4 5v2m2-2v1m4 0v1m1 5v1m1-11v2m1 3v2m2-4v1m1 2v1m1-16v1m2 19v1m2 0v1m2-2v1m1-5v1m2 2v1m1-1v1m2-10v1m2-6v1m0 6v1m0 1v1m0 2v1m1-1v1m1-8v1m4-5v1m0 5v1m0 2v1m1-14v1m0 3v5m2-4v1m0 10v1m7-7v1m2 6v1m1-7v1m2-1v1m1 1v1m1 0v2m2-3v1m0 1v1m2-7v1m1-1v1m3-5v1m1 2v1m3-12v1m1 14v1m4-6v1m1 0v1m1-9v1m1-2v2m3 3v1m2-8v2m4 1v1m0 4v1m1-6v1m1 1v1m4 1v1m2-3v1m1 0v1m3-6v1m4 6v1m4-9v1m1 2v1m0 5v1m7-9v1m4 0v1m10 2v1m1 0v1m0 1v1m3-7v1m1 0v2m6-1v1m5 3v1m0 4v1m2-9v1m1-9v1m0 1v1m2 7v1m9-4v1m20 0v1m1-15v2m0 14v1m5-1v1m0 2v1m7-35v1m0 17v1m1 4v1m1 8v1m4 4v1m1-37v1m0 28v1m3-7v2m1 2v1m3 4v2"/><path stroke="#b0ff47" d="M2.5 104v1m2-7v1m1-3v1m0 9v1m1-13v1m0 10v1m2-10v1m5-6v2m1 13v1m2-3v1m2-13v1m4 6v1m2 4v1m1-9v1m1 7v1m1-11v1m0 11v1m1-2v1m3-12v1m2 9v1m1-6v1m2-6v1m0 10v1m1-17v1m1 3v3m2-1v1m1-6v1m0 1v1m0 7v1m0 2v1m1-10v1m1-5v1m0 9v2m1-6v1m0 5v1m1-7v1m8 7v1m0 1v1m1-3v1m3-10v1m0 3v1m8 2v1m1-1v1m2-10v1m1-1v1m1 1v1m1 2v1m0 4v1m3-6v2m0 6v1m1-14v1m0 9v1m2 2v1m5-12v1m1 1v1m1-3v1m1 8v1m2-5v1m0 3v1m1-9v1m1-4v1m2 4v1m3 4v1m1-7v1m1-3v1m1 2v1m3 3v1m1-8v1m0 3v2m1-11v1m1 12v1m1 1v1m1-10v1m1 6v1m1-2v1m1-16v3m0 10v1m1-10v1m0 5v2m2 0v1m5-10v1m0 2v1m0 8v2m3-10v1m1-2v1m1 1v1m5 0v1m0 3v1m1-4v1m2-2v2m1-24v1m0 14v1m0 2v1m1 0v1m2 1v1m0 4v1m7-14v1m1-3v1m1 1v1m13-6v1m2 7v1m4-2v2m2-2v1m1 2v1m1-6v1m1-5v1m0 1v1m1-1v1m1-1v1m0 5v1m1-5v1m3 3v1m13-6v1m11 3v1m18-10v1m1 4v2m1 0v2m28-3v1m0 1v1m2-2v2m3-3v1m1 5v1m3-2v3m1-8v1m1 2v1m3-11v1m1 7v1m5 0v1m1-33v1m0 27v1m8 6v1m0 1v1"/><path stroke="#c5ff32" d="M12.5 93v1m2 1v1m0 9v1m2-11v1m5 0v1m2 3v1m0 4v1m1-10v1m2-1v1m1 8v1m2-9v1m0 6v1m1-5v1m3 0v1m1-1v1m3-8v1m0 11v1m2-16v1m0 11v1m2-13v1m1-1v3m0 8v1m1-12v3m3 5v1m1 4v1m1-1v1m1 0v1m5-13v1m1 1v1m0 8v1m1-11v1m1-6v1m2 3v1m2 2v1m1-2v1m1 8v1m1-8v1m1-6v1m1-4v1m1-1v1m1 12v1m1-2v1m1-11v1m3 5v1m1 2v1m0 4v1m2-9v1m1 7v1m2-7v1m0 7v1m1-10v1m2-3v1m1-6v1m0 8v1m0 2v1m1 2v1m1-10v1m1 5v1m4-5v1m3 0v1m2 2v1m4-9v1m3 4v1m3-4v1m0 5v1m2-9v1m0 4v2m1 2v1m8-14v2m2 10v1m2-10v1m0 1v1m1 6v1m6-2v1m2-5v1m0 1v1m1-11v2m3 4v1m4 2v2m3-19v1m3 8v1m4-1v2m5-5v1m0 3v1m1-6v1m0 2v1m4-5v1m5-2v1m1 0v1m1 0v1m1-3v2m1-3v1m5 7v1m1-7v1m1 3v1m2-5v1m0 2v1m24-1v1m7 1v1m5 3v1m2-12v1m0 2v1m31 0v1m3-2v1m3 2v1m1 0v2m3 0v1m1-7v1m3-26v1m0 15v2m2 8v1m3-3v1m0 2v1m2-32v2m8 33v1"/><path stroke="#daff1c" d="M2.5 99v1m7-3v1m0 8v1m2-1v1m4-2v1m2-10v1m1-4v1m4 12v1m6-12v1m2 7v1m1-1v1m1-7v1m2 2v1m1 1v1m1-8v1m1 5v1m1-2v1m1-4v2m1 3v1m2-3v2m2-5v1m1-1v1m1 8v1m3-14v1m2 4v1m0 6v1m1-7v1m1 0v1m3 3v1m2-16v1m4 13v1m1-8v1m5-3v1m1-1v1m1-3v1m0 1v1m2 1v1m2 4v1m0 2v1m1-11v1m2 3v1m1 0v1m3-3v1m1-1v1m0 4v1m1-7v1m0 4v1m3-2v1m3 2v1m2 0v1m1-1v1m2-4v1m4-4v1m0 3v1m2-13v1m0 6v2m1-9v1m0 3v1m3 4v1m0 4v1m2-6v1m1-9v1m2 0v1m0 3v1m0 2v1m2 3v1m6-1v1m1-11v1m1 1v1m0 6v1m1-8v1m1 0v1m1 1v1m1 1v1m0 2v1m3-14v1m0 4v1m3 3v1m1-22v1m1 15v1m1 5v1m1-4v3m10-13v1m10 0v2m1-9v1m2 3v1m3-1v1m1 5v1m3-5v2m4-8v1m4 5v1m28-2v1m7 1v1m5 3v1m0 1v1m2-10v2m34 5v1m2-2v1m1-1v2m5-4v1m5-1v2m5-3v1"/><path stroke="#effe07" d="M5.5 97v1m1-3v1m7 0v1m4 6v1m1-10v1m3 11v1m1-7v1m1 3v1m1-8v1m1-1v1m0 5v1m2-9v1m4-1v1m1 7v1m1-2v2m3-8v1m1-7v1m0 2v1m1 10v1m1-13v1m0 3v1m0 2v1m1-4v1m1 4v2m4 0v1m2-7v1m3 2v1m3 2v1m1-10v1m3-1v1m1 0v3m6 4v1m3-6v2m1-4v2m1-2v1m1-3v1m1 5v1m1 3v1m2-2v2m1-5v1m0 2v1m7-5v1m1-7v1m0 2v1m0 6v1m1 2v1m4-9v1m0 5v1m2 2v1m2-7v1m1 2v1m1-2v1m3-4v1m2-4v1m1 2v1m1-9v1m0 1v1m1 5v1m1-5v1m2 2v1m2-7v1m0 1v1m2 0v1m0 7v1m1-12v1m0 8v1m7-5v1m2 3v1m3 1v1m5-6v1m1-3v1m4-5v1m24-3v1m1-4v1m0 1v1m3-3v1m2 0v1m5-5v1m2 3v1m0 1v1m3-1v1m27-3v1m7 1v1m5 2v1m38-6v1m6-1v1m3-29v2m1 21v1m4 4v1m2-3v1"/><path stroke="#ffe600" d="M7.5 97v1m1-1v1m2 8v1m1-11v1m1 7v1m6-10v1m1 2v1m1-1v1m3 2v1m3-5v1m3 0v1m1 2v1m1-6v1m1 1v1m3-5v1m2-4v2m0 12v1m2-13v1m0 1v1m6 2v1m1 1v1m0 4v1m2-10v1m6-2v1m2-1v1m1-6v1m2 3v1m0 7v1m1-6v1m5-5v1m1-4v1m1 5v1m0 5v1m2-7v1m0 3v1m4 2v1m2-9v1m0 1v2m0 1v2m1-4v1m0 4v1m1 0v1m1 1v1m1-7v1m3-2v1m1-7v2m1 1v1m1 1v1m1 2v2m1-2v1m0 1v1m2-10v1m2 4v1m2 1v1m6 0v1m1-7v1m0 3v2m1-10v1m6 0v1m1 7v1m1-9v2m1 2v4m1-1v1m8-5v1m0 3v1m2-4v1m5-4v1m2 7v1m2-28v1m1 19v1m0 6v1m9-20v1m0 2v1m3 1v1m0 1v1m9-2v1m0 1v1m2-7v1m3 2v1m2 0v1m3-4v1m7 2v1m3-3v1m1-4v1m1 2v1m1-1v2m24-2v1m7 1v1m43 0v1m10-4v1m4-1v1m1 7v1m1-9v1"/><path stroke="#ffce00" d="M6.5 104v1m1-2v1m2-6v1m9-3v1m3 0v1m2 5v1m1-6v1m0 4v1m1-6v1m1 4v1m1 0v1m1-9v1m0 7v1m2-3v1m1-6v2m5 5v1m2-4v1m1-8v1m0 5v1m0 1v1m5-5v1m0 2v1m2 2v1m3-11v1m0 9v1m2-6v1m1 3v1m1-3v2m1-7v1m1-1v1m2-4v1m0 12v1m1-17v1m0 3v1m0 3v1m3-2v1m0 4v1m1-7v1m2 1v1m2-3v1m1 2v1m1-3v1m1-1v3m2 2v1m4-7v1m5 2v1m1 2v1m1-3v2m6-4v1m1 3v1m4-1v1m3-7v1m1 5v1m3-12v1m2-1v1m0 6v1m1 3v1m1-3v1m0 2v1m2-4v1m0 1v1m2 0v1m1-4v1m1-8v1m0 2v1m1 5v1m8-6v3m3-1v1m1 1v2m3-12v1m1 9v1m3-25v1m2 21v1m9-8v1m1 0v1m1-5v1m9 0v1m2-9v1m1 0v1m0 3v1m7-1v1m2 3v1m3-10v2m1 6v1m3 0v1m1-4v2m2 1v1m73-4v1m2 0v1m5-2v1"/><path stroke="#ffb500" d="M2.5 100v1m0 2v1m1 2v1m1-8v1m2-4v1m5 8v1m1-12v1m2 9v1m1-9v1m4 8v1m4-4v1m4-7v1m4 2v1m0 2v1m1-4v1m4-3v1m2 5v1m1-3v1m1-5v1m5 1v1m6 4v1m1-5v1m2-4v1m0 5v1m3-13v2m1 0v1m0 8v1m1-8v1m1 7v1m5-10v1m1 0v1m0 1v1m1-8v1m1 7v1m0 2v1m3-2v1m1-4v1m1 0v1m5 1v1m0 4v1m3-8v1m6 3v1m1-4v1m0 2v1m1-3v2m6-4v1m2 1v1m1-2v1m2-5v1m3 0v1m2 2v1m0 2v1m3-1v1m1-1v1m1-9v2m1 5v1m7 0v1m3-5v1m0 3v1m5-11v2m4-18v1m1 19v1m9-13v2m14-2v1m5 1v1m1 1v1m0 1v1m4-3v1m4-3v1m3 1v1m2 0v1m81 2v1m5-9v1m5 5v1"/><path stroke="#ff9d00" d="M5.5 105v1m3-2v1m1 0v1m9-9v1m4 3v1m0 3v1m2-7v1m1 2v1m1-5v1m5 1v2m1-2v1m0 1v1m5-1v1m0 1v1m1-3v1m6-4v1m1 0v1m0 1v1m1-2v1m1 1v1m2-9v1m7 0v1m1 3v1m1-10v2m0 6v1m5-3v1m1 3v1m1-7v1m0 5v1m1-11v1m0 2v1m0 6v1m1-7v1m0 4v2m4-1v1m5-3v1m8-3v1m1 5v1m4-5v1m1 5v1m1-6v1m0 2v1m1-1v1m4-2v1m1-2v1m1-1v1m1-5v1m5 3v2m2-2v1m3-1v1m9-8v1m4 7v1m5-4v2m5-8v1m9-8v1m1 1v1m12-6v1m2 2v1m0 2v1m3-2v1m1 0v1m11 0v1m2-6v1m74 5v1m12-6v1"/><path stroke="#ff8500" d="M3.5 98v1m1 7v1m1-9v1m5 1v1m6-5v1m1 0v1m1 5v1m2 2v1m5-8v1m2-3v1m2 5v1m3-3v1m3-7v1m0 5v1m1-4v1m8 1v1m1 0v1m1 0v2m3-8v2m1 8v1m2-6v2m2-5v1m9 4v1m1-5v1m1-4v1m1-5v2m2 5v2m11 0v1m1 4v1m4-3v1m1-6v1m3 0v2m1-7v1m0 2v1m1 1v1m2 0v1m6-2v1m2-9v1m0 1v1m2 2v1m1-1v1m2 2v1m12-3v1m4 0v1m1 0v1m6-4v1m3-1v1m1 0v1m23-15v1m0 1v1m4 0v1m5 1v2m7-2v1m3-2v1m73 0v1m12-5v1"/><path stroke="#ff6d00" d="M2.5 101v2m1 2v1m7-1v1m1-9v1m2-1v1m0 5v1m1-8v1m7 1v1m0 6v1m1-2v1m2-5v1m0 1v1m1-3v1m1-2v1m1 3v1m1-7v1m1 1v1m8 3v1m3-3v1m7-4v1m1 4v1m1-6v1m1 2v1m5 1v1m1-7v1m2 3v1m1-6v1m2 1v1m3 1v1m2-3v1m1-8v1m0 2v1m5 3v1m1 3v1m3-1v1m1-4v1m1 4v1m11-9v2m3 4v1m3-1v1m1-6v1m4-5v1m2-2v1m1 8v1m2-1v1m12 0v1m4-3v2m1-1v1m9-1v1m37-13v1m5-2v1m1 1v1m73-1v1m7-2v1m10 4v1"/><path stroke="#ff5500" d="M6.5 97v1m6-3v1m3 8v1m4-6v1m5 1v1m1-1v1m1 0v1m1-5v1m13-1v1m8-2v1m3 2v1m4-4v1m1 5v1m2-4v1m2-3v1m2-2v1m3-1v1m1 2v1m6 1v1m1-4v1m3 0v1m1 2v1m1-3v1m1 4v1m1-7v1m1-2v1m0 1v1m9 2v1m1-4v1m8-4v1m0 2v1m4-4v1m15-4v1m0 5v1m10-1v1m3-4v1m1-5v1m0 2v1m9-7v1m14-7v1m1 1v2m12-2v1m5-2v1m1 2v1m80 1v1"/><path stroke="#ff3c00" d="M8.5 98v1m1 0v1m9-2v1m2 0v1m2 2v2m4-4v1m1-2v1m9-1v1m0 3v1m13-5v1m0 3v1m1 1v1m4-7v1m3 5v1m2-9v1m2 3v1m1 0v1m3-3v1m1-2v1m1-8v2m9 7v1m3 3v1m5-8v1m1 1v1m0 1v1m6-1v1m11-7v1m1 2v2m29-6v2m10-5v1m26-5v1m5-2v1m81 2v1m10 0v1"/><path stroke="#ff2400" d="M7.5 98v1m9 4v1m10-3v1m1-2v3m8-7v1m12 5v1m4 0v1m3-2v1m5-2v1m6-4v1m8 1v2m5 1v1m1-2v1m1 2v1m1-6v1m14-2v1m23-4v1m0 3v1m10-3v1m3 0v2m11-12v1m122 3v1"/><path stroke="#f60c00" d="M17.5 102v1m4-4v1m7-2v1m0 4v1m1-4v1m0 1v1m6-3v1m5-2v2m7-2v1m3 4v1m1-4v1m5-4v1m4 3v1m1-4v1m4-1v1m7-1v1m5 0v1m1 1v1m1 1v1m6-4v1m5-1v1m9-3v2m3-8v1m0 1v1m15 3v1m1-3v3m23-13v1m123 4v1"/><path stroke="#d90000" d="M3.5 104v1m1-5v1m2 2v1m3 0v1m3-9v1m7 7v1m2-1v1m14-8v1m14 2v1m1 1v1m4-3v1m5-3v1m2 1v1m2-3v1m9 2v1m5 0v1m2 0v1m5-5v1m0 3v1m6-1v1m5-3v1m1-4v1m0 2v1m6-8v1m15 6v1m11-3v2"/><path stroke="#bb0000" d="M5.5 99v1m0 4v1m1-7v1m1 3v1m3 1v1m1-7v1m0 5v1m6-7v1m1 0v1m2 5v1m9-5v1m6-4v2m1 0v1m0 1v1m11-2v1m2 0v1m1 0v1m1-2v1m3-2v1m1-4v1m8 3v1m9-3v1m8 0v1m10 0v1m5-3v1m22-1v1m24-11v1m1-1v2"/><path stroke="#9d0000" d="M4.5 105v1m6-5v1m2 1v1m2-1v1m2-7v1m2 4v1m3-3v1m26-1v1m1-3v1m1 2v1m8-1v1m2-3v2m1-2v1m2-2v1m15 2v1"/><path stroke="#800000" d="M3.5 99v5m1-3v4m1-5v4m1-5v4m1-4v3m1-3v5m1-4v4m1-2v2m1-5v5m1-7v6m1-5v5m1-6v6m1-6v7m1-6v5m1-4v3m1-2v2m1-2v4m1-4v5m1-4v3m7-5v4m8-2v1m12-3v4m7-4v4m1-4v4m1-1v3m3-5v2m2-3v3m1-3v3m17 0v3m4-5v3m12-4v2m45-13v2"/></g></g></g><rect x="838.4" y="627.4" width="534.6" height="416.69999999999993" fill="none" stroke="#3a3a3a" stroke-width="0.9"/><line x1="835.1" y1="1044.10" x2="838.4" y2="1044.10" stroke="#222" stroke-width="0.9"/><text x="832" y="1053.80" font-size="27" text-anchor="end" fill="#111">0</text><line x1="835.1" y1="960.76" x2="838.4" y2="960.76" stroke="#222" stroke-width="0.9"/><text x="832" y="970.46" font-size="27" text-anchor="end" fill="#111">2</text><line x1="835.1" y1="877.42" x2="838.4" y2="877.42" stroke="#222" stroke-width="0.9"/><text x="832" y="887.12" font-size="27" text-anchor="end" fill="#111">4</text><line x1="835.1" y1="794.08" x2="838.4" y2="794.08" stroke="#222" stroke-width="0.9"/><text x="832" y="803.78" font-size="27" text-anchor="end" fill="#111">6</text><line x1="835.1" y1="710.74" x2="838.4" y2="710.74" stroke="#222" stroke-width="0.9"/><text x="832" y="720.44" font-size="27" text-anchor="end" fill="#111">8</text><line x1="835.1" y1="627.40" x2="838.4" y2="627.40" stroke="#222" stroke-width="0.9"/><text x="832" y="637.10" font-size="27" text-anchor="end" fill="#111" textLength="31" lengthAdjust="spacing">10</text><line x1="838.40" y1="1044.1" x2="838.40" y2="1047.3999999999999" stroke="#222" stroke-width="0.9"/><text x="838.40" y="1071.30" font-size="27" text-anchor="middle" fill="#111">0</text><line x1="927.50" y1="1044.1" x2="927.50" y2="1047.3999999999999" stroke="#222" stroke-width="0.9"/><text x="927.50" y="1071.30" font-size="27" text-anchor="middle" fill="#111">5</text><line x1="1016.60" y1="1044.1" x2="1016.60" y2="1047.3999999999999" stroke="#222" stroke-width="0.9"/><text x="1001.10" y="1071.30" font-size="27" fill="#111" textLength="31" lengthAdjust="spacing">10</text><line x1="1105.70" y1="1044.1" x2="1105.70" y2="1047.3999999999999" stroke="#222" stroke-width="0.9"/><text x="1090.20" y="1071.30" font-size="27" fill="#111" textLength="31" lengthAdjust="spacing">15</text><line x1="1194.80" y1="1044.1" x2="1194.80" y2="1047.3999999999999" stroke="#222" stroke-width="0.9"/><text x="1179.30" y="1071.30" font-size="27" fill="#111" textLength="31" lengthAdjust="spacing">20</text><line x1="1283.90" y1="1044.1" x2="1283.90" y2="1047.3999999999999" stroke="#222" stroke-width="0.9"/><text x="1268.40" y="1071.30" font-size="27" fill="#111" textLength="31" lengthAdjust="spacing">25</text><text x="1032.70" y="1103.40" font-size="32.5" fill="#111" textLength="146" lengthAdjust="spacingAndGlyphs">Time (ps)</text><text transform="translate(787.5,870.50) rotate(-90)" font-size="32.5" fill="#111" textLength="66" lengthAdjust="spacingAndGlyphs"><tspan font-style="italic">r</tspan> (Å)</text><rect x="1405.6" y="627.4" width="21.600000000000136" height="416.69999999999993" fill="url(#jetg)" stroke="#555" stroke-width="0.8"/><line x1="1427.2" y1="1044.10" x2="1430.5" y2="1044.10" stroke="#222" stroke-width="0.9"/><text x="1433.0" y="1053.80" font-size="27" fill="#111">0</text><line x1="1427.2" y1="627.40" x2="1430.5" y2="627.40" stroke="#222" stroke-width="0.9"/><text x="1433.0" y="637.10" font-size="27" fill="#111">1</text><text transform="translate(1483,919.00) rotate(-90)" font-size="33" fill="#111" font-style="italic" textLength="164" lengthAdjust="spacingAndGlyphs">4πr<tspan dy="-12" font-size="21">2</tspan><tspan dy="12">G</tspan><tspan dy="6" font-size="22">s</tspan><tspan dy="-6">(t,r)</tspan></text><text x="745.5" y="628" font-size="41" font-weight="bold">d</text><clipPath id="clipe"><rect x="110.2" y="1132" width="527.3" height="411"/></clipPath><g clip-path="url(#clipe)"><g filter="url(#hblur)" shape-rendering="crispEdges"><g transform="translate(101,1120) scale(3,4)" fill="none"><rect width="182" height="109" fill="#001dff"/><path stroke="#000080" d="M0.5 81v28m1-28v28m1-28v28m1-28v28m1-29v29m1-28v28m1-28v28m1-28v28m1-30v30m1-28v28m1-28v28m1-28v28m1-28v28m1-28v28m1-28v28m1-28v28m1-28v28m1-29v29m1-28v28m1-28v28m1-29v29m1-29v29m1-29v29m1-27v27m1-24v24m1-27v27m1-20v20m1-20v20m1-19v19m1-10v10m8-26v1"/><path stroke="#00009d" d="M2.5 80v1m1-1v1m1-2v1m2 0v1m1-1v1m5-1v1m3-1v1m1-1v1m2-1v1m1-1v1m2-2v1m3 2v1m1-2v1m1 5v2m1-1v1m2 8v2m52-17v2m26-1v1m64-1v1"/><path stroke="#0000bb" d="M1.5 80v1m18-2v1m5 1v1m0 1v2m2 1v1m2 2v1m1 6v1m8-15v1m0 1v1m22-2v1m7-23v2m28 19v2m6-1v1m7 0v1m1-2v1m7-1v1m56-2v1m1-22v4"/><path stroke="#0000d9" d="M0.5 80v1m2-2v1m1-1v1m2 0v1m1-2v1m1-1v1m4 0v1m1-20v4m0 14v1m2 0v1m1-2v1m1-1v1m1-1v1m1-1v1m2-1v1m3 0v2m1-2v1m2 4v1m1 1v1m1 0v1m1 4v2m3-12v1m5-22v1m16-4v3m6 22v1m7-30v6m0 2v2m9-4v4m6 16v1m0 2v1m13-4v1m4-20v4m2 16v1m7-1v1m0 2v1m1-2v1m7-3v1m1-1v2m10-3v2m1-26v8m6-5v5m9-12v12m12 18v1m6-25v5m11 20v1m1-27v3m0 4v2m0 16v1"/><path stroke="#0000f6" d="M0.5 60v5m0 14v1m1-1v1m4-21v6m0 14v1m2-31v7m1-7v1m1 7v9m1 14v1m1-2v1m1-22v3m0 4v2m1 13v1m1-19v1m4-4v7m3-66v1m2 78v1m1-1v1m1-26v11m0 15v1m1 3v1m1 1v1m2-31v10m0 26v1m0 2v1m3-14v1m0 1v1m1-3v2m2-26v5m2-5v4m0 1v3m2-7v7m4-5v4m2-3v1m3-63v2m1-2v3m2 56v6m1-4v4m1-14v8m0 3v5m0 18v2m6-5v1m1-25v8m6-16v5m0 10v2m1-9v8m4 20v2m4-31v4m0 4v2m1-18v3m6 6v7m1-65v4m1 45v6m5 0v10m3-8v9m1 17v2m1-1v1m2-24v3m0 31v7m2-43v3m0 4v3m1-10v6m1 19v1m5-25v6m1-3v2m1 21v1m1-5v1m3-26v8m2-6v6m1-10v11m1-9v8m1 16v1m6-82v2m1 49v10m1-61v1m2 79v1m0 2v1m1-32v5m0 8v1m1-4v1m5-6v3m0 5v2m1-9v2m2-11v11m5-1v6m1-16v4m0 12v2m3 12v2m1-23v7m1-4v4m2 20v3m1-29v7m2-66v4m0 56v6m1-14v13m1-10v10m0 17v1m0 1v1m4-27v7m0 23v1m2-35v5m0 5v2m2 16v3m6-85v3m0 77v2m1-23v7m2-17v7m1 0v2m0 9v2m0 13v1m2-23v4m1-64v6"/><path stroke="#0003ff" d="M0.5 57v3m0 5v2m1-14v13m1-66v4m0 45v17m3-10v3m0 6v2m2-11v9m1-65v6m0 44v9m1-59v4m0 48v5m0 9v2m0 12v1m1-81v4m0 47v15m2-11v3m0 9v1m1 11v1m1-80v2m0 52v8m0 1v4m0 12v1m2-80v4m0 54v8m2-10v3m0 7v2m2-19v17m1-65v2m1 46v9m0 20v2m1-16v1m0 13v1m1-79v4m1 45v5m0 11v3m0 11v1m1-30v15m0 18v1m1-25v6m1 22v1m1-37v5m0 10v2m0 23v1m1-35v10m1-67v4m0 77v2m1-26v9m0 15v1m0 3v1m1-5v1m1-23v6m1-15v8m0 5v4m0 17v1m2-29v2m0 8v2m0 13v1m1-25v9m1-11v4m0 7v2m1 14v1m1-83v1m0 82v1m1-84v2m0 95v1m1-98v2m0 55v4m0 4v3m1-9v8m1-67v4m0 52v6m0 1v4m1-67v7m0 50v8m2-63v3m0 44v5m1-51v3m1-6v4m1 51v4m0 6v3m1-11v4m0 4v2m0 15v2m1-35v2m0 16v2m0 14v2m3-26v2m0 2v3m1 15v1m1-19v2m1 20v1m1-85v10m0 42v5m0 8v2m1-12v10m2-66v11m0 38v6m2 3v8m1-17v1m0 17v1m1-68v2m0 53v3m0 8v3m1-69v2m1 53v10m1-11v14m1-68v2m0 54v13m0 16v1m0 2v1m1-87v1m0 57v8m1-19v16m1-7v2m0 22v2m1-31v4m0 10v2m1-17v9m1-12v16m1-10v10m1-10v12m2-11v5m0 19v1m0 4v1m1-32v4m0 7v3m0 12v3m1-79v3m1 48v12m1-67v3m0 53v9m1-65v4m1 59v4m2-18v6m0 10v3m0 14v2m1-1v1m1-32v13m1-11v3m0 9v3m1 13v1m0 2v1m1-6v1m1-23v7m1-65v3m0 52v6m0 3v3m0 27v1m0 7v1m1-44v3m0 1v2m0 16v4m1-28v2m0 10v1m1-17v6m0 6v2m1-9v8m0 15v1m1-21v5m3-8v9m1-9v2m0 6v2m1-9v4m0 2v3m1 13v1m1 3v1m1-25v4m1-6v4m1-11v5m0 8v2m1-67v3m0 55v8m0 15v3m1-84v5m0 51v3m0 6v2m1-18v6m0 11v2m1-68v3m0 49v5m0 8v3m0 13v1m0 2v1m1-29v11m0 13v1m0 3v1m2-32v12m1-6v6m1-9v9m1-4v7m1-66v2m1 45v2m0 10v6m1-66v5m1 53v7m1-8v8m0 13v1m1-80v4m0 45v3m0 14v2m1-68v5m0 51v6m0 1v3m3-66v2m0 62v1m1-65v3m0 55v8m0 17v1m1-30v3m0 10v2m1-20v9m0 2v6m1-66v5m0 54v7m0 16v3m1-85v4m0 56v7m1-9v8m1-9v9m2-66v1m1 55v3m0 6v2m0 26v2m1-28v1m1-68v2m0 56v7m1-65v3m1 59v3m0 16v1m1-29v5m0 7v2m1-67v4m0 53v4m0 4v2m1-18v11m1 23v2m1-29v3m0 7v3m0 14v1m2-80v3m0 50v3m0 6v2m0 14v2m1-35v3m0 13v2m0 14v2m1-34v6m0 10v2m1-67v7m0 48v11m1-7v6m2-16v9m0 7v2m0 20v1m1-39v16m1-15v4m0 12v2m1-11v9m1-9v10m0 14v1m4-25v9m1-66v3m0 54v7m1-61v4m0 52v7m0 13v1m0 2v1m1-83v2m0 54v3m0 7v3m2-13v6m0 1v3m0 15v1m1-29v3m0 13v1m0 11v1m0 2v1m1-85v3m1 51v6m0 4v3m1-61v5m1 43v13m1-67v2m2-2v4m1-4v4m0 53v9m1-13v14"/><path stroke="#0038ff" d="M0.5 0v7m0 44v3m1-49v10m0 53v1m1-62v5m0 36v1m0 18v2m1-64v3m0 58v3m1-67v3m0 57v1m0 3v3m1-69v4m0 46v3m1-49v3m0 60v2m1-67v4m0 61v2m1-57v2m0 51v2m1-57v4m1-7v7m0 54v1m1-63v18m0 25v2m0 17v1m1-65v4m0 42v3m1-47v5m0 38v15m0 1v3m1-63v2m0 61v1m1-64v8m0 36v7m0 10v3m1-60v3m0 37v4m1-50v5m0 41v9m0 4v1m0 2v2m1-63v4m0 41v3m1-41v4m0 50v2m1-67v5m0 43v1m0 19v1m1-64v2m0 49v3m0 6v2m1-62v6m0 37v1m0 18v2m1-68v3m0 45v3m0 17v1m1-63v7m0 53v2m1-66v4m0 41v1m0 20v1m0 8v1m1-75v6m0 59v1m0 11v1m1-82v1m0 3v20m0 25v5m0 13v2m1-66v2m0 51v3m0 7v3m0 15v2m1-79v6m0 56v1m0 12v1m0 2v2m0 2v1m1-90v7m0 62v2m0 7v6m1-73v4m0 34v2m0 16v2m0 15v1m1-85v1m0 3v9m0 36v3m0 17v1m0 9v1m1-80v5m0 46v15m0 14v1m0 3v1m1-82v2m0 12v7m0 25v4m0 15v1m1-69v4m0 13v8m0 44v1m0 12v1m0 3v1m1-87v8m0 41v2m0 16v2m0 13v1m1-79v6m0 41v2m0 16v1m0 10v1m1-79v3m0 44v2m0 17v1m1-69v4m0 45v3m0 17v1m0 12v3m0 2v1m1-85v3m0 62v2m0 10v1m1-77v2m0 59v4m0 12v1m0 3v1m1-81v4m0 40v3m0 14v3m1-65v2m0 44v3m0 16v1m1-70v3m0 46v4m0 16v2m0 7v1m1-72v5m0 37v2m0 18v1m0 11v1m0 15v2m0 9v1m1-95v5m0 30v3m0 16v1m0 13v1m1-83v5m0 44v2m0 16v2m1-62v6m0 35v1m0 16v3m0 11v3m0 6v1m1-79v6m0 49v2m1-58v3m0 42v5m0 7v2m0 14v1m0 1v1m0 15v1m0 2v2m1-101v4m0 41v2m0 18v1m1-68v5m0 43v3m0 16v1m0 10v1m0 3v1m1-81v3m0 41v1m0 21v1m0 8v2m1-77v3m0 46v14m1-59v12m0 29v18m0 15v1m0 1v1m1-85v2m0 47v1m0 19v1m0 8v1m0 2v1m1-82v4m0 50v5m0 8v2m0 9v1m0 4v1m1-84v6m0 43v6m0 13v2m0 15v3m1-88v6m0 45v8m0 2v2m0 2v4m0 17v1m1-72v4m0 50v1m1-67v4m0 61v1m0 10v1m0 1v2m1-83v10m0 39v8m0 22v3m1-64v5m0 43v3m0 20v2m1-83v1m0 1v11m0 28v10m0 2v3m0 1v3m0 11v4m1-83v2m0 47v3m0 17v1m1-70v15m0 33v1m0 20v1m0 14v1m0 3v1m1-84v2m0 42v2m0 19v1m1-66v2m0 42v8m0 9v3m1-67v3m0 62v1m1-66v3m0 65v1m0 11v2m1-79v3m0 41v1m0 20v1m0 11v2m0 5v1m1-80v3m0 41v3m0 12v2m1-71v1m0 9v7m0 31v1m0 19v2m0 9v2m0 12v1m1-90v4m0 60v2m0 9v2m0 3v1m0 1v2m1-88v5m0 44v1m0 20v1m1-68v2m0 62v2m1-69v3m0 45v1m0 18v2m0 13v2m1-76v8m0 52v1m1-57v5m0 52v1m1-66v3m0 5v13m0 24v18m0 12v1m1-80v5m0 61v3m1-57v6m0 51v1m0 8v1m0 4v1m0 9v1m1-82v7m0 30v5m0 12v3m0 11v1m0 2v1m1-79v3m0 61v2m1-65v4m0 39v1m0 17v2m1-60v10m0 30v15m0 1v4m1-62v7m0 35v4m0 17v1m0 7v6m1-81v3m0 43v6m0 6v3m0 1v4m1-65v7m0 37v1m0 20v1m0 9v1m0 5v1m1-79v7m0 37v6m0 10v2m0 12v1m0 2v1m1-83v2m0 63v2m1-65v3m0 42v1m0 28v1m0 2v1m1-82v5m0 44v18m0 20v1m1-88v10m0 39v1m0 17v2m0 10v1m0 5v1m1-86v2m0 47v3m0 15v2m0 10v1m1-73v8m0 34v1m0 19v1m0 33v1m1-100v4m0 2v13m0 26v2m0 17v2m0 8v1m1-79v4m0 48v2m0 17v1m0 4v4m1-80v5m0 64v1m1-70v4m0 17v2m0 26v5m0 14v1m0 11v1m0 4v1m1-83v2m0 49v3m0 12v1m0 12v2m1-84v4m0 45v6m0 13v2m0 8v3m1-81v2m0 2v9m0 36v2m0 15v2m0 13v4m1-85v5m0 44v5m0 15v1m0 9v2m1-74v5m0 40v3m0 14v1m1-67v3m0 49v2m0 12v1m0 13v1m1-84v3m0 52v6m0 3v5m0 10v1m1-74v6m0 40v5m0 12v1m1-66v3m0 45v4m0 12v1m0 15v3m1-86v4m0 44v2m0 15v3m1-64v3m0 61v1m1-65v4m0 41v4m0 15v1m0 9v1m0 4v1m1-73v6m0 31v3m0 17v1m0 10v2m0 1v1m1-80v3m0 41v1m0 21v1m0 7v8m1-80v19m0 44v1m0 9v1m1-80v3m0 66v1m0 8v1m1-72v17m0 29v13m1-61v4m0 58v2m1-56v8m0 28v2m0 18v1m0 13v2m1-73v4m0 33v2m0 16v1m0 15v1m1-84v5m0 50v3m0 12v1m0 8v2m1-75v3m0 40v8m0 10v2m1-68v3m0 44v1m0 20v1m0 12v1m1-72v3m0 38v5m0 9v3m0 11v2m1-78v4m0 44v3m0 13v1m0 10v3m1-33v4m0 15v1m0 9v1m1-64v9m0 24v1m0 20v1m1-59v6m0 32v2m0 17v1m0 15v1m1-72v8m0 30v5m0 11v2m0 11v1m1-75v8m0 37v8m0 2v2m0 3v3m1-62v7m0 41v3m0 10v2m0 11v2m0 1v1m1-79v4m0 39v4m0 15v1m0 12v1m1-80v3m0 44v2m0 19v1m0 7v3m1-81v1m0 47v1m0 20v1m0 8v1m0 1v1m1-71v5m0 34v4m0 16v1m0 10v1m1-75v3m0 39v1m0 20v1m1-70v4m0 14v6m0 25v4m0 15v1m1-69v5m0 44v3m0 16v1m1-65v3m0 42v10m0 1v3m0 6v1m0 22v1m1-89v2m0 60v3m0 24v2m1-90v7m0 37v4m0 16v1m0 21v1m1-92v6m0 63v1m1-66v3m0 42v3m0 16v1m1-62v5m0 37v6m0 13v1m0 11v1m0 2v1m1-80v3m0 44v5m0 13v1m0 12v1m1-83v12m0 57v1m0 9v1m0 8v1m1-83v18m0 26v3m0 16v1m0 18v1m1-85v3m0 11v3m0 27v1m0 19v2m0 17v1m0 1v1m1-90v7m0 47v8m0 3v3m0 12v1m1-75v10m0 34v3m0 17v1m0 11v1m0 2v1m1-86v5m0 44v7m0 11v2m1-58v4m0 38v2m0 14v1m0 10v1m1-74v6m0 35v1m0 20v1m0 10v1m1-75v13m0 29v1m0 32v1m1-70v5m0 52v1m1-20v4m0 14v1m0 9v1m1-79v3m0 64v2m1-62v5m0 36v1m0 20v1m0 16v1m1-87v4m0 44v1m0 18v2m1-69v3m0 66v1m1-65v5m0 39v3m0 17v1m0 10v2m1-82v4m0 45v4m0 16v1m0 9v1m0 6v1m1-87v7m0 42v3m0 15v2m0 10v1m0 8v2m1-90v5m0 44v3m0 17v1m0 7v1m1-75v4m0 60v2m1-69v8m0 6v8m0 27v4m0 16v1m0 8v1m1-74v2m0 60v2m0 9v1m1-66v6m0 31v4m0 14v2m0 14v2m1-79v5m0 38v3m0 17v1m1-71v8m0 7v5m0 41v7m1-64v2m0 63v1m0 10v1m0 4v1m1-86v5m0 10v10m0 24v2m0 20v1m0 6v1m0 6v1m1-77v11m0 34v5m0 7v3m1-69v3m0 66v1m0 11v1m1-69v3m0 33v1m0 16v3m1-66v4m0 62v1m0 17v1m1-82v15m0 41v1m0 3v3m0 16v1m0 3v1m1-90v2m0 65v2m0 23v2m1-83v5m0 33v6m0 11v3m1-62v6m0 36v2m0 17v1m0 12v3m1-84v4m0 65v1m0 8v1"/><path stroke="#0052ff" d="M0.5 7v8m0 34v2m1-36v8m0 25v1m1-37v9m1-13v7m0 33v1m1-44v2m0 41v1m0 29v1m1-75v4m0 4v13m0 24v1m1-43v17m0 24v1m1-43v16m1-8v3m0 19v2m0 29v2m0 9v1m1-65v5m0 29v1m0 20v1m1-56v7m0 27v1m1-25v1m1-17v3m0 38v1m0 19v1m1-59v4m0 53v1m1-62v2m0 39v1m1-36v11m1-12v2m1-6v6m0 53v2m1-61v8m0 53v1m1-55v4m0 29v1m0 18v2m1-64v17m1-15v8m0 37v4m0 11v1m1-57v13m0 52v1m1-73v2m0 12v6m0 46v1m0 5v1m1-63v7m0 27v1m0 20v1m0 7v1m1-71v12m0 51v1m1-61v11m0 27v1m0 21v1m0 8v2m1-57v2m0 43v1m0 10v5m1-80v3m0 10v5m0 30v3m0 13v1m0 11v3m1-71v5m0 30v1m0 21v1m0 10v1m0 5v2m1-82v11m0 30v1m0 22v1m0 5v1m1-63v3m0 51v1m0 8v1m1-66v7m0 50v1m0 7v1m0 8v1m1-83v18m0 25v1m0 17v3m0 10v1m1-75v3m0 3v6m0 7v2m0 43v1m1-66v3m0 5v5m0 8v1m0 22v1m0 21v1m0 10v1m0 10v1m0 3v1m1-89v16m0 45v1m0 10v2m0 1v1m0 13v1m1-88v3m0 36v2m0 19v1m1-66v3m0 5v11m0 45v1m1-66v2m0 64v1m0 9v2m1-76v9m0 33v1m0 21v1m0 7v2m1-74v3m0 39v1m0 20v1m0 10v1m1-72v15m0 45v1m1-64v2m0 6v10m0 25v1m0 20v1m0 7v3m0 16v1m1-95v4m0 7v10m0 47v1m0 5v1m0 1v1m1-68v6m0 52v1m0 9v1m0 14v2m1-78v5m0 45v1m0 10v2m0 1v1m0 13v1m1-93v4m0 60v1m1-57v10m0 45v1m0 9v1m0 8v1m0 1v1m1-74v5m0 27v1m0 18v2m1-57v3m0 35v4m0 14v2m0 28v2m0 5v1m0 2v1m1-101v7m0 55v1m0 7v3m1-74v11m0 31v1m0 20v1m0 8v1m1-73v9m0 55v1m0 5v2m0 9v1m0 7v1m1-90v5m0 37v4m0 14v2m1-49v5m0 42v2m0 11v2m0 3v1m1-84v2m0 66v2m0 5v1m0 4v1m0 4v1m0 1v1m1-86v3m0 6v12m0 24v5m0 15v1m0 7v1m1-72v7m0 57v1m0 10v4m1-79v6m0 37v2m0 18v1m0 10v1m1-62v3m0 26v1m0 21v1m0 7v2m0 3v3m1-79v7m0 55v1m0 8v1m1-69v10m0 37v13m0 8v1m0 5v1m1-62v2m0 23v1m0 20v1m0 18v1m0 2v1m1-71v3m0 44v2m0 8v1m0 4v4m1-85v4m0 64v1m0 7v3m1-66v9m0 46v1m0 10v3m1-77v8m1-8v7m0 55v1m1-65v4m0 39v1m0 19v1m1-64v4m0 39v1m0 22v1m0 6v4m0 2v1m1-77v5m0 58v1m0 5v5m1-69v3m0 36v2m0 17v1m0 4v2m0 9v1m1-71v5m0 48v1m0 7v1m0 2v1m0 10v1m0 1v1m1-87v7m0 33v1m0 21v1m0 7v1m0 6v1m0 2v2m0 3v1m1-89v5m0 61v1m0 6v5m1-78v2m0 62v1m0 8v4m0 11v2m1-92v5m0 3v14m0 44v1m0 10v2m1-66v8m0 24v1m0 20v1m1-53v4m0 27v1m0 21v1m0 7v2m1-73v5m0 13v1m0 41v3m0 8v1m0 4v1m1-79v3m0 5v10m0 25v1m0 20v1m0 8v1m0 15v1m1-77v6m0 24v1m0 21v1m0 6v1m0 14v1m1-74v5m0 45v1m0 9v1m0 4v1m1-77v17m0 46v1m0 9v2m1-73v5m0 54v1m1-51v5m0 45v1m1-56v7m0 50v1m0 4v2m1-72v3m0 1v13m0 46v1m0 9v2m1-70v5m0 54v1m0 7v1m1-65v6m0 29v2m0 18v1m0 10v1m1-77v2m0 15v3m0 24v1m0 20v1m1-63v6m0 57v1m0 6v1m0 4v1m1-78v11m0 51v2m0 11v1m0 7v1m1-79v5m0 54v1m0 8v1m1-77v3m0 14v6m0 44v1m0 10v1m1-66v8m0 47v1m0 8v3m0 10v1m1-85v2m0 13v2m0 45v1m1-67v5m0 41v2m0 20v4m1-71v3m0 4v13m0 23v1m0 21v1m1-67v2m0 10v5m0 2v2m0 44v1m0 9v1m1-75v2m0 44v3m0 16v1m0 7v4m0 2v1m1-81v4m0 62v1m0 10v1m1-69v5m0 17v3m0 10v1m0 19v1m0 11v1m0 4v2m1-82v6m0 59v1m0 7v1m0 2v1m0 6v1m1-77v4m0 34v2m0 18v1m1-65v2m0 45v2m0 15v1m0 11v1m1-80v3m0 42v1m0 12v3m0 5v2m0 5v3m1-67v5m0 32v3m0 18v1m0 9v1m0 5v1m1-80v8m0 34v3m0 17v1m0 12v2m0 3v1m1-83v2m0 62v1m1-62v17m0 23v1m0 21v1m0 8v1m0 7v2m1-80v15m0 25v1m0 20v1m0 7v1m1-61v5m0 47v1m0 8v1m0 4v1m1-78v16m1 2v1m0 22v1m0 21v1m0 7v1m1-76v3m0 9v9m0 24v1m0 21v1m0 5v2m0 7v1m1-62v2m0 22v1m0 17v3m0 11v7m1-78v9m0 30v1m0 20v1m1-49v3m0 46v1m0 14v1m1-70v4m0 48v1m0 13v1m1-78v3m0 44v3m0 16v1m0 6v1m0 2v2m1-74v10m0 50v1m0 13v2m1-81v2m0 64v1m0 9v2m0 2v1m1-71v4m0 31v3m0 17v1m0 9v1m0 2v1m1-75v7m0 34v3m0 17v1m0 8v1m0 3v1m1-83v18m0 51v1m1-46v1m1-8v5m0 47v1m0 12v1m1-62v4m0 24v2m0 18v1m0 9v1m0 4v1m1-71v7m0 28v2m0 18v1m0 21v1m1-78v7m0 30v4m0 15v1m0 8v2m1-71v11m0 48v1m0 10v1m0 4v1m1-81v2m0 10v7m0 47v1m0 5v1m0 6v2m1-85v7m0 2v14m0 46v1m0 10v1m1-67v4m0 51v1m0 7v2m0 6v1m1-78v9m0 52v2m0 5v12m1-85v4m0 3v7m0 6v2m0 43v1m0 12v1m1-78v15m0 49v1m0 10v3m1-76v16m0 47v1m0 6v2m0 12v1m1-86v2m0 4v12m0 24v1m0 20v1m0 21v2m1-81v9m0 49v1m1-65v18m0 46v1m0 19v2m0 1v1m1-87v18m0 44v1m0 9v3m1-70v5m0 52v1m0 9v1m1-73v4m0 38v2m0 19v1m0 6v1m1-66v7m0 29v1m0 21v1m0 7v1m0 1v1m0 6v1m0 1v1m1-66v1m0 24v1m0 20v1m0 16v1m1-81v11m0 3v4m0 45v1m1-64v9m0 33v5m0 14v1m0 10v1m1-64v8m0 25v1m0 21v1m0 9v1m1-77v7m0 57v1m1-55v4m0 32v2m0 17v1m0 7v2m0 5v3m1-75v6m0 51v1m1-52v6m0 44v1m1-53v3m0 28v1m0 21v1m0 8v5m1-84v7m0 42v1m0 19v1m0 12v1m1-80v9m0 36v1m0 20v1m0 8v2m1-68v5m0 53v1m0 7v5m0 6v1m1-86v10m0 55v1m0 18v1m1-86v3m0 42v1m0 21v1m0 7v2m1-70v5m0 55v1m0 8v1m0 2v1m1-79v4m0 62v1m0 7v1m0 8v2m1-82v16m0 46v1m0 8v1m0 1v1m0 3v1m0 5v1m1-86v9m0 21v3m0 32v2m0 4v1m0 3v1m1-74v6m0 35v1m0 20v1m0 8v2m0 3v2m1-77v6m0 8v3m0 57v1m1-76v3m0 38v1m0 20v1m0 11v1m1-63v5m0 25v1m0 27v1m1-66v5m0 32v1m0 21v1m0 13v3m1-80v7m0 5v5m0 23v1m0 19v2m1-64v5m0 59v1m0 7v2m1-75v10m0 10v2m0 45v1m0 3v2m1-58v5m0 24v5m0 15v1m1-67v2m0 43v1m0 21v1m0 8v2m0 1v1m1-67v3m0 50v1m1-63v15m0 26v1m0 21v1m0 15v1m0 1v1m1-68v4m0 23v1m0 20v1m0 14v1m1-83v3m0 43v1m0 20v1m0 21v1m0 2v1m1-79v5m0 48v1m1-57v7m0 49v1m0 9v2m1-77v4m0 40v1m0 21v2m0 5v1m0 5v1"/><path stroke="#006cff" d="M0.5 15v7m0 47v1m1-47v2m0 44v1m1-49v4m0 44v1m1-55v5m0 49v1m1-63v11m0 51v1m1-62v4m0 13v1m0 43v1m1-46v2m0 43v1m1-48v3m0 22v1m0 21v1m1-53v3m0 15v1m0 2v3m0 6v1m1-29v5m1-3v4m0 44v1m1-45v2m0 21v1m0 20v1m1-59v4m0 21v1m1-22v3m0 30v1m1-40v10m0 50v1m1-46v2m0 22v1m0 20v1m1-56v3m0 31v1m0 20v1m1-56v6m0 28v1m1-33v7m0 25v1m1-30v4m1-1v3m0 44v1m1-55v9m0 25v3m0 16v1m0 9v1m1-55v3m0 8v5m0 29v1m1-64v3m0 1v8m0 6v2m0 22v1m0 22v1m1-51v4m0 45v1m0 5v1m1-58v6m0 46v1m0 5v1m1-57v4m0 46v1m0 5v2m1-53v1m0 21v1m0 21v1m0 8v1m1-72v10m0 5v2m0 25v3m0 17v1m0 8v2m1-63v4m0 49v1m0 8v1m1-63v6m0 48v1m0 2v2m0 7v1m1-67v3m0 14v4m0 9v1m0 21v1m0 6v1m0 7v1m1-66v5m0 23v1m0 22v1m0 5v1m1-55v2m0 44v1m0 8v1m1-71v3m0 15v1m0 21v1m0 21v1m0 8v2m1-74v5m0 14v2m0 43v1m0 8v1m0 6v1m0 3v1m0 1v1m0 1v1m1-72v2m0 22v1m0 21v1m0 7v2m1-67v4m0 54v1m0 7v1m0 6v1m0 7v3m1-89v5m0 11v2m0 22v1m0 21v1m1-65v5m0 37v1m0 22v1m0 6v2m0 8v1m1-74v9m0 47v1m0 5v1m1-69v13m0 1v1m0 11v4m0 31v1m0 7v2m0 6v3m1-65v3m0 21v1m0 21v1m0 7v5m1-75v6m0 10v2m0 45v1m0 5v1m0 3v1m1-75v7m0 10v2m0 22v1m0 23v1m0 3v1m0 8v2m0 8v1m1-78v5m0 25v1m0 22v1m0 7v1m0 4v1m0 6v2m0 1v1m1-71v2m0 22v1m0 21v1m0 8v1m0 8v1m1-80v9m0 30v1m0 21v1m0 9v5m1-62v2m0 44v1m0 12v1m1-62v3m0 45v1m0 16v2m0 3v2m1-78v4m0 30v1m0 20v1m0 10v1m0 3v1m0 20v2m1-93v7m0 26v1m0 22v1m0 5v1m0 3v2m1-65v7m0 46v1m0 6v1m0 6v3m0 8v1m1-81v8m0 48v1m0 3v1m0 18v1m1-84v4m0 53v1m0 9v6m1-60v2m0 21v1m0 20v1m0 9v1m1-76v2m0 42v1m0 23v1m0 3v1m0 6v2m1-78v6m0 12v2m0 43v2m0 4v1m0 10v2m1-76v6m0 29v1m0 22v1m0 6v3m0 7v1m1-77v5m0 53v1m0 8v1m1-58v3m0 46v1m0 5v1m0 2v1m1-67v7m0 27v1m0 21v1m0 6v1m0 5v1m1-64v5m0 23v1m0 21v1m0 5v2m1-53v1m0 44v1m1-47v2m0 22v1m0 21v1m0 16v1m1-82v18m0 24v1m0 22v1m0 5v1m0 3v3m1-60v2m0 21v1m0 23v1m0 6v3m0 8v1m1-75v9m0 11v2m0 11v1m0 22v1m0 6v5m1-69v8m0 26v1m0 21v1m0 7v2m1-71v10m0 50v1m1-61v15m0 48v1m0 3v2m1-65v5m0 30v1m0 23v1m0 2v2m1-61v3m0 30v3m0 20v1m0 2v1m0 2v6m0 2v1m0 1v1m1-67v3m0 46v1m0 5v1m1-63v6m0 50v1m0 4v2m0 12v3m1-83v3m0 35v1m0 23v1m0 3v2m0 5v1m1-77v16m0 24v1m0 22v1m0 6v1m0 4v1m0 9v1m1-85v3m0 14v2m0 43v1m0 7v2m0 4v1m1-61v2m0 44v1m0 8v2m0 4v1m1-65v4m0 46v1m0 5v1m0 2v1m1-55v2m0 20v1m0 21v1m0 6v1m1-70v5m0 10v3m0 44v1m0 15v1m0 6v1m1-70v3m0 7v5m0 32v1m0 4v1m0 14v1m1-68v2m0 22v1m0 21v1m0 7v1m0 6v1m0 8v1m1-70v1m0 21v1m0 24v1m0 3v5m0 2v1m1-69v5m0 28v1m0 33v2m1-60v2m0 22v1m0 21v1m0 7v3m1-60v3m0 24v1m0 23v4m0 8v1m1-76v1m0 13v2m0 23v1m0 21v1m0 6v2m0 2v1m1-66v5m0 50v1m0 5v1m0 8v1m1-67v5m0 45v1m0 7v2m0 5v1m1-80v15m0 3v2m0 9v3m0 32v1m0 8v2m1-68v8m0 27v1m0 22v1m0 4v1m1-61v9m0 23v1m0 20v1m0 8v2m1-65v4m0 29v1m0 21v1m0 6v1m1-73v2m0 6v6m0 6v2m0 8v3m0 10v1m0 21v1m0 7v1m0 2v1m1-59v3m0 22v1m0 22v1m0 6v1m0 3v1m0 21v1m1-80v2m0 21v1m0 22v1m0 5v1m0 8v1m1-78v15m0 11v2m0 12v1m0 30v1m1-73v4m0 13v1m0 45v1m1-66v2m0 3v5m0 9v1m0 22v1m0 21v1m0 7v1m1-72v6m0 36v2m0 20v1m0 4v2m0 7v1m1-78v9m0 54v1m0 5v1m0 4v1m1-65v6m0 10v1m0 3v2m0 29v1m0 9v1m1-69v13m0 24v1m0 22v2m0 3v2m0 4v1m0 4v1m0 1v2m1-75v3m0 30v1m0 21v1m0 5v3m1-72v4m0 39v2m0 18v1m0 5v1m0 3v1m0 2v1m1-79v10m0 55v1m0 3v1m1-59v4m0 50v1m0 5v3m1-65v9m0 46v1m0 8v3m0 6v1m1-82v7m0 34v1m0 39v1m1-64v2m0 51v1m0 1v1m0 5v1m0 2v1m1-66v2m0 51v1m0 7v1m1-63v2m0 23v1m0 22v1m0 6v1m1-56v2m0 46v1m0 4v2m0 8v1m1-61v2m0 8v1m0 34v1m0 5v1m0 7v1m1-80v9m0 9v2m0 45v2m1-47v1m0 42v1m0 9v1m0 7v1m1-70v6m0 46v1m1-47v2m0 22v1m0 22v1m0 10v1m1-63v4m0 24v1m0 20v1m0 11v1m0 2v1m1-77v16m0 25v3m0 20v2m0 2v2m0 5v1m1-65v5m0 24v1m0 21v2m0 5v3m1-74v2m0 10v5m0 48v1m0 5v3m1-62v3m0 49v1m0 12v1m1-69v6m0 49v1m0 6v1m0 5v1m1-66v7m0 23v1m0 21v1m0 6v1m0 7v1m1-61v2m0 43v1m0 8v5m1-62v4m0 22v1m0 21v1m0 10v1m0 3v1m1-61v2m0 43v1m0 6v2m0 6v1m1-65v3m0 46v1m0 7v8m0 4v1m0 1v3m1-74v4m0 24v2m0 20v1m0 6v1m1-58v5m0 22v1m0 21v1m0 8v1m1-73v10m0 7v2m0 22v1m0 23v1m0 3v1m0 4v1m0 1v1m0 2v1m1-79v2m0 14v2m0 45v1m0 5v1m1-59v5m0 24v1m0 22v1m0 5v1m1-60v6m0 23v1m0 24v1m0 3v1m0 12v1m1-82v3m0 15v2m0 20v1m0 21v1m0 9v2m0 1v1m1-64v5m0 23v1m0 21v1m0 7v2m0 3v1m1-61v2m0 23v1m0 22v2m0 2v2m0 2v1m1-72v4m0 12v2m0 44v1m0 12v1m1-63v4m0 23v1m0 29v2m1-56v3m0 7v7m0 6v1m0 23v1m0 7v3m0 10v1m1-68v2m0 21v1m0 21v1m0 7v1m0 3v3m1-68v5m0 26v1m0 21v1m0 6v2m1-68v5m0 55v1m0 4v1m1-58v5m0 47v1m0 5v1m0 3v1m0 1v2m1-60v2m0 44v1m0 6v2m0 6v1m1-62v3m0 7v2m0 34v1m0 5v4m0 9v1m1-75v7m0 46v1m0 8v1m1-55v2m0 51v4m0 5v1m1-75v13m0 23v1m0 21v1m0 8v2m1-62v3m0 27v2m0 20v1m0 5v1m1-59v5m0 55v1m0 4v1m0 1v2m1-63v2m0 43v1m0 9v1m0 5v1m1-67v4m0 47v1m0 5v2m0 5v2m1-79v9m0 54v1m0 6v1m1-66v12m0 46v2m0 5v1m0 2v1m1-64v4m0 15v1m0 34v1m0 5v1m0 5v1m1-70v10m0 46v1m0 8v4m0 4v1m1-82v19m0 46v1m0 8v1m0 4v2m1-72v4m0 29v1m0 29v1m1-71v18m0 9v2m0 11v1m0 22v1m0 5v1m1-55v3m0 9v2m0 11v1m0 21v1m0 6v1m0 3v1m1-68v11m0 9v1m0 3v2m0 8v1m0 23v1m0 2v1m1-63v7m0 50v1m0 6v1m1-53v2m0 21v1m0 21v1m0 6v1m0 16v1m1-85v9m0 51v1m0 6v1m1-54v2m0 44v1m0 15v1m1-70v5m0 13v3m0 38v6m0 1v2m0 3v1m1-64v2m0 43v1m1-60v9m0 27v1m0 23v1m0 5v1m1-51v2m0 6v2m0 11v1m0 24v1m0 1v1m1-51v2m0 43v1m0 11v3m1-80v3m0 27v2m0 34v1m0 6v1m1-60v2m0 27v1m0 21v1m1-49v3m0 46v1m0 5v3m1-55v2m0 43v2m0 5v2m0 11v1m1-86v3m0 5v12m0 45v1m1-50v4m0 23v1m0 21v1m1-51v5m0 23v1m0 21v1m0 7v1m1-71v8m0 56v1m0 3v1"/><path stroke="#0086ff" d="M0.5 22v4m0 10v1m0 11v1m1-24v2m1-2v2m0 9v3m0 8v1m1-28v5m0 11v2m0 9v1m0 30v1m1-61v8m0 9v6m1-15v2m0 20v1m1-23v1m0 51v1m1-54v2m0 19v1m0 31v1m1-59v2m0 1v1m0 10v1m0 6v6m0 22v1m1-46v2m0 9v4m1-14v1m0 21v1m1-21v1m0 50v1m1-64v3m0 17v1m0 1v3m0 8v1m0 29v1m1-61v3m0 48v1m1-51v5m1 2v2m0 7v4m0 39v1m1-62v2m0 59v1m1-59v5m0 10v3m0 31v1m0 8v1m1-56v3m1-3v3m0 43v1m0 8v1m1-54v2m0 9v4m0 7v1m1-24v1m1 2v2m0 4v2m0 5v2m0 5v1m1-39v1m0 16v2m0 7v4m0 33v2m0 1v1m1-51v1m0 21v1m0 23v1m1-47v2m0 9v2m0 9v1m0 24v1m0 3v1m1-52v2m0 20v1m0 24v1m0 3v1m1-50v2m0 42v1m0 6v1m1-54v1m0 23v1m0 21v1m0 5v2m1-57v3m0 47v1m0 5v2m1-56v2m0 47v2m1-54v6m0 6v2m0 4v2m0 30v1m1-47v2m0 45v1m0 3v1m0 11v1m1-64v2m0 43v1m0 25v1m1-70v1m0 43v1m0 6v1m0 2v1m1-54v1m0 18v1m0 30v2m0 8v3m0 3v1m1-69v2m0 43v1m0 5v1m0 18v1m1-80v4m0 27v1m0 23v1m0 4v2m1-53v2m0 43v1m0 11v3m1-75v9m0 52v1m0 3v2m1-54v3m0 8v5m0 7v1m0 24v1m0 2v2m0 7v1m0 12v1m1-76v1m0 1v3m0 6v2m0 4v3m0 5v1m0 23v1m0 5v1m0 11v1m0 6v1m1-70v2m0 5v5m0 32v1m0 5v1m0 5v2m0 11v1m1-71v2m0 20v1m0 23v2m0 2v1m0 5v1m1-57v2m0 45v3m0 4v1m0 3v1m0 2v1m1-65v2m0 47v1m0 4v2m0 11v1m0 2v1m1-68v2m0 8v1m0 34v1m0 5v2m0 5v1m0 2v1m0 8v1m1-79v6m0 47v1m0 4v4m0 5v1m0 11v1m1-73v2m0 20v1m0 22v1m0 6v1m0 8v1m0 3v1m1-67v2m0 44v1m0 8v2m0 12v1m1-75v2m0 27v1m0 22v1m0 8v1m0 16v1m1-76v3m0 47v1m0 3v1m0 20v1m1-73v2m0 8v3m0 10v1m0 23v1m0 4v1m0 10v1m0 6v1m1-72v3m0 9v3m0 8v1m0 25v3m0 13v1m1-74v5m0 14v2m0 11v1m0 21v1m0 7v1m0 6v2m1-60v2m0 6v3m0 32v1m0 6v2m1-73v2m0 4v13m0 48v3m0 9v2m1-60v2m0 5v4m0 10v1m0 23v1m0 2v1m0 8v1m1-66v5m0 48v1m0 3v2m1-61v4m0 27v1m0 22v1m0 5v2m0 8v1m1-63v2m0 45v1m0 3v1m0 4v2m0 3v1m1-66v4m0 46v1m1-47v2m0 44v1m0 3v1m0 9v1m1-60v1m0 44v1m0 6v3m0 11v1m1-67v1m0 44v1m0 5v1m1-54v2m0 46v1m0 3v1m0 7v1m1-59v2m0 7v5m0 37v1m1-54v3m0 7v1m0 2v3m0 32v2m0 2v2m0 5v2m1-63v4m0 45v1m0 4v2m1-59v6m0 45v1m1-47v2m0 47v3m0 9v1m1-68v6m0 49v2m1-56v2m0 52v2m0 9v2m0 3v1m1-65v2m0 9v1m0 10v1m0 24v1m0 3v1m0 5v1m1-62v4m0 47v1m0 2v1m1-63v3m0 57v3m0 8v1m1-62v3m0 10v1m0 9v1m0 24v2m0 3v1m0 14v1m1-65v2m0 7v2m0 9v1m0 23v1m0 5v1m1-52v2m0 7v4m0 32v1m0 5v2m0 2v4m0 1v1m1-62v3m0 6v6m0 32v1m0 3v1m0 4v1m1-54v1m0 42v1m0 4v1m1-51v2m0 7v2m0 40v1m1-51v3m0 3v1m0 5v2m0 31v1m0 2v1m1-50v2m0 7v3m0 33v1m0 5v1m0 8v1m1-61v2m0 18v1m0 26v3m1-56v4m0 46v1m0 10v1m0 2v1m1-59v2m0 43v1m0 5v1m1-54v2m1-1v2m0 44v1m0 4v1m1-56v3m0 23v1m0 24v1m0 3v1m0 10v1m1-63v2m0 9v1m0 11v1m0 22v1m0 4v2m1-52v3m0 4v2m0 3v3m0 6v1m0 23v1m0 6v1m0 2v1m1-61v4m0 47v2m0 1v1m1-51v2m0 43v2m0 5v1m1-59v4m0 48v1m0 4v1m0 9v1m1-80v6m0 14v3m0 3v2m0 3v3m0 30v1m0 5v1m0 16v1m1-69v2m0 7v3m0 34v1m0 4v1m1-51v2m0 43v1m0 3v1m1-53v4m0 6v1m0 2v2m0 9v1m1-23v2m0 7v2m0 35v1m1-65v3m0 15v1m0 44v1m0 4v2m1-65v11m0 11v2m0 35v2m0 1v1m1-59v7m0 24v1m0 23v1m0 3v1m1-53v6m0 2v2m0 6v2m0 28v1m0 7v1m0 8v1m1-64v2m0 9v2m0 36v1m0 1v1m0 15v1m1-73v3m0 50v1m0 3v1m1-65v4m0 33v2m0 21v2m0 1v2m0 1v3m1-65v8m0 48v3m0 13v1m1-68v4m0 11v1m0 11v1m0 23v5m1-53v3m0 8v3m0 10v1m0 22v1m0 5v2m1-65v8m0 48v1m0 8v2m0 8v1m1-63v2m0 5v6m0 31v1m0 5v1m1-52v2m0 20v1m0 22v1m1-47v2m0 50v1m0 7v1m1-61v2m0 20v1m0 24v2m0 1v1m1-48v2m0 4v2m0 1v3m0 32v1m0 3v1m1-51v2m0 45v3m1-49v1m0 42v1m0 7v1m1-55v2m0 45v1m0 8v4m1-58v1m0 45v1m0 3v3m0 1v2m0 4v1m1-63v2m0 44v1m0 9v1m1-57v2m0 48v2m1-52v2m0 46v1m0 3v1m0 3v1m0 4v1m0 8v1m1-87v10m0 5v2m0 22v1m0 24v2m0 1v2m0 8v1m1-65v4m0 23v1m0 22v1m0 6v1m1-58v4m0 10v3m0 10v1m0 22v1m0 4v1m1-52v2m0 8v3m0 33v1m0 4v1m0 17v1m1-68v2m0 18v1m0 23v1m0 6v1m0 5v1m1-59v2m0 6v5m0 32v1m0 8v1m0 5v1m1-60v2m0 6v2m0 11v1m0 22v1m0 4v1m0 9v2m1-64v2m0 22v1m0 22v1m0 5v1m1-53v2m0 8v2m0 35v1m0 4v1m0 16v1m1-69v2m0 6v5m0 32v1m0 6v1m0 7v1m1-61v2m0 7v3m0 35v1m0 1v1m0 6v1m0 4v3m1-64v1m0 20v1m0 24v1m0 3v1m0 5v1m0 1v2m1-62v2m0 46v1m0 3v1m1-53v2m0 47v3m1-48v2m0 4v5m0 32v1m0 6v2m0 4v1m0 2v1m1-63v2m0 8v2m0 34v1m0 5v1m1-53v2m0 46v2m0 5v1m0 9v1m1-65v2m0 43v1m0 18v1m1-66v3m0 6v5m0 32v1m0 5v1m0 2v1m0 9v1m1-64v3m0 3v1m0 7v6m0 30v2m0 6v2m0 2v1m1-63v2m0 5v5m0 32v1m0 13v1m1-64v4m0 9v2m0 34v1m0 4v1m0 7v4m1-72v5m0 14v2m0 11v1m0 23v1m0 2v1m1-52v2m0 46v1m0 9v1m0 2v2m0 3v1m1-64v2m0 19v1m0 23v1m0 3v2m0 2v1m1-53v2m0 4v1m0 2v4m0 6v1m0 24v1m0 3v1m0 4v1m0 4v1m1-64v3m0 22v1m0 21v1m1-45v2m0 20v1m0 23v2m0 2v1m1-52v3m0 6v5m0 32v1m0 5v2m0 2v2m0 2v3m1-66v3m0 51v1m0 11v1m1-65v2m0 21v1m0 23v1m0 6v1m0 6v1m1-59v2m0 6v5m0 7v1m0 23v1m1-48v2m0 46v1m0 3v1m0 9v1m1-71v8m0 24v1m0 22v1m0 11v2m1-61v2m0 46v1m0 3v1m0 9v3m1-68v5m0 8v2m0 1v4m0 6v1m0 24v1m0 3v1m0 7v2m1-62v3m0 20v1m0 23v1m0 6v1m0 10v1m1-65v2m0 20v1m0 29v1m0 6v1m0 2v1m1-69v5m0 47v1m0 5v1m0 5v1m1-58v3m0 5v1m0 2v3m0 32v1m0 3v1m0 12v1m1-64v3m0 5v1m0 2v3m0 31v2m0 3v1m0 6v1m0 7v1m1-67v5m0 3v1m0 6v2m0 31v2m0 6v1m0 1v3m1-66v5m0 46v1m0 4v1m0 3v1m0 1v1m1-56v2m0 42v1m0 4v1m1-58v6m0 46v1m0 10v1m1-57v2m0 7v2m0 11v1m0 22v1m0 4v1m0 10v1m1-66v5m0 6v2m0 3v2m0 8v1m0 23v2m0 1v1m0 6v1m1-56v2m0 6v5m0 7v1m0 23v1m0 22v1m1-75v5m0 21v1m0 25v2m0 1v2m1-48v2m0 2v2m0 2v3m0 34v1m0 11v1m1-60v1m0 7v2m0 11v1m0 22v1m0 5v5m0 3v1m1-78v18m0 8v1m0 2v3m0 32v1m0 4v1m1-57v3m0 54v7m1-60v2m0 45v1m0 2v2m0 3v1m0 4v1m1-59v2m0 5v6m0 32v1m0 3v1m0 2v1m0 14v1m1-87v5m0 12v2m0 44v1m0 5v3m0 10v1m1-66v2m0 8v2m0 34v1m0 6v2m0 8v3m1-66v2m0 8v3m0 33v1m0 5v1m0 6v1m1-69v8m0 11v4m0 8v1m0 25v3m0 18v1"/><path stroke="#00a0ff" d="M0.5 26v2m0 7v1m0 1v3m0 38v1m1-52v1m0 19v1m0 30v1m1-52v1m0 7v1m0 3v4m0 2v2m0 31v1m1-54v2m0 8v1m0 2v4m0 4v1m1-21v2m0 6v1m0 6v2m0 4v1m1-20v1m0 6v5m0 38v1m1-52v1m0 19v1m0 22v1m1-44v1m0 7v11m1-24v1m0 1v4m0 5v1m1-8v2m0 6v1m0 4v3m0 5v1m0 22v1m1-45v2m0 8v5m1-13v1m0 18v1m0 22v1m1-53v2m0 14v1m0 5v2m0 28v1m1-50v4m1-1v2m0 21v1m0 30v1m1-51v1m0 5v1m0 4v2m1-22v3m0 14v3m0 31v1m1-46v3m0 10v3m1-15v2m0 7v5m0 30v1m0 7v1m1-53v1m0 9v3m0 8v1m1-21v2m0 6v1m0 4v3m0 2v2m0 31v1m1-54v2m0 21v1m0 20v1m1-41v2m0 1v1m0 9v5m0 23v1m1-43v2m0 3v2m0 4v2m0 6v1m0 26v1m1-49v2m0 44v4m1-49v2m0 5v2m0 2v5m0 2v2m0 26v3m1-49v2m0 6v6m0 5v1m0 26v3m1-47v1m0 4v5m0 33v1m0 4v1m1-52v2m0 44v1m0 3v1m1-52v2m0 20v1m0 25v1m0 2v2m1-52v3m0 6v5m0 7v1m1-21v4m0 1v1m0 8v2m0 4v1m0 24v1m0 3v1m0 9v1m1-60v2m0 6v4m0 34v3m1-49v2m0 6v5m0 7v1m0 23v1m0 5v1m1-50v2m0 42v1m0 4v1m0 4v3m0 11v1m1-68v1m0 4v7m0 5v1m0 25v2m0 2v2m1-50v1m0 18v1m0 24v1m0 3v1m0 7v1m1-64v3m0 49v1m0 2v1m0 16v1m1-66v1m0 6v3m0 9v1m0 24v1m0 4v6m0 3v2m1-68v5m0 10v3m0 35v3m1-49v3m0 3v2m0 5v3m0 3v1m0 26v2m0 20v2m1-70v4m0 1v1m0 9v5m0 25v1m0 3v1m1-48v2m0 2v1m0 5v3m0 5v1m0 24v1m0 3v1m0 8v1m1-58v2m0 5v3m0 36v2m0 14v3m1-65v2m0 4v6m0 43v1m0 4v1m1-64v3m0 45v1m0 1v2m1-49v2m0 4v2m0 1v4m0 6v1m0 24v1m0 3v1m0 9v1m0 8v1m1-72v2m0 21v1m0 24v2m0 1v1m0 14v1m1-64v2m0 7v1m0 9v1m0 24v1m0 4v1m0 6v1m1-58v2m0 19v1m0 23v1m0 5v2m0 2v1m0 3v1m0 2v1m0 1v1m0 3v1m1-74v4m0 10v2m0 35v1m0 4v3m0 16v1m1-72v3m0 7v3m0 35v1m0 1v1m0 7v2m0 11v1m1-70v3m0 3v2m0 3v3m0 32v1m0 1v2m1-50v2m0 5v2m0 3v8m1-26v5m0 8v1m0 2v3m0 31v1m0 5v1m0 9v1m1-59v2m0 2v2m0 3v3m0 30v1m0 4v1m0 9v1m1-79v4m0 13v3m0 7v5m0 7v1m1-19v2m0 1v2m0 4v2m0 33v2m0 11v1m1-63v3m0 8v4m0 34v3m0 13v2m1-70v5m0 9v4m0 33v2m0 1v2m1-50v1m0 19v1m0 25v3m1-51v2m0 9v1m0 10v1m0 24v1m0 3v1m0 7v1m1-58v2m0 5v6m0 7v1m0 24v3m0 17v2m1-67v2m0 18v1m0 24v1m0 3v2m0 3v1m0 5v1m1-61v2m0 43v1m0 3v1m1-51v2m0 7v3m0 35v3m0 9v1m1-58v2m0 3v2m0 5v7m0 25v1m0 3v1m0 13v1m1-64v3m0 3v1m0 6v2m0 5v1m0 26v2m0 9v4m1-63v2m0 7v3m0 34v2m0 1v1m0 4v1m0 8v2m1-66v2m0 8v5m0 7v1m0 23v1m0 8v2m1-56v3m0 6v6m0 6v1m1-24v3m0 7v7m0 6v1m1-27v4m0 23v1m1-22v2m0 5v2m0 1v6m0 2v2m0 26v3m1-51v3m0 7v6m0 6v1m0 25v2m1-59v3m0 16v5m0 7v1m1-22v2m0 6v2m0 1v9m0 27v3m0 7v1m1-55v1m0 3v3m0 2v5m0 2v2m0 25v1m0 3v1m1-49v2m0 3v2m0 4v3m0 5v1m0 24v1m0 3v1m1-49v2m0 3v1m0 6v2m0 5v1m0 25v3m1-47v2m0 2v7m0 32v1m0 2v1m0 8v1m1-57v2m0 4v1m0 2v5m0 5v1m0 23v1m1-42v3m0 8v2m0 4v1m0 25v2m0 9v1m0 5v1m1-63v2m0 3v2m0 3v3m0 31v1m0 3v1m0 10v1m1-60v2m0 5v11m0 38v1m0 3v2m1-66v2m0 21v1m0 23v1m0 6v3m1-53v2m0 4v6m0 32v1m0 3v1m0 4v1m0 4v2m1-62v2m0 7v2m1-10v2m0 6v4m0 8v1m0 24v2m0 1v1m0 6v1m1-59v3m0 19v1m0 26v3m1-49v2m0 5v2m0 1v3m0 32v2m0 1v1m1-47v2m0 1v1m0 8v3m0 1v2m0 30v1m0 4v1m0 6v1m1-65v1m0 21v1m0 26v1m0 8v1m1-57v2m0 6v4m0 33v1m0 3v1m0 12v1m1-67v3m0 21v1m0 24v4m1-46v3m0 8v1m0 5v1m0 24v1m0 9v1m0 10v1m1-66v2m0 3v2m0 3v3m0 6v1m0 25v1m0 2v1m0 6v1m0 21v1m1-77v1m0 4v6m0 7v1m0 25v3m1-48v3m0 1v2m0 5v2m0 40v1m1-54v2m0 3v2m0 2v4m0 6v1m0 25v1m0 1v9m1-57v2m0 43v2m0 1v1m0 10v1m1-63v3m0 7v1m0 2v2m0 9v1m0 25v1m1-51v2m0 47v3m0 7v1m1-54v2m0 10v2m0 3v1m0 23v1m0 5v1m1-52v3m0 5v1m0 2v4m0 33v1m0 8v1m0 8v1m1-71v3m0 23v1m0 24v3m0 4v1m1-65v4m0 14v5m0 35v1m1-51v3m0 9v1m0 10v1m1-23v3m0 6v2m0 1v3m0 47v1m1-61v2m0 4v2m0 3v2m0 32v2m0 2v1m0 12v1m1-68v4m0 9v3m0 9v1m0 23v1m0 6v1m0 2v1m0 5v1m0 2v1m1-62v2m0 1v2m0 6v3m0 4v1m0 24v1m0 8v1m0 3v1m0 4v1m1-63v1m0 6v2m0 35v2m0 2v1m1-50v2m0 6v3m0 34v2m0 2v1m1-50v1m0 46v1m0 12v1m1-58v4m0 6v3m0 4v1m0 25v1m0 1v1m0 14v1m1-63v2m0 5v5m0 7v1m0 38v1m1-59v2m0 17v1m0 23v1m0 5v1m0 10v1m1-63v1m0 20v1m0 29v3m0 4v2m1-59v2m0 18v1m0 25v3m0 3v1m0 11v2m1-67v3m0 6v5m0 7v1m0 23v1m0 7v1m1-54v2m0 20v1m0 35v1m0 3v2m1-64v2m0 45v3m0 5v2m0 9v2m1-69v2m0 18v2m0 27v1m0 11v1m1-62v2m0 8v4m0 33v1m0 4v1m0 6v3m1-62v3m0 6v1m0 3v2m0 32v1m1-46v3m0 3v2m0 3v3m0 31v1m0 20v1m1-65v1m0 4v8m0 3v2m0 25v1m0 4v1m1-50v2m0 3v1m0 5v3m0 5v1m0 24v1m0 5v2m0 14v1m1-66v1m0 3v2m0 2v3m0 32v1m0 2v1m0 12v1m1-63v2m0 44v2m0 1v2m1-50v3m0 3v2m0 2v3m0 8v1m0 24v4m0 8v1m1-58v3m0 2v1m0 5v2m0 31v1m0 4v1m1-50v2m0 3v2m0 3v3m0 6v1m0 26v1m0 15v1m1-64v2m0 17v1m0 26v1m0 1v1m0 10v1m1-61v1m0 46v3m1-50v2m0 7v8m0 1v3m1-17v4m0 5v2m0 31v1m0 4v1m0 8v1m0 1v1m0 5v1m1-68v3m0 4v1m0 2v4m0 6v1m0 24v1m0 3v1m0 7v1m0 8v1m1-67v1m1 0v1m0 18v1m0 24v1m0 3v7m1-55v3m0 2v1m0 5v2m0 31v1m0 3v1m0 4v1m1-52v3m0 39v1m0 3v1m0 5v1m0 1v1m0 2v2m1-60v2m0 1v2m0 5v2m0 31v1m0 4v1m0 8v1m1-61v3m0 5v1m0 2v3m0 32v2m0 1v1m0 12v1m1-68v5m0 8v1m0 2v3m0 33v2m0 8v1m1-58v2m0 7v3m0 9v1m0 25v1m0 2v1m1-48v1m0 5v3m0 35v3m1-46v4m0 7v6m0 26v3m0 15v1m1-66v2m0 6v5m0 32v1m0 5v1m0 11v1m1-62v2m0 4v5m0 35v2m1-48v2m0 3v1m0 5v2m0 31v1m0 3v1m0 6v2m0 3v1m1-64v2m0 21v1m0 23v2m0 1v1m1-50v2m0 7v7m0 3v2m0 25v1m0 3v2m0 10v1m1-60v2m0 2v2m0 5v3m0 2v2m0 25v1m0 6v1m1-54v2m0 19v1m0 25v3m1-52v3m0 8v4m0 33v1m0 3v1m0 8v1m0 7v1m1-68v2m0 7v4m0 8v1m0 25v3m0 18v1m1-69v3m0 4v1m0 7v3m0 1v2m0 26v3m0 14v1m0 2v1m1-67v2m0 5v8m0 3v2m0 25v1m0 4v1m0 5v1m0 2v1m1-60v2m0 6v5m0 32v2m0 2v1m1-53v2m0 9v4m0 33v2m0 2v1m1-48v2m0 1v2m0 6v2m0 31v1m0 1v1m1-47v2m0 1v2m0 6v2m0 5v1m0 25v1m0 1v1m0 6v1m1-53v3m0 9v1m0 4v1m0 34v1m0 3v1m1-62v2m0 20v1m0 24v2m0 7v1m1-53v1m0 4v6m0 32v1m0 2v1m0 16v2m1-69v2m0 7v7m0 6v1m0 24v1m0 3v1m1-49v2m0 3v2m0 2v3m0 32v2m1-47v4m0 1v1m0 7v2m0 32v1m0 14v1m1-61v2m0 2v2m0 5v3m0 3v1m0 25v1m0 4v4m1-56v2m0 8v11m0 28v1m0 15v1m1-60v2m0 7v2m1-14v2m0 3v2m0 2v3m0 32v1m0 3v1m0 9v1m1-61v4m0 3v1m0 6v2m0 5v1m0 25v1m0 2v1m0 6v1m1-60v3m0 8v5m0 7v1m0 23v1m0 5v1m0 7v1m0 8v1m1-68v2m0 6v5m0 7v1m0 25v2m0 6v1m0 7v1m1-61v2m0 1v2m0 6v2m0 5v1m0 25v3m0 4v1m0 2v1m0 7v1m0 1v1m1-67v2m0 5v7m0 6v1m0 24v2m0 2v1m0 3v1m1-54v2m0 5v1m0 2v4m0 31v1m0 3v2m0 9v1m0 3v1m1-65v2m0 4v2m0 3v3m0 6v1m0 24v2m0 1v2m1-53v3m0 7v1m0 4v3m0 4v1m0 37v1"/><path stroke="#00baff" d="M0.5 28v1m0 5v1m0 5v2m0 5v1m0 22v1m1-43v1m0 6v7m0 3v2m0 23v1m1-43v2m0 4v1m0 8v2m0 25v1m1-44v2m0 5v1m0 7v4m0 24v1m1-43v2m0 3v1m0 9v4m0 23v1m1-42v1m0 4v1m0 5v2m0 5v1m0 22v1m1-43v1m0 6v8m0 2v2m1-19v1m0 5v1m0 35v1m1-43v2m1-2v1m0 13v5m0 31v1m1-51v1m0 6v1m0 5v6m0 23v1m0 7v1m1-50v1m0 5v7m0 4v1m1-27v7m0 6v1m0 8v1m0 4v1m1-23v2m0 8v5m0 7v1m0 22v1m0 7v1m1-53v2m0 7v7m0 4v1m0 23v1m1-42v1m0 3v1m0 7v2m0 4v1m0 22v1m1-49v4m0 9v1m0 3v3m0 5v1m1-20v1m0 5v1m0 6v2m0 4v1m1-20v1m0 5v1m0 5v2m0 5v1m1-21v2m0 6v1m0 3v4m0 3v1m1-18v1m0 4v1m0 8v2m0 25v1m1-44v1m1 3v1m0 43v1m1-46v3m0 8v3m0 1v2m1-19v2m0 4v9m0 2v2m1-18v2m0 1v2m0 9v2m1-16v2m0 2v2m0 6v5m1-16v4m0 5v3m0 5v1m0 25v1m0 2v1m1-49v1m0 19v1m0 24v3m1-49v2m0 5v9m0 2v2m0 27v2m1-47v2m0 2v2m0 5v3m0 2v2m0 38v1m0 2v4m1-61v1m0 11v4m0 26v3m0 11v2m0 3v2m1-65v2m0 2v2m0 4v3m0 5v1m0 41v1m1-61v2m0 2v2m0 5v3m0 2v2m0 25v1m0 3v1m0 8v1m0 9v1m1-66v1m0 3v6m0 7v1m0 25v4m0 8v1m1-56v4m0 7v5m0 28v2m1-47v2m0 2v9m0 31v3m0 19v1m1-72v2m0 48v2m1-47v2m0 2v2m0 3v4m0 4v1m0 26v4m0 11v1m1-64v3m0 6v1m0 3v3m0 6v1m0 41v1m1-60v3m0 10v3m0 48v1m1-64v1m0 41v3m0 14v1m1-60v2m0 9v2m0 1v2m0 26v1m0 1v1m1-46v1m0 2v2m0 3v3m0 6v1m0 41v1m0 3v1m0 2v1m1-67v4m0 6v3m0 4v1m0 33v2m0 6v1m1-62v2m0 4v7m0 6v1m0 26v1m0 10v1m1-56v4m0 7v2m0 3v1m0 26v1m0 1v1m0 9v1m0 3v1m1-64v3m0 5v8m0 32v1m0 11v1m0 4v1m0 4v1m1-68v1m0 4v2m0 1v9m0 26v2m0 1v1m0 8v2m1-58v2m0 5v6m0 5v1m0 25v1m0 3v1m0 12v1m0 5v3m1-73v3m0 6v1m0 2v3m0 33v1m0 1v2m0 18v1m1-68v2m0 4v1m0 3v4m0 5v1m0 26v1m0 10v1m0 9v1m1-66v3m0 8v2m0 4v1m0 26v1m0 19v1m1-66v2m0 1v2m0 56v1m1-65v3m0 4v1m0 6v2m0 5v1m0 24v1m0 3v1m0 11v1m0 8v1m1-67v2m0 8v2m0 4v1m0 24v2m0 1v1m1-48v2m0 3v2m0 5v3m0 3v1m0 47v1m1-64v1m0 8v2m0 43v1m0 7v1m1-67v3m0 3v2m0 4v3m0 5v1m0 43v1m0 2v1m1-69v3m0 4v2m0 4v3m0 5v1m0 26v1m0 13v1m1-61v2m0 4v8m0 4v1m0 40v1m1-61v2m0 5v2m0 1v5m0 4v1m0 26v3m0 14v3m1-64v2m0 1v2m0 6v3m0 3v1m0 44v1m1-63v1m0 9v2m0 4v2m0 26v3m0 6v1m1-54v1m0 4v6m0 7v1m0 25v3m0 12v1m1-61v2m0 3v2m0 3v4m0 5v1m1-18v3m0 40v3m1-46v3m0 9v2m0 1v2m1-19v2m0 3v2m0 3v4m0 5v1m0 26v1m0 9v2m0 2v1m1-62v3m0 3v2m0 5v3m0 2v2m0 31v2m0 2v2m1-55v2m0 2v2m0 6v3m0 1v2m1-20v3m0 3v1m0 7v2m0 3v1m0 43v1m1-66v2m0 7v5m0 51v1m1-62v2m0 1v2m0 9v2m0 38v1m0 7v1m1-64v2m0 3v2m0 6v6m1-28v3m0 1v1m0 10v1m0 5v3m0 3v1m0 38v1m0 2v3m1-63v3m0 2v1m1-4v3m0 10v2m0 28v1m0 1v1m0 9v1m0 7v2m1-65v3m0 9v5m0 26v3m0 11v1m1-58v3m0 9v5m0 35v1m0 2v2m1-56v2m0 7v3m0 4v1m0 25v2m0 10v1m1-56v4m0 8v5m0 25v2m0 2v1m0 15v1m1-50v4m1-17v3m0 8v2m0 4v1m0 25v1m0 1v1m0 12v1m0 4v1m1-64v1m0 1v3m0 52v1m0 2v1m1-65v3m0 5v8m0 4v1m0 25v1m0 4v1m1-48v4m0 6v2m0 5v1m0 25v3m0 9v1m0 8v1m1-67v2m0 3v2m0 2v5m0 5v1m0 37v1m1-57v2m0 2v2m0 4v3m0 4v1m0 27v1m0 18v1m1-67v2m0 6v8m0 1v2m1-17v2m0 1v2m0 6v2m0 5v1m0 26v1m1-44v1m0 12v1m0 27v2m0 2v1m0 6v2m0 3v1m0 1v1m1-65v2m0 8v2m0 51v1m1-61v2m0 2v2m0 4v3m0 5v1m0 25v3m1-50v2m0 6v8m0 4v1m1-5v5m0 26v1m0 2v1m1-47v3m0 8v3m0 1v2m0 27v2m0 32v1m1-79v4m0 6v3m0 3v1m1-16v1m0 9v2m1-13v3m0 8v6m0 27v1m1-46v1m0 17v1m0 26v1m1-48v3m0 3v1m0 5v2m1-15v3m0 5v6m0 7v1m0 36v1m0 8v1m1-50v3m0 25v1m0 3v1m1-48v2m0 1v2m0 7v2m0 4v1m0 38v1m0 6v2m1-70v3m0 7v3m0 55v1m1-74v7m0 6v1m0 5v1m0 8v1m0 36v1m1-59v2m0 5v2m0 1v6m0 2v2m1-19v3m0 2v1m0 6v2m0 5v1m1-19v4m0 7v2m0 5v1m0 26v2m1-50v3m0 5v1m0 3v4m0 4v1m0 25v1m0 4v1m1-47v1m0 11v4m0 26v1m0 2v1m1-48v2m0 2v2m0 2v4m0 6v1m0 26v2m0 10v1m1-58v2m0 2v2m0 3v3m0 6v1m0 26v2m1-48v2m0 7v4m0 4v2m1-4v4m0 27v1m0 14v1m0 1v1m1-62v1m0 1v3m0 5v3m0 2v2m0 46v1m1-64v1m0 3v7m0 5v1m0 25v1m0 3v1m1-50v2m0 6v7m0 3v2m0 25v2m0 2v1m0 9v1m1-58v1m0 4v7m0 46v1m0 2v1m0 2v1m1-65v1m0 3v2m0 5v3m0 3v1m0 25v1m0 4v2m0 6v1m1-58v2m0 5v2m0 53v1m1-63v2m0 4v7m0 6v1m0 38v1m0 3v2m1-65v2m0 6v10m1-18v3m0 3v2m0 4v2m0 6v1m0 25v1m0 2v1m0 10v1m1-60v3m0 1v2m0 6v2m0 5v1m0 25v3m1-46v3m0 8v2m0 4v1m0 25v3m0 10v1m1-57v4m0 8v3m0 28v1m0 2v1m0 8v1m1-56v3m0 9v2m0 1v2m0 26v1m0 2v2m0 9v1m1-58v3m0 7v2m0 5v1m0 25v2m0 14v1m1-62v2m0 4v6m0 7v1m0 26v1m0 11v1m0 2v1m1-60v3m0 7v1m0 52v1m1-63v2m0 8v2m0 4v1m0 25v1m0 2v1m0 10v1m1-58v3m0 8v2m0 3v1m1-18v1m0 4v12m0 28v1m0 8v1m0 3v1m1-61v2m0 6v5m0 7v1m0 39v1m1-60v2m0 3v2m0 8v1m0 46v1m1-50v2m0 4v1m0 25v4m0 8v1m0 7v1m1-64v4m0 7v2m0 3v1m0 26v3m0 14v3m1-65v2m0 4v6m0 7v1m0 33v1m1-53v2m0 3v8m0 4v1m0 26v3m0 8v1m1-54v2m0 8v2m0 4v1m0 25v3m1-3v3m0 7v1m1-53v1m0 9v3m0 2v2m0 25v4m0 10v1m1-59v2m0 1v2m0 6v3m0 4v1m0 26v1m0 14v1m1-64v3m0 4v1m0 6v2m0 5v1m1-20v2m0 4v1m0 3v4m0 4v1m0 27v2m1-46v5m0 3v3m0 6v1m0 33v1m0 3v1m0 3v1m1-8v1m0 9v1m1-65v3m0 2v1m0 5v2m0 31v2m0 2v1m1-47v1m0 1v2m0 5v3m0 5v1m0 39v1m1-58v3m0 8v2m0 4v1m0 25v3m1-49v2m0 5v6m0 34v1m1-47v2m0 3v2m0 7v3m0 28v3m1-45v2m0 10v2m0 28v1m0 3v2m0 12v1m1-64v2m0 4v8m0 4v1m0 40v1m1-61v2m0 4v2m0 4v3m0 5v1m0 25v3m1-48v2m0 3v2m0 4v4m0 3v1m0 38v1m0 3v1m0 3v1m1-65v4m0 11v1m0 46v2m1-64v2m0 1v2m0 8v3m0 28v1m0 1v2m0 7v2m1-57v1m0 3v2m0 5v7m0 27v2m0 5v1m1-56v3m0 5v1m0 4v3m0 5v1m0 26v2m0 18v1m1-64v1m0 10v2m0 3v1m0 26v1m1-44v1m0 10v5m0 27v1m1-32v4m0 40v1m0 5v1m1-67v2m0 5v8m0 3v2m0 27v2m0 9v1m1-56v4m0 6v2m0 5v1m0 25v2m0 8v1m0 7v1m1-65v3m0 3v1m0 7v6m0 26v3m0 10v2m0 5v1m1-64v3m0 7v2m0 5v1m0 26v2m1-45v1m0 10v2m0 3v1m1-17v2m0 10v3m0 27v4m0 4v3m0 9v1m1-67v2m0 5v1m0 51v1m0 2v1m0 1v1m0 1v1m1-52v2m0 2v2m0 45v1m1-64v3m0 7v2m0 31v3m0 18v1m1-65v3m0 9v5m0 27v2m1-49v3m0 3v2m0 5v3m0 3v1m0 25v2m0 2v1m0 9v1m1-58v2m0 2v2m0 5v4m0 1v2m1-16v1m0 10v5m0 34v1m0 10v1m1-64v2m0 1v2m0 7v6m0 27v2m0 5v1m0 7v1m1-61v5m0 7v2m0 4v1m0 25v1m0 1v1m1-47v4m0 8v3m0 1v2m0 27v1m0 13v1m1-62v3m0 2v2m0 8v4m0 47v1"/><path stroke="#00d4ff" d="M0.5 29v2m0 2v1m0 8v5m1-18v1m0 4v1m0 7v3m1-15v1m0 2v1m1-5v1m0 3v1m1-4v1m0 1v1m1-3v1m0 1v2m0 8v5m1-18v1m0 4v1m0 8v2m1-16v2m0 2v1m1-4v3m0 37v1m1-42v2m0 2v1m1-5v1m0 3v2m1-5v1m0 2v2m0 7v4m1-19v3m0 13v4m1-20v2m0 5v1m0 5v3m0 2v2m1-19v1m0 5v1m0 7v4m1-16v3m0 10v4m1-21v2m0 6v1m0 7v5m1-18v1m0 3v1m0 9v4m0 23v1m1-42v1m0 3v1m0 8v5m1-18v1m0 4v1m0 8v3m0 24v1m1-41v1m0 2v1m1-6v1m0 6v5m1 31v1m1-28v1m1-15v1m0 1v2m0 9v2m1-14v1m1-1v2m1 9v5m0 27v2m1-47v2m0 2v7m1-11v2m0 2v1m0 9v2m1-14v2m0 10v2m0 41v2m1 1v1m0 1v1m0 2v1m0 2v1m1-67v2m0 9v5m0 49v1m1-66v2m0 10v2m0 28v3m1-45v3m0 6v3m0 2v2m0 39v1m2-56v2m0 9v5m1-21v2m0 8v1m0 10v1m0 39v1m0 4v1m1-62v2m0 9v4m0 43v1m0 6v1m1-69v3m0 1v2m0 7v6m1 38v1m0 1v2m1 6v1m1-52v1m0 29v1m0 11v1m1-56v2m0 8v3m0 1v2m0 36v1m0 4v1m0 5v2m1-53v4m0 43v1m0 3v1m1-65v1m0 1v2m0 7v6m0 42v1m1-47v3m0 28v1m0 19v1m1-66v2m0 2v1m0 8v5m0 42v1m0 5v1m1-66v4m0 40v1m0 16v1m1-62v1m0 2v2m0 6v5m0 27v3m0 6v1m1-55v3m0 1v2m0 6v2m0 5v1m0 26v1m0 11v1m0 7v1m1-65v4m0 8v5m0 39v1m1-44v4m0 42v1m1-59v1m0 62v1m1-66v4m0 9v2m0 1v2m0 26v3m1-33v4m0 27v1m0 15v4m1-64v3m0 10v3m0 44v1m1-49v2m0 3v1m0 41v1m1-60v3m0 9v5m0 45v2m1-65v4m0 9v5m1-17v4m0 8v4m1-17v2m0 1v2m0 8v4m0 39v1m1-55v1m0 11v3m0 40v1m1-57v1m0 2v6m0 2v4m0 38v1m0 2v1m0 6v1m1-64v4m0 6v3m0 2v2m0 47v1m1-65v3m0 9v5m0 39v1m0 7v1m1-4v1m1-48v1m0 44v1m1-60v3m0 9v5m0 34v1m0 1v1m0 2v2m0 3v1m1-62v3m0 10v2m0 27v1m0 4v1m1-47v2m0 11v1m0 41v1m1-57v3m0 10v3m1-19v3m0 3v1m0 5v2m1-10v1m0 52v5m1-59v3m1-11v1m0 1v5m0 4v1m0 9v3m0 40v2m0 3v1m1-61v2m0 57v1m1-17v1m1 19v1m1-12v2m1-42v4m1 27v2m1 13v1m1-47v4m0 27v1m1-44v1m0 53v2m1-58v2m0 1v2m0 8v4m0 27v1m0 2v1m0 8v1m1-44v5m0 41v1m0 3v2m1-64v3m0 9v5m1-16v2m0 9v4m1-17v1m0 3v2m0 8v1m0 44v1m1-58v1m0 10v5m0 39v1m1-13v2m0 9v1m1-58v2m0 4v2m0 2v9m0 43v1m1-60v2m0 9v5m1-19v3m0 2v1m0 8v4m1 28v2m1-32v1m0 46v1m0 14v2m1-65v3m0 41v1m1-45v3m0 1v1m0 46v1m1-2v1m1-64v1m0 2v9m0 4v1m1-17v3m0 8v2m0 4v1m0 38v1m0 7v1m1-66v2m0 2v1m0 6v3m0 2v2m1 26v3m0 12v1m1-58v1m0 11v4m1-19v2m0 3v2m0 3v3m0 6v1m0 37v1m0 6v1m0 1v1m1-68v4m0 1v1m0 7v2m1-13v2m0 1v2m0 9v2m1-14v2m0 9v2m0 1v2m1-5v5m0 47v1m1-66v2m0 1v2m0 8v4m0 27v4m0 5v1m1-9v2m0 6v1m0 1v1m1-54v2m0 8v2m0 2v2m0 40v1m1-57v2m0 8v6m1-17v1m0 2v4m0 4v4m1 41v1m1-56v1m0 11v2m1-14v3m0 7v5m0 27v3m0 13v1m0 3v2m1-66v2m0 2v2m0 7v3m0 29v2m1-46v4m0 7v6m0 41v2m1-60v3m0 10v3m0 27v1m0 2v1m0 13v2m1-62v1m0 2v2m0 2v4m0 44v1m0 1v1m0 3v1m1-62v4m0 7v2m0 2v2m0 42v1m1-61v2m0 2v2m0 52v1m1-58v3m0 8v3m0 2v1m0 27v2m1-45v1m0 10v2m0 1v2m0 37v1m1-42v4m0 44v2m1-19v2m1-32v1m0 29v2m0 17v1m1-52v5m1-17v4m0 6v3m0 3v1m1-6v2m0 4v1m1-5v4m0 27v2m1-33v3m0 45v1m1-62v4m1-5v2m0 2v2m0 5v3m0 2v2m1-17v3m1 10v4m0 42v1m0 2v1m1-50v3m0 39v1m0 3v1m1-60v4m0 6v3m0 2v2m1-16v3m0 8v4m1-3v4m0 35v1m2-39v2m1-15v1m0 11v4m1-18v4m0 9v5m0 37v1m1-55v4m0 8v4m0 45v1m1-51v3m0 1v2m0 47v1m2-64v2m0 8v2m0 4v1m0 26v2m1-45v1m0 10v2m0 1v2m0 43v2m1-49v4m1-18v2m0 1v2m0 6v2m1-12v3m1 41v3m0 10v1m0 2v1m0 1v2m1-64v4m0 8v4m1-17v4m0 9v2m0 1v2m0 45v1m1-63v3m0 10v3m0 35v1m0 8v3m2-62v1m0 42v1m0 15v1m1-61v3m0 50v1m1-55v2m0 1v2m0 8v5m0 41v2m1-46v3m1 45v1m2-64v2m0 2v1m0 8v3m1-3v5m0 43v1m1-61v3m0 55v1m1-47v5m0 41v1m1-45v3m1 37v1m1-56v5m0 54v1m0 3v1m1-49v2m0 46v1m1-51v2m0 3v1m0 39v1m2-58v3m0 10v3m0 28v2m1-45v2m0 11v1m0 37v1m0 1v1m0 5v1m1-9v1m1-52v1m0 50v1m1-40v4m0 27v1m0 5v1m0 5v1m1-43v1m0 40v1m0 1v1m0 1v1m1-60v2"/><path stroke="#07efef" d="M0.5 31v2m0 38v1m1-42v1m0 2v1m1-3v2m1-3v3m1-2v1m0 39v1m0 5v1m1-47v1m1-2v1m0 2v1m0 37v1m0 5v1m1-47v2m2-2v2m0 38v1m1-42v1m0 1v1m1-2v2m0 38v1m0 5v1m1-48v3m0 38v1m1-43v1m0 3v1m0 9v2m1-16v1m0 3v1m0 37v1m1 5v1m1-50v2m0 3v1m0 37v1m0 5v1m1-48v3m1-3v1m0 1v1m0 38v1m1-42v1m0 2v1m1-3v2m1-4v1m0 4v1m0 5v2m0 5v1m0 22v1m1 1v1m2-42v1m4-1v2m0 7v2m0 5v1m1-17v2m1 59v1m1-3v1m0 4v1m2-2v1m1-52v2m0 45v2m0 3v1m2-7v3m1-64v2m0 4v2m0 1v6m0 2v2m2-16v1m1 54v1m2 8v1m1-52v1m2-14v1m0 54v1m0 1v1m2-58v2m0 59v1m1-1v1m1-62v2m0 51v1m1-54v1m0 10v5m1 40v1m1 5v1m1-3v1m1-48v1m0 44v1m0 6v1m1-10v1m0 1v1m2-46v3m2 42v1m2-59v1m0 57v1m0 3v1m1-4v1m1-60v2m0 51v2m1-43v2m2 47v1m2-11v1m1-10v1m0 2v1m0 7v1m3-55v3m0 8v2m0 4v1m1 41v2m2-62v4m0 59v1m1-9v1m1 1v1m0 5v1m2-6v1m0 6v1m1-9v1m0 6v1m1-7v1m3 3v1m1-61v1m0 42v2m0 13v2m1-9v1m0 1v1m0 6v1m1 2v1m1-12v1m0 8v1m1-63v3m2 53v2m1-58v4m0 50v1m0 3v1m0 2v1m2-61v2m0 54v1m0 5v1m1-11v1m0 8v1m1-9v1m2-39v1m0 40v1m1-4v1m1-54v2m0 9v4m1-3v4m1-16v2m0 10v2m0 40v1m1 8v1m1-11v2m1-56v3m0 8v3m0 1v2m0 34v1m0 2v1m0 1v1m1-56v1m0 10v1m0 4v1m1-17v1m1 12v1m0 43v1m2-58v1m0 54v1m0 4v1m1-9v1m0 7v1m0 2v1m1-52v2m1 48v1m1-63v2m0 55v1m1 3v1m2-1v1m1-62v2m0 54v1m2-14v2m0 10v4m0 2v2m1-63v2m0 8v2m0 4v1m0 38v1m0 5v1m1-50v2m0 42v2m1-58v2m0 60v1m1-50v2m1-2v1m1 45v1m1-5v1m0 2v3m2-2v1m1-48v3m0 41v2m1-46v4m0 45v1m3-5v1m1-58v2m0 10v2m2 45v2m2-49v2m2 38v1m3 6v1m1-5v3m2-45v1m0 37v1m0 1v1m1 8v1m1-51v4m1-3v1m0 43v2m1-1v1m1-59v1m0 10v2m0 2v2m0 41v1m1-1v1m0 4v1m1-6v1m0 4v1m2-51v1m0 41v1m0 4v1m4-10v1m0 5v1m1-58v1m0 58v1m0 2v1m1-4v1m0 2v1m2-6v2m1-59v2m1 56v1m1-7v1m0 1v1m0 3v1m0 2v1m1-4v1m2-5v1m1 1v1m1-1v1m0 3v1m1-48v3m0 41v6m1-1v1m1-7v1m0 5v1m3-6v1m1 3v1m1-7v1m0 3v1m1-3v1"/><path stroke="#1cffda" d="M0.5 77v1m1-47v2m0 38v1m1-1v1m1-1v1m0 5v1m2-7v1m1-41v2m1 38v1m0 5v1m1-1v1m1-1v1m1-47v1m0 39v1m2 5v1m1-48v1m0 1v1m0 38v1m1-42v3m1 38v1m1-42v3m1 38v1m0 5v1m1-47v1m0 45v1m1-47v2m1 38v1m0 5v1m1-48v4m0 8v5m0 30v1m1-5v2m6-33v2m0 1v2m3 49v1m1-7v1m2-4v1m0 1v1m2-5v1m0 6v1m0 1v1m1-65v4m0 9v2m0 43v2m0 1v1m1 3v1m1-6v1m1-2v1m2-3v1m2 3v1m1-5v1m1 2v1m1-4v2m1 4v3m1-13v1m1 9v1m1 0v1m1-5v3m2 2v1m6-8v1m0 4v1m3 0v1m2-8v1m0 5v1m3-2v1m1-19v2m0 9v1m0 8v1m1-1v1m2-52v4m0 44v1m4-3v1m1-3v2m1-1v1m0 4v1m1-2v2m2-3v1m1-7v1m1 3v1m0 2v1m2-7v1m0 1v1m0 2v1m1-9v1m0 5v2m1-5v1m4 4v1m1 2v1m1-5v1m0 3v1m2-8v1m3-6v1m0 3v1m0 1v1m0 4v1m1-2v1m1-6v1m1 5v1m1-8v1m0 5v1m3-49v1m0 37v2m1-41v4m0 45v2m1-5v1m2 0v1m4-5v1m1 7v1m1-8v2m2 1v2m1 0v2m3-51v4m0 46v1m3-6v1m2-2v1m1-1v2m1-1v1m1 2v1m3-4v1m4 2v1m2-6v1m0 1v1m1-7v1m0 6v1m1-5v1m0 3v1m1-6v1m0 4v1m2-2v1m2-4v1m0 3v1m1 2v1m1-10v1m1 1v1m0 8v1m3-1v1m1-51v2m0 48v1m2-7v1m1-1v1m1 1v1m1-7v1m4-1v1m0 6v2m2 0v1m1-2v1m2-9v1m0 3v1m1-5v1m0 5v2m1 2v1m1-5v1m1-5v1m0 5v1m2-3v1m2-7v1m0 7v1m2-10v1m0 7v1m0 1v1m3-9v1m2-1v1m0 1v1m0 4v1"/><path stroke="#32ffc5" d="M1.5 77v1m1-1v1m2-6v1m0 3v1m1 0v1m1-6v1m0 3v1m2-6v1m1 0v1m1 4v1m1-6v1m0 3v1m1-5v1m1-42v1m0 45v1m1-1v1m2-6v1m2-1v1m1-2v1m0 5v1m9-34v1m2 51v1m3-11v1m0 6v1m1-6v1m0 3v1m0 1v1m2-7v1m0 4v1m1-4v1m1-1v1m1 0v2m0 2v2m1-4v1m1-3v1m2-8v1m0 2v1m1 5v1m2-1v1m1-1v2m1 1v1m2-5v1m1-5v1m2 3v2m1-4v1m0 3v1m1-7v1m6-3v1m0 1v1m1-2v1m0 1v1m4 3v2m1-5v1m1 3v1m1-9v1m2 4v1m4 1v2m1-10v1m1 3v1m2 1v1m6-5v1m0 5v1m3-3v1m1-3v1m3-3v1m0 4v2m2-2v1m1-5v1m1-4v1m1 8v1m1-4v2m2-4v2m5-4v1m1-2v1m0 4v1m1 2v1m1-2v1m1-1v1m1-11v1m0 10v1m1-3v2m1-6v1m1 3v1m3-6v1m7 0v1m1 4v1m1-9v1m0 8v1m1-6v1m1 2v2m1-2v1m3-2v1m2 0v1m1-4v1m1-2v1m3-2v1m3-3v1m3 5v1m1 2v1m1-2v1m1-1v1m1-11v1m2 8v1m3 0v1m3-7v1m3 3v1m1 2v1m1-8v1m1 3v2m3-7v1m1 0v1m2 2v1m4-3v2m2 1v1m2 0v1m2-10v1m0 3v1m1 5v1m1-3v1m1-6v1m0 2v1"/><path stroke="#47ffb0" d="M0.5 72v1m1-1v1m1-1v1m1-1v1m0 3v1m2-5v1m2-1v1m0 3v1m2-1v1m1-5v1m2 3v1m1-5v1m0 3v1m1-5v1m1-1v1m0 3v1m1-1v1m2-1v1m2-5v1m0 3v1m1-6v1m9 21v1m2 1v1m1-7v4m1 0v1m5-1v2m0 2v1m2-4v1m1-4v2m0 1v1m1-9v1m1 5v1m4 4v1m6-5v1m3-4v1m0 1v1m2-3v1m2-4v1m3 5v1m1-6v1m3 4v1m1-7v1m8 2v2m1-3v1m0 2v1m1-5v1m0 1v1m1-4v1m0 4v1m1-3v1m1-3v1m1 1v2m1 0v1m1-1v1m2-6v1m1-4v1m0 4v2m2-4v1m0 5v1m4-3v1m1-8v1m0 1v1m0 4v1m2 1v1m1-9v1m0 3v2m1-6v1m1 2v1m0 2v1m3-3v1m2 1v1m1-4v3m2-2v1m0 2v1m2-8v1m2 7v1m2-5v1m0 3v1m2-2v1m2-5v1m0 2v1m5 0v1m1-1v1m1 0v1m1-6v1m2 0v1m1 2v1m0 1v1m2-9v1m0 3v1m1 2v1m4 0v1m5-9v1m2 6v1m2-4v1m0 2v1m1 0v1m1-5v1m4 2v1m2-4v1m2 0v1m0 2v1m1-7v2m1-8v1m7 7v1m2-6v2m8 3v1m1 1v1m4-12v1m0 2v1m1 7v1m1-2v1"/><path stroke="#5cff9b" d="M0.5 76v1m1-1v1m1-1v1m1-4v1m1-1v1m1 2v1m1-4v1m0 1v1m2-4v1m0 3v1m1-4v1m1 2v1m1-4v1m1-1v1m2 2v1m2-4v1m1-2v1m0 3v1m1-4v1m1-2v1m11 22v1m2-5v1m1-5v2m3-3v2m6 0v1m0 4v1m1-9v1m3 5v2m4-6v1m1 1v1m0 3v1m5-3v1m0 1v1m4-5v1m0 2v1m2-5v1m5 2v1m0 1v1m2-1v1m1-7v1m1 4v2m5-6v1m3 0v1m1 1v1m1-4v1m1-3v1m2 6v1m3-6v1m0 4v1m1-7v2m1 5v1m2-1v1m1-10v1m2 2v1m0 1v1m1-6v1m0 3v1m1-4v1m2-4v1m1 2v2m0 3v1m1 0v2m1-7v1m0 4v1m1-6v1m1 5v1m3-7v1m3 3v2m1-9v1m0 7v1m3-2v1m2 1v1m9-5v1m0 1v1m1-6v1m0 5v1m4 0v1m3-5v1m2 3v1m1-5v3m4-9v1m1 2v1m1 0v2m2 0v1m1 2v1m4-9v1m1 5v1m1 2v1m1-4v1m2 1v1m2-4v2m0 1v1m2-10v1m3 5v1m0 3v1m4-3v1m6-5v1m4-3v1m0 2v2m4-6v1m2 8v1m1-4v1"/><path stroke="#71ff86" d="M0.5 73v1m1-1v1m1-1v1m2 1v1m1-3v1m1 0v1m1-2v1m2 1v1m1-3v1m1 0v2m2-3v1m1-1v1m1-1v1m0 1v1m1-1v1m1-3v1m2 2v1m1-4v1m1-2v1m0 3v1m9 17v1m10-5v1m2-1v1m8 0v1m4-1v2m3-2v1m7-3v1m1 2v1m4-5v1m0 3v1m3-1v1m4-7v1m2 3v2m2-4v3m1-2v1m1-3v1m5 1v1m1-5v2m2 5v1m1-1v1m1-7v1m1 4v1m1-3v1m1 0v1m1-1v1m1 1v1m1-9v1m1 3v1m3 2v1m3-4v1m2 1v1m1-1v2m2 1v1m2-5v1m0 2v1m2-3v1m0 1v1m4-4v2m6-1v1m1-4v1m3 2v2m3-3v1m2 3v1m1-4v1m1 1v1m1-1v2m7-2v1m1 0v1m1-2v1m2-1v1m4-2v2m1 0v1m1-3v1m2 1v1m4-2v1m1-1v1m1-8v2m4 0v1m3 3v1m1-1v1m1-1v1m4-6v2m1 0v1m3-3v1"/><path stroke="#86ff71" d="M0.5 75v1m1-1v1m2-2v2m1-2v1m1 0v1m2-1v1m1-3v1m1 0v1m1 0v1m2-2v2m1-2v2m1-2v2m1-2v1m1-1v1m2-1v2m1-3v1m1 0v2m18 18v1m2-3v1m2-4v1m9 2v1m9-3v2m7 0v1m2-4v1m7-3v1m13 2v1m1-3v1m0 1v2m1 1v1m2-1v1m4-6v1m6 1v1m4 2v1m7-3v1m1 2v1m8-6v1m11 2v1m1 0v1m4-10v1m0 3v1m1-2v2m3 1v2m1 2v1m1-4v1m2-1v1m5-2v1m7 2v1m1-4v2m5-4v2m3 3v1m1-1v1m1-6v1m5 2v1m3-7v1m1-4v2"/><path stroke="#9bff5c" d="M0.5 74v1m1-1v1m1 0v1m3-2v1m2-1v1m1 0v1m2-2v1m7-1v2m4-3v1m11 20v1m6-4v1m2-1v1m1 0v2m10-4v1m5 1v1m3-2v1m6-3v1m4 1v1m1-4v1m0 4v1m2-1v1m15-4v1m2 2v1m1-5v1m3 2v1m6-4v2m3-3v1m1 2v2m2-3v1m2 0v2m5-3v2m1-5v1m0 2v1m3-3v1m7 2v1m2-4v1m0 2v1m7 0v1m2-2v1m15 2v1m16-2v1m3-2v1m1-1v1m1-4v2"/><path stroke="#b0ff47" d="M2.5 74v1m6-1v1m11-1v2m2-1v1m11 16v1m19-2v1m13 0v1m1-2v1m4-2v1m18 0v2m2-2v2m7-6v1m5 0v1m0 2v1m4-3v1m18 0v1m2-2v1m6-3v1m1 2v1m7-6v1m13 5v2"/><path stroke="#c5ff32" d="M21.5 74v1m11 18v1m18-4v1m15-1v1m5-2v1m27 1v1m5-2v1m23-1v1m6-3v1m1 2v1m17-1v1m16-2v1m10-2v2"/><path stroke="#daff1c" d="M38.5 93v1m12-6v1m46 0v1m6-1v1m11-1v1m3 1v1m23-6v2m10 5v1"/><path stroke="#effe07" d="M38.5 92v1m12-4v1m14 0v1m32-3v1m1 0v2m4-1v1m12-3v1m36 3v1m16-2v2"/><path stroke="#ffe600" d="M59.5 92v1m5-2v1m6-2v1m0 1v1m31-4v1m15-1v1"/><path stroke="#ffce00" d="M59.5 94v1"/><path stroke="#ffb500" d="M31.5 98v1m3-2v1m7-1v1m3-1v1m3 0v1m1-1v1m3-1v1m1-2v1m1 0v1m2-5v1m1 0v1m1-2v1m1 0v1m1-3v1m0 1v1m1-2v1m1-1v1m1-1v1m1 0v1m1-1v1m1-1v1m1-1v1m1-2v1m1 0v1m1-1v1m1-5v1m0 3v1m1-2v1m1-1v1m1 0v1m1-2v1m1 0v1m1-1v1m1-1v1m1-1v1m1-1v1m1-2v1m1 0v1m1-2v1m1 0v1m1-2v1m1-1v1m1 0v1m1-1v1m1-2v1m1 0v1m1-2v1m1 0v1m1-1v1m1-1v1m1-2v1m1 0v1m2-1v1m1-1v1m1-2v1m1-1v1m1 0v1m1-2v1m1 0v1m1-1v1m1-1v1m1-2v1m1 0v1m1-2v1m1 0v1m1-1v1m1-1v1m1-2v1m1-1v1m1 0v1m1-1v1m1-6v1m0 3v1m1 0v1m1-2v1m1-1v1m1-1v1m1-1v1m1 0v1m1-2v1m1-1v1m1 0v1m1-1v1m1-2v1m1 0v1m1-1v1m1-1v1m1-1v1m1-2v1m1-1v1m1-1v1m1-1v1m1 0v1m1-1v1m1-2v1m1 0v1m1-1v1m1-1v1m1-2v1m1-1v1m1 0v1m1-1v1m1-1v1m1-1v1m1-1v1m1-1v1m1-2v1m1 0v1m1-1v1m1-1v1m1-1v1m1-1v1m1-2v1m1 0v1m1-2v1m1-1v1m1 0v1m1-1v1m1-2v1m1-1v1m1-1v1m1-1v1m1 0v1m1-2v1m1 0v1m1-2v1m1 0v1m1-2v1m1-1v1m1 0v1m1-2v1m1 0v1m1-2v1m1 0v1m1-1v1m1-2v1m1-1v1m1 0v1"/><path stroke="#800000" d="M30.5 97v12m1-10v10m1-12v12m1-12v12m1-11v11m1-11v11m1-11v11m1-12v12m1-12v12m1-11v11m1-11v11m1-11v11m1-11v11m1-11v11m1-11v11m2-11v11m1-10v10m1-10v10m1-11v11m2-10v10m1-11v11m1-10v10m1-11v11m1-14v14m1-13v13m1-14v14m1-13v13m1-13v13m1-14v14m1-14v14m1-14v14m1-13v13m1-13v13m1-13v13m1-13v13m1-14v14m1-13v13m1-13v13m1-13v13m1-14v14m1-14v14m1-13v13m1-14v14m1-13v13m1-13v13m1-13v13m1-13v13m1-13v13m1-14v14m1-13v13m1-14v14m1-13v13m1-14v14m1-14v14m1-13v13m1-13v13m1-14v14m1-13v13m1-14v14m1-13v13m1-13v13m1-13v13m1-14v14m1-13v13m2-13v13m1-13v13m1-14v14m1-14v14m1-13v13m1-14v14m1-13v13m1-13v13m1-13v13m1-14v14m1-13v13m1-14v14m1-13v13m1-13v13m1-13v13m1-14v14m1-14v14m1-13v13m1-13v13m1-14v14m1-13v13m1-14v14m1-14v14m1-14v14m1-14v14m1-13v13m1-14v14m1-14v14m1-13v13m1-13v13m1-14v14m1-13v13m1-13v13m1-13v13m1-13v13m1-14v14m1-14v14m1-14v14m1-14v14m1-13v13m1-13v13m1-14v14m1-13v13m1-13v13m1-13v13m1-14v14m1-14v14m1-13v13m1-13v13m1-13v13m1-13v13m1-13v13m1-13v13m1-14v14m1-13v13m1-13v13m1-13v13m1-13v13m1-13v13m1-14v14m1-13v13m1-14v14m1-14v14m1-13v13m1-13v13m1-14v14m1-14v14m1-14v14m1-14v14m1-13v13m1-14v14m1-13v13m1-14v14m1-13v13m1-14v14m1-14v14m1-13v13m1-14v14m1-13v13m1-14v14m1-13v13m1-13v13m1-14v14m1-14v14m1-13v13"/></g></g></g><rect x="110.2" y="1132" width="527.3" height="411" fill="none" stroke="#3a3a3a" stroke-width="0.9"/><line x1="106.9" y1="1543.00" x2="110.2" y2="1543.00" stroke="#222" stroke-width="0.9"/><text x="104.1" y="1552.70" font-size="27" text-anchor="end" fill="#111">0</text><line x1="106.9" y1="1460.80" x2="110.2" y2="1460.80" stroke="#222" stroke-width="0.9"/><text x="104.1" y="1470.50" font-size="27" text-anchor="end" fill="#111">2</text><line x1="106.9" y1="1378.60" x2="110.2" y2="1378.60" stroke="#222" stroke-width="0.9"/><text x="104.1" y="1388.30" font-size="27" text-anchor="end" fill="#111">4</text><line x1="106.9" y1="1296.40" x2="110.2" y2="1296.40" stroke="#222" stroke-width="0.9"/><text x="104.1" y="1306.10" font-size="27" text-anchor="end" fill="#111">6</text><line x1="106.9" y1="1214.20" x2="110.2" y2="1214.20" stroke="#222" stroke-width="0.9"/><text x="104.1" y="1223.90" font-size="27" text-anchor="end" fill="#111">8</text><line x1="106.9" y1="1132.00" x2="110.2" y2="1132.00" stroke="#222" stroke-width="0.9"/><text x="104.1" y="1141.70" font-size="27" text-anchor="end" fill="#111" textLength="31" lengthAdjust="spacing">10</text><line x1="110.20" y1="1543" x2="110.20" y2="1546.3" stroke="#222" stroke-width="0.9"/><text x="110.20" y="1570.20" font-size="27" text-anchor="middle" fill="#111">0</text><line x1="198.08" y1="1543" x2="198.08" y2="1546.3" stroke="#222" stroke-width="0.9"/><text x="198.08" y="1570.20" font-size="27" text-anchor="middle" fill="#111">5</text><line x1="285.97" y1="1543" x2="285.97" y2="1546.3" stroke="#222" stroke-width="0.9"/><text x="270.47" y="1570.20" font-size="27" fill="#111" textLength="31" lengthAdjust="spacing">10</text><line x1="373.85" y1="1543" x2="373.85" y2="1546.3" stroke="#222" stroke-width="0.9"/><text x="358.35" y="1570.20" font-size="27" fill="#111" textLength="31" lengthAdjust="spacing">15</text><line x1="461.73" y1="1543" x2="461.73" y2="1546.3" stroke="#222" stroke-width="0.9"/><text x="446.23" y="1570.20" font-size="27" fill="#111" textLength="31" lengthAdjust="spacing">20</text><line x1="549.62" y1="1543" x2="549.62" y2="1546.3" stroke="#222" stroke-width="0.9"/><text x="534.12" y="1570.20" font-size="27" fill="#111" textLength="31" lengthAdjust="spacing">25</text><text x="300.85" y="1602.30" font-size="32.5" fill="#111" textLength="146" lengthAdjust="spacingAndGlyphs">Time (ps)</text><text transform="translate(59.5,1370.50) rotate(-90)" font-size="32.5" fill="#111" textLength="66" lengthAdjust="spacingAndGlyphs"><tspan font-style="italic">r</tspan> (Å)</text><rect x="669.1" y="1132" width="21.600000000000023" height="411" fill="url(#jetg)" stroke="#555" stroke-width="0.8"/><line x1="690.7" y1="1543.00" x2="694.0" y2="1543.00" stroke="#222" stroke-width="0.9"/><text x="696.5" y="1552.70" font-size="27" fill="#111">0</text><line x1="690.7" y1="1440.25" x2="694.0" y2="1440.25" stroke="#222" stroke-width="0.9"/><text x="696.5" y="1449.95" font-size="27" fill="#111">1</text><line x1="690.7" y1="1337.50" x2="694.0" y2="1337.50" stroke="#222" stroke-width="0.9"/><text x="696.5" y="1347.20" font-size="27" fill="#111">2</text><line x1="690.7" y1="1234.75" x2="694.0" y2="1234.75" stroke="#222" stroke-width="0.9"/><text x="696.5" y="1244.45" font-size="27" fill="#111">3</text><line x1="690.7" y1="1132.00" x2="694.0" y2="1132.00" stroke="#222" stroke-width="0.9"/><text x="696.5" y="1141.70" font-size="27" fill="#111">4</text><text transform="translate(740.4,1383.75) rotate(-90)" font-size="32.5" fill="#111" font-style="italic" textLength="94.5" lengthAdjust="spacingAndGlyphs">G<tspan dy="6" font-size="22">d</tspan><tspan dy="-6">(t,r)</tspan></text><text x="2.5" y="1127.5" font-size="41" font-weight="bold">e</text><clipPath id="clipf"><rect x="852.4" y="1132" width="526.8000000000001" height="411"/></clipPath><g clip-path="url(#clipf)"><g filter="url(#hblur)" shape-rendering="crispEdges"><g transform="translate(843,1120) scale(3,4)" fill="none"><rect width="182" height="109" fill="#006cff"/><path stroke="#000080" d="M0.5 93v16m1-13v13m1-14v14m1-17v17m1-17v17m1-15v15m1-16v16m1-20v2m0 1v17m1-22v2m0 6v14m1-17v17m1-16v16m1-18v18m1-17v17m1-18v18m1-13v13m1-16v16m1-14v14m1-16v16m1-18v18m1-16v16m1-18v18m1-14v14m1-19v19m1-17v17m1-17v17m1-20v20m1-15v15m1-17v17m1-19v19m1-13v13m1-20v20m1-15v15m1-21v21m1-15v15m1-14v14m1-18v18m1-19v19m1-15v15m1-16v16m1-19v19m1-19v1m0 1v17m1-15v15m1-15v15m1-15v15m1-14v14m1-14v14m1-14v14m1-15v15m1-19v19m1-27v2m0 6v1m0 1v17m1-19v19m1-16v16m1-19v1m0 1v17m1-18v18m1-15v15m1-20v20m1-26v2m0 8v16m1-17v17m1-14v14m1-22v22m1-19v19m1-15v15m1-16v16m1-18v18m1-18v18m1-19v19m1-19v1m0 1v17m1-16v16m1-18v18m1-17v17m1-14v14m1-16v16m1-22v22m1-15v15m1-18v18m1-17v17m1-17v1m0 15v1"/><path stroke="#00009d" d="M0.5 91v2m1 1v2m1-3v2m1-4v1m1-1v1m1 1v1m1-4v1m0 1v1m1-5v1m0 2v1m1-6v1m0 2v1m0 4v1m1-4v1m1-1v2m1-5v1m1 2v1m2 2v2m1-4v1m1-5v2m0 3v2m1-3v1m2-1v1m1-3v1m1 2v2m1-7v2m1 1v1m1-2v2m1-4v1m1 3v2m1-3v1m2-3v2m0 3v2m1-8v1m1 4v1m1-7v1m1 4v2m1-6v1m0 5v1m3-3v2m1-2v1m2-4v1m0 1v1m1-4v6m1-1v1m1-1v1m1 0v1m1-1v1m1-2v2m1-3v2m1-5v1m1-9v1m0 2v1m0 6v1m2 0v1m1-4v1m0 1v1m1-2v1m1 2v1m1-7v2m1-4v1m0 6v1m1-2v1m1 0v3m2-6v1m1-3v2m0 4v1m1-3v2m1-3v1m2-2v1m1-8v2m0 7v1m1 0v1m2-3v2m1-5v2m0 4v2m1-4v2m1-8v2m1 6v1m1-5v2m1 0v1m1-1v1m0 1v2m0 12v1"/><path stroke="#0000bb" d="M1.5 87v7m1-3v2m1-10v1m0 6v1m1-1v1m1 0v2m1-7v4m0 1v1m2-7v1m0 7v1m3-7v1m0 1v1m2 0v1m1 0v3m1-3v1m1-9v5m0 2v3m1-2v1m2-3v3m1-3v1m1-4v3m0 3v1m1-31v1m0 24v1m1-28v5m1 17v2m0 5v1m1-3v1m1 3v1m2-3v1m1-27v2m0 22v2m0 2v3m1-8v2m1 4v1m2-2v1m1-5v1m0 1v1m0 2v2m1-4v1m1-2v1m1 1v1m1-1v1m1-3v1m1-2v1m1-2v1m1 4v1m1-1v1m1 0v1m1-2v2m1-6v2m0 1v2m1-2v1m2-3v1m1-1v1m1-3v2m0 2v1m1-6v3m1 0v1m1 2v1m1-7v1m1-5v1m0 3v1m0 4v1m1-2v1m1-1v2m1-6v1m1 1v1m1 0v1m0 1v2m1-5v1m1-27v1m0 26v1m2-29v4m1 19v1m0 4v1m1 1v1m1-2v1m2-5v1m1 2v2m1-7v1m1 7v1m1-5v1m2 0v2m0 4v1m0 8v3m37-24v1m43-1v1m17-1v2"/><path stroke="#0000d9" d="M1.5 85v2m1 3v1m1-9v1m0 1v2m0 2v2m1-1v1m1-90v3m0 78v2m0 7v1m1-6v1m1 1v1m1 2v1m1-1v1m2-91v3m0 59v3m0 21v1m0 3v1m1-1v1m1-3v2m3-9v2m2-21v3m0 25v1m1-7v5m2-89v3m0 86v1m0 1v1m1-37v7m0 1v3m0 17v4m1-30v3m0 5v2m1 14v1m0 2v1m1-85v2m0 79v3m1 2v3m2-27v2m0 24v1m1-31v5m0 2v3m0 13v3m0 2v1m1-26v4m1 25v2m3-2v2m1-3v1m3-9v2m1-24v6m1 22v1m2-3v3m1-2v2m0 3v1m1 0v1m1-2v1m1-92v2m0 85v1m0 2v1m1-8v3m0 4v1m1-3v1m1-9v1m0 4v1m1 2v1m1-28v5m0 20v1m0 2v2m1-29v1m0 21v2m1-24v1m1 28v1m1-7v1m2 3v1m3-3v1m1-2v1m0 3v1m1-33v8m0 21v1m0 1v1m1-32v4m0 1v3m0 21v2m1-27v1m0 27v1m1-35v5m0 4v2m1 14v1m0 3v1m1 4v1m1-29v3m0 24v1m1-1v1m1-5v1m0 3v1m0 2v1m1-8v4m1-6v1m1-2v3m1 2v1m1 2v1m1-3v1m0 7v1m0 2v5m1-43v5m1-2v1m5-6v6m7-3v4m3 17v1m1-84v1m1 59v6m6-65v3m7 57v5m2-5v5m3 16v1m0 1v1m8-24v4m1-65v4m3 56v6m14 16v2m6-83v2m10 60v3m1 16v1m0 1v1m1-24v4m3-65v4m9 58v3m1-65v1m0 60v5m3 16v1m6-83v1m2 86v2"/><path stroke="#0000f6" d="M0.5 57v10m0 18v2m0 3v1m1-7v1m1-4v4m0 4v1m1-9v1m0 4v2m1 0v1m1-86v2m0 75v1m0 2v1m1 0v1m1-85v2m0 58v6m1 18v1m0 7v1m1-93v1m0 80v3m1 6v1m1-88v2m0 53v4m0 3v3m0 17v1m1-4v2m0 5v1m1-3v1m1-28v5m0 17v5m0 3v1m1-91v3m0 50v3m0 29v6m1-11v1m1-81v5m0 77v3m0 5v1m1-33v4m0 3v3m0 21v1m1-90v2m0 79v3m1 4v1m1-86v3m0 79v1m0 4v1m1-91v3m0 48v4m0 11v2m0 14v1m1-83v3m0 50v4m0 10v1m0 22v1m1-91v3m0 77v1m0 4v4m1-87v3m0 75v1m0 3v3m1-87v1m0 59v6m0 19v1m0 3v2m1-36v11m0 24v1m1-32v3m0 2v3m1-13v4m0 10v1m0 10v2m0 3v2m1-29v4m0 4v2m0 18v1m1-4v8m1-36v12m0 20v1m1 2v2m1-91v4m0 56v6m0 20v1m2-87v1m0 87v1m1-30v7m0 24v1m1-30v4m0 15v1m0 2v1m1-84v3m0 51v5m0 6v2m0 21v1m1-9v1m1-31v16m0 16v1m0 3v1m1-3v1m0 3v2m0 1v1m1-7v1m0 2v1m1-25v1m0 21v3m0 2v1m1-9v2m0 5v1m1-89v2m1 78v1m0 3v2m0 1v1m1-90v4m0 50v11m0 22v1m1-88v5m0 49v13m0 12v1m0 8v1m2-31v3m0 5v3m0 16v1m1-28v4m0 1v3m0 17v1m1-27v5m0 1v3m0 22v1m1-34v12m1 17v1m1-4v1m0 5v1m0 1v2m1-6v4m1-89v5m0 57v3m0 17v4m0 3v1m1-90v6m0 44v8m0 27v1m3-35v7m0 8v2m0 18v1m0 3v1m1-36v3m0 8v1m1-9v4m0 1v3m0 23v1m1-90v2m0 50v4m0 11v2m0 19v1m1-87v6m0 72v1m0 5v3m1-89v4m0 77v4m0 4v1m1-90v3m0 54v5m0 3v2m0 14v3m1-84v5m0 56v5m1-66v3m0 87v2m1-9v2m1-85v4m0 46v8m1-1v9m0 14v2m0 3v1m0 5v1m1-6v1m1 2v1m1-3v1m0 9v2m1-43v5m0 5v2m1-10v6m0 1v3m4-14v12m1-12v5m0 6v1m0 18v4m2-88v1m5 54v7m0 4v3m1-8v4m1-65v2m1-2v1m0 49v6m0 25v2m0 1v1m1-84v4m1 52v3m0 6v2m0 12v2m3-20v4m1-66v5m0 55v8m1-9v7m1-66v1m0 3v3m2 77v1m1-24v4m2-65v2m0 60v2m0 18v3m1-35v15m1-65v3m0 54v4m0 5v3m0 16v3m1-88v5m0 53v9m1-9v3m0 5v1m3-67v4m0 58v5m1-67v4m3-4v2m1 59v4m1-65v2m1 50v13m1-7v3m0 4v2m1-63v2m1 44v8m1-58v4m1 51v5m0 6v2m3-9v7m1-10v11m2-67v4m0 46v16m2-66v2m4 60v3m1-4v5m1-66v3m0 78v1m0 2v1m1-24v5m2-66v2m1 58v5m0 18v2m1-85v6m0 55v5m1-66v1m0 2v4m0 53v6m3-12v13m2-67v2m3-2v3m1 57v5m1-8v6m0 3v3m0 14v2m1-32v12m0 16v1m1-24v3m0 4v1m3-62v3m1-7v4m4 60v1m0 23v1m1-28v4m3-8v5m0 3v2m1-66v2m0 52v6m0 5v3m1-13v10m1-66v3m0 47v5m1 30v1m3-86v3m1 55v10m2-67v3m1-4v2m1 83v2m0 2v2"/><path stroke="#0003ff" d="M0.5 0v3m0 48v6m0 10v2m0 15v1m0 2v3m1-36v13m1-67v5m0 58v2m0 15v1m1-28v14m1-67v3m0 57v6m0 21v1m1-83v2m0 48v11m0 13v1m0 4v1m0 4v1m1-90v3m0 52v11m1-64v3m0 48v7m0 6v2m0 18v1m1-87v4m0 48v14m0 25v1m1-91v3m0 46v9m0 5v1m0 15v1m0 3v1m0 4v1m1-90v3m0 50v14m0 13v10m1-85v2m0 47v4m0 10v1m0 15v1m1-85v3m0 55v8m0 15v1m1-82v4m0 52v10m0 20v1m1-87v3m0 53v4m0 5v2m0 14v1m0 5v3m1-87v3m0 44v3m0 3v11m0 17v1m1-85v3m0 54v10m1-62v2m0 74v1m1-82v4m0 50v4m0 10v1m0 19v1m1-87v3m0 49v11m0 15v1m1-81v5m0 59v1m1-59v2m1-5v3m0 44v1m0 17v1m0 11v2m1-79v2m0 45v3m0 15v1m0 10v3m0 7v1m1-87v2m1 0v1m0 57v2m1-64v3m0 52v4m0 6v2m0 16v1m1-85v7m0 43v5m0 11v2m1-68v4m0 52v3m0 8v2m0 11v3m0 4v1m1-88v4m0 47v3m0 15v1m1-17v4m0 10v2m0 15v1m1-35v11m0 3v1m0 15v2m1-82v4m0 46v4m0 12v2m1-5v3m0 22v1m1-85v2m0 51v3m0 6v2m0 17v1m1-86v3m0 47v17m0 15v7m1-88v3m0 47v15m1-11v4m0 7v2m0 21v1m1-90v4m0 49v8m0 4v2m0 12v1m0 4v1m0 5v1m1-88v3m0 44v4m0 13v2m0 10v2m1-81v5m0 59v1m0 14v1m0 1v1m0 4v1m1-86v6m0 42v1m0 16v1m0 14v1m0 1v1m0 1v1m1-36v1m0 31v2m0 6v1m1-91v3m0 60v3m0 23v2m1-91v5m0 53v6m0 1v2m0 12v2m0 8v2m1-91v3m0 60v2m0 17v1m0 2v5m1-86v2m0 44v18m0 12v1m0 5v1m1-87v2m0 48v17m0 14v1m0 6v1m1-85v2m0 44v4m0 11v2m0 16v4m1-82v2m0 43v4m0 13v2m0 17v2m1-88v5m0 45v16m0 21v1m1-88v6m0 48v4m0 21v2m1-81v4m0 50v4m0 8v2m0 14v1m1-83v1m0 52v4m0 9v2m0 15v5m1-88v1m0 49v5m0 12v2m0 14v4m0 3v1m1-91v1m0 56v11m0 15v1m1 4v1m1-89v2m0 62v1m0 19v1m1-80v2m0 50v5m0 3v2m0 13v2m0 4v3m1-83v3m0 40v1m0 8v8m1-66v5m0 81v1m1-87v2m0 54v11m0 18v1m1-86v3m0 47v1m0 17v1m1-69v6m0 46v3m0 12v1m0 18v1m1-86v5m0 48v4m0 8v2m0 14v2m0 4v1m1-87v2m0 46v2m1-52v2m0 6v2m0 51v4m1-61v2m0 58v3m0 12v2m0 4v2m1-84v3m0 47v4m0 10v2m0 11v1m0 3v1m0 3v1m1-84v2m0 50v4m0 5v3m0 19v1m1-86v3m0 45v15m0 13v2m0 3v1m1-85v6m0 76v1m1-79v3m0 42v1m0 8v11m1-69v4m0 47v6m0 9v2m0 11v1m0 6v1m0 3v1m1-89v2m0 55v7m1-66v6m0 44v16m0 22v1m1-39v16m1-66v2m0 50v4m0 12v1m0 23v1m1-93v5m0 48v5m0 10v1m0 12v4m1-24v5m1-66v3m1-3v3m0 47v15m1-65v5m0 45v4m0 12v1m1-67v2m0 48v4m0 12v2m0 14v2m0 4v1m1-89v6m0 44v8m1-57v3m1-4v6m0 53v8m1-67v6m1-6v4m0 56v7m1-67v1m0 49v18m0 12v1m1-81v5m0 46v4m1-2v8m0 4v2m0 17v1m1-83v3m0 52v9m1-65v3m0 45v1m0 6v10m0 14v1m0 4v1m1-81v2m1 47v3m0 11v1m0 10v1m0 2v1m1-83v5m0 45v16m1-66v1m0 51v16m1-11v5m0 4v2m1-63v2m0 49v4m0 8v1m1-69v4m0 50v5m0 7v2m1-61v3m1-10v4m0 46v7m0 23v5m1-23v3m0 17v2m0 1v2m1-31v5m0 4v2m1 16v1m1-82v4m0 44v12m0 2v3m0 18v1m1-86v7m0 42v1m0 15v2m1-64v3m0 48v3m0 26v2m0 3v1m1-84v3m0 45v5m0 9v2m1-69v5m0 50v3m0 9v2m1-6v3m1-66v3m0 55v8m0 17v1m1-80v3m0 50v5m0 5v2m0 12v1m0 3v1m1-82v3m0 56v2m1-65v3m0 46v9m1-58v6m1-4v2m0 53v9m1-66v2m0 51v8m0 4v2m1-65v2m0 50v13m1-17v2m0 13v2m1-13v4m0 9v2m1-63v2m0 72v2m1-33v1m0 8v10m1-64v3m0 53v7m1-15v3m0 13v1m2-69v7m0 47v13m1-67v6m0 47v6m0 7v2m1-68v4m0 47v5m0 11v2m1-7v4m0 20v3m1-85v2m0 43v1m0 16v3m1-69v5m0 59v1m1-63v2m0 46v5m1-55v1m0 79v5m1-85v5m0 54v7m2-66v3m0 56v3m0 3v3m1-68v3m0 54v4m0 5v3m0 11v2m1-79v2m0 75v1m1-81v3m0 54v4m0 5v2m0 15v3m1-86v3m1-1v3m1 47v8m0 5v3m0 14v1m0 2v1m1-80v3m0 48v4m0 5v2m1-61v2m0 44v7m0 6v2m1-68v3m0 47v16m1-66v4m0 53v10m1-67v3m0 47v4m0 13v2m2-67v3m1-5v3m0 54v9m1-66v5m0 55v7m0 13v4m1-81v2m0 51v10m0 18v4m1-88v2m0 53v5m0 5v2m1-67v2m0 50v5m0 12v1m0 11v2m0 2v1m1-36v3m0 12v2m0 13v1m0 4v1m1-86v1m0 53v4m0 8v2m1-68v2m0 48v8m1-58v2m0 51v12m1-58v2m0 55v2m0 14v1m1-77v3m1-7v3m0 49v6m0 6v1m0 16v6m1-87v2m0 48v17m0 15v3m1-26v7m0 21v2m1-87v2m0 52v8m0 1v2m0 20v1m0 1v1m1-90v5m0 48v8m0 4v2m1-67v3m0 47v17m0 16v1m1-84v2m0 58v5m1-12v4m0 10v2m1-66v2m0 46v4m1-55v7m0 43v6m0 10v3m1-66v3m0 43v1m0 5v5m1-10v16m0 15v1m0 4v1m1-87v6m0 77v3m1-86v4m0 46v10m1-57v3m0 48v13m1-67v2m0 50v6m0 10v1m1-69v1m0 79v1m1-77v2m0 54v7m1-65v2m0 46v10m0 4v1m1-65v4m0 46v15m0 19v1m0 6v2"/><path stroke="#001dff" d="M0.5 3v2m0 45v1m0 28v5m1-84v3m0 47v4m0 13v2m0 14v1m1-79v2m0 43v13m0 2v3m0 11v1m0 5v2m0 1v1m1-89v6m0 44v3m0 14v2m0 11v1m1-78v2m0 50v5m0 6v3m0 10v4m0 1v3m1-80v1m0 42v5m0 11v2m0 17v4m1-86v3m0 44v5m0 11v1m0 16v1m1-79v2m0 43v3m0 15v1m0 10v2m1-77v2m0 44v2m0 14v3m0 14v1m1-80v1m0 44v1m0 9v5m0 1v4m0 10v1m0 5v1m1-83v2m0 45v3m0 14v2m0 10v1m1-73v2m0 42v3m0 15v1m0 13v1m1-81v2m0 45v8m0 8v2m0 12v1m0 3v1m0 3v1m1-85v2m0 45v5m0 10v2m0 17v1m1-83v2m0 47v4m0 11v2m0 11v1m1-75v2m0 41v1m0 17v2m0 14v1m1-81v2m0 47v5m0 10v2m0 10v1m1-73v2m0 40v12m0 3v1m0 15v1m0 4v1m1-82v3m0 44v3m0 15v1m0 17v1m1-83v2m0 43v4m0 11v3m0 11v1m1-75v2m0 45v12m0 1v2m1-59v1m0 41v5m0 29v1m1-79v1m0 42v1m0 19v1m0 9v1m1-75v2m0 62v1m0 12v4m1-81v1m0 44v17m0 12v1m1-74v2m0 42v13m0 2v4m0 10v1m1-76v2m0 46v4m0 12v1m0 13v2m1-77v2m0 40v1m0 18v1m0 20v1m1-86v2m0 47v3m0 23v1m0 3v1m0 2v1m1-83v3m0 43v1m0 27v1m1-29v3m0 26v1m1-80v4m0 45v1m0 11v3m0 1v3m0 11v1m1-76v3m0 42v1m0 18v1m0 16v1m1-86v7m0 44v12m0 3v3m0 10v1m0 7v1m1-82v1m0 47v3m0 11v1m0 10v4m0 1v1m1-82v3m0 43v1m0 17v2m0 12v1m1-78v2m0 44v1m0 15v2m0 11v3m1-82v7m0 45v3m0 13v1m0 10v4m0 3v3m1-85v3m0 43v3m0 14v2m0 16v1m0 3v1m1-84v2m0 73v1m1-77v2m0 52v5m0 1v4m0 13v1m0 2v1m1-86v1m0 6v3m0 57v2m0 11v1m0 3v1m1-85v6m0 43v1m0 1v10m0 2v3m0 14v2m1-79v3m0 44v13m0 3v3m0 15v1m1-80v3m0 46v4m0 9v2m0 12v1m0 3v1m1-83v3m0 44v13m0 2v3m0 11v3m1-76v1m0 42v1m0 18v1m0 10v1m0 1v1m1-80v2m0 45v1m0 17v2m0 11v1m1-75v2m0 41v1m0 17v2m0 13v1m1-76v2m0 40v1m1-45v3m0 41v1m0 16v2m0 11v2m1-75v2m0 44v2m0 15v1m0 8v1m0 2v1m0 2v1m1-81v3m0 45v2m0 14v1m0 12v1m1-81v3m0 46v3m0 15v1m0 13v1m1-82v4m0 76v2m0 4v1m1-87v3m0 46v7m0 11v1m0 10v1m0 2v1m1-83v6m0 44v19m0 10v2m1-79v3m0 45v14m0 1v4m0 10v2m0 1v2m1-77v2m0 44v4m0 10v2m0 10v1m1-71v1m0 56v2m1-63v3m0 45v15m1-66v2m0 46v6m0 11v2m0 10v1m1-77v3m0 43v1m0 35v1m1-80v3m0 41v2m0 16v1m1-69v1m0 5v3m0 42v3m0 14v1m0 11v2m0 2v1m1-81v2m0 43v1m0 19v1m0 11v2m0 4v1m1-78v3m0 40v8m0 4v2m0 12v1m1-74v2m0 50v6m0 3v2m0 18v2m1-83v2m0 42v3m0 26v1m0 5v3m1-81v2m0 44v4m0 22v9m1-82v2m0 41v2m0 15v3m0 12v3m1-78v2m0 42v7m0 7v2m1-59v1m0 74v1m1-79v3m0 43v1m0 17v1m1-69v2m0 2v4m0 44v7m0 7v2m1-62v2m0 41v1m0 16v2m0 11v3m0 5v1m1-88v1m0 48v1m0 16v2m0 11v2m0 5v1m1-85v4m0 44v2m0 17v1m0 21v1m0 1v2m1-90v2m0 43v3m0 16v1m0 10v1m0 4v2m1-87v4m0 49v8m0 5v3m0 11v6m1-83v2m0 44v13m0 1v3m1-63v2m0 44v1m0 15v2m1-62v2m0 42v1m0 17v2m0 16v2m1-85v4m0 62v1m0 12v1m0 7v1m1-84v3m0 40v1m0 8v9m1-63v1m0 55v6m1-60v3m0 44v6m0 8v2m1-63v2m0 42v19m1-65v2m0 46v8m0 7v2m0 13v3m1-84v4m0 44v1m0 18v1m0 12v3m1-79v3m0 42v1m0 18v1m1-70v5m0 45v3m0 14v2m0 11v4m0 1v3m1-83v2m0 45v5m0 9v3m0 11v5m1-81v2m0 60v3m0 17v1m1-80v1m0 42v8m0 23v4m1-85v4m0 47v3m0 29v3m1-81v2m0 42v1m0 16v3m1-68v4m0 45v2m0 16v1m1-69v5m0 48v4m0 11v1m1-62v2m0 43v4m0 13v1m1-66v3m0 43v4m0 14v1m1-59v2m0 38v7m1-53v3m0 42v1m0 7v5m0 1v5m0 17v2m1-87v3m0 50v9m0 3v2m0 13v2m0 5v2m1-89v4m0 48v4m0 11v2m0 14v3m1-86v8m0 51v7m0 16v1m0 1v2m1-80v2m0 41v1m0 17v1m0 13v1m0 4v1m1-80v2m0 58v2m1-63v2m0 43v3m0 15v1m0 10v3m1-75v2m0 40v3m0 27v3m1-78v3m0 45v2m1-5v13m0 3v3m0 14v6m1-86v2m0 45v8m0 8v2m0 12v3m0 1v2m1-79v1m0 46v3m0 12v1m0 10v1m1-74v2m0 41v13m0 2v4m1-66v3m0 52v10m0 15v3m1-80v2m0 42v16m1-62v2m0 45v6m0 9v2m1-66v3m0 45v3m0 14v2m1-65v1m0 45v4m0 13v2m1-69v6m0 43v1m0 17v1m1-68v7m0 44v3m1-46v2m0 43v15m0 14v6m1-88v3m0 65v1m1-62v2m0 44v7m0 7v2m1-19v2m0 17v1m0 10v2m1-82v3m0 60v3m1-59v3m0 40v4m0 13v2m1-63v2m0 42v3m0 15v1m1-65v3m0 43v1m0 30v4m1-85v6m0 46v10m0 4v3m0 15v2m1-80v2m0 72v2m1-77v2m0 46v11m0 1v3m0 12v1m1-77v2m0 43v1m0 5v13m0 12v1m1-80v3m0 60v1m0 20v1m1-81v2m0 44v8m0 7v3m1-69v5m0 45v16m1-63v2m0 51v3m0 9v1m1-66v3m0 47v4m0 22v1m0 2v1m1-78v2m0 53v8m0 17v1m1-83v2m0 49v3m0 11v1m0 13v1m0 3v1m1-84v3m0 48v14m0 14v2m1-79v2m0 51v11m0 14v4m1-87v6m0 44v2m0 16v1m0 12v1m0 4v1m1-78v1m0 43v4m0 11v1m1-60v2m0 39v3m0 15v1m0 11v2m1-79v2m0 44v1m0 16v3m0 11v1m1-77v3m0 44v6m0 10v2m0 13v3m1-82v2m0 44v1m0 19v1m1-70v4m0 46v7m1-52v2m0 43v7m1-54v2m0 46v6m0 9v2m0 13v3m1-79v2m0 46v7m0 7v2m1-64v2m0 44v5m0 10v3m0 12v3m0 4v1m1-87v3m0 46v4m0 12v2m1-67v3m0 45v2m0 28v1m0 5v1m1-87v4m0 45v1m0 17v2m1-68v4m0 46v3m0 14v1m1-67v3m0 44v1m0 8v8m0 17v3m1-84v3m0 45v3m0 12v3m0 15v3m1-77v1m0 40v14m0 2v3m0 10v1m0 1v1m1-75v2m0 41v5m0 25v2m1-79v3m0 44v2m0 6v6m0 1v3m0 12v1m0 6v2m1-87v3m0 44v1m0 17v2m0 12v1m0 3v1m1-86v3m0 47v9m0 7v3m0 17v1m1-87v2m0 2v4m0 43v5m0 11v2m0 17v1m0 3v1m1-86v2m0 43v3m0 14v1m0 12v5m1-82v2m0 44v1m0 17v2m0 11v3m0 1v2m1-84v3m0 49v6m0 5v2m0 17v1m1-85v5m0 45v3m0 27v1m1-76v1m0 44v1m0 18v1m0 10v5m1-78v3m1-4v2m0 52v9m0 14v2m1-85v7m0 42v1m0 16v2m0 12v1m1-75v3m0 41v19m0 12v2m0 3v1m1-83v2m0 43v1m0 10v7m1-61v2m0 42v4m0 13v2m1-67v3m0 45v2m0 17v1m0 10v1m1-80v4m0 45v8m0 6v1m0 16v2m1-77v1m0 46v7m0 7v2m1-65v2m0 43v1m0 10v4m0 1v3m0 12v2m1-78v2m0 43v1m0 15v3m0 15v1m0 9v2"/><path stroke="#0038ff" d="M0.5 5v2m0 42v1m0 19v1m1-67v2m0 44v1m0 32v1m1-76v1m0 41v1m0 18v1m0 18v1m1-82v3m0 40v1m0 19v1m0 9v1m1-75v2m0 44v4m0 28v1m1-76v1m0 59v1m1-63v1m0 60v2m0 13v1m1-76v1m0 41v1m0 19v1m0 11v1m0 3v1m1-80v2m0 41v1m0 29v4m1-78v2m0 79v3m1-84v2m0 42v1m0 19v1m1-61v1m0 40v1m0 28v4m1-78v2m0 61v1m0 10v1m0 5v1m0 1v1m1-82v2m0 42v1m0 17v1m0 15v1m1-80v1m0 44v2m0 27v1m1-72v2m0 69v4m1-78v2m0 43v2m0 17v1m1-61v2m0 50v3m0 1v4m0 10v1m0 9v1m1-83v2m0 41v1m1-44v1m0 41v1m0 18v1m1-62v2m0 41v2m0 15v2m0 18v1m1-79v4m0 36v1m0 5v7m0 1v3m0 13v1m1-73v2m1-2v1m0 41v1m0 28v1m0 7v3m1-83v1m0 42v1m0 17v2m1-61v1m0 40v1m1-44v2m0 42v2m0 17v1m0 9v3m1-73v3m0 57v1m0 9v3m1-76v2m0 43v2m0 16v1m0 14v2m1-79v1m0 41v1m0 20v1m1-71v5m0 64v1m0 10v4m1-80v3m0 61v1m1-62v2m0 18v5m0 47v3m1-75v2m0 41v1m0 29v1m0 5v1m1-80v2m0 42v3m0 15v1m0 13v1m1-78v2m0 61v1m0 10v1m1-75v1m0 42v1m0 18v1m0 13v1m0 4v1m1-81v3m0 40v2m0 17v1m0 13v3m1-79v1m0 41v1m0 28v1m0 7v1m0 1v1m1-81v2m0 39v1m0 19v1m0 8v1m0 8v1m1-81v2m0 45v5m0 10v1m0 8v1m0 4v2m1-75v3m0 66v1m1-74v2m0 7v6m0 5v3m0 32v2m0 3v3m0 10v1m1-74v2m0 41v1m0 19v1m1-62v2m0 41v3m0 24v1m0 3v1m0 1v1m1-79v2m0 41v1m0 18v1m1-62v2m0 60v1m0 8v1m0 3v1m0 2v1m1-82v2m0 63v1m0 9v1m1-72v1m0 71v2m1-73v1m0 59v1m0 8v1m1-71v2m0 58v1m0 12v1m0 4v1m1-79v2m0 40v2m0 30v2m1-77v2m0 41v2m0 28v1m1-77v2m0 63v1m0 11v1m1-77v2m0 42v1m0 19v1m0 9v2m0 7v2m1-86v2m0 63v1m0 10v2m1-76v2m0 41v1m1-45v2m0 42v1m0 19v1m0 8v1m0 2v1m1-73v4m0 37v3m1-43v6m0 52v1m0 10v3m0 2v1m1-77v2m0 40v3m0 15v1m0 16v1m1-82v2m0 63v1m0 10v2m0 2v1m1-79v1m0 62v1m0 9v1m1-71v1m0 39v1m0 19v1m0 9v2m0 4v1m1-77v2m0 39v1m0 28v1m0 5v3m1-82v1m0 72v2m0 2v1m1-71v2m0 35v3m0 14v2m1-61v2m0 42v6m0 11v1m0 8v1m1-71v2m0 59v1m1-61v1m0 24v3m0 13v3m0 16v1m1-62v2m0 6v3m0 50v1m0 8v1m1-71v2m0 39v1m0 7v7m0 2v3m0 10v3m1-74v2m0 59v1m0 11v1m1-75v2m0 40v1m0 19v1m0 8v1m1-71v2m0 40v2m0 16v1m0 16v1m1-78v1m0 20v8m0 31v1m0 13v2m0 1v2m1-86v4m0 63v1m0 12v1m1-76v2m0 41v1m0 34v2m0 4v1m0 4v1m1-89v2m0 40v1m0 29v1m0 7v3m1-86v2m0 44v3m0 33v1m1-82v2m0 55v1m0 3v3m0 11v2m0 3v3m1-83v2m0 60v2m0 12v2m0 1v3m1-80v2m0 71v5m0 2v2m0 17v1m1-101v2m0 41v1m0 30v1m1-72v2m0 56v2m1-64v2m0 21v3m0 23v6m0 6v3m0 18v3m1-81v1m0 40v3m0 34v1m1-80v2m0 39v1m0 33v3m1-80v2m0 42v2m0 17v1m0 10v2m0 3v1m1-81v2m0 62v1m0 9v1m0 4v1m1-77v2m0 39v1m0 20v1m0 9v1m1-76v2m0 21v2m0 19v1m0 19v1m0 18v1m1-82v2m0 41v2m0 33v1m1-80v2m0 20v3m0 48v1m1-72v2m0 17v10m0 12v1m0 8v9m0 13v1m0 4v1m1-82v3m0 43v1m0 18v1m0 16v2m1-81v2m0 71v2m1-77v2m0 42v1m0 19v1m1-65v2m0 43v3m0 16v1m0 13v4m1-78v4m0 37v2m0 28v5m1-78v2m0 60v1m1-58v4m0 33v1m0 7v9m0 21v2m1-82v2m0 53v1m0 5v1m0 10v1m0 7v2m1-86v3m0 44v3m0 14v2m1-65v2m0 44v2m0 29v2m0 3v1m1-79v2m0 42v7m0 7v2m0 12v2m0 4v2m1-80v1m0 59v1m0 11v1m0 6v1m1-79v2m0 58v1m0 10v2m0 3v1m0 3v4m1-85v2m0 40v1m0 28v1m0 9v1m1-80v5m0 34v1m0 19v1m0 9v1m0 3v3m1-78v2m0 41v2m0 16v1m0 13v2m1-85v8m0 41v1m0 19v1m0 10v3m0 6v1m1-85v2m0 42v1m0 18v1m0 17v1m1-79v2m0 41v3m0 25v1m0 6v1m1-78v1m0 39v1m0 31v5m1-80v2m0 60v1m0 13v1m0 3v2m1-80v2m0 39v1m0 16v2m0 15v1m1-78v2m0 42v1m0 17v1m1-64v2m0 42v1m1-45v2m0 42v1m0 19v1m0 10v1m1-75v2m0 60v1m0 17v4m1-83v2m0 41v1m0 18v1m0 12v4m1-76v3m0 37v3m0 15v1m0 10v1m0 8v3m1-88v3m0 63v1m0 10v3m0 1v2m1-77v2m0 39v3m0 16v1m0 15v4m1-89v5m0 44v1m0 29v1m1-77v3m0 48v9m0 3v3m1-59v3m0 36v1m0 32v4m1-78v2m0 39v1m0 19v1m0 10v2m1-75v2m0 40v1m0 19v1m0 10v1m0 4v2m1-81v3m0 41v2m0 30v2m0 5v1m1-82v2m0 59v1m0 9v1m0 2v4m1-79v2m0 41v3m0 15v1m0 12v6m1-81v2m0 60v1m0 10v1m0 1v2m0 2v2m1-83v2m0 47v11m0 1v4m0 10v1m0 6v1m1-80v2m0 41v1m1-46v2m0 42v1m0 16v2m0 12v4m1-79v1m0 47v3m0 13v1m0 10v11m1-85v2m0 42v3m0 16v1m0 13v1m1-77v1m0 47v5m0 8v1m0 10v1m1-75v2m0 27v3m0 14v3m0 15v1m0 10v2m0 5v1m1-82v2m0 42v4m0 14v1m0 11v2m0 2v1m1-78v1m0 27v1m0 15v7m0 23v2m0 4v1m1-82v2m0 41v1m0 19v1m0 10v1m1-71v3m0 37v3m0 16v1m0 10v2m1-71v5m0 33v1m0 19v1m0 9v1m0 2v1m1-78v2m0 72v1m0 1v1m1-75v2m0 41v1m0 18v1m0 10v2m0 3v1m1-81v2m0 76v2m1-81v3m0 42v1m0 7v9m1-59v1m0 41v1m0 7v10m0 13v1m1-76v2m0 43v1m0 17v1m0 11v1m0 3v1m1-78v2m0 41v3m0 26v1m0 4v1m1-78v1m0 42v1m0 29v1m0 8v1m1-85v2m0 43v1m0 35v3m1-84v2m0 42v1m0 20v1m0 8v1m0 7v1m1-84v2m0 80v1m1-82v1m0 44v1m0 18v1m0 10v1m1-76v2m0 21v10m0 28v2m0 13v2m0 3v1m1-82v2m0 42v1m0 18v1m0 11v3m0 3v2m1-78v5m0 34v1m0 19v1m0 12v4m1-77v1m0 39v1m0 5v13m0 11v1m0 2v1m1-77v2m0 41v1m0 18v1m0 10v1m0 9v2m1-86v2m0 73v1m1-78v3m0 43v1m0 30v1m0 4v1m1-78v3m0 39v1m0 18v1m0 15v1m0 5v1m1-85v2m0 40v1m0 18v1m0 10v1m0 5v2m1-82v2m0 79v1m1-82v2m0 43v4m0 13v2m0 14v1m0 1v1m1-81v2m0 42v1m0 19v1m0 9v1m0 1v2m1-77v1m0 42v1m0 20v1m0 14v1m1-76v6m0 12v4m0 17v1m0 19v1m0 10v1m0 6v2m1-81v2m0 71v2m0 2v1m1-79v3m0 58v1m0 18v1m1-79v1m0 39v1m0 19v1m0 10v1m0 6v1m1-82v2m0 59v2m1-61v1m0 40v1m1-45v2m0 42v1m0 29v1m1-75v2m0 42v1m0 8v6m0 1v4m0 10v1m0 3v1m1-77v1m0 42v3m0 16v1m1-64v1m0 61v1m0 10v1m0 2v4m1-80v2m0 60v1m0 13v1m0 12v1"/><path stroke="#0052ff" d="M0.5 7v1m0 70v1m1-74v2m0 62v1m0 9v1m0 1v1m1-74v11m0 7v11m0 32v1m0 8v1m1-70v4m0 15v8m1-29v1m0 42v1m0 18v1m0 8v1m1-70v10m0 30v1m0 19v1m0 8v1m1-72v2m0 40v1m1-42v2m0 68v1m1-71v2m0 59v1m1-63v1m0 19v4m0 38v1m0 8v1m1-72v1m0 70v1m1-69v6m0 33v1m0 20v1m0 7v1m1-72v1m0 41v1m0 19v1m0 16v1m1-79v2m0 39v1m0 19v1m0 12v2m1-78v1m0 42v1m0 19v1m1-60v3m0 22v3m0 31v1m1-63v1m0 41v1m0 28v1m1-68v5m0 70v1m1-78v11m0 7v3m0 19v1m0 20v1m0 8v3m0 4v1m1-79v2m0 19v9m0 31v1m0 8v1m1-70v6m0 12v12m0 10v1m0 19v1m1-57v6m0 43v1m0 3v3m1-60v4m0 57v1m0 7v1m1-71v2m0 2v9m0 4v6m0 39v1m1-64v2m0 60v1m0 8v1m1-70v5m0 55v1m0 8v1m1-71v1m0 40v1m0 28v1m1-67v6m0 64v3m0 3v1m1-81v2m0 40v1m0 27v1m1-71v2m1-5v3m0 27v1m0 13v1m0 28v1m1-72v1m0 26v4m0 31v1m0 8v1m1-70v12m0 3v3m0 5v7m0 30v1m0 12v3m1-76v3m0 18v7m0 12v1m0 19v1m0 8v1m0 2v1m1-73v1m0 40v1m1-43v2m0 69v1m1-73v2m0 19v3m0 38v1m0 16v1m1-77v5m0 34v1m1-42v2m0 59v1m0 17v1m1-78v3m0 69v1m1-74v8m0 10v9m0 14v4m1-41v6m0 50v1m1-62v7m0 6v5m0 3v3m0 37v1m1-62v2m0 69v1m0 3v1m1-74v5m0 35v1m0 18v1m0 13v1m1-76v2m0 59v1m0 8v1m1-70v1m0 73v2m1-79v1m0 20v5m1-23v8m0 52v1m0 9v1m1-70v9m1-9v9m0 50v1m0 8v1m0 3v1m0 2v1m1-76v11m0 4v6m0 18v1m0 20v1m1-62v3m0 37v1m0 19v1m0 9v1m1-74v1m0 42v1m0 29v2m1-74v1m0 21v10m0 31v1m1-65v2m0 41v1m0 28v1m1-71v2m0 59v1m0 8v1m1-72v1m1 5v7m0 49v1m0 8v1m1-63v4m0 8v2m0 39v1m0 12v2m1-74v8m0 31v1m0 19v1m0 9v6m1-79v2m0 20v3m0 18v1m0 28v1m0 3v2m1-77v2m0 61v1m0 9v1m1-71v4m0 67v1m1-71v4m0 34v1m0 19v1m1-63v1m0 62v1m0 13v1m0 1v1m1-72v3m0 31v1m0 28v1m1-69v9m0 31v2m0 18v1m1-61v7m0 32v1m0 28v1m1-69v5m0 13v6m0 3v2m0 10v1m0 20v1m0 7v1m1-69v6m0 3v3m0 2v7m1-21v5m0 54v1m1-60v4m0 34v1m0 21v1m0 8v2m1-72v2m0 21v6m0 49v1m0 1v1m1-80v5m0 34v1m0 19v1m0 9v1m1-71v7m0 11v2m0 8v4m0 28v1m0 14v1m1-80v2m0 62v1m0 15v1m1-78v2m0 60v1m0 8v5m0 2v4m0 6v2m1-89v6m0 55v1m0 19v2m1-86v2m0 41v1m0 19v1m0 9v1m0 7v2m1-82v2m0 19v1m0 40v1m0 9v1m0 2v3m0 3v1m1-82v2m0 71v1m0 2v1m0 3v1m1-79v4m0 56v1m0 35v1m0 1v1m1-100v1m0 6v4m0 50v1m1-59v6m0 52v1m0 10v7m1-80v1m0 17v3m0 3v6m0 13v4m0 32v1m0 3v1m1-81v3m0 36v1m0 19v1m0 16v1m0 1v1m1-79v9m0 9v3m0 38v1m0 10v3m0 3v2m1-80v1m0 40v1m0 36v1m1-80v2m0 76v1m1-76v9m0 60v1m0 6v3m1-82v2m0 6v5m0 5v3m0 2v7m0 42v1m0 9v1m1-81v5m0 14v4m0 17v1m0 19v1m0 9v1m1-72v1m0 17v2m0 3v10m0 28v1m0 17v1m1-78v10m0 4v3m0 10v3m0 27v2m0 10v1m1-73v1m0 19v4m0 18v1m0 38v2m1-81v4m0 56v1m0 9v1m0 2v1m1-76v2m0 71v1m0 2v3m1-79v2m0 40v1m0 32v1m0 4v3m1-77v7m0 29v1m0 20v1m0 8v1m0 5v1m1-77v5m0 35v1m0 30v5m1-69v3m0 47v3m0 11v3m0 1v3m0 2v2m1-82v7m0 53v1m0 19v1m1-84v2m0 41v1m0 19v1m0 9v1m0 9v1m1-84v1m0 42v1m0 19v1m0 10v1m0 6v6m1-83v6m0 34v2m0 16v1m0 19v3m1-82v2m0 58v1m0 18v1m1-78v2m0 35v1m0 30v1m0 2v3m0 1v3m1-79v3m0 36v1m0 20v1m1-56v4m0 51v1m0 15v2m1-78v11m0 29v1m0 29v3m0 2v1m0 6v2m1-86v2m0 80v1m1-84v1m0 19v4m0 38v1m0 9v1m0 7v1m1-78v5m0 35v1m0 19v1m1-61v5m0 54v1m0 10v1m0 5v1m1-79v2m0 59v1m0 10v2m0 6v1m1-79v10m0 48v1m0 13v1m0 1v1m1-77v1m0 40v1m0 19v1m1-63v1m0 61v1m0 10v1m1-74v1m0 20v1m0 50v1m0 1v1m0 10v2m1-86v2m0 59v1m0 15v1m0 4v1m1-82v4m0 36v1m0 30v2m0 4v1m1-74v4m0 32v1m0 19v1m0 21v1m1-86v2m0 27v4m0 9v1m0 30v1m0 3v1m0 2v5m1-80v6m0 32v1m0 34v1m1-80v2m0 63v1m0 11v1m1-77v2m0 42v4m0 15v1m1-57v6m0 50v1m0 10v2m0 4v1m1-77v5m0 64v1m0 2v1m1-74v3m0 67v1m1-71v12m0 4v5m0 19v1m0 19v1m0 10v2m0 8v1m1-81v10m0 8v1m0 19v1m0 37v1m1-78v2m0 38v1m0 19v1m0 9v1m0 7v1m1-80v1m0 19v1m0 40v1m0 13v2m0 2v3m1-84v1m0 21v1m0 21v3m0 16v1m0 17v1m0 1v1m1-81v2m0 38v1m0 19v1m1-63v2m0 19v11m0 29v1m0 15v2m1-80v2m0 42v3m0 26v1m0 11v1m1-84v1m0 40v1m0 34v2m1-78v2m0 41v4m0 14v1m0 16v1m1-80v1m0 21v5m0 3v2m0 11v1m1-43v1m0 40v1m0 19v1m0 15v1m1-78v2m0 18v7m0 1v3m0 11v1m0 18v1m0 10v1m0 7v1m1-81v2m0 77v1m1-75v3m0 63v1m0 2v2m1-68v3m0 8v12m0 44v3m1-79v1m0 61v1m0 12v1m1-74v1m0 39v1m0 36v2m1-81v1m0 62v1m0 9v3m1-76v2m0 57v3m1-61v2m0 57v2m0 12v2m1-76v1m0 41v1m0 19v1m0 9v1m0 5v1m1-77v8m0 32v1m0 19v1m0 15v1m1-78v2m0 18v4m0 17v1m0 19v1m0 9v1m1-73v2m0 40v1m0 19v1m0 10v1m0 4v1m0 3v1m1-83v2m0 79v1m1-83v1m0 62v1m0 9v1m1-74v2m0 9v2m0 7v5m0 18v1m0 29v1m0 1v1m1-75v1m0 18v2m0 10v3m0 27v1m0 11v1m0 6v1m1-81v1m0 61v1m0 18v2m1-75v4m0 67v2m1-78v4m0 54v1m0 14v4m1-79v1m0 60v1m0 21v1m1-85v1m0 61v1m0 9v1m0 6v1m1-81v2m0 61v1m0 9v1m0 1v2m0 1v1m0 4v1m1-79v8m0 7v11m0 12v1m0 29v3m1-73v9m0 51v1m0 17v1m1-81v1m0 61v1m0 9v1m0 7v1m1-81v2m0 73v1m0 3v1m1-80v2m0 74v2m1-78v1m0 71v1m1-64v4m0 6v2m0 4v8m0 39v1m0 1v1m0 3v2m0 2v1m1-80v3m0 35v1m0 20v1m0 10v1m1-71v3m0 56v1m0 9v1m1-70v4m0 65v1m1-72v1m0 60v1m0 14v6m1-81v5m0 55v1m1-63v2m0 61v1m0 10v1m1-75v2m0 60v1m0 14v1m1-77v2m0 18v4m0 17v1m0 30v3m1-76v1m0 7v7m0 3v4m0 40v1m0 16v1m1-79v1m0 60v1m0 10v2m0 14v1"/><path stroke="#0086ff" d="M0.5 9v10m0 6v3m0 10v4m0 6v1m1-41v2m0 4v5m0 7v9m0 35v1m0 7v1m1-57v1m0 18v2m0 5v1m0 21v1m1-51v2m0 1v2m0 15v3m0 5v1m1-39v5m0 4v7m0 6v6m0 32v1m1-49v2m0 7v3m0 36v1m1-52v2m0 3v3m0 10v4m0 38v1m1-60v2m0 1v4m0 4v8m0 9v1m0 34v1m1-69v4m0 7v2m0 12v3m0 5v1m1-40v3m0 10v1m0 16v4m0 27v1m1-62v7m0 3v3m0 1v3m0 8v7m0 7v1m1-30v2m0 4v3m0 2v8m0 33v1m1-63v10m0 7v13m0 31v1m1-53v3m0 4v3m0 1v9m0 32v1m0 7v1m1-70v11m0 5v2m0 10v3m0 30v1m1-54v2m0 7v2m0 14v2m0 3v1m0 22v1m1-61v2m0 9v3m0 8v4m1-17v2m0 3v2m0 14v3m0 5v1m0 21v1m1-38v6m0 32v1m0 11v2m1-69v4m0 5v2m0 14v2m0 5v1m0 21v1m1-51v2m0 1v2m0 16v2m0 27v1m0 7v1m0 3v1m0 3v1m1-66v1m0 1v3m0 12v4m0 6v1m0 32v2m1-64v2m0 4v2m0 14v3m0 3v1m0 23v1m1-38v7m0 7v1m0 22v1m1-62v10m0 5v2m0 11v4m0 6v1m0 21v1m1-52v2m0 4v6m0 17v1m1-32v4m0 5v7m1-13v2m0 1v4m0 4v10m0 45v2m1-72v4m0 6v12m1-23v5m0 6v2m0 10v4m0 6v1m0 23v1m1-64v6m0 11v2m0 12v2m1-31v8m0 6v2m0 15v2m0 3v1m0 22v1m1-29v2m1-26v2m0 5v2m0 13v2m0 40v1m0 1v1m1-72v3m0 12v6m0 3v3m1-26v5m0 29v1m0 29v1m1-59v5m0 15v3m0 5v1m0 21v1m0 13v1m1-66v2m0 3v2m0 13v2m1-24v3m0 7v5m0 16v1m1-31v2m0 6v8m0 14v1m0 34v3m1-66v5m0 14v2m0 8v1m1-30v2m0 1v4m0 4v12m0 4v1m0 22v1m1-36v7m0 6v1m0 21v1m1-57v5m0 9v5m0 15v1m0 31v1m0 1v1m1-63v2m0 2v3m0 5v6m1-19v3m0 2v3m0 9v5m0 7v1m0 21v1m1-53v2m0 6v7m1-25v2m0 1v6m0 3v4m0 16v3m1-23v7m0 3v5m0 35v1m1-50v4m0 13v5m1-22v4m0 8v9m0 6v1m0 21v1m0 12v1m1-50v5m1-22v3m0 6v13m0 31v1m1-63v2m0 16v2m0 3v10m0 37v1m1-69v10m0 5v2m0 15v1m0 5v1m0 22v1m1-63v10m0 7v2m0 11v3m0 29v1m1-51v4m0 6v3m1-23v9m0 5v2m0 11v4m0 6v1m0 22v1m1-50v3m0 6v4m0 35v1m1-50v3m0 16v4m0 3v1m0 22v1m1-50v5m0 6v6m0 32v1m1-62v5m0 6v4m0 14v3m1-21v5m0 9v9m0 4v1m0 23v1m0 9v1m1-64v2m0 6v2m0 11v3m0 40v2m1-66v2m0 7v6m0 37v1m1-62v12m0 3v4m0 2v5m0 3v1m0 32v1m1-52v1m0 4v2m0 13v2m0 28v1m1-50v6m0 3v5m0 36v1m1-52v2m0 1v3m0 9v6m1-22v1m0 5v2m0 14v2m0 28v1m1-38v7m0 7v1m1-30v2m0 5v9m0 35v1m1-53v2m0 27v1m0 23v1m1-55v3m0 5v2m0 14v2m0 5v1m1-30v2m0 3v3m0 11v3m0 29v1m0 9v1m0 3v1m1-65v2m0 1v2m0 18v1m0 4v1m0 21v1m1-63v12m0 5v2m0 12v4m0 5v1m0 21v1m0 12v2m1-68v3m0 6v13m0 32v1m0 6v1m1-59v8m0 1v4m0 38v1m0 6v1m0 14v1m1-84v9m0 8v5m0 38v1m0 7v1m0 11v2m1-70v1m0 11v8m0 6v1m0 21v1m0 7v1m0 11v1m1-70v4m0 6v4m0 13v1m0 40v1m0 15v4m1-90v2m0 7v1m0 19v1m0 21v1m0 31v2m1-73v3m0 14v1m0 21v1m0 8v1m1-60v2m0 2v4m0 2v11m0 29v1m0 21v1m1-84v4m0 27v1m0 8v1m0 20v1m0 11v1m0 1v1m0 7v1m1-78v3m0 9v3m0 9v3m0 39v1m0 2v1m0 4v1m1-69v4m0 14v3m0 48v1m1-73v3m0 4v2m0 9v4m0 48v3m1-69v1m0 8v3m0 14v1m0 22v1m1-51v4m0 7v8m0 8v1m0 23v1m0 5v1m0 4v1m0 6v1m0 10v1m0 1v1m1-63v2m0 5v1m1-29v2m0 1v2m0 14v3m0 28v1m0 7v1m0 8v1m0 1v2m1-70v3m0 19v2m0 2v1m0 22v1m0 7v1m0 11v2m1-50v2m0 4v1m0 38v1m0 1v3m1-71v3m0 14v3m0 30v1m0 19v1m1-73v2m0 4v3m0 3v11m0 28v1m0 7v1m0 8v1m1-77v8m0 9v3m0 17v1m0 22v1m0 16v2m1-73v4m0 4v2m0 10v3m0 31v1m0 7v1m0 13v2m1-73v2m0 8v5m0 41v1m0 9v2m0 3v1m1-75v3m0 2v3m0 5v8m1-19v5m0 8v8m0 6v1m0 43v1m1-72v10m0 60v1m1-82v5m0 4v3m0 2v7m0 39v1m0 20v1m1-83v7m0 4v5m0 7v7m0 31v1m0 8v1m0 15v2m1-77v2m0 3v6m0 61v1m1-78v4m0 9v14m0 6v1m0 21v1m0 20v2m1-78v2m0 15v12m0 3v1m0 45v1m1-77v3m0 7v12m0 32v1m0 6v1m1-58v6m0 3v3m0 38v1m0 6v1m0 14v1m1-64v3m0 38v1m0 7v1m0 10v1m0 4v1m1-81v4m0 9v5m0 15v1m0 22v1m0 20v2m1-84v1m0 10v3m0 13v4m0 29v1m0 18v2m1-72v2m0 3v2m0 12v3m0 30v1m0 6v1m0 9v2m1-71v1m0 8v1m0 19v1m0 39v4m1-73v3m0 3v6m0 16v1m0 42v1m1-60v3m0 14v1m0 36v1m1-66v5m0 8v7m0 30v1m0 8v1m0 8v1m0 6v1m0 2v1m1-89v9m0 7v2m0 9v5m0 6v1m0 33v1m0 2v4m1-80v5m0 7v3m0 9v7m0 8v1m0 29v1m0 9v1m0 5v1m1-79v4m0 7v6m0 5v2m0 7v1m0 22v1m0 8v1m0 3v1m1-65v2m0 5v5m0 40v1m0 16v2m1-71v2m0 4v3m0 2v9m0 31v1m1-61v5m0 12v1m0 15v2m0 1v2m0 23v1m0 6v1m1-59v2m0 3v5m0 41v1m0 7v1m0 9v1m1-81v11m0 5v3m0 3v10m0 7v1m0 22v1m0 13v2m1-72v6m0 4v8m0 37v1m0 8v9m1-68v2m0 1v9m0 38v1m0 8v1m0 8v1m1-70v2m0 5v6m0 46v1m0 5v2m0 10v2m1-79v2m0 4v6m0 17v1m0 39v1m1-56v3m1-14v1m0 10v11m0 3v1m0 30v1m0 9v1m1-73v3m0 9v2m0 40v1m0 7v1m0 10v1m1-68v1m0 10v8m0 7v1m0 42v1m1-84v7m0 6v3m0 9v5m0 32v1m0 22v1m1-77v3m0 6v2m0 9v4m0 38v1m0 7v1m1-69v3m0 1v2m0 17v1m0 5v1m0 39v4m1-83v10m0 7v12m0 11v1m0 28v1m0 13v1m1-78v5m0 6v11m0 34v1m0 15v1m1-75v5m0 31v1m0 28v1m1-70v6m0 11v1m0 14v1m0 29v1m1-51v4m0 5v3m0 37v1m0 15v1m1-72v5m0 5v2m0 14v1m0 47v1m1-71v3m0 2v4m0 2v5m0 13v1m0 40v1m1-71v1m0 6v2m0 11v2m0 37v1m0 5v1m1-64v4m0 16v2m0 5v1m0 40v2m1-72v3m0 1v4m0 3v5m0 35v1m0 7v1m0 5v2m1-69v3m0 7v5m0 57v2m1-81v2m0 8v7m0 3v5m0 36v1m0 14v1m1-73v6m0 6v8m0 14v1m0 30v1m0 2v4m1-72v5m0 8v2m0 10v3m0 6v1m0 38v1m1-78v10m0 6v9m0 35v1m0 15v1m1-66v7m0 1v3m0 46v1m0 7v1m0 5v2m1-74v5m0 14v3m0 28v1m1-50v4m0 7v7m0 31v1m0 11v2m0 6v1m1-71v5m0 7v8m0 8v1m0 23v1m0 4v1m0 13v1m1-83v9m0 1v3m0 1v4m0 3v5m0 3v2m0 30v1m0 7v1m0 8v1m1-78v1m0 24v5m0 43v1m1-74v2m0 7v5m0 19v2m0 2v1m0 31v1m1-70v10m0 5v3m0 5v9m0 6v1m0 21v1m0 20v2m1-72v5m0 8v7m0 48v1m1-73v2m0 9v2m0 48v1m0 9v6m1-75v3m0 3v5m0 18v1m0 21v1m0 7v1m1-69v9m0 7v15m0 7v1m1-39v10m0 5v3m0 11v3m0 36v1m1-57v1m0 17v2m0 36v1m0 4v1m1-63v4m0 8v7m0 8v1m0 21v1m0 7v1m0 10v1m1-80v9m0 7v16m0 28v1m0 17v1m1-76v7m0 6v7m0 47v1m0 7v1m1-75v6m0 5v2m0 13v2m0 6v1m0 22v1m0 6v1m0 7v1m1-78v5m0 6v6m0 5v4m0 13v1m0 23v1m0 5v1m1-57v1m0 19v2m0 4v1m0 29v1m0 4v1m0 7v1m1-75v2m0 7v2m0 15v2m0 1v1m0 40v1m1-71v3m0 8v3m0 39v1m0 17v1m1-72v2m0 29v1m0 29v1m1-65v5m0 9v2m0 18v1m0 21v1m0 8v1m0 12v1m1-74v2m0 3v3m0 5v8m0 8v1m0 32v1m0 3v4m1-70v3m0 2v3m0 4v8m0 9v1m0 28v1m1-68v7m0 10v1m0 12v2m0 6v1m0 21v1m0 7v1m0 8v3m0 3v1m1-75v3m0 2v2m0 13v3m0 43v5m0 3v1m1-63v3m0 36v1m0 7v1m0 9v1m1-67v2m0 8v8m0 8v1m0 21v1m0 8v1"/><path stroke="#00a0ff" d="M0.5 19v3m0 1v2m0 17v2m0 3v1m0 23v1m1-62v4m0 5v3m0 1v3m0 9v7m0 6v1m1-6v1m0 3v1m1-26v1m0 20v1m0 3v1m0 23v1m1-34v3m1-7v7m0 7v1m1-28v3m0 17v2m0 5v1m0 21v1m0 7v1m1-57v1m0 16v4m0 28v1m1-53v2m0 3v2m0 17v1m0 3v1m0 23v1m1-29v2m0 1v2m0 23v1m1-50v1m0 18v3m0 3v1m0 23v1m1-51v4m0 13v4m0 6v1m0 23v1m1-54v3m0 2v2m0 13v4m0 5v1m1-28v4m0 13v4m0 6v1m1-29v5m0 15v3m1-24v2m0 3v2m0 18v3m0 24v1m1-36v5m0 7v1m0 22v1m1-51v3m0 19v2m0 2v1m1-9v3m0 6v1m1-29v2m0 1v2m0 18v2m0 2v1m1-26v1m0 20v1m0 4v1m0 34v1m1-62v1m0 19v2m0 3v1m0 22v1m1-50v4m0 19v3m1-6v3m0 3v1m1-28v5m0 17v2m0 3v1m1-27v4m0 6v9m0 31v1m1-51v5m0 7v7m0 8v1m0 22v1m1-50v1m0 18v3m0 3v1m0 23v1m1-52v2m0 1v3m0 12v3m0 30v1m1-52v2m0 2v2m0 16v2m0 3v1m0 29v1m1-63v5m0 5v1m0 16v2m0 4v1m0 22v1m1-53v2m0 2v2m0 19v3m1-3v1m0 1v2m1-28v2m0 1v2m0 17v2m0 4v1m0 22v1m0 11v1m1-68v3m0 8v1m0 12v2m0 29v1m1-53v1m0 6v17m0 4v1m0 23v1m1-29v1m0 3v1m1-27v3m0 17v2m1-23v2m0 1v4m0 5v10m1-22v2m0 1v3m0 8v9m0 4v1m0 23v1m1-31v1m0 29v1m1-50v1m0 20v4m1-5v2m0 3v1m1-29v2m0 4v3m0 5v10m0 28v1m0 9v1m1-60v2m0 14v3m0 30v1m1-50v2m0 17v2m1-23v2m0 1v3m0 7v10m0 4v1m0 23v1m1-62v1m0 32v2m0 1v2m0 23v1m1-37v9m0 3v1m1-5v2m0 2v1m0 23v1m0 5v1m1-36v2m0 3v1m1-9v3m0 30v1m0 4v1m1-58v2m0 2v2m0 13v3m0 6v1m1-39v11m0 3v2m0 15v2m0 5v1m0 22v1m1-52v2m0 1v2m0 18v2m0 2v1m0 24v1m1-54v2m0 3v2m0 16v1m0 5v1m0 28v1m1-44v8m0 6v1m0 22v1m0 4v2m1-58v5m0 17v2m0 3v1m0 24v1m0 3v2m1-43v5m0 31v1m1-28v3m1-9v4m0 6v1m0 22v1m1-31v2m0 5v1m0 22v1m1-29v2m0 1v1m0 35v2m1-64v2m0 2v2m0 16v2m0 4v1m0 22v1m1-52v1m0 4v2m0 6v8m0 7v1m1-28v3m0 11v3m0 1v5m0 3v1m0 24v1m1-52v1m0 1v2m0 17v1m0 5v1m1-14v5m0 32v1m0 3v2m1-56v1m0 18v2m0 5v1m0 22v1m1-52v2m0 1v2m0 18v1m0 28v1m1-32v3m0 3v1m0 23v1m0 5v1m1-57v5m0 9v7m0 6v1m0 22v1m1-52v1m0 5v4m0 11v3m0 2v1m0 25v1m1-53v2m0 1v2m0 18v2m0 2v1m0 23v1m1-51v3m0 17v2m0 5v1m1-27v1m0 21v4m1-28v5m0 18v2m0 2v1m1-28v2m0 1v3m0 13v4m0 5v1m0 23v1m1-40v8m0 7v1m0 23v1m0 4v1m0 16v1m1-76v3m0 2v3m0 5v8m0 8v1m0 22v1m0 20v1m1-51v2m0 3v1m0 29v1m1-43v8m0 4v1m0 22v1m0 19v1m0 13v1m1-84v7m0 1v4m0 14v1m0 42v1m0 9v2m1-68v9m0 4v1m0 43v1m1-70v2m0 17v3m0 3v1m0 45v1m1-53v2m0 40v1m1-66v2m0 6v1m0 15v1m0 5v1m0 22v1m0 6v1m0 3v2m1-42v2m0 4v1m0 22v1m0 6v1m0 12v1m1-71v4m0 15v3m0 5v1m0 22v1m0 6v1m0 12v2m1-59v9m0 4v1m0 24v1m0 3v2m0 9v1m1-48v3m0 4v1m0 25v1m0 1v3m0 22v1m0 3v1m1-62v1m0 3v1m0 23v1m0 6v1m0 12v1m1-70v1m0 19v1m0 5v1m0 39v1m0 4v1m1-49v2m0 24v1m0 20v2m1-50v1m0 2v1m0 22v1m0 7v1m0 9v1m0 3v1m1-52v2m0 5v1m0 28v1m0 14v1m1-72v4m0 17v2m0 3v1m0 23v1m0 16v1m1-70v2m0 4v3m0 3v11m0 5v1m0 24v1m0 5v1m0 11v3m1-72v4m0 15v3m0 29v1m0 22v2m1-60v4m0 7v1m0 23v2m0 2v2m0 16v1m0 3v1m1-77v2m0 16v3m0 5v1m0 22v1m0 14v1m1-45v2m0 3v1m0 22v1m0 7v1m1-48v2m0 14v1m0 23v1m0 5v1m0 14v1m1-71v2m0 7v4m0 13v1m0 29v1m1-40v3m0 6v1m0 48v2m1-77v3m0 6v4m0 35v1m1-52v1m0 6v2m0 14v2m0 3v1m0 45v1m1-77v2m0 9v4m0 12v3m0 24v1m0 6v1m1-59v1m0 3v3m0 12v3m0 6v1m0 23v1m0 4v1m0 13v1m1-59v9m0 6v1m0 23v1m0 4v1m1-45v2m0 52v3m0 6v2m1-79v2m0 4v3m0 5v9m0 36v1m0 15v4m1-57v2m0 5v1m0 29v1m0 12v2m1-72v3m0 17v2m0 29v1m0 4v1m0 12v1m1-71v2m0 1v5m0 1v4m0 38v1m0 6v1m0 13v1m1-71v3m0 6v3m0 4v5m0 3v1m0 24v1m0 6v1m0 12v2m1-59v9m0 4v1m0 22v1m0 8v1m1-40v3m0 5v1m0 40v1m0 4v1m1-76v2m0 3v2m0 16v1m0 28v1m0 6v1m0 4v2m0 4v2m1-51v3m0 28v1m1-52v2m0 1v4m0 6v5m0 2v4m0 2v1m0 45v1m1-72v5m0 5v6m0 11v1m0 29v1m0 11v6m1-75v4m0 14v3m0 6v1m0 22v1m0 21v1m1-79v5m0 5v2m0 18v1m0 26v1m0 4v1m0 14v1m1-71v3m0 5v3m0 39v1m0 5v1m1-59v2m0 1v2m0 16v2m0 29v1m0 4v1m1-57v4m0 8v6m0 49v3m1-69v1m0 9v3m0 13v1m0 22v1m0 17v1m1-69v5m0 6v9m0 7v1m0 22v1m0 23v1m1-75v4m0 6v4m0 36v1m0 6v1m1-43v6m0 6v1m0 22v1m0 19v1m1-48v3m0 24v1m1-53v2m0 4v3m0 2v10m0 8v1m0 22v1m1-31v3m0 3v1m0 23v1m0 5v1m0 14v1m1-55v3m0 30v1m0 5v1m1-58v2m0 1v3m0 15v2m0 5v1m0 22v1m0 6v1m0 9v2m1-68v1m0 20v2m0 2v1m0 22v1m0 7v1m0 13v1m1-74v2m0 3v2m0 12v3m0 30v1m1-52v2m0 1v3m0 11v4m0 31v1m0 4v1m0 10v3m1-73v2m0 6v13m0 32v1m0 5v1m0 9v1m0 9v1m1-83v5m0 4v2m0 16v2m0 34v1m1-46v7m0 8v1m0 22v1m0 6v1m1-59v2m0 1v2m0 17v2m0 27v1m0 6v1m0 17v1m1-75v2m0 11v8m0 28v1m0 6v1m1-59v2m0 2v2m0 15v2m0 28v1m0 20v1m1-50v2m0 2v1m0 23v1m0 5v1m0 13v1m1-70v1m0 12v9m0 3v1m0 23v1m1-52v2m0 1v4m0 5v9m0 7v1m0 22v1m0 6v1m0 12v2m1-58v9m0 3v1m0 24v1m0 5v1m1-59v6m0 8v9m0 4v1m0 22v1m0 15v6m1-73v1m0 5v2m0 15v2m0 3v1m0 22v1m0 7v1m0 9v2m1-70v2m0 1v3m0 9v7m0 6v1m0 29v1m1-47v5m0 34v1m0 5v1m0 13v1m0 2v1m1-53v1m0 5v1m0 29v1m0 12v1m1-53v3m0 6v1m0 42v1m1-52v3m0 4v1m0 25v4m0 15v1m1-71v1m0 12v3m0 2v4m0 2v2m0 23v1m1-32v2m0 6v1m0 22v1m0 6v1m0 5v1m1-40v2m0 23v1m0 18v1m1-70v2m0 1v2m0 17v2m0 3v1m0 30v1m0 14v1m1-53v2m0 5v1m0 22v1m0 5v1m0 12v1m1-72v2m0 4v3m0 2v12m0 6v1m0 21v1m0 23v1m1-73v3m0 5v4m0 13v1m0 23v1m1-53v3m0 1v3m0 15v3m0 3v1m0 23v1m0 6v1m0 9v1m1-69v2m0 1v2m0 17v2m0 4v1m0 22v1m0 18v1m1-49v2m0 4v1m0 22v1m1-32v3m0 47v1m1-72v3m0 1v3m0 16v2m0 2v2m0 23v1m0 6v1m0 10v1m1-70v2m0 1v3m0 7v7m0 30v1m1-51v2m0 1v2m0 17v2m0 33v1m1-43v8m0 30v1m0 3v1m0 9v1m1-44v1m0 1v2m0 23v1m1-53v2m0 3v2m0 19v1m0 25v1m0 6v1m0 9v2m1-70v1m0 4v3m0 3v12m0 4v1m0 30v1m1-60v2m0 5v7m0 38v1m0 17v1m1-71v2m0 3v4m0 2v13m0 4v1m0 45v1m1-73v3m0 16v3m0 28v1m0 6v1m0 3v1m0 1v1m1-63v2m0 15v4m0 29v2m0 2v1m0 6v1m1-67v3m0 5v2m0 15v2m1-22v2m0 18v1m0 5v1m0 22v1m0 6v1m0 15v1m1-61v9m0 4v1m0 23v1m1-32v4m0 3v1"/><path stroke="#00baff" d="M0.5 22v1m0 21v3m0 25v1m0 4v1m1-56v1m0 19v2m0 3v1m0 23v1m1-28v3m0 24v1m0 5v1m1-34v3m1-6v2m0 5v1m0 22v1m1-31v3m0 3v1m0 23v1m1-29v2m0 2v1m1-5v2m0 2v1m0 29v1m1-57v3m0 20v3m1-2v1m0 31v1m1-34v1m0 1v1m0 30v1m1-36v2m0 3v1m0 29v1m1-56v2m0 19v1m0 3v1m0 23v1m1-30v2m0 3v1m0 23v1m1-29v1m0 4v1m0 22v1m1-51v3m1 17v3m0 33v1m1-33v2m0 24v1m1-30v2m0 3v1m0 24v1m1-51v1m0 22v2m0 24v1m1-28v1m0 1v2m0 23v1m0 12v2m1-42v3m1 25v1m0 4v1m1-34v3m0 25v1m0 4v1m1-34v3m0 24v1m1-32v4m0 3v1m0 29v1m1-38v3m0 29v1m1-29v3m1-25v1m0 18v2m0 5v1m0 28v1m1-56v2m0 20v3m0 26v1m0 2v1m1-57v2m0 1v2m0 19v1m0 1v2m0 24v1m0 4v1m1-57v2m0 48v1m1-27v1m0 25v1m1-50v1m0 21v1m0 1v2m1-29v1m0 5v2m0 15v2m0 4v1m1-29v2m0 1v3m0 17v4m1-3v3m0 24v1m1-29v1m0 4v1m0 22v1m1-50v1m0 19v2m0 3v1m0 23v1m0 5v1m1-56v1m0 20v2m0 1v1m0 30v1m1-36v2m0 28v1m0 4v1m1-7v1m1-28v3m0 24v1m1-51v4m0 18v2m0 1v2m0 24v1m0 4v1m1-37v2m0 5v1m0 28v1m1-35v2m0 1v2m0 23v1m0 5v1m1-56v1m0 20v4m0 25v1m0 4v1m1-33v1m0 26v1m1-29v3m0 24v1m1-27v2m0 25v1m1-29v3m0 24v1m1-30v2m0 4v1m0 24v1m0 2v1m1-55v2m0 18v2m0 27v1m1-51v3m0 19v2m0 2v1m1-26v1m0 22v2m0 26v1m0 3v1m1-57v3m0 19v2m0 2v1m0 24v2m0 2v1m1-35v2m0 3v1m0 24v2m0 1v1m1-32v3m0 26v1m0 1v1m1-36v3m0 5v1m1 22v1m1-30v2m0 3v1m0 24v1m1-30v2m0 2v1m0 24v1m0 4v1m1-33v1m0 26v1m0 4v1m1-56v2m0 20v1m0 1v2m1-27v4m0 16v3m0 3v1m0 23v1m1-28v3m0 26v1m0 3v1m1-56v1m0 20v2m0 2v1m0 23v1m0 5v1m1-38v3m0 5v1m0 24v3m1-33v2m0 2v1m0 24v1m0 4v1m1-56v1m0 21v1m0 2v2m0 24v1m0 2v2m1-34v3m0 25v1m0 3v1m1-35v2m0 3v1m0 24v1m0 4v1m1-57v5m0 4v4m0 3v4m0 3v2m0 27v5m1-56v1m0 22v2m0 25v1m0 4v1m1-35v2m0 2v1m0 23v1m0 9v1m1-11v1m1-27v2m0 24v1m1-50v1m0 20v2m0 2v1m0 25v1m0 2v2m1-37v3m0 3v1m0 25v1m0 2v1m0 18v1m1-74v2m0 16v3m0 29v1m0 4v1m0 15v1m1-50v3m0 24v1m0 4v1m0 14v1m0 10v2m0 3v2m1-66v4m0 31v1m0 24v1m1-71v11m0 2v1m0 24v1m0 6v1m1-36v2m0 1v1m0 24v1m0 6v1m1-35v3m0 24v1m0 6v1m1-36v1m0 27v1m0 6v1m0 14v1m1-74v1m0 3v2m0 17v2m0 2v1m0 24v1m1-29v1m0 1v2m0 24v2m0 3v1m0 14v1m1-50v1m0 3v1m0 24v2m0 3v1m0 15v3m1-53v4m0 26v1m0 1v1m1-33v2m0 1v1m0 27v1m0 16v1m0 13v2m1-63v3m0 25v1m0 4v1m1-35v2m0 2v1m0 23v1m0 26v1m1-27v1m0 4v1m0 16v1m1-50v2m0 46v1m1-51v2m0 2v1m0 24v1m0 20v1m1-50v3m0 42v1m1-69v4m0 17v3m0 1v1m0 26v1m0 2v2m0 15v1m1-51v1m0 4v1m0 24v1m0 4v1m0 18v1m1-57v2m0 31v2m0 19v3m1-55v1m0 3v1m0 24v1m0 5v1m1-35v3m0 46v1m1-61v14m0 25v1m0 3v1m0 16v1m1-59v7m0 29v1m0 20v5m1-55v2m0 27v1m0 6v1m1-44v6m0 7v1m0 29v1m0 14v1m1-74v2m0 2v2m0 18v3m0 24v1m0 6v1m1-60v1m0 6v2m0 44v1m0 4v1m1-57v3m0 18v2m0 3v1m0 25v1m0 2v1m1-35v2m0 3v1m0 25v1m0 2v1m0 17v1m1-60v6m0 7v1m0 23v1m0 5v1m0 19v1m1-78v4m0 17v2m0 3v1m0 24v2m0 2v2m1-35v2m0 2v1m0 23v1m0 21v1m1-51v1m0 4v1m0 24v4m0 14v1m0 5v1m1-76v1m0 10v11m0 3v1m0 24v1m0 20v1m1-60v4m0 5v3m0 26v1m0 4v1m0 15v2m0 2v1m1-55v2m0 1v1m0 50v1m1-55v1m0 3v1m0 23v1m0 6v1m0 11v2m0 1v1m1-73v3m0 19v2m0 1v2m0 29v1m0 13v1m1-49v2m0 1v2m0 24v1m0 3v2m0 17v1m1-74v1m0 21v2m0 25v1m0 6v1m0 14v1m1-57v6m0 29v1m0 4v1m0 18v1m0 1v1m1-57v2m0 3v1m0 29v1m1-58v2m0 1v2m0 48v1m0 2v1m1-44v8m0 7v1m0 24v1m0 3v1m0 12v1m1-69v1m0 20v2m0 1v2m0 25v1m0 13v1m0 10v1m1-60v3m0 6v1m0 22v1m0 6v1m0 12v3m1-59v8m0 4v1m0 30v1m0 11v1m1-50v3m0 3v1m0 24v1m0 4v1m0 8v1m0 7v1m1-60v9m0 3v1m0 24v1m0 4v1m0 11v1m1-48v2m0 3v1m0 24v1m0 5v1m1-7v1m0 4v1m0 11v1m1-69v4m0 15v3m0 34v1m0 12v1m1-47v3m0 25v1m0 3v1m0 16v1m1-53v2m0 5v1m0 23v1m0 3v1m0 17v1m1-73v1m0 20v2m0 2v1m0 24v1m0 4v1m0 12v1m1-46v2m0 46v1m1-73v3m0 17v2m0 29v1m0 4v1m1-56v1m0 18v2m0 5v1m0 24v1m0 2v1m0 14v1m1-72v2m0 2v2m0 13v3m0 30v1m0 3v1m1-57v2m0 1v1m0 20v1m0 3v1m0 23v1m0 3v2m0 11v1m1-50v3m0 29v1m0 4v1m0 9v1m1-66v1m0 21v1m0 3v1m0 23v1m0 3v2m1-35v2m0 1v2m0 24v1m0 4v1m0 12v1m1-69v2m0 19v1m0 4v1m0 23v1m0 4v1m0 7v1m0 5v1m0 1v1m1-49v2m0 25v1m0 19v1m1-49v3m0 30v1m0 8v1m1-65v1m0 18v3m0 3v1m0 24v1m0 4v1m1-34v3m0 26v5m0 9v1m0 6v3m1-54v2m0 1v1m0 31v1m0 13v1m1-73v2m0 1v2m0 19v3m0 43v1m1-69v1m0 19v2m0 3v1m0 23v1m0 15v1m1-51v5m0 6v1m0 23v1m0 3v1m0 10v1m0 2v1m0 4v1m1-53v2m0 2v1m0 23v1m1-30v2m0 3v1m0 23v1m0 6v1m0 13v1m1-50v2m0 1v1m1-3v2m0 31v1m0 10v1m1-47v2m0 3v1m0 29v1m0 7v2m1-9v1m0 11v1m1-69v1m0 21v3m0 24v1m0 22v1m1-52v2m0 2v1m0 24v2m0 2v1m0 14v2m1-72v4m0 17v2m0 3v1m0 23v1m0 5v1m1-44v10m0 2v1m0 25v1m0 4v1m0 15v1m1-72v1m0 21v3m0 25v1m0 4v1m0 11v1m1-68v1m0 21v1m0 1v2m0 24v1m0 4v1m1-34v1m0 2v1m0 24v1m0 4v1m0 15v1m1-51v2m0 1v2m0 23v1m0 19v3m1-72v1m0 21v2m0 44v1m1-69v1m0 17v3m0 5v1m0 30v1m0 9v1m1-68v1m0 21v1m0 1v2m0 24v1m0 3v1m0 10v1m1-45v2m0 1v2m0 26v3m1-32v1m0 26v1m0 4v1m0 14v1m1-72v3m0 48v1m0 4v1m0 12v1m1-70v4m0 18v4m0 24v1m0 17v1m1-69v1m0 1v3m0 7v11m0 3v1m0 24v2m0 2v2m1-57v3m0 19v4m0 24v1m0 6v1m1-36v2m0 1v2m0 24v1m0 10v1m0 5v1m1-47v2m0 1v2m0 26v2m0 8v1m1-65v2m0 1v2m0 19v4m0 23v1m0 5v1m1-35v2m0 2v1m0 24v2m0 3v1m1-35v4m0 30v1m0 11v1m1-46v3m0 24v1m0 6v1"/><path stroke="#00d4ff" d="M1.5 44v3m0 25v1m0 4v1m1-6v1m1-1v1m0 4v1m1-35v2m0 2v1m0 24v1m0 4v1m1-34v3m0 30v1m1-33v2m0 24v1m1-27v2m0 25v1m1-1v1m0 4v1m1-6v1m1-28v1m0 26v1m1-29v3m0 26v1m0 2v1m1-33v3m1-3v3m1-3v4m0 24v1m1-1v1m0 4v1m1-34v1m0 1v2m0 24v1m1 4v1m1-34v3m0 30v1m1-1v1m1-33v1m1 25v1m0 5v1m1-2v1m2-5v1m0 4v1m1-34v3m0 25v1m1-30v2m0 1v2m0 29v1m1-6v1m0 4v1m1-35v2m0 2v1m0 24v1m1 1v2m1-54v1m0 22v1m1 26v1m0 4v1m1-6v1m0 4v1m1-33v1m0 26v1m0 4v1m1-58v2m0 2v1m0 19v1m0 2v1m0 24v1m0 4v1m1-56v1m0 49v1m2-29v4m0 24v1m0 4v1m1-34v3m0 25v1m1-28v1m0 26v1m1-29v1m0 3v1m0 27v1m1-5v1m1-1v1m0 4v1m1-33v1m0 27v1m0 2v1m1-34v2m0 2v1m0 24v1m1-28v1m0 26v1m1 0v1m0 2v1m1-4v1m0 3v1m1-6v1m0 4v1m1-5v1m0 2v1m1 0v1m1-34v1m0 1v2m0 26v2m1-32v1m0 1v2m0 24v1m0 4v1m1-33v2m0 25v1m1 1v3m1-32v2m0 27v2m1-32v3m0 27v1m1-1v1m1-32v2m0 2v1m0 24v1m0 4v1m1-6v1m1-29v3m0 26v1m0 2v2m1-33v2m0 26v1m0 1v2m1-4v1m0 2v1m1-32v1m0 26v1m0 4v1m1-34v3m0 25v1m0 4v1m1-4v3m1-32v2m1-4v1m0 3v1m1-3v2m0 26v1m0 2v1m1-32v2m0 27v2m1-3v1m0 1v1m1-32v3m0 26v4m1-43v3m1 36v1m0 2v1m1-32v2m0 25v1m0 4v1m0 4v2m1-12v1m0 4v1m1-6v1m0 4v1m1-33v2m0 27v2m1-32v3m0 27v2m0 20v2m1-55v2m0 1v2m0 25v1m0 2v1m1-5v2m0 1v1m0 25v1m0 2v3m1-36v1m0 19v1m0 9v2m1-59v2m0 26v1m0 4v1m0 21v1m1-55v1m0 26v1m0 19v1m1-21v2m0 3v1m0 16v1m1-51v1m0 3v1m0 23v1m0 4v1m1-57v3m0 21v2m0 26v1m0 2v2m0 12v1m1-46v1m0 28v3m1-33v3m0 27v3m0 19v3m1-25v1m0 13v1m1-44v1m0 53v1m0 7v2m1-36v1m0 2v1m0 15v1m1-48v2m0 25v1m0 4v1m1-5v1m0 2v1m1-6v1m0 5v1m1-33v2m0 26v1m0 2v1m0 17v1m1-23v2m0 3v1m0 12v1m1-46v1m0 28v2m0 18v1m1-51v1m0 1v2m0 26v4m1-35v2m0 1v2m1-4v3m0 26v1m0 3v1m0 9v1m0 5v4m1-26v1m0 5v1m0 16v1m0 2v1m1-25v3m0 18v1m1-53v3m0 2v1m0 24v1m0 4v1m0 19v1m1-54v1m0 1v2m0 24v1m1-32v2m0 28v1m1-50v2m0 48v1m0 4v1m0 16v1m1-75v1m0 3v2m0 47v1m0 2v1m0 17v1m1-51v3m0 27v2m0 16v1m1-49v3m0 27v2m1-35v2m0 30v1m0 2v2m1-34v3m0 27v2m1-31v2m0 25v1m0 4v1m0 16v2m0 1v1m1-54v1m0 1v2m1-4v3m0 26v1m0 2v2m1-5v4m0 18v2m1-52v1m0 25v1m0 14v1m0 8v2m1-53v3m0 25v1m0 19v1m1-48v1m0 26v1m0 3v1m0 15v1m0 4v1m1-53v1m0 27v1m0 1v1m2-33v2m0 2v1m0 25v1m0 1v2m0 20v1m1-54v3m0 25v2m0 2v1m1-55v1m0 51v2m1-35v3m0 3v1m0 26v3m1-32v1m0 28v3m0 11v7m1-53v2m0 28v2m0 2v2m0 16v1m1-52v4m0 25v1m0 4v1m0 13v1m1-48v3m0 26v1m0 2v1m0 10v1m0 5v1m1-50v3m0 26v1m0 2v1m1-33v3m0 26v1m0 2v2m1-5v1m0 2v1m0 13v2m1-49v2m0 1v2m0 24v2m0 2v1m0 14v1m1-19v3m1-33v2m0 2v1m0 25v1m0 1v1m0 19v1m1-51v2m0 26v1m0 2v1m0 14v1m1-21v1m0 5v1m1-35v1m0 4v1m0 24v1m0 2v1m0 16v1m1-51v2m0 2v1m0 26v2m0 16v1m1-71v2m0 18v1m0 5v1m0 24v1m0 1v1m0 12v1m0 7v1m1-75v1m0 22v3m0 25v3m1-33v2m0 1v2m0 25v1m0 2v1m1-32v3m0 25v3m0 14v1m0 4v1m1-51v1m0 27v1m0 2v1m1-33v1m0 1v2m0 25v1m0 2v1m0 13v1m0 3v1m1-22v1m0 2v1m1-5v2m0 2v1m0 10v1m1-44v3m0 26v1m0 2v1m0 16v1m1-6v1m0 4v1m0 3v1m1-53v1m0 25v1m0 5v1m0 15v1m1-72v1m0 48v1m0 5v1m0 13v1m1-48v3m0 25v1m0 4v1m0 10v1m1-47v2m0 3v1m0 25v1m0 1v1m0 12v2m0 6v1m1-52v2m0 25v1m0 4v1m0 14v1m1-49v3m0 25v1m0 20v1m1-49v1m0 47v1m1-22v1m1-29v3m0 25v1m0 14v7m1-23v1m0 19v1m1-20v1m0 4v1m1-33v2m0 27v2m0 17v5m1-54v3m0 25v1m0 3v1m0 18v1m1-52v2m0 27v1m0 2v1m1-4v1m0 2v1m0 13v1m1-46v1m0 27v1m0 2v1m1-32v2m0 26v1m0 2v1m1-32v1m0 26v1m0 4v1m0 16v1m1-23v1m0 4v1m0 13v1m1-49v2m0 2v1m0 23v1m1-27v1m0 27v1m0 1v1m1-31v1m0 42v1m1-16v1m0 2v1m0 16v1m1-21v1m0 1v2m0 14v1m1-20v1m0 3v2m1-56v1m0 21v3m0 27v2m0 14v1m1-19v1m0 4v1m0 16v1m1-50v1m0 27v1m0 2v2m0 12v1m1-46v1m0 49v1m1-74v1m0 49v2m0 2v1m0 17v1m1-50v2m0 27v3m0 18v1m1-24v2m0 2v1m0 13v1m1-19v1"/><path stroke="#07efef" d="M0.5 73v1m0 2v1m2-1v1m1-4v1m0 2v1m1-32v2m0 29v1m1-5v1m2 0v1m0 2v1m1-4v1m0 2v1m1-4v1m0 2v1m1-4v1m0 2v1m2-5v1m0 4v1m1-6v1m0 4v1m1-1v1m2-33v1m0 27v1m0 2v1m1-5v1m1 0v1m0 2v1m1-5v1m1-1v1m0 4v1m1-6v1m0 3v1m1-4v1m1-1v1m0 2v1m2-4v1m0 2v1m1-32v1m0 27v1m0 2v1m1-1v1m1-32v2m0 26v1m0 2v1m2-4v1m0 2v1m1-1v1m2-4v1m0 2v1m1-55v2m0 21v2m0 26v1m0 2v1m1-4v1m0 3v1m1-6v1m0 4v1m2-2v1m1-4v1m0 2v1m1-32v3m0 25v1m1 3v1m1-2v1m1-2v1m1-31v2m0 26v1m0 2v1m1-4v1m0 2v1m1-3v2m1-2v3m2-3v2m1-4v1m0 3v1m1-32v1m1-1v1m0 27v1m0 2v1m1-4v1m0 3v1m5-33v2m0 26v1m0 2v1m1-4v1m0 2v2m1-4v2m1-2v1m1-1v2m1-3v1m0 2v1m1-4v1m0 2v1m2-5v1m0 3v1m1-33v3m1 27v2m2-2v1m3-1v2m1-3v1m0 2v1m1-4v1m0 2v1m1-4v1m0 2v1m3-32v1m0 28v2m0 18v1m1-21v1m0 17v1m0 7v1m1-29v1m0 4v1m0 14v1m0 7v1m1-28v1m0 2v1m0 14v1m1-15v1m1-4v3m1-32v3m0 25v1m0 2v1m0 17v1m1-21v2m1 17v1m2 1v4m1-7v1m1-19v2m1-3v1m0 2v1m0 17v1m0 2v1m1-24v2m0 19v1m1-24v1m0 3v1m1-3v2m1-2v3m0 14v1m0 6v1m1-4v1m1-51v1m1-1v1m1 28v3m0 15v1m0 4v2m1-27v1m0 3v1m0 18v2m1-2v1m1-51v2m0 26v1m0 2v1m1-32v1m0 27v1m0 2v2m1-35v2m0 1v2m0 24v1m0 4v1m0 16v1m0 3v1m1-26v1m0 2v1m1-56v1m0 1v1m0 50v2m2 19v1m1-53v2m0 1v2m0 26v2m2-3v1m0 2v1m0 19v1m1-52v1m0 46v1m1-19v2m2-4v1m0 5v1m0 15v1m1-22v1m0 2v2m1-5v3m0 17v1m0 1v2m1-23v1m0 21v1m1-25v1m0 4v1m0 16v1m0 3v1m1-54v2m0 27v1m1-1v2m0 18v1m1-2v1m1-50v3m1 48v3m1-54v1m0 1v2m0 26v2m0 19v1m0 1v1m1-25v1m0 2v1m0 15v3m0 2v2m1-25v2m0 12v1m1-15v2m0 14v1m0 6v1m1-24v2m0 16v1m1-19v2m0 16v1m1-48v1m0 28v2m0 16v2m1 0v1m0 3v1m1-54v2m0 27v1m0 21v3m1-25v2m0 16v1m1-21v1m0 3v1m0 17v1m1-51v1m0 1v2m0 26v2m1-31v2m1-4v2m0 2v1m0 26v1m0 20v1m2-51v1m0 28v2m0 12v2m2-16v2m0 15v1m1-47v1m0 28v2m0 10v1m0 2v1m1-16v2m0 17v1m1-20v2m0 22v1m1-25v2m1 13v1m0 2v1m1-21v1m0 3v1m1-5v1m0 3v1m0 15v2m1-18v1m0 12v1m1-46v3m0 27v1m0 22v1m1-25v1m0 2v1m0 16v1m1-21v1m0 3v1m0 16v1m2-22v1m0 2v1m0 12v1m1-17v1m0 2v1m0 17v1m0 3v1m1-27v1m0 4v1m0 14v3m1-22v1m0 2v1m2-4v1m0 1v1m1-2v2m1-2v2m1-2v2m0 15v1m1-18v2m1-3v1m0 2v1m0 18v1m1-23v4m0 15v6m1-53v2m0 25v1m0 5v1m0 11v1m1-17v1m0 13v1m1 0v1m1-16v2m1-2v1m0 17v1m1-20v3m2-3v1m0 2v1m1-3v2m0 15v1m1-7v1m0 8v1m0 1v1m1-23v2m2-2v2m0 15v1m1-19v1m0 2v2"/><path stroke="#1cffda" d="M0.5 74v2m1-3v1m0 2v1m1-4v1m2-1v1m1 2v1m1-5v1m0 4v1m3-3v1m2-2v2m1 0v1m1-4v1m0 2v1m1-4v1m0 2v1m1-4v1m0 2v1m1-2v1m1-3v1m0 2v1m1-3v2m1 0v1m3-3v2m1-1v1m1-3v1m0 2v1m1-2v1m1-1v1m1-3v1m1 1v1m3-3v1m1-1v1m0 2v1m3-1v1m2-4v1m0 2v1m1-4v1m2 0v2m1-3v1m0 2v1m1-4v1m0 1v1m1-2v1m1 0v1m1-2v2m3-3v1m0 2v1m2-4v1m2 1v1m1-2v1m0 1v1m5-3v2m1-2v2m4-2v2m1-2v2m2-3v3m8-2v2m1-2v2m1-2v2m3 19v1m0 2v1m1 0v1m1-27v1m0 2v1m0 22v1m1-26v2m0 22v1m1-26v1m0 2v1m0 16v1m2-20v2m1 15v1m3-3v1m0 4v1m1-2v1m1-1v1m1-20v2m1 22v1m1-26v1m0 1v1m0 18v1m1 0v1m1-4v1m0 4v1m1-2v1m3-9v4m1-19v3m2-2v2m1-2v2m1-31v1m0 27v1m0 2v1m0 20v1m1-24v2m0 19v1m1-74v1m1 70v1m2-49v1m2 28v2m1 20v1m1-3v1m2-22v1m0 3v1m0 15v1m1-20v2m1 18v1m2-22v1m0 2v1m0 20v1m4-7v1m0 5v1m2-53v1m0 50v1m1-23v2m0 19v2m1-5v1m3 0v1m0 4v1m1-5v2m1-1v1m0 1v1m2-5v5m1-25v1m0 1v1m1-31v1m1 47v1m1-49v2m0 42v1m1 0v1m1-1v3m0 2v3m1-7v1m0 2v1m1-3v1m0 4v1m1-11v2m0 6v1m0 2v1m2-11v1m0 8v1m1-4v1m1-5v2m1-19v3m0 18v1m1-22v1m0 1v1m0 18v1m1-22v3m0 14v1m2-17v2m1-2v1m0 1v1m2-3v2m1-2v2m0 21v1m1-25v1m0 2v1m0 18v1m1-22v2m0 19v1m2-22v1m0 21v1m2-6v1m3-18v2m2-3v1m0 3v1m1 11v1m1 0v1m1 3v1m1-2v1m1-4v1m1 0v1m1-18v2m0 19v1m2-10v1m0 6v1m2 2v1m1-5v4m1-22v2"/><path stroke="#32ffc5" d="M1.5 75v1m1-2v2m1-2v2m1-2v2m1-3v1m2 0v2m1-2v2m1-2v1m1-1v2m2-3v1m3 0v2m1-2v1m1-1v2m2-3v1m1-1v1m0 2v1m1-4v1m0 1v1m2-2v1m1-1v2m1-2v1m1-1v1m1-1v2m1-2v1m2-1v2m1-2v2m2-2v2m1-2v2m1-2v2m1-3v1m0 2v1m2-3v2m1-2v2m3-2v1m2-1v1m4-1v2m2-2v2m2-2v1m1 0v1m26 20v2m2-24v2m0 17v1m1-2v1m1-19v2m0 18v1m0 2v1m1-3v1m1-1v1m2-2v1m2-5v1m0 2v1m3 1v2m1-1v2m1-24v1m1 21v1m1-4v4m6-1v1m3-23v2m0 19v2m1-1v1m3-1v1m0 1v1m4-6v1m3-20v3m0 10v1m4-14v2m0 19v1m8-7v3m1-1v1m3 4v1m1-1v1m2 1v1m1-25v1m3 15v1m0 3v1m2-2v2m1-3v2m1-1v1m0 1v2m1-1v2m5-3v1m0 1v1m1-24v1m0 20v1m1-5v3m2 0v1m1-20v1m0 19v1m1-2v1m1-5v1m1 4v1m1-22v2m0 20v1m4-3v1m1-3v1m2 1v1m1 1v1m2-23v3m0 14v1m1-2v3m1-2v3m5 2v1m0 1v1m1-7v1m0 3v1m1-5v1m0 4v1m1-3v1m2 0v2"/><path stroke="#47ffb0" d="M1.5 74v1m4-1v2m1-3v1m0 2v1m6-3v2m1-2v2m1-2v2m5-2v2m1-2v2m1-2v1m11-1v2m5-2v2m4-2v2m39 17v1m0 4v1m1-1v1m1-2v1m1-3v2m3-5v1m3-2v2m1 5v1m1-5v1m4 2v2m2-2v2m9-2v2m1-4v1m2 1v1m4-4v2m1 2v1m2-7v1m3 4v1m1-2v1m2-2v1m7 0v1m2-3v1m0 2v1m1-1v1m4-3v1m1-2v1m2-4v3m4 0v1m2-1v1m1-6v1m0 6v1m1-2v1m2 0v1m1-1v1m1-3v1m2 0v1m0 1v1m1-2v1m2-6v1m1 4v1m4 0v1m5-1v1m5-3v1m1-2v1m2-3v1m1 4v1m2-11v2m0 2v1m2 5v1"/><path stroke="#5cff9b" d="M6.5 74v2m30-2v2m45 18v1m0 2v1m1-5v1m4 3v1m4-4v1m12 2v1m6-4v1m6 0v1m2-8v1m8 3v1m0 3v1m5-5v1m1 0v1m1 1v2m7-3v1m2-4v1m0 4v1m6-7v2m0 2v2m5-1v2m2-1v1m1 0v1m2-6v3m3 1v1m4-4v1m1-2v1m4-1v1m1 0v1m1 0v1m2 0v1m1-5v1m0 5v1m1-5v2m2 0v1m1-7v2"/><path stroke="#71ff86" d="M80.5 94v1m0 2v1m1-3v2m1-3v1m0 1v1m2-1v1m1-1v1m1-4v1m0 2v1m1-2v1m3-1v1m0 1v1m4-3v1m22-7v3m6 4v1m0 1v1m1-5v1m1 0v1m5-3v1m0 1v1m1 2v1m6-3v1m1 1v1m1-1v1m8-7v2m1 2v1m8-2v1m1-1v1m2 1v1m13-2v2m2-2v1m1-2v1m2-3v2m2 1v1"/><path stroke="#86ff71" d="M80.5 95v2m2-2v1m3 1v2m1-5v2m4 0v1m1-2v1m16 0v1m0 1v1m1-1v1m6-3v2m8-1v1m2-5v2m5-1v1m8 0v1m0 1v1m1-3v3m7-3v1m11 0v1m2 1v1m1-2v1m3-3v1m1-2v1m1-2v1m1 1v1m4-2v1m3 1v2m2-2v1"/><path stroke="#9bff5c" d="M91.5 96v1m0 1v1m3-3v2m14-3v1m22-2v1m0 2v1m6-1v1m1-2v1m18-1v1m8 1v1m5-6v1m1 1v2m1-2v1m3-4v1m0 2v1"/><path stroke="#b0ff47" d="M84.5 97v1m3-2v1m4 0v1m16-1v1m16 0v1m7-4v2m10-5v1m0 2v1m5 0v1m17-1v1m1-2v1m1-2v1m9-2v2"/><path stroke="#c5ff32" d="M87.5 97v1m21-2v2m55-2v2m1-3v1m0 1v1m6-2v2"/><path stroke="#daff1c" d="M123.5 95v1m17-3v2m24 1v1m1-1v2m3-4v1m0 1v1"/><path stroke="#effe07" d="M168.5 95v1"/><path stroke="#ffe600" d="M123.5 96v2"/><path stroke="#ffce00" d="M77.5 98v1m1-1v1m1 0v1m4-2v1m1-1v1m1 0v1m1-2v1m1-1v1m1 0v1m1-1v1m2-1v1m3-2v1m2 0v1m2-2v1m4-1v1m1-1v1m7 0v1m3-2v1m1 0v1m1-2v1m1-1v1m6 0v1m1-1v1m1-2v1m1 0v1m1-2v1m1 0v1m1-2v1m1-1v1m3-1v1m4-1v1m1 0v1m2-2v1m1-2v1m1 0v1m1-1v1m1-1v1m1 0v1m1-3v1m1 1v1m1-3v1m1 0v1m1-1v1m1-2v1m1-1v1m1 0v1m1-1v1m1-1v1m1-2v1m1-1v1m1 1v1m1-1v1m1-2v1m1-1v1m1-1v1m1-2v1m1 1v1m1-2v1m1-1v1m1-1v1m1-1v1m1-2v1m1-1v1m1 0v1m1-1v1m1-1v1m1-1v1m1-2v1m1 1v1m1-3v1m1 0v1m1-2v1m1 0v1m2-1v1"/><path stroke="#800000" d="M77.5 99v10m1-10v10m1-9v9m4-10v10m1-10v10m1-9v9m1-10v10m1-10v10m1-9v9m1-9v9m2-9v9m1-10v10m1-10v10m1-10v10m1-10v10m1-9v9m1-10v10m1-10v10m1-10v10m1-10v10m1-11v11m1-10v10m1-10v10m1-10v10m1-10v10m1-10v10m1-10v10m1-10v10m1-10v10m1-9v9m1-11v11m1-11v11m1-10v10m1-9v9m1-10v10m1-10v10m1-10v10m1-11v11m1-11v11m1-10v10m1-10v10m1-9v9m1-9v9m1-10v10m1-9v9m1-10v10m1-9v9m1-10v10m1-10v10m1-10v10m1-10v10m1-10v10m1-10v10m1-10v10m1-10v10m1-10v10m1-9v9m1-10v10m1-10v10m1-11v11m1-10v10m1-10v10m1-10v10m1-9v9m1-11v11m1-9v9m1-11v11m1-10v10m1-10v10m1-11v11m1-11v11m1-10v10m1-10v10m1-10v10m1-11v11m1-11v11m1-9v9m1-9v9m1-10v10m1-10v10m1-10v10m1-11v11m1-9v9m1-10v10m1-10v10m1-10v10m1-10v10m1-11v11m1-11v11m1-10v10m1-10v10m1-10v10m1-10v10m1-11v11m1-9v9m1-11v11m1-10v10m1-11v11m1-10v10m1-11v11m1-10v10"/></g></g></g><rect x="852.4" y="1132" width="526.8000000000001" height="411" fill="none" stroke="#3a3a3a" stroke-width="0.9"/><line x1="849.1" y1="1543.00" x2="852.4" y2="1543.00" stroke="#222" stroke-width="0.9"/><text x="846.5" y="1552.70" font-size="27" text-anchor="end" fill="#111">0</text><line x1="849.1" y1="1460.80" x2="852.4" y2="1460.80" stroke="#222" stroke-width="0.9"/><text x="846.5" y="1470.50" font-size="27" text-anchor="end" fill="#111">2</text><line x1="849.1" y1="1378.60" x2="852.4" y2="1378.60" stroke="#222" stroke-width="0.9"/><text x="846.5" y="1388.30" font-size="27" text-anchor="end" fill="#111">4</text><line x1="849.1" y1="1296.40" x2="852.4" y2="1296.40" stroke="#222" stroke-width="0.9"/><text x="846.5" y="1306.10" font-size="27" text-anchor="end" fill="#111">6</text><line x1="849.1" y1="1214.20" x2="852.4" y2="1214.20" stroke="#222" stroke-width="0.9"/><text x="846.5" y="1223.90" font-size="27" text-anchor="end" fill="#111">8</text><line x1="849.1" y1="1132.00" x2="852.4" y2="1132.00" stroke="#222" stroke-width="0.9"/><text x="846.5" y="1141.70" font-size="27" text-anchor="end" fill="#111" textLength="31" lengthAdjust="spacing">10</text><line x1="852.40" y1="1543" x2="852.40" y2="1546.3" stroke="#222" stroke-width="0.9"/><text x="852.40" y="1570.20" font-size="27" text-anchor="middle" fill="#111">0</text><line x1="940.20" y1="1543" x2="940.20" y2="1546.3" stroke="#222" stroke-width="0.9"/><text x="940.20" y="1570.20" font-size="27" text-anchor="middle" fill="#111">5</text><line x1="1028.00" y1="1543" x2="1028.00" y2="1546.3" stroke="#222" stroke-width="0.9"/><text x="1012.50" y="1570.20" font-size="27" fill="#111" textLength="31" lengthAdjust="spacing">10</text><line x1="1115.80" y1="1543" x2="1115.80" y2="1546.3" stroke="#222" stroke-width="0.9"/><text x="1100.30" y="1570.20" font-size="27" fill="#111" textLength="31" lengthAdjust="spacing">15</text><line x1="1203.60" y1="1543" x2="1203.60" y2="1546.3" stroke="#222" stroke-width="0.9"/><text x="1188.10" y="1570.20" font-size="27" fill="#111" textLength="31" lengthAdjust="spacing">20</text><line x1="1291.40" y1="1543" x2="1291.40" y2="1546.3" stroke="#222" stroke-width="0.9"/><text x="1275.90" y="1570.20" font-size="27" fill="#111" textLength="31" lengthAdjust="spacing">25</text><text x="1042.80" y="1602.30" font-size="32.5" fill="#111" textLength="146" lengthAdjust="spacingAndGlyphs">Time (ps)</text><text transform="translate(801.5,1370.50) rotate(-90)" font-size="32.5" fill="#111" textLength="66" lengthAdjust="spacingAndGlyphs"><tspan font-style="italic">r</tspan> (Å)</text><rect x="1411.2" y="1132" width="21.59999999999991" height="411" fill="url(#jetg)" stroke="#555" stroke-width="0.8"/><line x1="1432.8" y1="1543.00" x2="1436.1" y2="1543.00" stroke="#222" stroke-width="0.9"/><text x="1438.6" y="1552.70" font-size="27" fill="#111">0</text><line x1="1432.8" y1="1440.25" x2="1436.1" y2="1440.25" stroke="#222" stroke-width="0.9"/><text x="1438.6" y="1449.95" font-size="27" fill="#111">1</text><line x1="1432.8" y1="1337.50" x2="1436.1" y2="1337.50" stroke="#222" stroke-width="0.9"/><text x="1438.6" y="1347.20" font-size="27" fill="#111">2</text><line x1="1432.8" y1="1234.75" x2="1436.1" y2="1234.75" stroke="#222" stroke-width="0.9"/><text x="1438.6" y="1244.45" font-size="27" fill="#111">3</text><line x1="1432.8" y1="1132.00" x2="1436.1" y2="1132.00" stroke="#222" stroke-width="0.9"/><text x="1438.6" y="1141.70" font-size="27" fill="#111">4</text><text transform="translate(1482.4,1385.10) rotate(-90)" font-size="32.5" fill="#111" font-style="italic" textLength="95" lengthAdjust="spacingAndGlyphs">G<tspan dy="6" font-size="22">d</tspan><tspan dy="-6">(t,r)</tspan></text><text x="743" y="1126" font-size="41" font-weight="bold">f</text>
</svg>
</body></html>
